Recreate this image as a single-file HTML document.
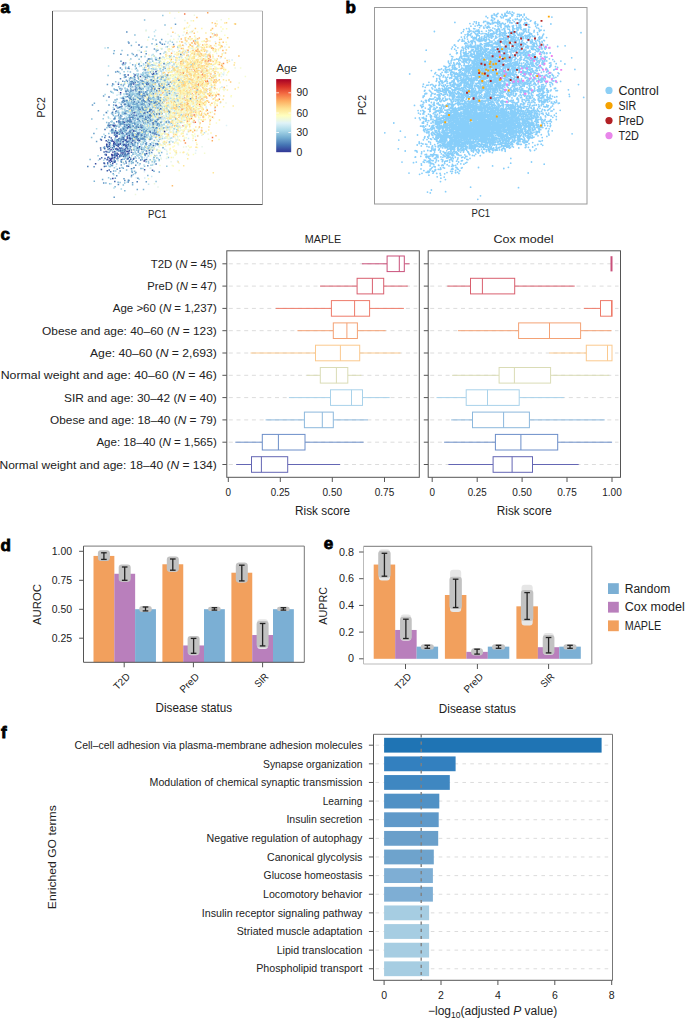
<!DOCTYPE html><html><head><meta charset="utf-8"><style>html,body{margin:0;padding:0;background:#fff;}svg{display:block;}</style></head><body><svg width="685" height="1020" viewBox="0 0 685 1020" font-family='"Liberation Sans", sans-serif' fill="#222"><rect width="685" height="1020" fill="#fff"/><text x="0.6" y="12.6" font-size="17" font-weight="bold" fill="#000" stroke="#000" stroke-width="0.8">a</text>
<text x="345.4" y="12.8" font-size="17" font-weight="bold" fill="#000" stroke="#000" stroke-width="0.8">b</text>
<text x="0.6" y="240.4" font-size="17" font-weight="bold" fill="#000" stroke="#000" stroke-width="0.8">c</text>
<text x="0.6" y="550.8" font-size="17" font-weight="bold" fill="#000" stroke="#000" stroke-width="0.8">d</text>
<text x="323.8" y="549.3" font-size="17" font-weight="bold" fill="#000" stroke="#000" stroke-width="0.8">e</text>
<text x="1.0" y="737.8" font-size="17" font-weight="bold" fill="#000" stroke="#000" stroke-width="0.8">f</text>
<path stroke="#fca45c" stroke-width="1.5" stroke-linecap="square" d="M180.3 72.4h0M213.4 69.1h0M176.3 57.7h0M200.9 85.7h0M197.5 49.7h0M208.8 73.2h0M197.7 135.8h0M207.7 12.7h0M215.4 80.9h0M208.5 81.7h0M195.1 74.3h0M184.2 76.9h0M182.4 63.7h0M191.0 75.1h0M185.4 99.9h0M212.3 95.6h0M188.6 83.5h0M196.3 98.2h0M186.9 32.9h0M188.7 105.7h0M188.3 105.4h0M175.0 113.8h0M171.1 101.3h0M189.0 79.0h0M180.8 65.6h0M188.5 69.0h0M221.5 65.6h0M166.7 100.8h0M202.0 55.0h0M183.5 84.4h0M174.8 68.2h0M187.8 96.1h0M198.2 62.0h0M203.2 117.1h0M187.2 102.8h0M195.7 71.4h0M192.1 93.4h0M189.8 87.7h0M183.6 108.6h0M194.7 94.8h0M186.1 78.8h0M178.8 84.4h0M183.6 130.7h0M217.0 35.1h0M195.6 43.8h0M199.3 80.6h0M189.2 107.5h0M190.4 110.8h0M187.6 99.4h0M197.9 73.2h0M219.6 62.5h0M193.5 103.7h0M174.1 46.5h0M212.6 117.2h0M183.0 52.8h0M194.1 94.8h0M179.8 88.2h0M210.3 120.0h0M199.3 64.9h0M210.7 46.0h0M207.4 80.4h0M196.3 60.5h0M155.3 94.1h0M188.1 77.7h0M207.5 40.7h0M208.2 58.8h0M190.8 110.8h0M183.0 52.1h0M164.3 112.1h0M190.3 45.0h0M194.5 92.0h0M161.9 74.4h0M187.6 81.8h0M208.1 55.0h0"/>
<path stroke="#eb5b3b" stroke-width="1.5" stroke-linecap="square" d="M191.6 101.9h0M184.9 51.6h0M212.1 48.2h0M176.2 111.6h0M204.4 90.8h0M184.2 97.7h0M194.1 69.1h0M193.0 63.9h0M180.3 75.3h0M183.2 125.7h0"/>
<path stroke="#f7864f" stroke-width="1.5" stroke-linecap="square" d="M194.7 70.0h0M176.9 81.1h0M189.7 69.5h0M196.9 102.0h0M215.1 110.5h0M189.4 79.9h0M204.7 92.5h0M207.5 71.1h0M210.2 60.8h0M198.9 67.2h0M202.2 77.4h0M192.6 88.8h0M214.4 76.6h0M205.9 76.7h0M215.0 34.9h0M177.9 93.4h0M223.5 63.5h0M187.4 92.3h0M169.4 55.7h0M216.0 95.8h0M191.6 109.9h0M200.1 56.3h0M218.7 94.4h0M196.5 89.2h0M219.3 99.3h0M202.5 84.1h0M193.6 41.1h0"/>
<path stroke="#de3f2e" stroke-width="1.5" stroke-linecap="square" d="M209.8 55.4h0M201.3 98.7h0M208.1 60.8h0"/>
<path stroke="#d83128" stroke-width="1.5" stroke-linecap="square" d="M182.3 92.1h0M174.4 94.8h0M197.2 91.9h0"/>
<path stroke="#dff2f8" stroke-width="1.5" stroke-linecap="square" d="M155.3 82.8h0M140.1 134.4h0M145.5 101.2h0M155.8 100.1h0M229.1 59.8h0M195.9 86.3h0M168.7 79.5h0M169.6 44.5h0M197.9 115.2h0M149.0 110.2h0M129.8 114.0h0M174.0 84.3h0M199.3 96.7h0M159.5 78.1h0M190.6 112.3h0M166.0 123.3h0M161.3 130.0h0M169.8 86.4h0M194.4 115.1h0M168.4 86.4h0M171.8 127.7h0M141.1 137.4h0M174.7 105.4h0M170.2 144.2h0M169.1 115.4h0M151.8 96.3h0M189.6 113.0h0M199.7 81.2h0M146.8 133.1h0M189.2 76.1h0M150.3 131.8h0M157.5 93.1h0M138.5 150.6h0M226.5 125.6h0M155.9 142.2h0M190.7 81.8h0M173.0 96.5h0M170.2 92.0h0M175.8 121.0h0M156.5 75.6h0M165.0 90.3h0M155.2 122.6h0M158.2 110.7h0M183.9 97.9h0M195.0 109.5h0M183.6 45.7h0M167.8 96.5h0M206.2 107.4h0M145.1 100.7h0M167.0 96.1h0M157.2 90.3h0M223.9 73.0h0M145.7 151.3h0M200.9 63.2h0M205.3 44.8h0M177.9 92.8h0M143.5 64.9h0M147.1 117.7h0M158.4 97.0h0M133.6 145.4h0M161.8 74.6h0M178.8 70.4h0M175.1 104.3h0M141.6 113.1h0M171.7 83.0h0M183.6 52.4h0M196.8 106.4h0M157.8 108.5h0M135.8 101.1h0M163.9 116.3h0M167.3 69.8h0M159.4 88.3h0M149.3 60.8h0M170.5 89.9h0M195.9 150.5h0M214.4 59.1h0M146.6 119.8h0M145.4 114.0h0M186.7 154.2h0M162.4 74.0h0M203.6 69.7h0M155.8 113.5h0M135.6 104.0h0M188.1 65.4h0M155.1 57.6h0M158.8 93.6h0M136.2 74.4h0M172.4 109.8h0M134.3 85.6h0M146.4 108.1h0M179.5 74.5h0M146.0 136.8h0M166.5 150.2h0M169.8 131.5h0M173.5 93.0h0M153.1 104.7h0M154.2 135.6h0M150.5 132.8h0M154.4 122.5h0M167.3 137.8h0M145.8 47.0h0M158.8 116.7h0M132.1 108.5h0M131.5 85.3h0M176.9 108.6h0M151.1 127.3h0M182.8 87.8h0M181.6 120.5h0M191.5 113.7h0M152.8 93.2h0M166.2 125.9h0M106.9 127.3h0M152.9 89.8h0M153.9 100.5h0M191.6 58.3h0M134.6 119.0h0M169.2 66.8h0M174.4 75.0h0M121.2 87.1h0M142.5 106.4h0M129.6 115.9h0M157.2 105.0h0M179.2 47.7h0M201.9 47.7h0M203.7 99.9h0M137.3 142.8h0M167.3 96.8h0M155.8 82.8h0M208.8 81.6h0M147.8 151.7h0M178.0 69.5h0M161.9 114.8h0M192.8 87.8h0M161.5 94.5h0M194.1 53.9h0M165.2 111.0h0M166.9 95.9h0M184.4 62.7h0M144.4 171.7h0M196.7 130.8h0M148.3 115.4h0M195.3 136.5h0M175.5 127.7h0M140.0 92.3h0M149.0 77.9h0M124.8 130.2h0M128.9 127.0h0M127.8 137.8h0M147.6 100.9h0M153.9 157.1h0M177.0 88.4h0M128.4 138.0h0M150.2 109.4h0M212.4 68.9h0M159.8 135.7h0M182.5 87.1h0M194.0 122.7h0M166.4 109.4h0M171.8 105.4h0M183.1 35.3h0M118.3 94.4h0M206.7 109.0h0M145.2 110.9h0M150.4 148.3h0M166.5 158.4h0M166.1 76.6h0M140.7 88.6h0M164.2 89.1h0M145.9 137.8h0M183.4 85.8h0M212.7 69.6h0M138.5 154.9h0M209.2 63.2h0M142.8 91.4h0M172.7 86.2h0M152.9 113.8h0M138.1 138.9h0M188.2 85.1h0M170.1 108.5h0M172.6 51.0h0M158.1 134.3h0M156.5 66.1h0M167.8 80.2h0M166.5 104.4h0M136.4 92.8h0M152.3 90.4h0M166.0 81.8h0M157.6 111.3h0M215.3 41.8h0M169.9 100.8h0M143.1 78.2h0M160.2 110.9h0M170.8 92.8h0M180.1 118.8h0M181.2 78.6h0M173.2 124.7h0M197.7 83.7h0M171.6 126.4h0M162.4 90.6h0M177.8 75.1h0M204.3 86.7h0M172.9 97.7h0M183.8 90.7h0M176.2 110.8h0M148.9 111.7h0M185.5 94.3h0M136.2 177.7h0M176.7 95.4h0M151.3 79.7h0M168.9 90.7h0M185.9 104.4h0M145.5 150.0h0M143.9 148.0h0M174.7 18.2h0M167.4 98.5h0M170.3 101.0h0M196.3 60.4h0M177.8 127.6h0M150.9 85.6h0M137.2 81.3h0M201.3 57.9h0M176.2 114.8h0M118.7 102.8h0M175.0 129.3h0M150.3 117.9h0M180.9 98.4h0M160.4 113.5h0M169.6 93.4h0M188.4 104.8h0M144.5 87.3h0M129.4 160.7h0M143.5 95.2h0M153.1 131.9h0M126.8 142.1h0M161.7 138.8h0M178.4 144.7h0M128.8 85.9h0M143.9 75.7h0M202.1 79.1h0M157.1 70.9h0M158.4 80.3h0M171.4 59.2h0M164.5 68.4h0M169.5 118.8h0M156.7 142.4h0M184.8 71.4h0M151.2 132.8h0M158.9 122.8h0M180.7 77.7h0M210.6 92.4h0M177.9 97.8h0M155.4 112.5h0M163.7 98.0h0M159.2 67.8h0M197.0 64.4h0M151.7 58.6h0M134.5 119.2h0M133.1 150.1h0M185.2 75.0h0M131.9 103.0h0M153.0 101.0h0M197.5 66.8h0M156.5 103.4h0M169.8 97.2h0M164.6 92.3h0M145.8 127.2h0M178.7 104.4h0M168.9 102.6h0M124.5 94.7h0M183.9 95.3h0M211.6 97.0h0M166.0 142.9h0M169.7 98.6h0M174.4 81.5h0M166.5 122.6h0M201.5 60.0h0M186.6 77.1h0M148.9 141.6h0M159.8 82.7h0M175.0 118.3h0"/>
<path stroke="#4676b5" stroke-width="1.5" stroke-linecap="square" d="M133.7 110.5h0M128.9 43.1h0M147.9 97.1h0M130.8 97.8h0M147.9 84.8h0M156.7 98.0h0M150.6 84.7h0M135.4 107.8h0M137.2 148.3h0M151.1 82.1h0M124.9 154.5h0M152.6 150.1h0M107.7 162.7h0M140.7 159.9h0M114.7 156.2h0M144.6 129.2h0M139.4 92.5h0M107.1 151.9h0M128.2 182.1h0M117.8 145.4h0M141.6 116.6h0M135.1 146.1h0M157.0 125.6h0M130.9 114.1h0M112.6 147.8h0M151.2 94.1h0M133.0 116.9h0M119.0 144.9h0M114.6 162.2h0M148.2 101.1h0M136.0 134.1h0M154.2 126.1h0M124.9 110.1h0M167.6 127.6h0M127.5 90.6h0M120.9 156.1h0M128.3 158.7h0M120.5 154.7h0M151.7 152.5h0M129.9 106.1h0M109.0 146.3h0M143.6 81.6h0M137.2 181.8h0M128.5 166.3h0M132.0 96.3h0M154.3 127.1h0M146.0 83.3h0M114.2 160.1h0M120.6 150.3h0M119.7 137.9h0M135.4 82.8h0M115.8 111.8h0M145.1 82.3h0M156.1 164.0h0M133.5 137.1h0M125.9 91.2h0M131.7 102.1h0M116.6 148.4h0M140.3 95.7h0M126.9 166.1h0M141.2 134.9h0M107.7 147.5h0M129.6 100.4h0M151.3 120.8h0M105.9 166.2h0M133.1 135.6h0M123.0 119.4h0M148.2 131.5h0M139.5 98.8h0M121.2 161.3h0M145.0 160.0h0M136.3 118.4h0M105.0 129.5h0M123.4 133.2h0M159.0 123.3h0M124.8 77.3h0M104.8 137.6h0M145.6 91.9h0M136.9 139.7h0M154.3 130.4h0M121.8 149.3h0M146.5 159.4h0M117.2 136.6h0M127.3 96.6h0M174.3 102.0h0M132.6 129.4h0M115.3 161.1h0M138.4 100.9h0M140.8 81.8h0M144.0 93.6h0M107.7 163.7h0M112.7 84.0h0M131.9 83.2h0M131.6 121.5h0M110.3 162.4h0M110.5 150.7h0M129.2 161.4h0M126.2 162.9h0M110.7 171.7h0M117.1 158.7h0M165.1 99.4h0M160.1 122.4h0M146.3 144.2h0M144.6 107.9h0M108.0 141.8h0M150.3 119.7h0M133.4 159.2h0M144.3 96.1h0M152.9 120.2h0M136.3 126.4h0M135.1 118.3h0M137.7 139.4h0M131.2 123.1h0M125.3 148.4h0M116.7 121.7h0M174.0 100.8h0M153.6 86.5h0M176.4 106.0h0M161.4 77.7h0"/>
<path stroke="#cd2627" stroke-width="1.5" stroke-linecap="square" d="M198.3 77.1h0"/>
<path stroke="#669cc8" stroke-width="1.5" stroke-linecap="square" d="M129.3 109.5h0M154.8 156.0h0M143.8 116.4h0M112.6 114.1h0M133.2 152.7h0M132.9 118.1h0M137.4 122.2h0M133.5 131.0h0M150.4 121.1h0M140.3 98.5h0M131.9 126.1h0M148.5 112.1h0M130.5 117.4h0M120.4 118.6h0M133.9 130.0h0M144.2 104.8h0M112.0 133.1h0M140.4 135.7h0M146.5 103.6h0M141.3 52.2h0M154.9 111.1h0M124.3 98.9h0M116.7 140.0h0M151.9 109.1h0M145.3 155.4h0M136.9 104.9h0M134.0 103.2h0M135.6 123.9h0M136.8 150.0h0M143.3 129.7h0M181.1 103.7h0M158.2 88.3h0M137.8 110.5h0M161.3 105.7h0M145.8 75.8h0M122.5 64.2h0M166.1 95.0h0M151.3 134.4h0M132.2 116.0h0M150.1 131.7h0M152.9 120.2h0M175.1 94.5h0M142.8 121.0h0M150.0 120.4h0M103.6 96.0h0M148.5 129.7h0M142.6 89.6h0M144.3 85.2h0M127.0 118.6h0M133.6 98.8h0M123.3 119.1h0M137.9 156.2h0M151.4 120.4h0M141.5 149.3h0M115.7 72.1h0M136.1 109.5h0M122.9 137.4h0M121.2 104.3h0M129.7 78.4h0M159.4 58.7h0M117.2 169.3h0M121.7 156.2h0M154.0 106.5h0M146.5 142.7h0M126.9 89.0h0M129.4 134.7h0M152.5 92.4h0M121.9 89.1h0M133.4 119.3h0M147.8 94.8h0M151.9 108.8h0M127.0 106.3h0M153.6 125.4h0M156.2 96.8h0M124.0 178.8h0M146.5 109.1h0M139.2 88.9h0M135.1 124.8h0M122.3 128.8h0M133.5 127.4h0M153.4 106.1h0M157.8 97.1h0M139.3 147.8h0M118.3 111.9h0M153.8 124.8h0M138.3 105.1h0M145.3 147.2h0M156.9 113.8h0M148.1 103.0h0M120.3 132.7h0M114.7 161.0h0M92.5 104.9h0M129.4 137.9h0M130.5 119.9h0M119.9 138.7h0M139.3 83.8h0M143.0 103.0h0M135.1 102.0h0M132.6 182.8h0M173.6 44.5h0M134.0 108.9h0M144.9 94.0h0M125.3 153.1h0M137.6 107.2h0M135.5 140.6h0M125.8 96.9h0M128.5 86.5h0M120.5 117.3h0M139.2 141.4h0M116.7 132.3h0M133.1 126.2h0M123.4 139.5h0M115.9 105.4h0M110.3 143.2h0M123.4 85.2h0M142.0 131.4h0M121.9 151.7h0M133.6 123.2h0M114.2 197.3h0M132.2 172.2h0M134.8 77.4h0M130.1 108.8h0M158.5 141.3h0M137.9 125.0h0M135.9 172.6h0M152.5 110.3h0M157.8 50.2h0M130.0 92.3h0M119.4 124.1h0M144.5 86.8h0M149.0 103.3h0M148.0 64.0h0M152.8 147.3h0M121.3 165.0h0M115.3 178.2h0M122.8 81.3h0M154.4 49.0h0M145.8 72.6h0M131.9 106.8h0M131.4 90.9h0M146.3 181.7h0M147.4 123.7h0M125.1 88.2h0M146.4 126.0h0M141.3 117.4h0M163.1 69.8h0M154.6 125.7h0M136.3 68.2h0M125.7 156.8h0M131.0 128.4h0M129.8 117.0h0M140.0 133.1h0M125.8 161.3h0M149.9 102.9h0M105.4 135.8h0M129.9 92.8h0M118.8 122.5h0M162.5 87.3h0M141.1 112.2h0M137.7 126.5h0M134.7 145.4h0M131.7 138.5h0M100.6 139.2h0M119.0 126.9h0M122.9 145.6h0M117.1 125.8h0M159.2 106.3h0M138.6 126.8h0M151.6 87.2h0M118.3 115.8h0M144.5 97.0h0M121.5 148.6h0M145.2 111.0h0M154.8 126.4h0M175.5 24.3h0M131.6 81.6h0M174.7 79.8h0M134.9 139.0h0M128.0 145.2h0M130.4 129.6h0M147.2 124.3h0M96.6 141.5h0M140.6 111.6h0M130.9 143.8h0M116.1 141.3h0M154.3 74.4h0M161.9 103.8h0M98.4 110.7h0M156.0 120.5h0M130.7 88.0h0M141.8 126.0h0M160.1 122.5h0M152.4 147.6h0M151.5 113.8h0M141.4 138.8h0M150.3 95.7h0M156.6 44.2h0M145.0 130.9h0M157.3 73.8h0M123.2 141.3h0M128.6 138.6h0M165.1 68.2h0M142.3 107.7h0M160.7 87.6h0M111.7 165.4h0M147.3 60.9h0M143.7 126.4h0M113.7 104.9h0M132.6 87.1h0M112.2 132.5h0M149.3 93.8h0M145.8 101.0h0M120.9 106.7h0M149.4 152.7h0M130.4 92.5h0M115.7 134.3h0M153.1 133.6h0M143.1 128.1h0M130.8 89.2h0M137.8 156.0h0M153.4 123.8h0M164.8 128.0h0M121.0 61.2h0M93.9 133.6h0M132.7 126.9h0M145.0 108.2h0M114.9 89.7h0M127.3 148.1h0M143.1 113.3h0M109.0 104.9h0M114.6 153.2h0M121.4 162.2h0M140.0 153.6h0M136.5 92.0h0M155.7 137.4h0M152.0 65.0h0M150.7 145.3h0M156.1 122.4h0M142.3 97.9h0M132.4 78.4h0M149.8 118.8h0M107.4 84.6h0M152.7 119.9h0M159.6 96.9h0M140.2 120.1h0M129.1 138.7h0M133.2 115.7h0M134.8 122.7h0M127.0 118.4h0M135.0 141.1h0M147.5 107.8h0"/>
<path stroke="#96c8e0" stroke-width="1.5" stroke-linecap="square" d="M139.8 108.5h0M148.7 68.5h0M140.9 98.6h0M151.9 136.5h0M150.2 109.5h0M136.8 122.7h0M133.6 108.0h0M117.9 132.2h0M103.2 118.7h0M126.9 134.3h0M187.9 95.4h0M126.8 121.2h0M159.2 62.5h0M136.8 114.9h0M154.9 102.9h0M138.5 127.3h0M150.0 77.0h0M145.3 94.4h0M157.4 93.9h0M124.1 128.5h0M145.2 73.4h0M136.8 132.2h0M132.8 99.0h0M154.1 111.6h0M103.8 114.9h0M136.2 126.8h0M118.6 82.4h0M151.4 68.8h0M132.6 92.0h0M143.4 82.6h0M135.5 65.1h0M152.5 105.0h0M114.4 167.8h0M139.4 116.6h0M137.8 122.2h0M129.4 108.2h0M149.6 62.8h0M133.6 91.0h0M176.5 131.9h0M142.6 112.6h0M154.4 75.9h0M125.1 132.2h0M179.1 107.9h0M146.5 93.7h0M158.7 103.9h0M172.4 42.2h0M141.6 106.9h0M162.8 15.5h0M145.9 114.3h0M145.9 144.5h0M159.5 119.0h0M145.3 143.6h0M169.8 122.8h0M121.3 139.4h0M115.7 81.8h0M175.7 78.0h0M152.6 89.9h0M117.1 132.6h0M138.1 107.2h0M128.2 104.0h0M154.4 162.2h0M137.4 119.6h0M151.8 119.1h0M157.4 70.7h0M142.8 144.2h0M133.3 145.6h0M141.6 109.6h0M133.8 123.0h0M127.9 114.7h0M145.0 85.0h0M130.4 91.1h0M170.4 88.3h0M147.7 131.2h0M176.4 81.8h0M120.3 73.4h0M131.7 155.7h0M137.7 70.9h0M156.0 92.5h0M170.9 75.3h0M148.8 98.3h0M122.0 50.4h0M117.7 141.8h0M139.6 93.1h0M127.8 154.3h0M122.4 155.9h0M123.0 150.2h0M143.6 120.6h0M139.3 102.5h0M147.8 115.6h0M144.1 128.5h0M147.4 120.5h0M135.6 118.4h0M137.7 115.2h0M124.3 163.9h0M154.1 102.6h0M153.7 120.7h0M134.7 141.7h0M141.3 106.5h0M138.4 124.3h0M171.9 90.3h0M117.1 112.5h0M160.9 112.3h0M148.9 107.0h0M139.3 126.1h0M169.5 92.2h0M155.0 64.9h0M130.7 91.5h0M148.8 83.7h0M121.3 121.8h0M158.9 110.5h0M108.6 177.8h0M135.6 75.6h0M153.1 97.2h0M115.1 138.3h0M151.0 165.2h0M141.1 122.5h0M148.3 87.3h0M135.0 111.4h0M142.7 93.0h0M122.9 143.6h0M152.8 61.2h0M117.4 154.7h0M141.0 144.3h0M149.3 99.5h0M147.5 83.3h0M141.7 104.0h0M117.0 131.7h0M159.3 87.8h0M156.5 69.0h0M116.6 164.0h0M156.7 82.6h0M132.1 94.5h0M152.2 59.6h0M144.6 67.4h0M164.6 111.6h0M143.5 83.7h0M138.0 88.8h0M161.7 121.8h0M150.0 111.5h0M115.7 171.1h0M139.2 148.5h0M144.7 146.2h0M145.1 72.4h0M126.8 127.1h0M141.4 100.4h0M148.4 161.4h0M144.5 113.1h0M139.0 155.0h0M122.9 135.8h0M121.9 118.9h0M135.5 152.5h0M159.3 104.6h0M131.1 137.1h0M141.3 112.0h0M155.3 83.5h0M144.3 116.3h0M128.0 132.6h0M139.1 96.6h0M144.9 93.2h0M144.1 69.3h0M135.3 66.4h0M123.4 112.2h0M126.5 125.2h0M166.8 166.3h0M129.7 121.5h0M137.2 89.3h0M151.9 134.3h0M141.1 104.8h0M122.7 134.1h0M152.6 87.7h0M148.3 148.7h0M133.8 81.1h0M140.5 155.3h0M154.1 95.5h0M131.4 176.8h0M151.9 113.7h0M149.0 138.9h0M161.2 109.7h0M130.4 93.2h0M139.1 88.5h0M127.9 137.8h0M146.5 116.0h0M167.1 106.1h0M168.6 68.4h0M125.3 132.3h0M151.4 102.2h0M145.8 128.5h0M132.7 137.1h0M133.7 73.8h0M137.8 121.4h0M143.3 69.4h0M158.1 60.2h0M120.1 182.4h0M141.2 114.1h0M123.6 127.6h0M153.9 96.7h0M169.1 93.3h0M114.8 131.4h0M148.0 59.3h0M142.9 99.4h0M147.0 146.7h0M132.3 126.9h0M179.1 85.1h0M141.6 135.9h0M144.6 120.4h0M138.5 101.2h0M161.0 80.1h0M116.8 150.8h0M144.4 135.2h0M174.1 98.4h0M124.9 122.4h0M124.9 140.7h0M156.4 107.1h0M142.8 114.5h0M154.0 102.2h0M127.8 133.6h0M175.5 82.2h0M146.4 75.9h0M137.3 118.7h0M156.8 106.9h0M119.1 112.9h0M136.6 130.0h0M177.4 97.5h0M121.3 118.7h0M144.7 127.4h0M141.7 106.8h0M98.1 155.8h0M128.1 138.3h0M171.6 101.7h0M161.5 91.3h0M140.1 117.4h0M156.5 51.6h0M138.3 74.2h0M167.0 117.5h0M165.0 94.1h0M155.5 100.6h0M136.7 94.3h0M144.9 136.4h0M133.6 99.4h0M124.1 108.7h0M156.2 122.6h0M168.4 157.5h0M138.3 74.1h0M123.1 128.8h0M147.5 89.1h0M141.1 156.2h0M144.4 102.0h0M106.9 127.7h0M134.0 110.8h0M116.4 133.9h0M161.1 71.3h0M125.7 129.0h0M147.1 137.6h0M149.7 112.8h0M148.3 120.7h0M147.7 82.2h0M119.7 134.3h0M158.1 66.2h0M128.8 66.7h0M136.7 112.9h0M147.1 114.2h0M136.5 115.2h0M138.1 82.4h0M145.2 111.4h0M162.2 106.4h0M172.5 125.2h0M168.8 70.2h0M125.6 67.3h0M154.3 128.0h0M159.9 90.6h0M149.6 119.9h0M134.8 147.0h0M139.3 121.6h0M177.7 123.0h0M165.1 106.8h0M130.1 123.5h0M127.5 144.7h0M151.5 119.8h0M142.3 110.3h0M120.1 123.6h0M140.3 127.0h0M156.8 82.1h0M141.8 111.2h0M149.9 89.9h0M131.6 103.0h0M139.3 63.5h0M150.5 122.8h0M139.1 112.0h0M130.0 90.6h0M127.7 108.1h0M136.9 155.6h0M124.1 71.7h0M124.2 131.4h0M162.1 108.3h0M136.4 128.6h0M161.0 107.1h0M165.4 88.3h0M133.1 94.2h0M137.6 119.2h0M129.1 135.3h0M145.8 103.0h0"/>
<path stroke="#f57748" stroke-width="1.5" stroke-linecap="square" d="M188.4 87.6h0M197.2 79.0h0M189.3 91.2h0M193.1 122.1h0M179.3 102.7h0M211.9 77.7h0M201.6 130.6h0M199.0 94.5h0M192.4 46.4h0M197.2 92.6h0M195.2 43.6h0M154.6 108.2h0M212.5 137.6h0M184.7 13.9h0M209.9 93.3h0M191.5 118.5h0M207.5 81.7h0M194.3 88.3h0M202.3 66.2h0M180.1 79.6h0M183.6 114.2h0"/>
<path stroke="#fec87a" stroke-width="1.5" stroke-linecap="square" d="M194.3 81.2h0M198.2 60.7h0M221.0 68.5h0M174.8 89.2h0M157.4 103.0h0M211.9 103.2h0M188.8 103.6h0M192.0 58.4h0M186.5 65.2h0M173.6 76.1h0M193.0 61.1h0M187.3 119.3h0M169.8 129.5h0M215.1 107.4h0M182.4 65.6h0M192.0 102.2h0M175.1 115.7h0M193.6 111.5h0M222.2 67.9h0M195.4 91.5h0M216.0 135.7h0M169.6 68.4h0M193.4 88.0h0M206.8 44.6h0M204.6 85.8h0M227.1 60.5h0M173.2 107.2h0M200.1 123.0h0M183.2 136.2h0M198.0 74.0h0M194.9 91.9h0M172.4 99.9h0M168.5 103.0h0M178.2 89.6h0M169.9 102.7h0M203.4 116.2h0M205.8 101.8h0M215.6 51.3h0M211.5 47.8h0M219.3 79.8h0M206.8 62.1h0M168.4 72.7h0M178.6 62.7h0M192.1 31.6h0M187.8 110.7h0M201.3 50.3h0M182.5 77.3h0M183.7 96.2h0M207.9 93.7h0M223.2 42.2h0M203.3 92.5h0M185.4 39.9h0M204.5 51.3h0M201.4 81.1h0M191.8 81.7h0M199.9 84.0h0M195.2 88.0h0M192.1 67.0h0M175.5 125.1h0M199.0 70.8h0M198.0 68.3h0M238.9 56.0h0M184.6 81.9h0M173.3 81.7h0M197.5 82.4h0M203.2 78.7h0M206.1 75.7h0M199.2 76.9h0M204.9 62.7h0M193.9 112.4h0M188.8 101.0h0M209.4 72.4h0M175.0 95.0h0M211.5 87.4h0M215.2 23.4h0M205.8 76.7h0M192.7 64.6h0M182.7 96.9h0M206.1 41.8h0M205.3 104.5h0M217.0 81.0h0M218.6 56.1h0M189.8 63.8h0M183.8 82.9h0M164.2 130.9h0M214.5 87.5h0M187.5 62.5h0M195.7 69.2h0M197.8 42.0h0M198.5 93.2h0M173.7 134.3h0M204.4 67.7h0M190.3 108.0h0M205.4 78.2h0M160.8 126.3h0M230.6 82.0h0M194.6 77.3h0M197.1 103.3h0M215.8 43.4h0M200.1 102.8h0M200.0 96.0h0M181.2 94.9h0M199.3 38.1h0M195.2 91.2h0M195.8 99.0h0M200.1 71.4h0M186.7 67.6h0M196.8 84.3h0M182.8 114.7h0M166.8 75.4h0M225.5 53.1h0M184.0 112.4h0M173.5 112.8h0M191.6 61.9h0M194.3 33.2h0M209.3 78.4h0M163.9 66.8h0M193.0 62.7h0M173.4 106.1h0M191.5 115.5h0M192.9 84.4h0M185.5 75.3h0M191.7 83.6h0M172.9 32.3h0M216.0 100.3h0"/>
<path stroke="#7db4d5" stroke-width="1.5" stroke-linecap="square" d="M121.1 90.3h0M149.4 107.0h0M141.8 98.9h0M147.8 128.7h0M133.4 106.0h0M134.9 81.2h0M137.7 144.9h0M126.4 110.9h0M142.9 97.0h0M177.9 47.1h0M138.6 148.1h0M143.3 106.0h0M161.4 134.9h0M152.3 92.7h0M145.3 115.6h0M166.3 137.5h0M168.1 119.9h0M120.9 124.6h0M136.6 80.7h0M157.5 107.9h0M150.6 130.4h0M147.6 84.6h0M147.6 75.2h0M137.5 118.6h0M114.3 50.8h0M150.5 145.2h0M147.2 118.2h0M121.5 139.5h0M161.9 125.5h0M131.9 132.5h0M134.2 121.1h0M121.3 123.8h0M131.4 124.5h0M157.1 105.0h0M139.4 82.8h0M176.7 104.5h0M149.7 92.1h0M124.8 190.7h0M103.6 147.7h0M115.0 151.9h0M110.6 164.8h0M114.1 89.1h0M140.5 102.2h0M128.8 155.2h0M129.4 114.7h0M145.0 108.3h0M128.8 97.2h0M163.5 67.1h0M129.9 106.2h0M144.2 140.0h0M134.0 107.7h0M162.7 99.3h0M141.7 77.7h0M104.5 148.1h0M146.0 93.5h0M155.7 106.0h0M131.2 126.1h0M127.2 117.7h0M145.2 114.8h0M117.4 139.7h0M136.9 128.8h0M156.4 99.7h0M152.8 99.7h0M142.4 111.5h0M136.9 97.3h0M114.7 118.9h0M152.7 107.9h0M152.7 132.6h0M128.6 143.6h0M147.3 124.8h0M121.3 155.4h0M129.9 121.3h0M143.7 104.0h0M129.5 115.7h0M159.9 139.3h0M114.4 157.5h0M138.9 79.3h0M137.0 90.0h0M148.8 98.1h0M123.6 98.6h0M150.9 79.5h0M151.6 99.0h0M143.2 142.8h0M130.4 148.8h0M153.8 103.2h0M158.8 126.4h0M128.7 111.8h0M149.0 145.8h0M151.9 147.2h0M140.1 163.7h0M123.8 100.7h0M156.8 114.2h0M143.1 83.7h0M136.3 108.2h0M142.5 99.2h0M160.4 107.2h0M122.0 136.3h0M121.0 150.0h0M160.9 99.8h0M145.4 141.3h0M148.4 84.3h0M136.4 117.1h0M140.3 121.9h0M138.6 82.0h0M146.2 146.2h0M156.9 149.8h0M121.9 98.2h0M159.3 126.2h0M138.0 102.0h0M148.3 96.5h0M115.2 116.8h0M141.2 116.2h0M113.4 131.1h0M124.2 126.6h0M147.3 87.9h0M166.7 108.7h0M161.7 152.4h0M152.7 112.8h0M151.3 102.7h0M148.4 156.0h0M112.2 157.6h0M134.4 139.6h0M142.0 157.8h0M149.4 76.5h0M167.1 82.0h0M152.9 88.5h0M142.3 116.6h0M131.7 89.7h0M150.9 146.1h0M165.4 76.0h0M124.8 81.7h0M156.3 49.9h0M143.4 140.9h0M128.1 133.5h0M150.1 121.6h0M105.9 183.0h0M147.1 106.4h0M141.6 111.5h0M118.1 182.2h0M134.9 103.5h0M133.7 133.9h0M183.7 71.9h0M125.7 68.5h0M146.7 132.8h0M129.6 136.4h0M114.3 123.2h0M134.3 111.3h0M131.6 84.6h0M138.9 113.7h0M142.2 128.0h0M136.7 117.7h0M148.1 113.2h0M167.7 78.4h0M167.3 46.7h0M151.1 135.0h0M141.1 98.5h0M141.9 108.1h0M143.2 110.4h0M153.2 95.5h0M148.6 113.0h0M130.4 103.4h0M139.1 157.9h0M156.6 107.0h0M153.6 80.2h0M129.3 84.2h0M147.8 175.6h0M167.7 75.7h0M120.0 119.1h0M122.7 113.8h0M147.9 127.9h0M132.6 184.7h0M152.1 84.8h0M156.1 110.5h0M141.6 156.9h0M141.5 135.7h0M140.6 120.8h0M141.2 99.6h0M121.3 151.4h0M156.0 120.8h0M142.7 113.9h0M128.2 153.6h0M136.4 104.3h0M159.7 84.1h0M136.0 96.6h0M120.5 94.6h0M151.7 95.5h0M146.0 86.7h0M152.4 117.5h0M148.0 88.9h0M153.2 71.6h0M136.3 127.9h0M125.2 100.6h0M136.9 126.4h0M135.8 106.6h0M137.3 133.9h0M130.9 126.8h0M163.6 142.2h0M124.6 152.8h0M142.5 152.9h0M144.8 155.1h0M124.2 123.4h0M94.3 181.3h0M146.8 130.9h0M90.1 159.6h0M131.6 95.8h0M140.2 137.5h0M156.3 96.6h0M143.5 189.5h0M148.7 81.7h0M146.1 94.0h0M132.4 95.2h0M132.3 140.0h0M126.2 104.0h0M157.3 78.5h0M119.2 143.0h0M135.8 91.5h0M149.5 97.5h0M120.5 142.5h0M142.4 75.4h0M143.5 91.5h0M174.4 70.0h0M150.8 95.2h0M125.3 74.7h0M143.3 104.2h0M130.5 103.1h0M147.1 103.8h0M148.3 133.8h0M131.1 95.7h0M169.5 62.7h0M142.3 159.6h0M153.5 122.9h0M120.1 125.7h0M140.0 127.0h0M139.3 116.4h0M124.5 84.1h0M152.4 103.3h0M152.6 113.4h0M141.2 125.1h0M138.3 135.2h0M138.5 140.8h0M135.7 102.2h0M135.7 118.6h0M114.9 126.5h0M114.4 145.6h0M132.6 144.7h0M108.3 124.6h0M143.1 115.8h0M108.4 124.8h0M141.8 125.0h0M154.0 56.1h0M125.5 146.7h0M135.9 102.9h0M128.8 122.2h0M150.7 112.8h0M144.0 141.4h0M124.9 130.6h0M136.9 125.2h0M111.9 130.3h0M133.1 97.4h0M144.9 123.4h0M125.6 143.9h0M151.6 97.8h0M141.8 147.6h0M147.7 114.5h0M133.2 117.5h0M153.7 112.9h0M117.0 141.7h0M134.0 115.0h0M156.9 158.0h0M122.3 130.6h0M119.2 118.1h0M169.8 113.6h0M154.9 87.6h0M169.4 141.9h0M124.5 140.1h0M146.9 74.3h0M115.8 115.9h0M131.9 110.7h0M136.3 137.5h0M123.3 162.5h0M127.0 120.4h0M154.5 98.0h0M133.9 127.8h0M138.9 112.1h0M160.0 81.7h0M137.9 109.2h0M124.4 152.7h0M145.7 69.8h0M130.3 115.9h0M143.0 72.8h0M129.4 80.1h0M117.6 141.0h0M131.4 45.5h0M154.1 129.1h0M115.1 186.8h0M134.8 106.8h0M166.9 85.2h0M135.9 101.9h0M102.2 136.8h0M163.4 102.0h0M135.4 56.3h0M130.1 102.6h0M138.3 119.5h0M118.9 131.5h0M144.1 126.3h0M126.8 122.8h0M113.4 115.5h0M141.4 65.7h0M114.9 140.0h0M120.7 115.4h0"/>
<path stroke="#fffbba" stroke-width="1.5" stroke-linecap="square" d="M156.8 102.4h0M170.2 108.9h0M186.3 74.9h0M191.2 147.0h0M231.3 95.8h0M198.0 106.2h0M222.9 28.9h0M198.7 87.1h0M200.0 57.0h0M170.6 114.9h0M196.8 47.4h0M198.0 67.5h0M165.5 87.1h0M178.3 69.9h0M164.1 89.5h0M191.1 93.0h0M183.8 104.2h0M161.4 129.0h0M145.5 77.1h0M207.8 73.6h0M198.2 85.1h0M171.7 120.6h0M194.5 129.4h0M151.2 148.9h0M157.0 115.2h0M141.9 88.4h0M181.8 85.4h0M189.3 87.3h0M205.0 88.7h0M167.4 105.9h0M188.6 27.1h0M138.3 133.6h0M157.8 140.1h0M191.4 130.6h0M183.3 119.0h0M175.2 116.6h0M186.4 88.4h0M179.0 87.2h0M187.8 99.2h0M192.9 135.7h0M197.0 112.6h0M208.6 117.7h0M187.2 93.9h0M165.0 105.8h0M141.6 141.8h0M169.8 93.2h0M160.9 61.6h0M167.6 77.5h0M190.1 82.8h0M203.8 80.4h0M216.7 68.1h0M181.3 103.4h0M159.9 67.7h0M179.6 121.4h0M174.2 69.5h0M191.9 53.6h0M188.8 68.9h0M188.4 88.8h0M209.5 94.1h0M152.7 107.5h0M177.4 105.3h0M166.4 113.7h0M156.0 127.7h0M198.3 88.1h0M164.8 131.7h0M175.7 114.2h0M189.9 147.4h0M200.4 97.1h0M147.5 81.4h0M178.6 98.2h0M173.5 115.4h0M187.3 82.8h0M163.3 120.5h0M220.0 64.0h0M169.9 66.3h0M199.8 50.7h0M178.8 67.3h0M204.7 44.3h0M132.2 134.3h0M156.7 63.3h0M203.1 86.1h0M178.1 110.8h0M178.0 115.6h0M174.9 90.4h0M189.6 106.0h0M168.0 110.1h0M188.5 100.3h0M191.1 82.4h0M193.1 57.5h0M196.8 62.2h0M180.0 102.9h0M200.8 98.2h0M178.9 116.0h0M178.2 99.0h0M178.5 107.6h0M163.3 105.3h0M174.8 95.1h0M193.7 49.1h0M158.4 151.8h0M173.3 94.4h0M154.9 80.6h0M203.9 67.3h0M157.9 150.0h0M196.5 61.1h0M158.9 67.0h0M176.2 93.5h0M143.3 104.0h0M180.9 65.4h0M196.4 53.5h0M188.2 80.2h0M149.4 112.7h0M175.2 88.2h0M198.4 62.9h0M167.7 117.8h0M193.6 101.8h0M154.6 156.8h0M135.8 129.5h0M174.2 89.9h0M194.5 58.6h0M185.4 74.0h0M206.3 85.4h0M150.7 100.1h0M188.7 130.0h0M195.7 55.0h0M180.6 100.9h0M184.6 93.2h0M165.0 75.0h0M202.3 51.5h0M142.1 130.7h0M218.9 62.0h0M211.0 83.6h0M172.7 89.3h0M180.5 84.6h0M216.6 92.3h0M174.5 84.4h0M185.0 117.2h0M171.3 97.8h0M214.5 105.0h0M168.0 58.6h0M162.9 73.8h0M188.2 113.6h0M193.4 87.1h0M168.8 69.2h0M142.4 113.9h0M197.9 62.2h0M160.5 132.7h0M156.5 139.0h0M186.4 69.6h0M202.5 105.1h0M197.3 91.3h0M197.5 81.0h0M171.3 97.1h0M168.1 48.9h0M163.8 133.3h0M173.9 128.9h0M226.2 42.2h0M192.1 79.7h0M139.8 79.9h0M193.5 135.9h0M178.8 90.4h0M158.8 77.9h0M160.5 83.5h0M190.4 93.8h0M194.5 55.8h0M227.6 72.7h0M220.0 48.6h0M144.8 103.1h0M199.5 75.4h0M161.1 115.7h0M203.3 79.1h0M199.8 55.2h0M181.5 110.1h0M195.2 75.4h0M185.0 61.4h0M207.8 66.7h0M171.3 116.4h0M169.8 13.0h0M187.2 30.7h0M196.5 68.2h0M197.7 59.2h0M176.5 86.0h0M174.5 109.5h0M189.6 127.6h0M182.3 107.6h0M158.3 89.2h0M193.9 109.0h0M178.8 76.0h0M169.6 118.9h0M197.0 88.9h0M180.9 114.7h0M181.5 85.5h0M190.8 57.9h0M189.4 74.1h0M202.0 51.4h0M171.7 74.9h0M193.2 103.7h0M198.2 57.5h0M148.5 178.8h0M167.9 71.0h0M187.8 122.7h0M173.3 166.0h0M219.0 139.4h0M183.7 78.9h0M201.2 57.9h0M213.6 75.5h0M218.5 50.5h0M217.8 72.3h0M204.3 103.7h0M219.5 37.6h0M166.9 74.7h0M204.2 97.2h0M175.7 103.4h0M173.0 146.9h0M220.2 82.7h0M185.4 103.9h0M193.9 62.8h0M212.7 49.0h0M175.2 62.7h0M187.8 87.7h0M185.1 102.3h0M161.3 100.1h0M154.6 120.0h0M206.7 100.7h0M161.1 87.1h0M182.6 65.1h0M174.9 92.2h0M176.8 113.8h0M168.0 97.5h0M176.6 74.6h0M167.7 119.1h0M199.3 90.7h0M176.6 108.6h0M165.6 107.7h0M144.9 116.7h0M167.2 109.8h0M175.0 81.2h0M182.9 65.8h0M164.1 109.0h0M173.9 64.6h0M190.7 123.7h0M181.3 99.1h0M197.3 77.8h0M169.5 79.2h0M147.6 62.7h0M196.6 110.7h0M186.2 41.8h0M202.9 102.5h0M210.3 82.5h0M192.2 45.8h0M162.7 111.8h0M170.0 91.4h0M188.4 91.2h0M205.1 85.4h0M173.4 97.5h0M142.1 149.4h0M195.1 78.1h0M138.5 127.9h0M211.5 71.4h0M183.2 80.2h0M182.5 101.2h0M186.2 37.5h0M188.3 59.2h0M171.6 101.9h0M184.0 122.6h0M188.8 83.7h0M217.2 100.9h0M189.4 125.0h0M200.7 60.9h0M180.7 91.5h0M217.2 88.9h0M135.6 111.5h0M144.5 95.6h0M161.1 117.8h0M187.1 120.0h0M188.5 124.5h0M170.1 153.2h0M184.0 72.2h0M204.1 46.3h0M193.5 67.8h0M191.1 76.6h0M159.8 136.6h0M169.2 75.6h0M203.0 99.8h0M188.3 47.3h0M213.7 83.1h0M152.2 107.5h0M163.4 57.6h0M178.2 143.2h0M197.4 147.4h0M174.7 151.5h0M183.4 48.4h0M146.5 122.3h0M181.5 117.1h0M185.9 79.0h0M156.1 79.2h0M165.5 123.0h0M186.0 71.1h0M169.9 72.1h0M181.3 89.5h0M173.5 104.6h0M210.9 66.7h0M166.8 123.2h0M183.3 96.0h0M226.6 28.8h0M131.6 132.9h0M211.4 91.0h0M181.1 80.6h0M183.6 104.1h0M153.4 89.9h0M165.1 59.7h0M178.1 90.2h0M215.5 48.9h0M214.2 102.2h0M207.2 59.7h0M222.2 55.6h0M180.7 84.4h0M165.9 114.0h0M158.5 96.9h0M177.4 58.0h0M191.9 98.4h0M221.0 27.1h0M195.8 96.0h0M208.3 67.0h0M177.8 73.0h0M180.8 65.8h0M217.5 99.7h0M144.6 51.5h0M174.7 74.7h0M201.4 79.5h0M207.5 73.4h0M171.9 57.6h0M170.6 100.1h0M194.4 39.4h0M188.7 47.8h0M186.8 64.4h0M223.3 89.2h0M211.4 29.6h0M168.5 55.8h0M187.6 90.2h0M206.2 77.5h0M164.5 117.2h0M181.1 106.7h0M171.8 97.9h0M152.2 115.3h0M179.2 87.7h0M170.4 72.3h0M219.1 90.8h0M184.0 60.1h0M205.2 72.5h0M150.1 103.9h0M182.2 98.8h0M146.8 148.6h0M182.8 114.9h0M173.0 86.0h0M200.5 90.1h0M158.0 89.2h0M161.5 102.5h0M174.9 94.1h0M211.4 71.8h0M177.8 88.5h0M197.3 74.6h0M184.3 86.3h0M178.9 107.6h0M184.2 81.5h0M178.4 64.3h0M170.7 131.4h0M177.2 143.0h0M173.1 80.6h0M170.7 89.1h0M186.0 129.0h0M164.9 104.4h0M187.0 97.0h0M217.0 104.0h0M190.9 98.4h0M138.3 86.3h0M163.8 141.6h0M192.7 118.4h0M140.7 133.9h0M155.9 63.3h0M166.0 110.5h0M183.7 50.0h0M163.2 83.9h0M174.4 146.0h0M152.0 70.3h0M193.7 54.9h0M164.4 75.9h0M207.6 84.4h0M203.3 109.7h0M174.6 110.0h0M179.0 69.7h0M180.0 103.4h0M219.1 68.6h0M196.4 75.8h0M223.7 106.7h0M131.2 129.4h0M191.7 62.0h0M200.1 88.8h0M175.4 68.2h0M170.9 107.4h0M174.8 110.2h0M163.9 116.6h0M191.2 91.9h0M186.2 108.4h0M207.0 84.0h0M141.9 106.3h0M196.3 79.3h0M200.1 81.8h0M160.6 119.0h0M154.1 108.4h0M170.8 129.0h0M178.4 45.4h0M198.9 82.4h0M183.5 100.0h0M194.4 62.7h0M154.8 122.0h0M160.2 94.2h0M191.7 75.0h0M180.6 72.0h0M204.5 117.0h0M215.3 80.4h0M195.5 47.9h0"/>
<path stroke="#89beda" stroke-width="1.5" stroke-linecap="square" d="M164.8 96.6h0M138.0 104.7h0M130.1 124.8h0M160.0 78.9h0M172.1 87.9h0M119.8 133.8h0M147.7 100.5h0M139.0 109.6h0M154.6 161.3h0M132.4 104.8h0M130.7 158.0h0M112.2 85.8h0M112.0 121.4h0M133.1 132.7h0M91.6 137.5h0M156.4 101.9h0M144.6 19.9h0M124.0 114.2h0M122.0 167.6h0M162.5 79.4h0M160.3 76.2h0M160.3 155.5h0M152.1 96.8h0M139.9 93.5h0M132.9 119.2h0M149.5 110.4h0M141.6 107.3h0M132.4 160.6h0M106.7 122.4h0M122.6 159.2h0M152.1 114.6h0M151.0 111.1h0M158.4 86.6h0M134.5 171.2h0M126.3 142.7h0M134.9 120.9h0M122.4 121.8h0M149.2 112.1h0M138.7 97.6h0M136.3 105.8h0M157.6 94.8h0M125.4 122.4h0M108.1 75.5h0M164.9 82.0h0M151.4 132.9h0M170.5 103.8h0M150.3 120.6h0M153.1 118.1h0M143.4 149.8h0M153.9 69.4h0M133.4 78.6h0M110.8 91.5h0M123.2 137.3h0M122.3 109.1h0M109.5 166.5h0M143.0 107.6h0M130.8 98.5h0M143.2 112.7h0M136.4 138.0h0M160.8 110.1h0M135.9 118.1h0M108.8 133.6h0M140.8 119.5h0M109.7 183.8h0M134.3 143.0h0M118.9 107.8h0M141.1 107.8h0M140.3 108.9h0M159.3 90.4h0M159.7 64.6h0M153.4 106.6h0M181.5 57.6h0M147.3 126.3h0M133.3 174.5h0M134.7 171.2h0M142.3 154.2h0M141.0 127.3h0M128.2 103.6h0M139.6 114.6h0M152.5 82.4h0M146.5 89.0h0M124.7 183.0h0M134.6 86.4h0M141.1 148.4h0M158.8 104.5h0M148.0 88.3h0M179.6 84.7h0M130.0 104.7h0M122.1 150.7h0M178.6 109.7h0M142.8 116.2h0M140.6 139.3h0M136.0 109.8h0M159.8 126.3h0M146.8 47.0h0M160.9 93.3h0M131.3 95.1h0M147.6 134.2h0M146.4 116.7h0M150.7 93.6h0M110.7 179.0h0M155.9 85.7h0M130.5 123.2h0M127.3 111.8h0M139.5 110.8h0M130.8 59.1h0M122.3 136.6h0M146.5 82.6h0M154.1 77.7h0M148.0 98.6h0M149.5 153.8h0M142.4 126.9h0M147.4 72.3h0M162.7 129.9h0M132.0 93.6h0M111.9 92.3h0M140.4 90.9h0M134.9 35.1h0M120.2 123.0h0M151.5 122.2h0M150.1 124.3h0M111.9 124.8h0M155.6 126.0h0M125.8 119.3h0M114.2 132.3h0M159.1 153.0h0M135.2 97.0h0M156.4 132.2h0M162.2 88.1h0M143.1 151.8h0M118.9 86.8h0M164.8 118.0h0M144.6 166.3h0M125.3 127.5h0M143.1 99.3h0M140.8 136.8h0M148.7 88.2h0M126.6 169.9h0M128.9 143.8h0M160.4 102.9h0M174.2 95.5h0M144.8 128.0h0M147.8 104.5h0M140.9 143.8h0M127.6 157.1h0M139.1 59.3h0M141.5 74.6h0M131.5 163.5h0M149.6 125.4h0M135.2 173.4h0M152.5 124.7h0M149.9 99.6h0M130.5 131.2h0M149.4 123.4h0M147.7 115.1h0M155.9 103.7h0M138.0 94.4h0M161.1 110.0h0M130.4 72.0h0M154.9 83.2h0M113.0 129.0h0M148.6 162.9h0M154.4 90.3h0M151.1 91.3h0M159.8 128.8h0M156.1 181.4h0M138.8 149.7h0M155.4 145.6h0M115.5 102.4h0M119.2 130.2h0M153.8 135.2h0M122.6 112.8h0M139.7 120.4h0M146.4 81.6h0M121.9 116.2h0M155.3 86.8h0M165.9 127.5h0M132.2 104.0h0M142.9 112.5h0M136.9 146.6h0M149.6 138.4h0M126.5 155.1h0M151.8 101.2h0M143.9 102.7h0M130.7 134.6h0M124.3 101.8h0M150.8 114.2h0M143.7 107.6h0M153.7 84.5h0M154.8 91.5h0M133.6 107.1h0M114.8 117.7h0M141.3 127.2h0M132.1 119.7h0M146.4 86.9h0M125.2 157.9h0M122.3 132.2h0M167.4 84.2h0M132.7 139.7h0M122.0 69.5h0M135.2 120.2h0M152.0 102.4h0M161.8 102.0h0M160.6 43.2h0M135.5 137.6h0M156.2 113.0h0M133.5 100.5h0M115.5 113.3h0M124.3 77.5h0M130.6 127.0h0M121.6 108.0h0M133.2 104.8h0M124.4 132.1h0M130.3 115.0h0M161.7 109.3h0M152.0 43.8h0M159.7 70.5h0M150.6 121.9h0M152.2 161.7h0M137.4 70.3h0M123.3 185.1h0M156.0 40.1h0M135.7 131.3h0M146.4 135.0h0M144.7 150.1h0M153.7 132.7h0M142.7 134.4h0M123.7 138.3h0M169.4 127.0h0M150.7 98.0h0M156.9 113.0h0M139.9 84.8h0M156.6 131.7h0M122.2 121.4h0M133.2 119.5h0M153.3 73.9h0M129.4 97.7h0M132.1 53.6h0M137.4 84.7h0M146.6 112.6h0M136.0 105.1h0M141.7 118.6h0M134.9 154.0h0M113.5 122.9h0M146.6 109.6h0M135.7 93.4h0M144.7 136.9h0M149.3 114.3h0M121.4 121.8h0M113.6 84.4h0M125.0 64.4h0M135.0 145.1h0M150.2 159.7h0M165.0 25.1h0M122.8 127.5h0M148.0 148.4h0M147.6 96.4h0M122.6 97.7h0M167.3 105.5h0M128.2 137.6h0M124.3 159.2h0M144.1 118.7h0M147.4 128.8h0M152.8 117.3h0M164.2 97.5h0M130.7 144.8h0M91.8 118.9h0M110.3 166.6h0M156.4 114.8h0M173.8 88.0h0M155.6 123.2h0M148.2 136.1h0M118.8 71.9h0M146.3 120.0h0M141.8 129.7h0M124.8 139.8h0M122.5 111.9h0M149.0 147.8h0M127.0 126.9h0M143.5 112.1h0M138.9 91.5h0M151.8 136.5h0M151.5 87.6h0M143.6 137.4h0M144.6 109.9h0M171.2 123.3h0M125.4 130.0h0M154.8 79.4h0M130.8 85.7h0M133.6 92.9h0M108.0 47.7h0M148.9 64.9h0"/>
<path stroke="#c7e7f1" stroke-width="1.5" stroke-linecap="square" d="M191.0 115.3h0M147.8 135.7h0M114.4 148.1h0M140.1 91.8h0M188.4 114.2h0M158.0 73.9h0M169.2 144.3h0M145.7 140.5h0M147.2 154.0h0M148.3 83.4h0M125.9 139.7h0M150.8 62.2h0M130.3 130.8h0M136.9 127.0h0M170.8 90.1h0M172.3 108.1h0M163.1 108.5h0M160.3 144.2h0M151.8 59.2h0M152.2 89.5h0M130.2 63.1h0M144.3 75.6h0M144.5 107.1h0M151.6 110.1h0M206.6 52.2h0M146.4 111.1h0M173.0 78.8h0M129.0 123.3h0M145.1 56.5h0M151.7 176.5h0M136.2 92.5h0M166.7 98.5h0M162.9 117.1h0M220.4 102.7h0M150.0 89.7h0M152.8 89.5h0M134.8 141.4h0M137.9 127.9h0M146.6 124.0h0M183.8 69.0h0M150.3 92.6h0M153.9 105.4h0M154.3 136.9h0M125.4 113.2h0M156.5 62.9h0M155.1 73.0h0M133.6 153.3h0M133.4 111.6h0M162.0 70.5h0M137.3 56.4h0M157.6 110.8h0M161.0 82.4h0M176.4 124.5h0M152.5 148.7h0M183.3 76.7h0M164.7 149.3h0M130.8 125.8h0M142.9 108.1h0M148.8 130.8h0M159.8 82.4h0M155.7 121.0h0M147.4 110.0h0M140.0 101.9h0M161.5 85.0h0M164.5 121.9h0M150.5 151.9h0M134.5 98.6h0M145.3 103.8h0M146.9 114.7h0M148.1 101.1h0M141.4 86.0h0M126.2 103.4h0M154.5 119.8h0M151.8 118.7h0M138.3 103.0h0M153.8 120.7h0M140.5 106.6h0M151.8 55.2h0M146.4 84.6h0M161.7 92.9h0M173.5 136.8h0M125.1 87.9h0M160.4 126.4h0M138.4 116.1h0M139.8 110.0h0M161.9 89.8h0M117.3 125.0h0M157.3 92.3h0M167.1 121.2h0M150.4 114.2h0M168.3 41.9h0M154.7 114.5h0M136.5 97.7h0M155.7 128.8h0M157.1 139.9h0M119.8 89.3h0M154.3 109.2h0M162.8 83.3h0M134.7 114.2h0M170.9 102.9h0M180.2 107.1h0M158.9 105.1h0M156.9 58.6h0M134.1 129.9h0M127.5 114.3h0M153.5 76.6h0M171.8 100.9h0M134.8 103.0h0M160.7 127.0h0M152.4 78.5h0M137.4 113.4h0M125.1 83.1h0M169.2 78.1h0M183.9 117.7h0M171.5 95.1h0M161.0 87.8h0M160.2 68.9h0M164.1 123.7h0M161.5 81.1h0M132.8 136.0h0M154.1 99.9h0M152.0 81.6h0M150.1 125.0h0M169.8 97.8h0M158.8 110.0h0M179.7 126.1h0M165.1 108.2h0M146.9 103.6h0M139.0 133.6h0M147.2 86.8h0M153.9 68.2h0M154.2 129.1h0M161.3 90.3h0M180.1 96.5h0M165.9 122.8h0M164.4 109.6h0M184.1 102.3h0M165.0 75.8h0M148.1 101.8h0M124.1 108.6h0M156.0 72.2h0M160.6 129.5h0M159.4 117.5h0M161.8 128.1h0M131.3 128.7h0M163.0 71.0h0M152.9 124.4h0M154.4 64.3h0M145.3 87.4h0M162.6 73.6h0M130.8 140.0h0M165.2 121.5h0M158.0 124.7h0M141.2 125.9h0M182.1 108.5h0M187.2 70.8h0M146.2 129.0h0M149.8 112.9h0M132.9 88.5h0M167.4 93.9h0M168.4 83.8h0M154.4 31.7h0M146.1 30.2h0M155.0 88.8h0M150.6 82.0h0M163.1 110.0h0M148.9 71.5h0M151.2 113.3h0M122.9 100.2h0M127.7 107.0h0M139.1 84.5h0M147.6 106.1h0M165.7 90.1h0M134.1 132.0h0M151.0 97.7h0M123.8 132.5h0M222.0 87.1h0M190.2 92.8h0M169.5 93.1h0M146.7 120.7h0M135.6 94.3h0M162.0 109.0h0M159.2 132.7h0M156.3 113.0h0M184.6 53.1h0M158.0 115.0h0M151.8 118.9h0M148.3 112.8h0M126.9 130.0h0M161.7 72.8h0M156.8 89.8h0M157.4 100.7h0M162.7 127.9h0M150.7 124.3h0M157.0 74.5h0M150.3 168.3h0M147.0 157.6h0M184.2 83.3h0M159.0 146.8h0M147.5 70.0h0M152.9 113.2h0M152.8 79.6h0M157.5 97.5h0M166.1 112.9h0M107.0 112.9h0M155.6 30.3h0M139.4 50.5h0M149.8 62.0h0M178.4 128.1h0M136.5 85.5h0M162.1 106.0h0M164.0 79.3h0M126.1 105.5h0M182.9 92.4h0M148.0 134.2h0M168.0 123.6h0M137.5 118.5h0M159.1 78.0h0M161.3 120.1h0M142.6 111.0h0M137.9 109.1h0M166.3 114.1h0M149.4 80.0h0M147.2 108.0h0M165.7 67.1h0M122.5 143.0h0M117.0 95.2h0M144.3 84.0h0M173.3 132.7h0M147.4 123.3h0M167.9 43.3h0M149.5 100.4h0M169.7 113.0h0M181.9 80.8h0M136.8 87.4h0M160.4 97.1h0M141.5 77.6h0M156.8 149.4h0M144.5 123.6h0M167.1 108.2h0M121.4 112.5h0M167.1 104.0h0M174.5 86.9h0M138.3 130.5h0M179.7 113.9h0M139.7 101.3h0M182.3 55.5h0M173.4 131.1h0M143.6 141.1h0M190.2 102.3h0M130.9 138.6h0M173.0 106.6h0M214.2 75.1h0"/>
<path stroke="#f4fbd2" stroke-width="1.5" stroke-linecap="square" d="M245.4 76.4h0M137.4 126.5h0M166.0 87.1h0M201.4 85.5h0M183.4 58.9h0M191.1 98.2h0M193.4 87.3h0M177.8 132.5h0M190.7 79.3h0M197.8 90.7h0M179.7 136.0h0M197.7 91.5h0M161.5 114.6h0M204.6 153.3h0M181.5 81.5h0M176.1 67.1h0M173.4 114.5h0M185.4 127.5h0M205.0 72.1h0M201.8 57.8h0M167.6 55.6h0M213.6 117.9h0M158.8 132.0h0M188.5 42.7h0M181.7 66.4h0M153.5 104.5h0M187.3 90.7h0M215.2 102.0h0M195.4 67.5h0M171.1 81.1h0M204.2 65.5h0M191.9 74.8h0M178.8 84.3h0M199.3 97.3h0M168.2 95.2h0M178.6 81.2h0M185.5 125.7h0M162.3 136.9h0M160.7 124.0h0M178.1 83.3h0M150.6 117.0h0M190.3 103.0h0M203.4 81.6h0M162.0 133.4h0M189.0 80.1h0M207.3 58.0h0M189.5 65.1h0M170.0 139.7h0M174.2 86.5h0M212.3 111.9h0M129.6 60.0h0M183.2 130.1h0M202.7 78.6h0M154.3 154.5h0M121.5 83.5h0M192.5 104.2h0M140.5 104.3h0M183.1 132.6h0M178.1 74.4h0M194.3 68.2h0M164.8 131.9h0M195.9 70.7h0M205.3 82.6h0M216.8 33.5h0M180.5 46.7h0M175.6 141.7h0M205.5 50.5h0M182.9 76.5h0M182.8 90.9h0M183.6 118.4h0M179.3 109.4h0M183.3 88.2h0M182.7 87.8h0M187.6 115.1h0M194.9 102.9h0M169.3 136.8h0M165.6 137.1h0M183.5 90.1h0M177.7 76.4h0M164.7 120.4h0M185.5 88.8h0M165.9 80.6h0M196.4 80.0h0M164.3 88.6h0M182.8 42.2h0M169.9 106.4h0M151.9 109.3h0M140.9 99.7h0M144.3 107.2h0M143.8 77.3h0M152.0 160.6h0M179.1 115.6h0M187.1 100.3h0M164.6 85.9h0M184.1 29.2h0M172.1 88.1h0M192.7 71.8h0M153.0 113.3h0M198.1 110.9h0M146.8 132.7h0M190.2 115.4h0M197.3 130.1h0M170.8 57.1h0M171.5 84.3h0M187.4 79.5h0M168.2 105.0h0M163.1 79.0h0M172.4 132.5h0M181.7 60.2h0M161.6 115.2h0M208.6 139.3h0M186.2 125.6h0M191.4 83.4h0M180.9 89.9h0M178.5 90.8h0M194.6 96.5h0M170.0 92.4h0M205.4 84.5h0M182.7 71.4h0M155.2 100.0h0M190.1 48.5h0M184.1 32.0h0M199.2 51.5h0M212.1 60.5h0M213.6 50.8h0M178.4 102.1h0M188.1 69.5h0M169.9 117.1h0M194.9 74.7h0M189.3 99.7h0M185.9 112.4h0M160.2 150.9h0M201.3 102.6h0M184.9 129.2h0M226.6 44.5h0M240.6 68.1h0M148.9 55.0h0M137.3 125.4h0M239.2 83.1h0M165.8 145.9h0M163.1 90.5h0M166.6 62.8h0M178.4 95.7h0M149.3 101.5h0M198.0 108.8h0M184.6 110.8h0M216.8 63.3h0M216.9 21.1h0M194.0 60.6h0M153.7 107.0h0M185.5 120.2h0M180.7 141.1h0M160.0 144.9h0M154.6 126.7h0M181.9 54.4h0M161.8 134.4h0M166.3 98.7h0M194.3 73.3h0M164.4 100.1h0M216.3 51.7h0M151.1 127.1h0M186.4 94.5h0M169.2 119.6h0M169.6 115.5h0M168.0 50.0h0M171.7 49.3h0M177.0 94.0h0M196.8 68.9h0M154.4 95.4h0M197.1 89.4h0M171.7 84.2h0M178.9 47.1h0M163.2 131.4h0M177.6 112.6h0M180.2 152.4h0M193.2 135.6h0M166.7 78.2h0M160.0 165.6h0M170.8 78.2h0M166.9 107.2h0M235.8 24.0h0M191.0 68.7h0M186.5 53.4h0M191.4 65.7h0M166.7 58.6h0M219.8 43.2h0M198.6 128.2h0M152.9 72.9h0M179.6 82.0h0M190.9 93.1h0M185.8 105.5h0M203.8 84.1h0M177.9 84.5h0M177.9 110.9h0M178.0 144.0h0M192.6 109.5h0M186.4 49.8h0M210.8 93.0h0M181.4 91.2h0M180.7 77.0h0M134.3 131.8h0M169.2 104.2h0M199.0 98.3h0M161.8 136.4h0M177.7 108.1h0M142.5 113.3h0M171.6 112.1h0M187.2 56.6h0M186.3 70.5h0M164.3 87.7h0M184.4 62.1h0M141.3 56.4h0M160.1 132.9h0M162.6 79.8h0M200.1 93.2h0M177.5 77.2h0M179.8 100.1h0M167.1 78.3h0M159.7 90.8h0M211.3 81.9h0M182.1 59.8h0M176.0 91.0h0M159.3 83.5h0M202.0 84.7h0M208.6 66.4h0M163.4 119.8h0M167.3 157.0h0M205.6 83.8h0M174.7 110.0h0M167.4 138.0h0M177.2 126.2h0M158.5 111.6h0M172.3 165.5h0M160.8 48.5h0M196.7 68.8h0M183.3 86.1h0M163.1 62.7h0M171.0 101.1h0M190.4 101.4h0M149.9 130.3h0M167.6 110.6h0M184.3 139.0h0M159.3 146.2h0M183.8 75.5h0M207.2 40.0h0M193.3 30.6h0M185.0 104.7h0M177.3 87.9h0M178.3 131.2h0M204.2 95.5h0M137.1 93.2h0M203.5 86.6h0M158.0 100.4h0M214.7 66.8h0M193.5 129.0h0M175.0 96.1h0M179.1 104.8h0M152.7 73.5h0M188.2 93.3h0M200.3 71.9h0M168.6 62.6h0M188.2 83.0h0M187.4 94.4h0M182.3 97.9h0M125.7 150.5h0M185.7 62.4h0M186.1 92.9h0M192.7 82.5h0M138.6 136.7h0M188.4 81.2h0M152.5 128.1h0M195.5 78.8h0M181.6 121.8h0M162.1 104.3h0M183.7 107.5h0M151.7 134.5h0M136.6 111.2h0M176.0 101.5h0M180.1 127.3h0M153.0 123.4h0M198.0 101.1h0M162.0 48.5h0M162.0 113.8h0M174.2 99.6h0M190.4 64.2h0M185.3 77.4h0M186.6 76.9h0M201.3 76.7h0M156.3 128.5h0M209.1 45.5h0M180.0 83.3h0M190.4 111.9h0M161.1 118.4h0M231.1 96.8h0M180.4 100.7h0M197.9 81.2h0M166.2 113.8h0M214.1 85.5h0M142.5 86.5h0M209.9 85.6h0M179.1 78.6h0M204.0 90.5h0M151.8 96.9h0M176.2 102.6h0M196.5 106.7h0M132.3 100.1h0M176.0 124.6h0M136.7 63.3h0M169.8 129.3h0M173.4 92.4h0M160.8 133.2h0M209.6 74.8h0M198.0 60.2h0M184.1 104.4h0M179.0 96.3h0M168.0 144.7h0M190.7 60.1h0M177.6 100.0h0M150.7 104.6h0M194.1 74.1h0M168.7 110.9h0M173.5 125.2h0M154.3 113.6h0M199.2 87.7h0M150.5 104.1h0M159.5 100.7h0M157.3 98.1h0M154.7 107.4h0M176.1 88.5h0M159.0 87.5h0M184.4 124.8h0M172.6 102.0h0M185.3 88.4h0M187.6 83.7h0M188.4 130.1h0M212.1 92.3h0M184.7 51.3h0M159.8 123.0h0M200.1 47.0h0M178.0 101.9h0M167.1 116.9h0M143.2 120.3h0M182.1 120.3h0M140.8 104.6h0M183.6 115.8h0M146.5 116.8h0M183.4 97.4h0M183.5 103.9h0M191.4 76.5h0M189.6 25.4h0M190.4 99.7h0M169.3 80.2h0M204.7 58.7h0M165.6 113.5h0M147.7 40.1h0M160.1 112.7h0M205.1 56.1h0M181.5 95.9h0M165.9 91.5h0M224.0 90.5h0M204.0 62.4h0M209.7 88.8h0M202.7 109.4h0M174.5 67.5h0M127.0 111.9h0M212.7 85.8h0M226.6 74.9h0M173.8 39.2h0M186.0 99.2h0M192.9 121.7h0M128.5 100.8h0M185.0 111.3h0M165.7 80.3h0M183.5 76.0h0M151.3 106.7h0M188.4 108.3h0M177.0 53.0h0M193.0 74.9h0M191.6 32.5h0M158.5 59.6h0M161.4 110.2h0M170.4 127.9h0M209.9 53.7h0M177.3 99.2h0M192.2 134.7h0M179.6 131.4h0M157.7 87.2h0M157.5 123.1h0M203.0 41.6h0M146.7 130.5h0M209.1 72.8h0M197.1 93.7h0M154.3 118.6h0M179.7 122.3h0M197.8 98.9h0M131.0 76.5h0M180.5 111.5h0M158.4 120.0h0"/>
<path stroke="#3c5aa7" stroke-width="1.5" stroke-linecap="square" d="M115.1 144.9h0M132.9 112.8h0M114.5 156.0h0M152.5 170.2h0M143.5 122.5h0M140.9 134.4h0M152.8 74.5h0M118.0 149.9h0M160.2 111.1h0M106.1 154.6h0M141.9 125.4h0M124.6 135.4h0M168.9 84.2h0M112.9 158.1h0M112.0 155.2h0M137.1 138.1h0M99.9 159.0h0M124.8 149.7h0M115.6 130.5h0M109.4 148.8h0M152.1 104.5h0M134.7 112.7h0M150.4 131.9h0M128.2 74.9h0M116.3 145.2h0M133.2 140.2h0M132.0 133.6h0M121.9 131.4h0M133.7 134.8h0M152.2 122.9h0M109.2 146.5h0M107.3 170.8h0M119.6 148.1h0M128.0 145.2h0M122.6 152.4h0M113.4 149.3h0M153.4 113.2h0M117.9 107.7h0M128.6 144.0h0M133.8 158.5h0M126.5 133.0h0M118.7 121.0h0M130.6 139.4h0M120.2 143.7h0M145.9 107.3h0M122.5 150.1h0M130.7 159.2h0M143.9 97.9h0M117.6 157.1h0M145.0 134.0h0M109.2 125.6h0M118.3 146.4h0M124.8 151.4h0M114.7 151.4h0M144.6 169.7h0M129.9 146.8h0M151.5 103.9h0M127.3 138.4h0M149.7 104.8h0M133.0 90.0h0M126.8 122.0h0M128.9 153.5h0M134.6 104.2h0M106.7 145.9h0M128.3 68.3h0M120.0 142.4h0M127.2 111.3h0M131.6 114.0h0M107.9 157.5h0M125.4 140.5h0M118.9 140.8h0M122.3 137.0h0M118.4 84.3h0M128.0 142.3h0M114.5 154.6h0M101.4 169.5h0M116.6 133.3h0M126.5 147.1h0M112.2 156.1h0M106.8 144.8h0M121.1 148.7h0M100.6 148.1h0"/>
<path stroke="#fdb164" stroke-width="1.5" stroke-linecap="square" d="M198.4 84.6h0M195.9 92.0h0M174.6 126.1h0M210.2 46.4h0M196.1 114.6h0M198.0 59.7h0M219.1 64.5h0M183.1 73.1h0M199.5 52.1h0M198.0 51.8h0M197.4 62.8h0M171.3 102.7h0M190.9 62.5h0M203.6 75.4h0M175.3 80.8h0M172.6 66.9h0M196.3 96.5h0M169.2 106.7h0M171.6 53.3h0M197.2 100.6h0M215.3 107.3h0M204.8 79.8h0M202.2 60.6h0M181.8 61.4h0M212.3 140.7h0M180.1 90.5h0M180.4 107.4h0M202.3 84.7h0M194.7 130.4h0M168.4 102.9h0M195.8 140.3h0M193.3 72.3h0M192.1 85.6h0M196.7 68.4h0M235.3 23.9h0M188.1 55.2h0M181.6 61.5h0M200.7 104.0h0M199.3 53.7h0M195.8 107.2h0M201.5 54.0h0M167.0 96.3h0M167.3 93.5h0M197.2 89.4h0M199.5 103.7h0M201.5 67.5h0M186.3 98.0h0M194.9 80.8h0M202.7 87.5h0M198.0 48.9h0M200.2 53.6h0M222.9 50.5h0M197.9 77.5h0M203.7 59.0h0M186.9 55.4h0M207.2 51.0h0M188.4 93.1h0M179.4 88.7h0M221.1 56.7h0M185.0 66.9h0M207.3 100.8h0M205.3 96.8h0M193.6 87.7h0M173.1 80.9h0M199.5 62.6h0M199.6 77.8h0M178.7 88.3h0M202.8 99.6h0M202.7 73.7h0M213.3 48.5h0M213.5 81.9h0M197.2 102.4h0M181.9 41.9h0M188.9 96.1h0M203.8 70.4h0M177.6 67.0h0M222.1 46.4h0M166.8 75.0h0M171.3 59.5h0M206.9 88.7h0M196.8 83.2h0M207.5 62.2h0M184.0 73.0h0M197.7 38.9h0M198.3 54.6h0M200.1 111.2h0"/>
<path stroke="#f26941" stroke-width="1.5" stroke-linecap="square" d="M187.5 121.2h0M204.1 75.9h0M199.6 104.3h0M195.3 122.3h0M175.3 117.0h0M188.3 94.5h0M194.2 115.1h0M205.3 92.2h0M202.0 74.8h0"/>
<path stroke="#e6f5ec" stroke-width="1.5" stroke-linecap="square" d="M150.7 111.2h0M148.0 97.1h0M171.5 141.2h0M127.1 94.4h0M197.4 108.2h0M148.9 107.2h0M163.9 111.9h0M196.3 59.8h0M183.3 49.9h0M224.8 47.1h0M181.7 68.6h0M173.0 130.4h0M131.5 98.0h0M132.8 89.0h0M158.1 119.1h0M198.2 69.2h0M203.6 59.8h0M207.8 50.9h0M184.8 83.0h0M159.1 94.6h0M155.2 125.5h0M184.9 20.6h0M148.4 135.7h0M149.8 101.8h0M179.1 125.1h0M150.8 91.9h0M156.3 120.0h0M166.2 101.2h0M209.4 83.2h0M174.3 71.8h0M201.1 132.7h0M195.5 153.3h0M205.4 91.6h0M143.8 111.7h0M182.7 77.3h0M132.7 105.8h0M161.7 88.3h0M188.2 129.7h0M164.7 101.2h0M193.7 82.5h0M153.7 62.5h0M151.4 106.4h0M154.9 95.6h0M132.3 88.5h0M157.2 80.8h0M172.7 108.6h0M151.6 57.3h0M174.4 120.4h0M181.0 71.3h0M156.8 109.9h0M196.3 109.5h0M160.7 57.9h0M155.6 102.0h0M192.2 122.1h0M182.7 114.8h0M155.2 115.2h0M180.3 130.3h0M150.3 108.1h0M164.2 138.4h0M202.5 69.6h0M175.0 96.5h0M186.4 91.7h0M188.5 38.9h0M177.7 99.9h0M161.2 159.1h0M134.6 103.0h0M150.4 106.3h0M192.5 88.5h0M175.7 90.8h0M176.3 140.3h0M146.2 98.5h0M187.0 134.6h0M168.7 114.9h0M164.0 101.0h0M212.1 76.5h0M212.0 68.7h0M158.9 104.1h0M165.9 110.5h0M194.3 94.3h0M187.9 56.8h0M138.8 96.6h0M165.3 128.0h0M161.6 98.7h0M155.2 45.3h0M152.2 148.4h0M179.6 111.8h0M163.7 94.5h0M157.0 98.7h0M159.0 106.4h0M178.3 39.0h0M168.3 88.8h0M180.8 76.8h0M161.0 158.1h0M201.8 70.4h0M187.1 124.8h0M182.8 71.9h0M170.6 96.5h0M131.9 69.2h0M187.4 100.0h0M157.9 102.6h0M175.4 114.8h0M171.1 161.8h0M170.8 100.1h0M150.9 168.1h0M159.2 72.4h0M200.4 54.3h0M191.8 70.4h0M157.5 121.7h0M153.7 129.9h0M151.8 71.1h0M172.3 116.0h0M155.4 111.2h0M160.3 99.3h0M158.6 72.2h0M183.0 120.2h0M141.6 128.5h0M188.7 89.9h0M204.0 113.8h0M179.9 109.8h0M154.1 117.6h0M198.4 119.9h0M171.0 122.2h0M168.9 70.9h0M202.1 146.8h0M129.1 104.1h0M170.1 105.0h0M194.3 90.4h0M159.9 78.9h0M150.1 64.5h0M141.5 112.6h0M186.8 75.6h0M196.7 94.3h0M202.7 96.1h0M199.0 78.5h0M222.2 73.9h0M160.0 132.8h0M180.5 76.2h0M170.5 131.5h0M158.0 186.9h0M129.3 143.1h0M186.0 108.2h0M166.3 71.2h0M190.9 32.1h0M194.7 49.4h0M158.1 133.5h0M195.6 54.0h0M153.3 142.3h0M140.6 120.1h0M144.2 98.1h0M186.8 99.4h0M180.8 112.2h0M132.6 80.2h0M175.3 33.2h0M158.3 123.0h0M171.7 87.9h0M155.1 118.0h0M179.6 108.7h0M158.0 98.8h0M206.8 78.0h0M149.9 84.0h0M154.6 92.8h0M145.2 97.0h0M185.4 110.4h0M139.2 118.6h0M183.1 115.9h0M197.7 97.5h0M183.1 94.0h0M191.4 87.0h0M157.1 125.0h0M185.8 80.4h0M201.9 135.2h0M173.1 120.5h0M152.1 164.2h0M150.7 95.9h0M170.2 56.1h0M212.7 37.3h0M223.9 53.0h0M165.2 128.5h0M207.1 71.7h0M221.5 76.6h0M197.7 73.5h0M176.4 154.0h0M170.5 92.4h0M166.6 97.4h0M136.0 128.5h0M205.9 73.3h0M196.3 59.4h0M151.8 113.3h0M141.8 78.1h0M175.9 67.6h0M164.7 89.2h0M159.8 104.2h0M174.2 128.7h0M164.4 84.7h0M170.3 116.8h0M193.7 90.7h0M206.7 54.4h0M183.0 76.2h0M170.1 102.4h0M169.6 94.5h0M191.3 102.9h0M210.5 68.8h0M173.7 119.8h0M176.4 60.9h0M209.2 67.0h0M141.4 90.4h0M206.2 106.6h0M157.9 128.0h0M154.8 123.6h0M118.4 92.0h0M162.4 131.0h0M151.4 114.4h0M176.2 140.9h0M200.9 64.4h0M180.8 105.7h0M142.4 103.7h0M205.8 93.6h0M176.8 95.7h0M156.9 69.4h0M164.1 128.7h0M184.0 54.7h0M157.9 104.2h0M165.0 93.8h0M187.1 126.2h0M186.2 146.8h0M170.1 125.4h0M154.0 89.6h0M143.2 82.8h0M198.4 54.1h0M168.1 116.8h0M172.3 72.5h0M161.8 110.7h0M168.3 139.0h0M152.0 117.6h0M192.3 74.1h0M215.2 76.9h0M181.7 97.0h0M154.1 108.5h0M154.7 129.8h0M175.7 152.5h0M197.0 101.7h0M149.0 80.0h0M165.4 74.2h0M140.9 129.6h0M180.2 92.2h0M166.8 52.9h0M168.9 82.5h0M198.1 64.1h0M132.2 96.6h0M181.3 97.8h0M156.2 68.1h0M191.5 109.1h0M163.4 98.8h0M199.3 76.2h0M193.5 45.3h0M123.5 130.7h0M158.8 119.6h0M162.1 98.9h0M163.3 104.1h0M163.2 144.4h0M148.3 130.5h0M157.0 85.2h0M157.4 145.2h0M178.0 130.8h0M146.3 108.7h0M186.2 112.8h0M137.8 50.4h0M175.7 80.5h0M148.6 95.6h0M185.8 85.7h0M182.4 76.0h0M155.3 102.9h0M169.4 96.9h0M186.0 58.7h0M110.5 118.8h0M169.6 77.2h0M152.0 106.7h0M158.3 73.5h0M155.8 107.3h0M174.8 78.2h0M141.1 139.7h0M148.3 138.3h0M200.6 106.4h0M141.0 109.6h0M175.0 108.8h0M186.7 77.1h0M194.6 72.1h0M187.6 98.3h0M174.4 105.1h0M184.6 68.5h0M154.8 81.5h0M122.2 110.4h0M177.9 84.0h0M199.9 86.4h0M199.8 119.3h0M220.5 87.7h0M187.6 81.9h0M170.7 103.4h0M163.3 102.9h0M140.7 61.3h0M200.0 81.9h0M155.2 64.2h0M156.4 136.4h0M151.9 105.4h0M136.5 140.9h0M179.0 163.2h0M216.7 53.5h0M139.3 119.9h0M144.3 77.2h0M148.6 93.8h0M135.0 95.9h0M178.9 94.4h0M155.2 123.4h0"/>
<path stroke="#fee69a" stroke-width="1.5" stroke-linecap="square" d="M197.6 46.3h0M194.8 85.8h0M223.7 96.0h0M184.0 71.3h0M182.4 64.3h0M186.6 81.7h0M215.6 82.8h0M214.5 76.4h0M205.6 74.9h0M201.8 111.9h0M176.4 152.8h0M180.2 65.2h0M195.7 93.7h0M169.6 85.2h0M159.8 103.1h0M205.1 84.6h0M180.2 94.0h0M219.1 75.6h0M187.6 62.0h0M206.3 115.0h0M200.5 115.2h0M183.6 87.6h0M163.2 109.2h0M204.0 94.3h0M200.0 93.8h0M181.9 99.1h0M154.3 77.6h0M175.4 73.8h0M165.4 90.9h0M173.0 75.1h0M202.7 80.8h0M216.0 49.7h0M199.1 108.4h0M180.2 70.6h0M192.0 101.2h0M193.1 78.4h0M174.3 67.8h0M222.2 54.0h0M179.4 59.3h0M172.2 113.4h0M203.8 75.0h0M164.7 141.5h0M185.4 89.8h0M173.5 103.7h0M179.6 97.7h0M196.1 102.4h0M196.4 114.4h0M171.3 27.9h0M205.7 80.8h0M197.8 43.0h0M200.2 92.6h0M170.0 110.9h0M146.7 105.9h0M192.6 95.4h0M235.2 89.1h0M176.0 95.2h0M223.8 69.3h0M186.0 127.4h0M193.9 83.8h0M191.9 71.1h0M182.3 87.1h0M183.2 152.6h0M186.0 88.2h0M197.5 79.5h0M208.9 126.9h0M182.8 109.9h0M187.2 52.4h0M157.0 96.0h0M176.6 57.6h0M206.0 76.2h0M201.1 101.9h0M175.0 78.2h0M175.5 82.8h0M183.2 98.9h0M188.8 72.5h0M207.6 93.9h0M179.6 85.3h0M206.8 86.2h0M150.6 82.9h0M191.8 45.7h0M210.2 96.1h0M200.3 91.9h0M208.7 64.4h0M194.6 105.6h0M190.6 54.9h0M183.4 109.0h0M178.6 51.5h0M167.1 89.8h0M190.3 76.5h0M201.2 75.0h0M148.3 125.7h0M199.7 70.6h0M198.7 86.3h0M180.8 56.3h0M195.7 41.6h0M195.8 69.6h0M215.4 94.9h0M197.1 71.9h0M183.3 90.0h0M170.0 100.0h0M210.3 104.5h0M191.5 94.2h0M189.5 73.8h0M182.4 91.5h0M187.5 22.9h0M181.3 67.6h0M169.4 48.9h0M198.3 101.4h0M161.1 117.6h0M176.9 86.5h0M184.5 76.7h0M213.0 50.1h0M198.8 45.8h0M219.4 45.1h0M206.5 57.1h0M206.8 91.5h0M207.9 71.3h0M161.6 98.5h0M209.3 47.0h0M165.1 91.5h0M189.5 107.8h0M196.3 86.4h0M195.2 66.3h0M163.3 75.8h0M172.7 75.9h0M203.6 119.6h0M173.5 116.6h0M201.8 102.3h0M182.2 92.1h0M187.4 93.7h0M184.4 104.9h0M167.9 124.8h0M186.4 61.3h0M203.0 69.1h0M204.3 40.9h0M189.3 121.1h0M191.8 111.7h0M168.8 100.0h0M176.3 107.6h0M180.0 85.2h0M204.3 72.5h0M190.2 90.9h0M187.4 111.0h0M201.2 83.9h0M196.3 101.0h0M187.3 71.1h0M182.3 74.8h0M197.7 92.0h0M189.8 126.2h0M202.2 61.4h0M172.5 76.5h0M183.7 165.7h0M194.1 69.1h0M183.0 88.9h0M234.6 23.8h0M123.2 138.0h0M190.3 60.7h0M190.8 108.8h0M201.8 55.8h0M192.9 81.4h0M185.8 90.4h0M166.6 79.8h0M183.4 107.3h0M203.1 71.7h0M191.6 42.7h0M175.9 74.4h0M229.1 47.2h0M216.6 36.0h0M196.8 47.3h0M178.6 103.9h0M213.0 56.5h0M177.4 129.6h0M176.4 99.7h0M191.2 77.2h0M165.8 127.6h0M213.3 172.7h0M175.2 108.7h0M178.4 126.4h0M193.0 87.1h0M170.2 115.7h0M180.0 81.2h0M156.9 113.9h0M198.6 77.8h0M145.9 67.5h0M164.8 144.2h0M207.0 109.8h0M203.0 68.7h0M198.4 73.9h0M193.2 110.4h0M200.4 79.5h0M184.4 93.1h0M219.6 74.3h0M197.6 88.5h0M203.2 97.1h0M223.5 79.7h0"/>
<path stroke="#fbfec5" stroke-width="1.5" stroke-linecap="square" d="M182.1 83.0h0M168.5 89.5h0M175.6 78.5h0M168.5 80.1h0M186.4 119.9h0M190.7 56.6h0M220.3 44.9h0M199.9 78.1h0M173.0 123.1h0M181.8 127.3h0M177.9 102.7h0M182.4 104.1h0M190.1 118.2h0M183.6 74.6h0M177.9 88.2h0M177.1 115.4h0M192.5 119.7h0M187.9 79.8h0M167.7 68.3h0M164.3 106.5h0M145.7 100.8h0M167.1 96.8h0M195.6 116.3h0M181.9 99.5h0M148.1 121.2h0M214.2 92.7h0M147.5 110.2h0M216.4 123.1h0M192.3 102.7h0M151.0 155.8h0M181.8 133.1h0M186.8 58.3h0M166.1 78.3h0M159.8 88.1h0M170.9 76.7h0M183.5 130.6h0M167.0 112.5h0M196.3 84.7h0M158.4 123.0h0M189.9 70.9h0M197.8 41.7h0M167.7 129.4h0M209.6 45.3h0M190.1 96.6h0M163.2 108.8h0M182.1 63.3h0M193.4 76.4h0M185.2 71.0h0M162.9 146.1h0M197.5 31.9h0M198.8 62.9h0M202.6 54.1h0M125.7 82.8h0M191.3 53.4h0M150.1 79.4h0M179.1 95.2h0M188.9 96.2h0M175.2 75.2h0M206.2 70.4h0M198.9 55.5h0M175.1 69.1h0M139.1 90.0h0M157.8 128.2h0M186.8 97.4h0M153.0 79.8h0M224.8 35.3h0M163.1 127.8h0M151.2 71.2h0M207.9 71.3h0M128.5 105.7h0M179.4 121.7h0M217.5 64.5h0M176.3 73.6h0M221.5 46.9h0M155.8 129.8h0M179.9 59.2h0M164.0 61.4h0M216.7 62.5h0M175.2 154.9h0M161.2 67.1h0M181.5 63.6h0M185.5 124.7h0M177.1 81.7h0M190.1 103.3h0M196.1 43.6h0M166.8 65.6h0M183.3 81.8h0M191.0 130.3h0M199.8 124.8h0M169.9 92.6h0M186.2 137.8h0M173.4 77.0h0M189.0 93.0h0M157.3 104.9h0M179.2 170.6h0M177.2 64.1h0M186.6 86.4h0M190.1 100.3h0M199.1 65.2h0M192.8 107.5h0M160.4 96.6h0M189.2 46.4h0M182.5 90.7h0M199.0 101.1h0M188.2 67.6h0M163.7 89.4h0M215.9 67.2h0M189.7 106.1h0M187.4 109.8h0M181.5 75.3h0M211.4 94.0h0M194.6 80.9h0M175.2 132.4h0M166.9 103.3h0M189.0 65.5h0M177.7 81.9h0M159.8 150.5h0M192.1 53.6h0M194.8 134.0h0M161.6 124.6h0M177.4 128.5h0M200.0 54.5h0M155.9 98.9h0M210.5 87.8h0M169.9 149.7h0M164.3 59.3h0M181.6 70.6h0M165.9 112.7h0M151.2 93.1h0M190.2 123.2h0M172.5 89.1h0M174.7 107.0h0M212.4 78.2h0M166.9 95.4h0M200.8 82.5h0M192.5 85.9h0M199.6 115.0h0M185.5 81.7h0M173.5 116.5h0M188.5 146.1h0M178.7 12.3h0M190.4 102.0h0M176.9 133.4h0M189.9 97.8h0M202.7 96.6h0M183.7 50.5h0M191.6 81.0h0M189.8 110.4h0M176.4 101.1h0M209.6 95.9h0M172.2 70.4h0M187.3 56.3h0M192.6 107.4h0M215.0 59.4h0M206.7 76.3h0M200.9 103.2h0M153.8 56.1h0M195.1 107.0h0M162.8 130.0h0M150.7 96.3h0M200.0 44.3h0M192.1 73.0h0M177.7 80.4h0M177.8 111.0h0M185.9 74.8h0M228.8 18.7h0M201.6 41.5h0M160.0 122.7h0M195.9 88.7h0M190.7 51.8h0M205.7 90.0h0M199.0 66.1h0M185.3 91.0h0M175.5 100.6h0M183.9 112.6h0M189.8 106.1h0M178.9 84.4h0M181.9 121.7h0M176.4 101.6h0M163.7 143.4h0M157.0 46.3h0M185.4 69.6h0M145.7 77.4h0M164.9 107.3h0M178.9 108.2h0M174.9 102.4h0M163.9 90.4h0M177.9 138.0h0M190.3 56.6h0M153.9 62.9h0M182.7 116.0h0M171.6 106.2h0M195.7 108.4h0M183.1 98.0h0M190.8 48.0h0M171.9 46.6h0M150.4 126.9h0M166.2 115.5h0M190.5 106.8h0M194.9 109.2h0M172.6 95.2h0M161.3 90.5h0M161.9 136.9h0M169.7 58.4h0M173.2 87.5h0M193.0 72.8h0M184.6 128.4h0M186.0 107.0h0M185.4 66.0h0M188.6 70.0h0M199.8 95.3h0M200.4 100.1h0M209.4 95.0h0M175.0 78.9h0M138.2 76.4h0M202.2 110.2h0M219.6 88.9h0M147.1 97.3h0M204.0 88.9h0M178.8 116.4h0M172.5 75.8h0M195.1 65.9h0M168.5 97.2h0M146.8 92.9h0M175.5 83.0h0M196.4 142.7h0M201.1 96.4h0M207.0 62.8h0M206.2 103.4h0M183.1 88.9h0M188.2 64.0h0M186.8 80.1h0M205.4 87.5h0M193.9 82.0h0M192.1 79.0h0M203.5 85.4h0M166.3 81.6h0M219.0 75.8h0M167.6 74.6h0M209.5 63.7h0M169.6 104.7h0M196.7 106.3h0M164.1 83.9h0M171.3 88.3h0M199.4 84.5h0M187.5 101.2h0M176.2 112.0h0M184.2 28.9h0M200.1 78.7h0M144.5 112.4h0M143.7 90.2h0M170.7 89.7h0M185.3 73.5h0M202.2 92.6h0M185.3 61.1h0M193.0 75.3h0M162.6 86.3h0M210.6 118.9h0M144.6 113.6h0M184.9 89.4h0M200.3 75.8h0M203.3 79.7h0M179.0 81.1h0M198.5 106.3h0M187.8 82.9h0M161.8 66.3h0M178.4 46.0h0M167.3 114.7h0M182.9 106.4h0M174.5 77.0h0M160.4 111.1h0M181.7 130.1h0M194.8 90.8h0M167.5 108.0h0M178.2 35.1h0M177.4 84.2h0M155.8 64.0h0M187.6 153.3h0M156.5 116.8h0M189.3 85.2h0M178.6 64.5h0M204.4 79.3h0M213.5 70.3h0M214.4 51.9h0M169.0 107.0h0M165.3 91.4h0M150.9 146.8h0M175.3 103.9h0M191.4 50.7h0M176.5 58.7h0M177.6 90.6h0M150.1 64.2h0M158.4 102.4h0M186.1 105.9h0M194.0 60.4h0M154.8 83.8h0M190.0 48.8h0M190.0 124.3h0M184.5 88.5h0M159.0 109.1h0M175.3 104.8h0M145.8 120.8h0M195.9 117.1h0M194.8 81.3h0M173.9 76.8h0M164.4 93.3h0M184.2 103.3h0M178.9 117.6h0M190.2 56.6h0M176.1 110.0h0M202.4 61.9h0M196.6 103.3h0M166.7 91.1h0M186.2 92.9h0M179.6 53.5h0M178.1 99.3h0M193.9 81.4h0M199.5 103.0h0M185.1 125.7h0M176.9 87.4h0M162.3 59.4h0M207.2 82.8h0M149.9 94.8h0M175.1 107.1h0M204.4 94.9h0M171.1 87.9h0M173.1 120.7h0M153.4 147.7h0M174.7 127.7h0M177.8 109.4h0M162.5 95.4h0M187.3 108.0h0M149.9 84.9h0M157.6 131.2h0M142.8 154.3h0M192.7 86.1h0M167.7 87.3h0M196.3 70.6h0M160.0 60.8h0M190.6 40.2h0M199.3 71.8h0M177.6 73.8h0M193.4 154.6h0M174.7 84.6h0M155.9 121.6h0M152.0 103.8h0M160.9 134.8h0M175.0 75.9h0M216.3 77.3h0M175.6 116.6h0M170.3 39.9h0M145.0 84.7h0M179.8 93.2h0M200.8 80.9h0M213.7 94.4h0M175.2 124.0h0M200.7 79.8h0M156.3 67.1h0M169.5 71.4h0M179.8 60.0h0M188.4 95.2h0M173.3 129.3h0M181.1 86.6h0M225.6 70.0h0M165.0 100.3h0M188.6 116.9h0M191.5 61.7h0M202.5 41.5h0M196.8 62.9h0M224.0 71.1h0M195.5 108.9h0M167.5 138.5h0M173.3 59.2h0M179.9 101.2h0M182.2 91.9h0M162.9 126.9h0M150.0 92.4h0M152.3 83.1h0M160.0 118.0h0M146.5 113.1h0M155.3 123.4h0M189.4 101.5h0M171.2 75.0h0M203.4 72.2h0M193.9 104.8h0M154.9 80.1h0M221.2 72.7h0M168.6 96.9h0M130.3 127.8h0M161.3 109.1h0M160.2 57.2h0M192.6 96.2h0M136.4 133.9h0M150.8 65.6h0M216.2 60.5h0M176.1 126.4h0M212.9 64.7h0M184.8 115.5h0M156.4 112.5h0M187.3 107.5h0M212.4 80.4h0M176.6 70.8h0M194.7 95.5h0M159.6 75.0h0M216.4 75.3h0M179.9 106.8h0M189.4 102.9h0M176.6 133.9h0M140.4 116.4h0"/>
<path stroke="#e54d34" stroke-width="1.5" stroke-linecap="square" d="M183.6 72.9h0M192.6 80.5h0"/>
<path stroke="#bbe1ed" stroke-width="1.5" stroke-linecap="square" d="M147.8 84.0h0M140.6 135.0h0M139.2 126.2h0M147.1 78.1h0M159.1 99.6h0M120.2 109.0h0M137.3 94.5h0M174.3 100.2h0M167.3 91.4h0M117.3 134.5h0M148.5 129.7h0M164.3 62.9h0M139.5 66.6h0M141.1 122.4h0M158.2 132.8h0M154.4 100.8h0M145.4 130.2h0M140.6 123.0h0M181.5 112.8h0M141.9 132.7h0M190.7 94.0h0M139.5 131.2h0M154.1 107.2h0M152.0 94.1h0M162.6 110.3h0M119.7 140.7h0M185.5 68.7h0M151.9 121.9h0M139.7 118.6h0M123.4 124.0h0M170.3 138.3h0M154.4 135.5h0M108.5 143.9h0M130.3 79.0h0M143.8 93.3h0M130.2 100.4h0M144.5 82.0h0M152.6 89.1h0M163.8 68.7h0M153.9 92.6h0M142.4 114.9h0M145.3 93.9h0M144.4 92.5h0M152.0 138.7h0M172.3 65.4h0M163.8 82.4h0M141.8 133.7h0M182.8 98.4h0M115.6 115.7h0M144.8 114.3h0M154.2 115.1h0M127.8 82.9h0M180.5 122.5h0M158.3 71.2h0M147.1 105.9h0M120.7 128.7h0M167.1 154.0h0M167.5 97.4h0M161.5 118.8h0M156.2 117.6h0M135.4 105.3h0M164.3 85.1h0M141.7 87.7h0M149.2 86.2h0M136.4 74.3h0M163.8 53.2h0M167.1 127.9h0M148.4 106.9h0M175.5 81.4h0M170.2 41.3h0M187.0 59.2h0M157.2 93.9h0M140.8 123.9h0M168.0 109.8h0M148.0 100.5h0M175.5 77.3h0M171.8 62.2h0M127.5 111.3h0M137.4 117.8h0M153.5 159.1h0M147.4 90.0h0M176.5 88.1h0M165.7 41.5h0M165.2 74.3h0M129.9 114.6h0M152.3 89.2h0M124.2 96.6h0M138.9 134.9h0M105.4 165.6h0M177.6 84.8h0M166.1 137.2h0M124.7 122.2h0M124.0 99.1h0M153.5 75.8h0M169.4 100.4h0M150.5 128.2h0M120.5 98.1h0M156.1 130.2h0M163.0 57.1h0M141.8 143.6h0M197.6 93.9h0M127.5 102.2h0M140.9 135.6h0M179.3 36.6h0M161.5 113.2h0M140.6 146.3h0M154.3 125.3h0M137.8 134.4h0M199.1 54.7h0M139.5 114.7h0M137.3 109.2h0M124.5 110.6h0M158.6 140.6h0M118.1 125.5h0M147.9 95.7h0M154.6 92.0h0M174.6 95.2h0M165.7 98.7h0M161.7 86.9h0M160.0 78.9h0M174.4 110.9h0M149.2 66.9h0M158.8 94.8h0M98.5 160.2h0M135.1 145.4h0M183.3 98.5h0M124.5 136.7h0M139.6 65.6h0M185.1 108.4h0M178.6 109.1h0M156.7 110.8h0M154.0 73.6h0M160.7 109.9h0M153.7 98.2h0M144.1 126.6h0M137.1 71.1h0M165.7 78.9h0M126.5 146.0h0M143.7 72.1h0M139.3 165.0h0M171.9 107.5h0M145.2 138.0h0M146.1 131.4h0M163.6 102.8h0M156.8 155.5h0M140.2 141.6h0M162.4 125.7h0M204.5 132.8h0M143.1 89.5h0M180.4 84.4h0M120.7 136.9h0M158.3 124.0h0M147.2 86.3h0M131.0 113.6h0M177.9 126.5h0M156.2 120.8h0M144.0 165.1h0M144.8 113.5h0M128.0 119.5h0M171.3 94.6h0M157.1 74.9h0M145.3 93.7h0M168.6 101.4h0M157.9 131.5h0M152.0 111.1h0M141.6 151.7h0M188.6 56.1h0M137.8 76.1h0M165.9 93.1h0M150.7 114.7h0M175.6 59.9h0M169.7 111.6h0M175.4 102.2h0M158.3 158.5h0M134.4 134.5h0M169.1 122.1h0M168.4 105.1h0M141.3 118.7h0M193.2 106.6h0M132.1 124.4h0M154.8 160.0h0M162.4 119.0h0M139.4 129.7h0M119.7 102.7h0M161.5 113.9h0M133.6 93.2h0M139.6 85.8h0M148.4 155.9h0M135.8 149.1h0M105.1 48.1h0M154.6 122.0h0M126.3 116.4h0M159.0 71.2h0M149.5 139.2h0M161.8 49.1h0M142.2 141.8h0M166.9 126.2h0M133.1 168.4h0M148.6 184.2h0M146.7 87.7h0M171.3 117.1h0M142.3 46.5h0M155.1 145.8h0M122.5 152.6h0M211.7 86.8h0M134.8 148.6h0M145.6 106.6h0M149.9 137.8h0M146.3 148.1h0M140.5 74.3h0M147.6 83.4h0M158.5 89.2h0M142.1 99.3h0M148.1 135.4h0M155.5 92.9h0M158.5 92.9h0M158.3 108.9h0M162.9 111.2h0M116.4 112.3h0M138.6 112.3h0M162.3 90.1h0M179.6 51.0h0M186.0 114.0h0M111.0 183.7h0M179.7 96.9h0M163.6 143.0h0M164.8 134.0h0M152.7 102.0h0M169.7 63.8h0M128.8 128.0h0M163.3 118.7h0M144.6 127.4h0M163.4 108.7h0"/>
<path stroke="#fa9555" stroke-width="1.5" stroke-linecap="square" d="M194.7 110.6h0M198.2 61.3h0M191.0 66.3h0M196.5 50.9h0M209.9 64.3h0M202.9 121.2h0M186.1 87.3h0M163.0 93.0h0M210.3 57.1h0M187.2 104.8h0M205.8 81.4h0M198.4 65.5h0M198.1 84.1h0M197.7 90.0h0M194.9 83.3h0M196.6 88.0h0M201.1 72.0h0M202.5 98.9h0M162.0 117.3h0M193.2 82.0h0M183.0 115.9h0M183.1 62.7h0M188.0 50.3h0M180.2 103.7h0M207.7 113.6h0M207.5 89.1h0M194.0 63.4h0M181.7 93.3h0M207.3 110.3h0M198.4 85.0h0M209.4 95.5h0M206.6 70.7h0M185.4 143.1h0M174.4 102.2h0M177.9 72.2h0M184.2 140.6h0M192.4 87.5h0M205.2 61.1h0M179.8 72.1h0M166.6 103.2h0M146.5 80.3h0M182.0 109.3h0M185.5 86.4h0M210.6 37.0h0"/>
<path stroke="#d3ecf4" stroke-width="1.5" stroke-linecap="square" d="M180.0 90.5h0M160.5 93.6h0M200.5 98.7h0M151.5 98.1h0M144.7 124.8h0M160.9 85.7h0M136.6 98.4h0M152.0 131.3h0M172.1 106.4h0M173.9 65.6h0M157.8 122.7h0M168.6 129.0h0M166.2 114.5h0M131.9 123.4h0M177.1 139.8h0M157.2 106.9h0M151.1 83.2h0M151.7 88.0h0M152.0 138.9h0M143.1 102.6h0M179.2 60.3h0M193.0 100.7h0M157.8 118.4h0M137.0 101.2h0M161.9 81.0h0M192.1 48.5h0M165.7 95.0h0M144.3 157.8h0M184.3 106.1h0M170.4 91.5h0M149.1 100.1h0M158.5 66.0h0M148.2 84.1h0M119.7 136.9h0M144.2 92.4h0M146.3 116.6h0M137.8 131.4h0M144.7 177.9h0M166.4 120.9h0M185.2 43.2h0M125.7 108.8h0M163.9 101.0h0M141.3 117.0h0M134.3 154.1h0M174.1 128.5h0M196.8 99.6h0M134.5 91.8h0M148.3 72.4h0M155.3 113.6h0M151.7 104.8h0M185.5 93.7h0M152.1 134.5h0M147.8 144.2h0M154.9 125.5h0M146.1 138.7h0M168.3 65.8h0M174.6 86.8h0M140.8 102.3h0M145.2 130.6h0M171.2 119.3h0M179.8 103.1h0M152.3 121.4h0M124.8 123.6h0M152.0 59.1h0M152.9 105.6h0M177.6 160.9h0M147.9 85.8h0M156.2 128.9h0M148.4 138.6h0M165.7 47.0h0M195.9 102.5h0M162.1 118.7h0M165.9 113.5h0M163.3 85.3h0M140.6 81.1h0M205.6 71.0h0M136.6 117.8h0M180.3 127.9h0M177.6 136.6h0M207.2 91.6h0M194.6 99.5h0M166.7 130.6h0M153.0 143.6h0M160.8 118.5h0M197.2 70.7h0M170.4 119.1h0M175.4 87.1h0M135.1 110.6h0M154.6 141.1h0M161.0 128.7h0M153.8 137.0h0M159.9 96.4h0M150.0 125.4h0M126.3 88.9h0M162.8 119.7h0M167.3 86.9h0M146.6 134.8h0M191.3 97.7h0M141.2 143.4h0M186.0 51.1h0M168.8 132.7h0M152.5 114.0h0M165.2 64.4h0M160.9 125.3h0M136.0 161.8h0M160.0 106.2h0M170.4 124.3h0M183.9 126.1h0M189.0 81.2h0M169.2 130.1h0M151.9 153.8h0M187.5 74.4h0M181.8 74.0h0M169.6 106.4h0M135.0 86.8h0M175.7 113.8h0M176.8 65.6h0M162.3 76.3h0M178.0 86.3h0M156.3 98.6h0M223.5 74.7h0M146.2 80.4h0M149.9 147.0h0M147.7 102.7h0M139.0 123.0h0M164.4 57.8h0M158.7 81.4h0M158.5 110.6h0M170.9 141.1h0M203.5 73.1h0M117.9 110.7h0M169.4 98.9h0M168.4 98.4h0M136.4 108.7h0M123.4 75.0h0M188.2 131.8h0M162.1 117.5h0M152.3 129.7h0M175.7 121.9h0M156.1 85.4h0M143.5 99.3h0M157.9 105.5h0M156.1 79.5h0M178.1 80.4h0M136.4 112.2h0M191.0 110.3h0M171.2 36.2h0M151.9 124.7h0M151.9 131.4h0M158.5 94.6h0M184.9 102.4h0M232.1 59.9h0M174.4 95.0h0M159.9 101.8h0M186.3 44.6h0M160.6 64.7h0M145.8 135.5h0M165.9 70.3h0M172.7 82.1h0M161.9 75.0h0M155.3 122.6h0M160.7 97.6h0M153.4 81.1h0M162.8 57.3h0M124.9 115.4h0M110.2 140.5h0M149.5 150.8h0M145.3 116.3h0M158.5 136.7h0M129.1 146.7h0M158.1 100.0h0M164.8 133.3h0M171.1 112.3h0M149.7 119.9h0M163.6 124.8h0M157.0 108.5h0M163.9 118.3h0M167.3 81.0h0M130.2 90.5h0M120.0 142.4h0M176.7 86.5h0M168.1 133.7h0M147.3 89.3h0M146.9 102.9h0M129.9 119.2h0M152.2 146.1h0M163.6 115.7h0M172.8 109.1h0M165.3 119.1h0M140.7 124.4h0M162.5 136.5h0M137.5 128.2h0M128.6 77.4h0M173.4 94.9h0M140.6 88.1h0M165.7 94.7h0M162.6 102.5h0M155.2 116.8h0M152.5 82.4h0M216.3 69.0h0M212.5 65.5h0M147.3 130.4h0M160.1 116.8h0M121.3 126.4h0M146.5 97.6h0M157.5 91.7h0M168.8 114.1h0M123.4 108.6h0M146.8 105.1h0M176.9 42.1h0M155.8 121.5h0M169.3 101.3h0M154.2 164.0h0M114.4 134.1h0M116.1 166.5h0M155.2 84.5h0M154.5 100.1h0M161.4 65.6h0M125.5 107.3h0M159.7 104.3h0M160.4 77.3h0M135.9 101.0h0M162.0 83.4h0M184.3 75.5h0M159.4 88.3h0M177.2 70.3h0M163.1 79.5h0M138.0 156.2h0M126.6 132.1h0M147.0 125.8h0M161.7 73.0h0M175.6 92.9h0M159.1 101.6h0M150.5 122.7h0M127.1 146.2h0M157.4 130.9h0M161.2 92.4h0M188.5 138.5h0M142.9 96.4h0M151.7 65.9h0M209.3 69.7h0M159.2 102.1h0M133.2 128.4h0M130.1 87.4h0M186.8 86.9h0M139.5 102.1h0M140.4 113.1h0M159.1 138.3h0M152.1 107.6h0M130.6 99.0h0M153.9 100.3h0M214.6 108.6h0M182.6 122.6h0M190.2 71.7h0M145.8 88.0h0M178.0 74.2h0M139.7 81.7h0M220.5 57.7h0M159.1 109.3h0M141.1 155.2h0M156.5 117.0h0M158.3 72.6h0M191.7 86.3h0M151.4 144.9h0M176.8 100.6h0M165.9 94.3h0M168.9 135.0h0M138.3 83.5h0M213.4 77.1h0M156.5 83.3h0M110.4 142.5h0M186.9 134.2h0M214.2 33.6h0M145.8 81.8h0M152.3 89.5h0"/>
<path stroke="#afdbea" stroke-width="1.5" stroke-linecap="square" d="M123.2 96.8h0M168.7 113.5h0M149.7 129.0h0M141.8 113.6h0M108.6 66.1h0M129.0 132.9h0M148.5 119.4h0M159.9 90.6h0M146.1 110.8h0M143.3 104.0h0M173.1 99.9h0M146.4 80.9h0M104.0 134.2h0M151.4 84.3h0M140.1 66.0h0M149.5 111.0h0M161.0 109.6h0M145.6 82.0h0M136.1 99.2h0M159.7 136.7h0M132.5 77.9h0M125.5 97.6h0M118.9 117.3h0M165.1 137.9h0M155.7 72.3h0M132.7 116.9h0M103.7 160.2h0M146.1 51.2h0M143.2 122.7h0M140.0 89.4h0M123.1 142.5h0M150.0 136.6h0M136.8 127.8h0M171.7 83.5h0M137.5 127.2h0M148.0 124.6h0M157.9 134.8h0M107.8 111.0h0M171.6 70.9h0M135.0 150.6h0M150.7 149.3h0M160.7 104.4h0M145.8 108.2h0M172.8 117.0h0M171.6 109.1h0M131.1 133.4h0M166.3 116.2h0M96.6 128.7h0M177.4 66.9h0M181.0 79.1h0M118.0 160.7h0M155.6 128.0h0M191.2 116.5h0M155.2 124.0h0M152.4 70.2h0M155.4 59.0h0M127.3 114.6h0M171.6 91.5h0M180.8 87.4h0M165.8 87.9h0M113.2 109.7h0M150.0 128.4h0M161.8 98.9h0M147.3 126.0h0M164.6 80.8h0M159.4 126.3h0M158.5 124.5h0M137.5 139.2h0M138.0 92.2h0M146.3 129.2h0M130.2 102.4h0M163.8 80.6h0M121.4 137.1h0M152.8 101.7h0M176.0 93.4h0M145.0 56.5h0M132.2 108.5h0M141.9 137.7h0M113.2 93.1h0M143.5 63.8h0M128.1 117.7h0M167.5 111.5h0M133.7 105.6h0M183.2 83.3h0M169.3 86.5h0M154.8 104.2h0M156.2 137.3h0M160.4 107.4h0M140.6 102.3h0M154.7 36.0h0M149.1 109.2h0M158.5 108.4h0M159.3 126.4h0M166.8 129.9h0M152.4 125.6h0M133.8 80.3h0M145.8 65.6h0M166.8 109.7h0M140.9 109.6h0M154.8 89.8h0M132.9 162.3h0M130.1 107.3h0M130.8 99.7h0M123.8 94.1h0M129.9 130.2h0M130.1 112.1h0M159.2 160.7h0M154.7 96.2h0M143.3 89.8h0M152.4 127.1h0M139.3 129.7h0M158.4 117.4h0M197.7 46.0h0M158.9 98.9h0M146.9 124.0h0M148.3 114.5h0M132.6 101.4h0M144.0 107.5h0M129.0 163.9h0M136.0 135.0h0M144.3 124.2h0M139.6 81.1h0M171.7 138.0h0M130.5 136.3h0M121.8 102.8h0M116.5 101.0h0M141.6 145.9h0M131.3 125.7h0M132.7 125.7h0M142.7 73.4h0M132.3 125.0h0M160.0 130.9h0M118.9 173.1h0M145.9 75.3h0M152.4 131.9h0M162.2 113.5h0M133.6 148.1h0M140.1 88.4h0M126.1 122.4h0M206.3 56.4h0M141.4 102.7h0M155.1 110.5h0M137.7 143.0h0M143.4 148.1h0M133.7 137.8h0M167.5 81.7h0M170.8 98.5h0M135.0 131.1h0M169.0 117.5h0M138.7 138.0h0M137.2 112.7h0M179.2 57.3h0M176.0 89.7h0M177.4 95.8h0M128.7 134.6h0M142.3 96.5h0M137.4 74.8h0M129.6 145.1h0M121.1 135.2h0M134.4 139.4h0M132.0 111.6h0M160.8 108.9h0M137.1 132.2h0M131.4 134.6h0M132.2 123.5h0M108.6 117.9h0M174.6 82.4h0M140.7 89.3h0M143.2 117.6h0M160.9 112.6h0M147.3 128.2h0M145.6 104.3h0M123.3 86.5h0M154.7 86.9h0M108.5 165.7h0M106.6 100.6h0M143.7 64.7h0M164.8 100.8h0M188.5 51.9h0M153.0 91.8h0M138.0 106.8h0M164.0 94.8h0M137.1 93.7h0M126.5 100.9h0M156.0 99.0h0M131.3 93.3h0M122.5 121.8h0M181.1 102.9h0M141.5 82.2h0M155.8 57.4h0M161.4 112.4h0M155.8 120.4h0M114.0 187.9h0M177.6 107.2h0M148.2 118.1h0M154.2 148.0h0M118.7 118.5h0M153.1 54.6h0M130.1 123.1h0M158.0 110.4h0M113.3 107.4h0M184.5 120.2h0M129.3 105.8h0M150.3 65.4h0M146.1 82.9h0M137.0 74.0h0M127.8 126.1h0M157.2 107.9h0M139.1 179.2h0M154.0 100.4h0M155.6 87.1h0M146.6 91.8h0M176.4 113.2h0M118.6 111.0h0M133.8 78.5h0M150.8 76.5h0M154.5 103.1h0M166.2 64.8h0M157.0 132.9h0M140.9 83.6h0M129.6 141.1h0M131.1 111.5h0M108.3 117.0h0M120.7 129.0h0M145.8 145.9h0M136.7 108.1h0M142.9 138.3h0M128.9 105.1h0M120.9 155.4h0M168.8 78.8h0M146.5 112.4h0M154.3 115.5h0M157.0 97.4h0M127.7 71.5h0M193.7 111.5h0M108.8 141.6h0M129.1 103.4h0M150.5 91.4h0M149.6 124.5h0M152.2 138.6h0M164.5 94.5h0M183.2 62.1h0M111.2 127.4h0"/>
<path stroke="#fdbd6f" stroke-width="1.5" stroke-linecap="square" d="M172.8 89.2h0M210.7 59.5h0M187.1 104.5h0M174.3 108.3h0M182.8 45.3h0M173.1 47.2h0M177.9 78.4h0M187.8 103.5h0M209.2 59.0h0M206.4 38.7h0M190.5 109.4h0M180.3 91.2h0M206.7 98.0h0M176.8 107.2h0M208.8 102.3h0M192.1 42.9h0M179.1 117.3h0M190.8 79.3h0M198.3 77.6h0M185.2 83.5h0M194.6 83.8h0M188.6 81.9h0M193.0 102.8h0M188.7 106.4h0M176.5 72.3h0M185.5 61.6h0M199.4 127.1h0M168.1 134.8h0M195.9 93.1h0M195.8 112.3h0M191.8 69.1h0M205.9 60.2h0M213.0 61.6h0M183.1 85.5h0M206.6 47.0h0M172.3 88.3h0M214.3 80.1h0M172.4 185.7h0M193.3 64.0h0M181.7 84.6h0M194.1 120.4h0M210.8 60.5h0M204.4 54.6h0M214.8 88.6h0M224.2 87.5h0M175.9 134.6h0M188.3 114.4h0M185.6 87.7h0M166.8 117.9h0M200.6 90.8h0M221.4 46.1h0M191.2 75.1h0M210.9 73.9h0M206.7 63.9h0M194.4 53.9h0M159.3 64.5h0M190.0 36.8h0M222.5 66.3h0M185.2 115.8h0M184.8 94.8h0M213.5 99.0h0M200.9 76.6h0M188.5 108.8h0M182.2 106.7h0M163.9 110.2h0M181.4 48.5h0M195.1 116.6h0M190.4 130.5h0M199.2 67.2h0M200.1 105.9h0M180.9 63.5h0M186.8 107.6h0M196.9 17.4h0M184.2 93.4h0M195.9 50.6h0M193.0 50.5h0M202.7 45.1h0M195.1 71.6h0M196.3 83.3h0M215.1 73.6h0M181.3 39.1h0M185.5 91.1h0M216.2 79.5h0M210.3 93.9h0M186.5 67.3h0M212.5 28.6h0M203.1 103.6h0M188.1 83.5h0M177.8 67.9h0M188.3 114.9h0M180.7 61.8h0M188.7 59.6h0M186.7 91.1h0M182.1 105.1h0"/>
<path stroke="#feeda4" stroke-width="1.5" stroke-linecap="square" d="M184.6 105.2h0M200.2 76.5h0M215.3 63.7h0M187.6 79.4h0M182.9 71.2h0M176.8 60.6h0M183.8 152.2h0M192.5 57.2h0M189.1 94.2h0M182.8 51.4h0M171.4 118.2h0M195.5 100.0h0M165.6 99.4h0M179.4 121.1h0M199.0 61.5h0M192.7 53.2h0M178.4 130.2h0M200.7 61.7h0M203.1 81.5h0M178.0 120.1h0M207.1 78.1h0M181.4 110.7h0M180.6 121.2h0M205.8 50.3h0M178.2 86.1h0M188.5 154.9h0M171.6 115.9h0M174.6 90.6h0M186.5 80.9h0M203.9 60.3h0M189.2 101.2h0M200.6 66.0h0M148.4 69.3h0M184.3 72.7h0M187.8 77.4h0M179.2 139.9h0M186.3 87.9h0M195.9 76.0h0M170.0 118.1h0M198.5 74.6h0M185.3 70.3h0M176.7 108.2h0M186.3 70.5h0M187.6 82.1h0M178.6 69.6h0M183.3 116.4h0M166.5 108.9h0M186.5 119.0h0M175.8 118.1h0M180.0 122.1h0M164.6 83.4h0M180.9 106.5h0M196.0 39.2h0M169.7 72.2h0M186.2 85.7h0M169.3 117.8h0M189.5 57.0h0M193.0 86.1h0M194.5 67.5h0M161.8 90.9h0M133.0 149.5h0M185.5 104.5h0M189.0 118.5h0M198.4 61.3h0M176.1 151.1h0M169.6 92.1h0M177.7 122.3h0M202.0 99.3h0M198.8 101.7h0M170.2 127.1h0M185.9 61.7h0M180.9 97.9h0M193.3 98.6h0M189.8 91.8h0M202.1 92.6h0M191.1 80.2h0M153.8 121.0h0M198.6 66.1h0M178.5 74.4h0M193.4 20.8h0M184.4 99.7h0M194.2 56.8h0M215.1 68.6h0M178.7 87.5h0M211.2 69.1h0M175.2 104.8h0M189.1 58.7h0M179.4 45.8h0M161.8 83.3h0M143.1 138.3h0M153.7 126.3h0M187.5 106.9h0M189.3 67.7h0M192.4 95.9h0M183.6 89.4h0M207.3 66.3h0M194.4 57.5h0M151.6 114.0h0M213.1 75.8h0M234.6 62.8h0M204.8 54.7h0M191.1 39.1h0M205.1 59.0h0M145.1 96.4h0M163.9 82.6h0M206.6 62.3h0M233.2 106.1h0M156.0 100.8h0M161.3 76.4h0M210.9 89.4h0M219.5 75.8h0M183.3 115.5h0M130.0 110.7h0M218.3 80.4h0M200.1 58.9h0M191.3 71.6h0M182.0 117.4h0M208.7 130.1h0M180.8 45.8h0M148.5 70.3h0M187.1 63.7h0M204.1 77.6h0M156.0 103.4h0M201.1 63.2h0M159.6 101.6h0M202.5 93.6h0M185.0 84.1h0M202.5 108.1h0M192.2 38.7h0M194.0 109.1h0M199.2 81.7h0M179.7 98.2h0M189.0 109.4h0M169.6 111.2h0M182.3 90.7h0M190.0 113.6h0M201.1 82.2h0M180.4 81.4h0M204.3 94.2h0M164.3 121.1h0M178.1 105.3h0M178.6 54.8h0M178.5 120.3h0M166.1 133.9h0M186.4 60.1h0M192.5 102.2h0M186.3 66.0h0M179.5 121.0h0M177.0 67.9h0M209.0 93.8h0M226.3 80.4h0M196.5 74.7h0M181.7 117.4h0M200.3 102.6h0M192.6 87.7h0M174.6 80.5h0M195.8 127.0h0M163.4 82.2h0M146.7 99.1h0M191.3 93.5h0M184.1 65.6h0M178.4 89.7h0M189.9 63.3h0M203.1 92.5h0M216.1 62.3h0M149.0 73.3h0M175.7 70.2h0M188.3 80.9h0M189.3 100.3h0M172.9 117.0h0M180.0 96.2h0M174.3 102.4h0M196.9 144.5h0M187.1 91.4h0M200.0 93.1h0M200.7 76.3h0M143.2 82.7h0M174.4 134.8h0M181.2 78.4h0M224.8 22.9h0M189.8 72.0h0M196.6 85.9h0M199.2 53.5h0M203.3 77.7h0M147.4 94.7h0M181.7 65.0h0M199.4 114.8h0M203.2 134.3h0M165.3 111.5h0M198.3 92.1h0M203.6 70.8h0M199.7 91.3h0M160.4 83.8h0M219.4 120.1h0M213.8 64.4h0M178.4 53.8h0M185.0 78.9h0M173.2 62.3h0M158.0 128.9h0M190.6 76.2h0M186.1 126.4h0M177.0 55.1h0M197.6 102.0h0M205.7 71.8h0M179.5 126.8h0M172.8 99.3h0M204.5 113.3h0M186.0 81.9h0M179.7 41.6h0M184.0 76.1h0M217.0 24.1h0M210.6 78.7h0M200.4 67.4h0M211.0 78.6h0M205.4 71.7h0M161.2 111.2h0M158.0 117.8h0M209.0 115.8h0M167.7 98.1h0M187.2 66.0h0M181.6 118.9h0M186.9 113.7h0M184.4 89.5h0M182.3 74.8h0M159.1 70.8h0M209.7 116.2h0M201.1 132.7h0M205.0 88.9h0M187.4 69.9h0M229.4 61.3h0M185.8 87.6h0M177.6 124.9h0M210.0 55.1h0M194.0 110.3h0M180.0 69.8h0M161.1 107.7h0M215.1 48.9h0M171.4 90.1h0M197.6 87.3h0M161.5 100.2h0M186.6 100.4h0M192.0 91.1h0M213.1 99.2h0M166.6 136.5h0M193.4 58.7h0M200.8 104.9h0M182.7 88.7h0M187.7 105.9h0M176.5 86.2h0M138.9 95.5h0M193.7 72.3h0M183.0 133.5h0M201.7 107.1h0M167.4 63.4h0M193.5 102.3h0M186.8 121.9h0M209.9 68.8h0M196.7 94.8h0M165.9 52.0h0M198.4 108.9h0M181.9 74.0h0M225.5 69.4h0M160.4 85.5h0M199.2 80.9h0M167.7 136.0h0M187.3 52.3h0M209.9 124.3h0M165.1 84.6h0M170.8 60.9h0M187.7 158.8h0M195.8 79.6h0M201.5 67.6h0M178.8 102.5h0M205.9 32.9h0M159.8 64.7h0M198.6 98.4h0M225.2 58.2h0M182.0 86.6h0M191.7 58.7h0M166.0 56.4h0M176.6 122.1h0M185.4 57.6h0M161.0 128.4h0M167.5 95.8h0M190.7 67.8h0"/>
<path stroke="#71a9cf" stroke-width="1.5" stroke-linecap="square" d="M145.4 154.3h0M148.8 81.4h0M138.1 100.4h0M149.8 103.4h0M136.0 84.9h0M139.6 140.0h0M144.1 109.4h0M133.4 114.6h0M136.8 125.1h0M158.4 98.5h0M124.6 113.6h0M122.2 133.7h0M134.8 127.8h0M142.4 132.9h0M150.9 113.1h0M122.9 64.8h0M138.8 93.8h0M158.8 123.6h0M169.2 91.1h0M125.6 90.9h0M141.5 115.9h0M133.9 149.7h0M154.3 104.6h0M117.0 99.2h0M159.2 159.8h0M144.1 76.6h0M127.7 127.5h0M138.3 110.0h0M141.9 102.0h0M136.1 128.8h0M157.7 98.7h0M111.9 131.7h0M142.1 103.1h0M121.6 106.5h0M125.4 111.8h0M112.5 165.4h0M126.0 121.1h0M113.7 53.6h0M151.2 89.5h0M152.9 106.9h0M146.7 134.9h0M133.6 104.1h0M146.4 137.2h0M138.3 152.2h0M145.5 122.3h0M137.7 76.0h0M151.6 73.8h0M151.0 138.1h0M137.5 115.1h0M158.0 101.7h0M155.1 104.5h0M115.0 156.5h0M150.1 116.9h0M128.1 94.1h0M139.0 99.6h0M142.7 120.4h0M122.0 131.0h0M128.4 42.0h0M116.5 154.9h0M145.0 123.5h0M127.8 105.4h0M157.7 80.7h0M124.5 130.9h0M150.1 117.2h0M143.1 130.4h0M118.7 114.2h0M152.2 85.4h0M126.4 80.3h0M132.3 123.3h0M116.6 149.4h0M140.0 129.2h0M142.9 118.4h0M128.8 85.3h0M133.2 106.7h0M142.7 81.6h0M137.6 106.6h0M155.9 128.3h0M151.4 116.0h0M131.7 109.6h0M120.5 141.7h0M127.7 54.9h0M143.4 83.9h0M137.9 105.8h0M137.9 136.0h0M110.1 142.9h0M135.7 84.7h0M137.6 162.7h0M132.0 137.3h0M102.6 179.4h0M131.0 96.7h0M157.7 81.8h0M124.5 136.2h0M157.9 107.9h0M144.1 104.0h0M159.3 109.7h0M124.7 118.2h0M151.6 87.3h0M152.4 81.8h0M154.0 157.6h0M155.0 105.1h0M125.7 63.1h0M167.1 95.3h0M128.9 148.7h0M136.9 126.7h0M155.5 107.6h0M116.1 89.7h0M141.3 56.8h0M146.9 93.2h0M156.9 81.1h0M160.6 97.8h0M170.7 55.7h0M143.0 88.4h0M122.7 151.9h0M137.8 143.2h0M137.1 97.1h0M116.9 142.0h0M131.4 161.7h0M115.1 99.9h0M150.8 144.3h0M140.2 113.5h0M149.7 115.2h0M136.3 107.2h0M145.1 139.5h0M141.0 168.6h0M131.9 129.6h0M137.1 93.8h0M150.1 92.1h0M132.8 109.0h0M153.7 76.8h0M129.1 180.4h0M137.8 97.8h0M168.5 111.1h0M137.3 189.5h0M129.3 68.6h0M144.5 110.5h0M140.5 115.2h0M143.3 74.4h0M137.5 84.7h0M137.5 107.0h0M133.3 54.4h0M129.6 98.6h0M134.3 145.1h0M129.8 94.3h0M131.3 99.8h0M152.2 76.8h0M136.0 108.2h0M112.9 130.1h0M161.2 79.1h0M129.4 140.9h0M158.2 144.6h0M163.3 77.8h0M164.5 44.3h0M158.4 119.3h0M117.3 107.6h0M127.1 100.4h0M128.9 146.1h0M145.1 132.6h0M147.8 116.5h0M135.3 156.9h0M132.2 138.6h0M139.0 86.0h0M154.0 171.3h0M165.3 90.4h0M179.3 107.0h0M176.9 96.1h0M122.6 147.4h0M149.5 95.2h0M142.9 103.8h0M138.4 99.2h0M123.6 131.1h0M135.3 99.4h0M138.3 94.8h0M122.0 137.4h0M136.7 134.8h0M150.5 71.9h0M147.3 129.1h0M145.3 106.0h0M123.1 144.8h0M134.9 104.2h0M150.9 138.9h0M134.4 130.9h0M146.1 161.7h0M121.9 122.5h0M130.6 141.4h0M145.1 79.4h0M142.7 133.2h0M116.4 126.3h0M163.0 147.8h0M113.2 173.7h0M145.8 110.0h0M150.6 80.0h0M175.9 118.9h0M152.9 123.4h0M141.1 115.2h0M135.6 86.6h0M135.7 131.3h0M115.9 128.2h0M153.2 101.2h0M167.3 92.7h0M159.3 172.0h0M123.3 168.2h0M139.0 84.5h0M125.1 124.8h0M162.0 113.4h0M113.7 170.9h0M113.3 125.2h0M140.7 80.2h0M147.5 108.4h0M132.7 64.8h0M144.7 106.9h0M128.8 95.9h0M122.1 145.3h0M119.5 120.6h0M131.8 106.5h0M152.9 99.6h0M159.6 100.2h0M133.1 162.7h0M133.0 154.3h0M161.8 84.1h0M130.4 97.4h0M127.7 89.9h0M161.7 39.5h0M140.4 112.2h0M135.9 97.7h0M130.7 86.6h0M126.7 120.0h0M111.1 121.8h0M156.2 132.6h0M127.2 102.3h0M154.4 112.5h0M127.4 135.4h0M128.2 91.4h0M155.2 82.8h0M146.7 102.6h0M110.8 147.2h0M147.6 97.4h0M94.4 103.2h0M137.9 125.6h0M138.7 108.3h0M141.8 100.7h0M127.4 149.8h0M154.0 111.8h0M153.1 97.3h0M157.6 120.0h0M143.1 127.0h0M160.1 95.1h0M142.9 138.9h0M145.5 131.6h0M150.9 99.0h0M132.9 140.6h0M139.8 93.9h0M133.2 102.7h0M136.7 138.2h0M113.8 102.3h0M121.1 84.8h0M150.6 120.8h0M147.9 90.5h0M154.3 140.5h0M143.6 132.1h0M157.8 77.2h0M113.7 118.9h0M124.3 104.4h0M122.7 124.1h0M159.4 125.0h0M163.5 128.1h0M131.7 171.2h0M111.6 113.5h0M145.5 77.7h0M164.9 80.3h0M134.0 102.9h0M144.2 107.3h0"/>
<path stroke="#384ba0" stroke-width="1.5" stroke-linecap="square" d="M127.3 147.9h0M146.6 153.4h0M110.2 160.4h0M113.7 141.4h0M111.6 158.7h0M112.7 163.5h0M137.9 139.9h0M121.1 152.9h0M130.0 132.5h0M135.0 75.0h0M122.8 149.1h0M114.9 125.2h0M121.5 159.8h0M116.1 105.6h0M106.0 151.5h0M123.7 156.6h0M117.0 155.2h0M160.5 105.0h0M120.3 144.1h0M112.2 140.0h0M109.6 127.1h0M140.4 76.5h0M148.9 97.5h0M109.9 158.4h0M129.2 135.6h0M136.2 115.5h0M159.2 88.4h0M114.8 162.0h0M120.4 117.0h0M109.3 142.8h0M114.5 142.5h0M95.6 163.7h0M122.1 139.1h0M159.5 117.8h0M120.4 143.3h0M122.1 133.1h0M156.0 71.5h0M121.9 138.9h0M123.1 141.7h0M117.2 133.3h0M137.7 113.9h0M101.4 140.0h0M118.4 154.3h0M114.3 132.9h0M113.7 144.0h0M112.0 141.2h0M116.9 135.5h0M106.2 140.8h0M124.2 144.5h0M144.8 113.1h0"/>
<path stroke="#edf8df" stroke-width="1.5" stroke-linecap="square" d="M145.7 103.4h0M226.8 85.7h0M166.9 111.1h0M198.9 110.4h0M170.4 99.7h0M163.1 111.3h0M188.3 93.9h0M175.6 121.2h0M218.1 74.1h0M208.0 133.9h0M167.2 105.7h0M195.8 84.3h0M181.0 51.7h0M170.6 117.1h0M161.6 58.2h0M162.7 105.4h0M235.1 68.1h0M189.4 98.6h0M196.7 81.5h0M148.1 132.4h0M152.0 123.3h0M145.7 80.7h0M204.1 71.4h0M167.0 140.7h0M142.7 67.5h0M162.2 101.8h0M149.0 124.8h0M177.4 96.9h0M162.3 78.1h0M144.6 84.8h0M194.4 83.0h0M183.4 99.7h0M190.1 98.8h0M221.3 19.8h0M147.3 96.5h0M184.8 88.4h0M183.5 113.0h0M188.8 82.5h0M128.6 123.2h0M156.9 66.2h0M166.0 137.2h0M181.4 100.9h0M139.5 86.5h0M167.5 93.5h0M177.8 112.9h0M203.1 70.4h0M191.6 68.2h0M172.7 94.1h0M169.6 103.5h0M183.7 87.4h0M184.2 115.8h0M182.3 69.9h0M187.5 99.8h0M174.8 63.1h0M185.4 94.6h0M180.0 71.4h0M193.5 97.0h0M183.6 146.9h0M180.3 101.0h0M164.9 131.0h0M201.1 68.6h0M149.3 81.5h0M185.4 90.5h0M162.3 98.6h0M179.4 84.1h0M167.0 151.8h0M176.9 41.9h0M198.3 99.1h0M189.2 81.3h0M147.6 77.5h0M208.9 72.6h0M136.5 83.6h0M161.5 68.6h0M152.6 96.1h0M149.4 100.2h0M138.2 99.8h0M182.1 122.0h0M200.0 98.5h0M187.0 80.4h0M198.5 116.4h0M181.7 58.0h0M158.9 111.9h0M160.9 108.0h0M166.7 117.7h0M179.8 109.8h0M149.0 99.9h0M210.3 52.3h0M154.5 183.8h0M183.3 106.9h0M188.3 87.6h0M192.7 140.4h0M200.1 80.5h0M207.2 88.5h0M178.9 94.4h0M141.3 89.8h0M162.7 65.9h0M171.7 112.8h0M179.1 102.8h0M178.7 62.6h0M190.6 71.1h0M155.9 86.4h0M152.6 100.6h0M180.5 92.5h0M163.9 82.4h0M216.0 46.2h0M156.1 126.5h0M162.8 72.4h0M224.4 53.1h0M146.5 138.3h0M174.1 76.5h0M159.6 122.3h0M181.9 69.1h0M190.3 67.9h0M199.9 71.9h0M175.0 136.9h0M170.6 49.4h0M195.6 113.7h0M146.8 133.6h0M160.5 86.7h0M199.0 53.1h0M160.2 64.6h0M190.2 65.3h0M177.9 108.3h0M143.7 106.8h0M194.9 100.0h0M219.9 95.7h0M180.2 117.7h0M146.0 31.0h0M188.8 66.8h0M178.8 73.3h0M154.3 141.6h0M159.5 71.1h0M210.9 91.2h0M169.1 96.3h0M204.9 100.1h0M225.0 89.3h0M175.6 99.4h0M163.7 121.0h0M162.0 82.4h0M198.3 82.0h0M146.2 125.7h0M206.5 57.2h0M178.1 72.5h0M200.4 117.3h0M213.9 88.8h0M182.7 132.2h0M165.1 125.8h0M187.6 100.1h0M201.6 120.3h0M173.3 90.9h0M186.6 89.2h0M167.9 34.2h0M135.5 194.6h0M141.7 84.2h0M182.4 99.1h0M139.1 78.1h0M153.4 105.1h0M195.8 38.0h0M173.3 157.4h0M177.4 98.6h0M169.5 95.1h0M153.0 70.6h0M171.9 89.2h0M160.2 96.1h0M144.5 122.2h0M180.0 79.6h0M205.3 57.9h0M161.5 139.7h0M191.5 85.4h0M172.2 110.4h0M155.4 97.2h0M156.2 111.8h0M158.0 71.7h0M216.1 60.4h0M209.7 81.5h0M157.6 98.4h0M159.5 58.4h0M184.7 73.8h0M177.2 75.0h0M186.0 79.6h0M174.2 127.5h0M131.0 147.2h0M195.5 91.1h0M189.3 111.2h0M143.4 124.1h0M155.5 68.3h0M158.7 137.2h0M211.1 32.8h0M169.2 92.4h0M180.1 90.1h0M188.1 34.0h0M189.9 32.4h0M189.8 81.2h0M147.4 128.1h0M185.7 110.8h0M197.5 93.7h0M154.0 93.9h0M163.9 93.7h0M165.7 63.7h0M162.0 102.4h0M165.5 117.0h0M206.6 67.9h0M182.4 88.7h0M189.7 92.2h0M184.5 137.9h0M198.9 121.7h0M191.1 104.5h0M204.7 78.9h0M135.9 140.3h0M192.7 90.6h0M192.4 62.3h0M173.8 96.6h0M185.5 70.0h0M160.6 110.5h0M179.4 107.9h0M174.0 119.1h0M157.1 49.1h0M198.0 82.1h0M171.4 80.9h0M186.2 86.9h0M175.0 91.9h0M141.4 62.5h0M184.8 76.2h0M175.3 87.6h0M198.2 98.2h0M191.2 20.8h0M207.6 88.7h0M130.7 100.5h0M162.4 95.3h0M163.5 105.3h0M184.5 62.7h0M210.1 79.9h0M175.6 133.3h0M168.1 99.7h0M183.4 66.7h0M138.9 95.0h0M166.9 103.9h0M141.2 126.3h0M150.4 90.8h0M181.1 95.1h0M188.1 85.3h0M189.5 39.2h0M133.3 127.3h0M184.3 119.6h0M163.9 116.5h0M216.5 78.5h0M176.4 88.8h0M182.4 95.9h0M164.8 96.5h0M156.0 90.7h0M191.5 66.6h0M123.0 161.8h0M172.7 86.0h0M173.1 100.9h0M175.6 138.9h0M203.4 99.0h0M159.3 87.0h0M198.1 135.5h0M221.5 31.3h0M168.5 46.3h0M137.1 99.1h0M198.7 47.8h0M204.4 92.0h0M178.1 121.5h0M180.5 84.5h0M208.6 112.3h0M195.2 105.0h0M179.2 67.1h0M201.6 114.8h0M201.7 115.1h0M156.4 110.5h0M151.0 109.1h0M194.7 80.4h0M174.4 51.8h0M195.2 56.0h0M165.4 99.2h0M118.7 132.1h0M179.9 66.3h0M186.7 86.9h0M201.7 95.3h0M187.5 98.4h0M197.6 40.3h0M202.2 104.6h0M188.7 108.2h0M181.6 97.8h0M154.7 103.7h0M157.2 75.6h0M159.4 101.1h0M175.7 111.7h0M156.5 75.7h0M175.0 73.3h0M191.8 103.2h0M148.7 109.4h0M193.5 83.8h0M153.1 93.2h0M180.5 101.8h0M169.5 101.4h0M171.6 113.3h0M185.7 34.5h0M161.2 104.8h0M197.5 95.6h0M176.1 121.5h0M174.1 120.0h0M214.3 72.3h0M154.0 94.6h0M142.0 131.1h0M189.4 81.8h0M181.9 93.5h0M173.2 115.0h0M160.8 122.3h0M180.9 75.6h0M205.3 55.4h0M155.5 95.3h0M135.9 97.7h0M155.5 110.2h0M202.5 96.9h0M195.5 80.3h0M197.4 83.4h0M160.2 84.4h0M186.7 27.5h0M184.8 92.6h0M194.8 76.5h0M159.5 144.0h0M178.7 85.7h0M140.8 89.4h0M178.3 116.0h0M166.2 137.9h0M177.0 66.1h0M226.0 103.1h0M192.4 74.2h0M188.7 78.2h0M169.9 99.9h0M169.9 102.1h0M196.0 56.3h0M190.8 97.6h0M162.6 112.1h0M180.8 91.6h0M193.9 110.0h0M204.0 71.5h0M160.7 117.4h0M188.6 149.9h0M152.2 72.9h0M194.4 15.3h0M161.4 81.0h0M160.1 117.9h0"/>
<path stroke="#333d99" stroke-width="1.5" stroke-linecap="square" d="M129.3 157.3h0M111.1 149.5h0M133.7 84.1h0M112.8 155.3h0M127.2 147.3h0M120.3 150.8h0M113.9 143.8h0M117.2 145.6h0M125.9 145.8h0M126.1 140.1h0M130.5 139.6h0M126.1 145.6h0M115.9 136.8h0M115.3 144.0h0M112.8 178.5h0M112.9 152.1h0M114.0 146.1h0M138.0 133.3h0M111.8 154.4h0M109.1 160.9h0M129.9 138.1h0M131.5 142.6h0M141.0 127.1h0M153.5 73.5h0M117.9 149.2h0M114.7 157.7h0M139.5 140.8h0M141.4 105.1h0M128.6 126.8h0M106.7 144.3h0M104.5 163.4h0M111.6 158.6h0M153.3 111.5h0M113.3 125.5h0M114.2 146.3h0M164.6 131.6h0M134.4 140.5h0M120.6 92.7h0M118.3 144.2h0M124.4 122.4h0M107.6 159.2h0M111.7 161.2h0M131.0 139.1h0M117.1 153.2h0M123.0 153.1h0M123.5 63.0h0M115.8 149.0h0M123.8 144.9h0M110.7 159.7h0M126.9 151.6h0M116.5 155.8h0M127.3 137.1h0M139.5 146.8h0M122.5 139.3h0M133.6 130.9h0M114.1 143.1h0M128.4 151.7h0M106.3 155.1h0M144.2 161.0h0M129.3 150.6h0"/>
<path stroke="#5b90c2" stroke-width="1.5" stroke-linecap="square" d="M139.2 120.5h0M140.4 104.1h0M154.3 114.8h0M123.7 129.4h0M135.7 112.3h0M128.4 121.2h0M130.5 84.0h0M94.1 166.7h0M142.3 139.0h0M130.7 91.1h0M119.7 168.3h0M133.7 94.2h0M126.8 31.9h0M141.0 103.1h0M145.0 70.1h0M126.8 125.3h0M126.9 125.3h0M132.5 134.7h0M132.9 125.9h0M142.4 83.7h0M128.4 180.2h0M148.3 100.0h0M160.6 117.7h0M122.2 101.7h0M134.9 79.5h0M139.7 116.8h0M149.9 59.1h0M153.3 84.2h0M150.5 119.7h0M140.7 88.8h0M170.4 82.3h0M104.5 147.1h0M168.9 122.0h0M135.8 136.4h0M135.2 89.3h0M127.4 81.3h0M142.2 96.8h0M148.1 76.3h0M138.2 78.1h0M137.9 178.2h0M137.4 147.8h0M178.9 80.2h0M131.0 121.3h0M151.2 91.0h0M150.1 114.5h0M142.1 106.7h0M154.8 103.6h0M133.4 117.0h0M120.9 54.2h0M138.4 151.1h0M134.4 137.6h0M146.2 130.7h0M138.8 102.2h0M127.4 147.2h0M157.4 123.6h0M124.3 124.8h0M151.6 80.0h0M142.5 108.2h0M154.5 130.9h0M127.2 141.9h0M130.0 121.5h0M158.1 99.1h0M138.0 124.2h0M137.4 125.4h0M150.3 143.7h0M120.0 88.6h0M137.1 103.6h0M115.8 131.9h0M117.0 143.3h0M124.8 180.5h0M116.7 175.8h0M118.8 150.0h0M141.5 92.1h0M141.2 89.4h0M154.6 130.1h0M160.9 122.6h0M118.6 151.1h0M159.1 90.6h0M139.5 95.4h0M137.6 125.4h0M129.5 142.2h0M123.5 122.0h0M159.4 114.4h0M146.8 83.7h0M154.9 132.9h0M141.9 95.1h0M145.8 62.8h0M167.6 75.0h0M118.0 158.5h0M134.8 123.4h0M129.6 132.1h0M160.4 53.7h0M155.9 143.8h0M135.7 165.3h0M110.3 125.1h0M124.2 155.7h0M147.8 165.7h0M121.2 155.3h0M123.1 102.6h0M162.1 77.1h0M120.6 115.6h0M137.2 136.4h0M137.2 134.6h0M133.4 108.3h0M146.9 91.3h0M129.2 151.4h0M129.8 125.3h0M159.2 103.2h0M139.2 92.2h0M123.1 133.9h0M119.2 134.2h0M114.5 134.9h0M132.2 135.3h0M148.5 105.7h0M129.4 95.3h0M142.5 138.2h0M143.4 95.4h0M129.7 160.5h0M146.1 92.0h0M157.5 144.4h0M120.2 141.2h0M141.4 47.3h0M160.0 42.3h0M143.3 99.4h0M132.3 81.7h0M129.6 115.5h0M142.0 80.8h0M144.3 100.8h0M147.7 120.7h0M123.9 150.9h0M129.5 120.7h0M142.0 104.4h0M149.4 131.6h0M153.5 123.4h0M129.3 142.6h0M127.1 111.1h0M139.0 106.4h0M157.3 125.0h0M130.2 119.9h0M138.8 64.3h0M157.3 119.4h0M169.5 93.5h0M145.7 117.1h0M127.4 155.0h0M144.8 154.0h0M117.5 71.4h0M156.6 73.7h0M140.0 88.6h0M109.0 123.1h0M137.9 118.2h0M135.0 95.7h0M134.0 115.3h0M148.7 105.8h0M103.7 182.9h0M140.8 127.0h0M130.2 82.5h0M140.9 139.1h0M136.4 127.0h0M143.8 113.5h0M130.4 81.8h0M128.3 103.1h0M170.0 86.6h0M120.2 171.1h0M133.5 126.6h0M132.3 133.2h0M144.3 95.2h0M143.9 123.1h0M129.2 117.6h0M135.2 124.3h0M166.4 99.2h0M132.1 110.9h0M142.1 80.6h0M149.8 131.3h0M140.7 116.8h0M146.2 53.7h0M121.9 106.3h0M138.1 81.8h0M117.3 144.7h0M143.9 138.8h0M140.4 116.3h0M158.8 103.2h0"/>
<path stroke="#4168ae" stroke-width="1.5" stroke-linecap="square" d="M119.9 121.9h0M114.3 109.2h0M127.4 127.9h0M136.4 136.5h0M122.8 154.4h0M131.3 107.5h0M142.3 116.3h0M120.2 148.5h0M125.2 154.0h0M148.6 84.0h0M134.0 116.1h0M129.2 133.3h0M123.3 137.2h0M111.7 130.0h0M128.1 141.3h0M156.9 114.0h0M126.8 141.6h0M119.7 107.3h0M139.0 45.0h0M117.0 133.1h0M130.8 143.3h0M114.1 126.4h0M153.0 123.1h0M109.6 144.7h0M131.7 138.9h0M123.3 98.2h0M149.7 111.3h0M127.8 120.5h0M160.7 108.7h0M154.7 89.0h0M114.0 147.3h0M129.9 127.1h0M149.3 100.9h0M150.2 86.1h0M147.0 77.2h0M124.8 104.4h0M139.7 91.9h0M104.1 152.1h0M105.0 158.5h0M118.7 139.1h0M131.4 152.3h0M108.6 157.2h0M104.4 166.5h0M137.8 119.2h0M158.9 84.2h0M111.3 138.0h0M153.5 80.8h0M153.4 145.4h0M100.8 150.0h0M139.8 89.3h0M119.8 155.8h0M159.7 58.1h0M142.0 128.0h0M163.1 102.4h0M120.8 129.9h0M132.7 141.0h0M107.1 146.6h0M107.1 159.8h0M129.9 118.9h0M146.8 84.4h0M125.6 146.1h0M115.0 143.7h0M123.7 139.2h0M109.2 169.9h0M156.9 104.4h0M147.5 112.2h0M104.7 148.7h0M114.8 181.6h0M127.4 154.0h0M140.0 109.5h0M119.6 156.7h0M131.4 116.9h0M123.5 144.6h0M134.1 135.8h0M123.7 137.9h0M128.6 132.9h0M133.1 108.2h0M155.0 134.0h0M109.0 97.1h0M117.8 132.8h0M146.0 77.2h0M138.5 127.3h0M130.7 146.7h0M129.1 106.3h0M150.0 115.6h0M121.8 142.4h0M141.6 130.8h0M121.6 148.1h0M141.3 134.9h0M101.7 157.7h0M125.9 144.1h0M104.0 163.1h0M127.3 159.0h0M109.4 137.1h0M152.2 89.1h0M131.0 131.1h0"/>
<path stroke="#fed484" stroke-width="1.5" stroke-linecap="square" d="M214.6 82.4h0M175.7 62.5h0M217.6 94.3h0M187.3 76.3h0M191.5 79.8h0M199.8 91.7h0M191.3 65.8h0M220.6 102.1h0M189.5 108.0h0M214.6 85.0h0M163.3 72.9h0M187.6 68.4h0M227.4 62.4h0M189.9 44.4h0M182.8 98.8h0M222.0 64.0h0M170.9 122.3h0M186.9 41.0h0M183.0 48.5h0M219.6 39.4h0M197.1 42.2h0M177.8 71.3h0M185.1 75.8h0M194.3 63.9h0M194.6 42.3h0M187.2 71.4h0M189.1 87.5h0M206.7 84.4h0M174.9 107.7h0M177.3 79.2h0M206.1 97.0h0M189.2 74.6h0M159.7 137.4h0M193.2 86.5h0M219.4 42.4h0M164.2 101.4h0M214.4 71.9h0M199.1 113.1h0M196.9 71.5h0M186.5 117.5h0M181.2 110.5h0M201.6 113.7h0M213.2 77.8h0M200.8 53.8h0M179.3 87.0h0M155.2 83.9h0M195.4 28.4h0M197.7 70.5h0M201.3 115.2h0M199.3 56.0h0M207.3 70.8h0M194.9 61.7h0M217.2 105.4h0M187.0 75.8h0M203.3 109.2h0M205.5 68.4h0M206.4 90.7h0M204.9 74.7h0M184.7 84.8h0M229.0 80.0h0M196.6 104.4h0M212.5 33.8h0M190.9 111.6h0M195.9 84.5h0M206.8 66.6h0M159.8 86.2h0M180.1 90.7h0M215.9 25.9h0M182.2 72.7h0M211.4 80.0h0M207.2 73.8h0M198.4 51.5h0M210.5 76.3h0M182.8 80.9h0M202.9 59.2h0M189.5 119.0h0M164.5 72.4h0M189.8 106.0h0M159.1 91.4h0M184.7 86.0h0M214.6 114.1h0M187.3 96.8h0M201.8 84.4h0M159.2 65.4h0M221.3 39.3h0M193.6 108.9h0M209.3 63.8h0M149.8 149.9h0M195.0 64.8h0M174.8 70.1h0M206.4 96.8h0M195.6 85.5h0M173.5 136.5h0M197.0 90.7h0M187.0 72.4h0M158.2 109.6h0M186.4 110.5h0M209.8 90.4h0M202.6 70.9h0M180.8 93.6h0M204.0 75.8h0M206.8 83.1h0M212.3 22.8h0M209.2 54.5h0M192.9 80.5h0M208.3 83.8h0M185.2 38.1h0M175.9 109.6h0M200.5 68.3h0M192.8 132.1h0M193.6 80.6h0M187.3 99.9h0M166.6 106.6h0M202.0 70.0h0M190.9 115.5h0M186.9 70.0h0M188.8 64.0h0M193.0 67.3h0M190.7 73.8h0M208.1 64.5h0M204.4 47.7h0M193.8 75.8h0M206.9 69.5h0M189.5 78.8h0M210.9 30.2h0M227.7 37.7h0M161.1 95.2h0M192.3 97.5h0M205.4 114.4h0M204.8 65.8h0M174.2 68.7h0M192.8 65.8h0M187.0 109.1h0M207.6 100.7h0M216.5 60.8h0M187.8 100.9h0M195.4 63.2h0M226.5 22.7h0M162.2 85.5h0M190.0 67.2h0M167.4 111.5h0M200.5 100.1h0"/>
<path stroke="#a2d2e5" stroke-width="1.5" stroke-linecap="square" d="M155.2 116.4h0M165.0 52.1h0M139.3 108.1h0M110.4 131.1h0M155.3 122.0h0M113.8 148.0h0M128.1 157.0h0M152.4 90.1h0M178.1 100.9h0M153.7 143.2h0M136.1 112.0h0M149.3 97.1h0M138.2 122.4h0M135.9 84.9h0M134.8 107.4h0M140.7 103.1h0M136.3 122.2h0M122.3 138.7h0M131.2 93.7h0M167.4 98.3h0M153.0 68.7h0M131.8 112.2h0M167.6 105.6h0M134.0 116.5h0M150.9 85.8h0M151.5 127.8h0M144.5 133.6h0M142.9 135.2h0M125.3 89.1h0M136.3 124.5h0M137.1 101.5h0M135.5 133.8h0M132.7 107.1h0M142.4 128.9h0M122.5 147.6h0M149.8 124.5h0M152.1 129.9h0M164.8 90.2h0M139.8 123.1h0M195.4 40.7h0M128.5 116.2h0M131.8 137.2h0M135.5 69.1h0M144.1 148.6h0M109.9 150.9h0M124.9 120.1h0M173.1 69.0h0M127.5 101.9h0M135.1 151.9h0M113.7 174.7h0M174.6 92.7h0M140.6 133.7h0M141.6 131.4h0M161.9 124.7h0M137.8 113.2h0M173.9 85.2h0M174.0 64.1h0M144.2 108.2h0M138.8 104.6h0M120.4 140.0h0M164.4 106.6h0M152.6 98.4h0M136.4 123.7h0M130.7 141.3h0M148.6 74.9h0M164.0 100.7h0M125.4 106.5h0M129.1 142.5h0M141.9 105.7h0M153.1 65.3h0M150.3 97.5h0M152.7 100.6h0M110.7 145.3h0M117.3 106.4h0M120.8 132.0h0M168.1 63.8h0M152.4 106.2h0M119.3 130.7h0M182.8 81.8h0M148.3 72.8h0M111.8 120.9h0M153.7 127.2h0M153.8 112.6h0M153.7 83.5h0M174.0 56.4h0M141.6 117.5h0M105.1 94.5h0M181.0 122.5h0M172.9 142.1h0M143.2 73.9h0M172.8 120.5h0M161.0 87.3h0M130.1 82.5h0M114.2 148.5h0M134.8 103.3h0M167.9 82.7h0M146.5 76.7h0M147.7 131.4h0M136.9 116.4h0M140.4 105.2h0M139.2 142.0h0M134.7 95.1h0M136.3 153.8h0M187.6 116.4h0M131.7 170.7h0M123.1 130.8h0M127.0 104.3h0M137.5 114.7h0M149.0 93.8h0M131.3 131.5h0M176.7 126.1h0M143.5 100.7h0M177.8 99.8h0M132.4 109.0h0M159.9 61.2h0M151.4 58.9h0M137.7 112.0h0M128.3 155.4h0M197.1 90.6h0M157.1 128.2h0M136.4 108.4h0M152.8 82.2h0M125.6 114.0h0M148.3 128.5h0M145.5 101.8h0M125.3 94.1h0M139.3 106.2h0M129.8 103.4h0M164.1 87.3h0M121.9 149.6h0M181.4 114.7h0M148.7 37.3h0M117.7 106.8h0M125.3 135.3h0M127.0 111.3h0M131.4 139.5h0M155.7 122.7h0M180.4 115.5h0M159.2 104.5h0M189.4 82.0h0M152.5 165.0h0M112.7 150.8h0M119.7 142.4h0M125.4 143.3h0M120.9 160.6h0M155.8 69.2h0M128.6 111.0h0M191.2 64.5h0M115.1 145.4h0M128.4 104.4h0M153.6 114.6h0M153.9 159.7h0M134.8 108.1h0M136.8 95.8h0M143.8 128.0h0M139.1 82.1h0M137.6 111.1h0M194.3 63.6h0M166.4 77.6h0M166.6 89.4h0M143.2 126.1h0M163.0 87.7h0M138.1 154.5h0M152.3 101.4h0M128.0 124.0h0M158.9 106.6h0M140.6 114.5h0M155.4 102.4h0M166.8 108.1h0M131.0 116.3h0M163.7 99.4h0M136.1 158.2h0M197.2 87.0h0M129.1 132.9h0M137.9 117.1h0M141.1 137.0h0M132.7 100.4h0M124.8 110.8h0M108.9 126.7h0M147.3 77.9h0M134.4 139.9h0M127.3 182.2h0M164.6 83.9h0M144.6 119.8h0M142.4 132.7h0M163.4 76.6h0M132.8 108.7h0M166.8 94.0h0M159.0 85.1h0M148.0 134.8h0M150.4 108.0h0M110.3 140.7h0M120.1 117.0h0M147.4 85.7h0M164.1 124.5h0M122.2 145.5h0M176.8 129.8h0M150.6 108.9h0M130.6 129.2h0M156.5 130.1h0M142.9 168.4h0M159.2 85.6h0M150.5 94.8h0M121.7 142.6h0M138.3 125.4h0M149.8 83.2h0M139.6 126.5h0M131.5 126.7h0M139.0 96.0h0M141.1 102.8h0M148.5 105.4h0M160.6 99.7h0M132.7 114.4h0M149.8 90.9h0M155.0 74.7h0M155.7 101.0h0M140.0 95.8h0M121.7 122.0h0M142.5 129.3h0M187.4 93.4h0M169.7 57.1h0M131.1 112.5h0M151.0 104.6h0M162.5 138.6h0M174.2 128.8h0M122.2 113.9h0M176.5 66.8h0M136.1 42.2h0M123.1 135.9h0M128.6 101.9h0M156.0 104.8h0M122.9 135.0h0M128.4 123.8h0M149.4 127.0h0M144.8 123.5h0M126.5 120.1h0M151.9 142.5h0M115.5 138.9h0M147.3 91.7h0M155.7 160.9h0M136.1 96.3h0M125.3 101.6h0M154.7 99.4h0M111.8 113.0h0M149.4 86.9h0M121.3 188.9h0M139.9 89.4h0M152.9 39.1h0M137.2 86.9h0M178.9 86.3h0M141.7 157.0h0M149.4 146.9h0M136.6 118.8h0M160.2 68.8h0M130.8 143.3h0M133.8 94.0h0"/>
<path stroke="#fff4af" stroke-width="1.5" stroke-linecap="square" d="M213.0 57.9h0M170.8 55.3h0M155.2 106.8h0M174.0 84.3h0M202.9 66.5h0M194.6 86.7h0M195.1 99.3h0M141.3 94.2h0M203.6 120.1h0M158.8 101.4h0M185.7 86.7h0M176.1 81.4h0M153.4 124.5h0M188.0 96.9h0M214.9 103.5h0M148.3 70.2h0M202.0 131.5h0M203.3 82.6h0M174.5 143.1h0M173.0 92.4h0M205.7 45.1h0M188.7 96.9h0M188.3 118.9h0M182.2 68.9h0M153.4 116.0h0M130.0 110.4h0M173.9 150.1h0M209.1 69.9h0M208.2 73.1h0M185.8 65.5h0M148.1 108.5h0M160.7 88.7h0M206.1 102.1h0M171.8 95.0h0M177.8 127.7h0M184.5 91.9h0M163.3 91.3h0M157.0 116.5h0M144.7 108.9h0M192.7 104.5h0M194.3 112.3h0M190.5 51.7h0M176.9 52.4h0M173.1 81.1h0M175.1 54.3h0M134.7 135.0h0M165.6 106.3h0M218.6 44.7h0M197.5 80.9h0M196.5 88.0h0M177.4 91.0h0M181.4 92.2h0M185.5 93.7h0M198.6 112.1h0M201.4 104.0h0M166.7 99.1h0M180.1 95.8h0M171.3 103.3h0M171.4 157.6h0M190.8 72.0h0M217.8 68.8h0M190.7 112.0h0M194.8 92.4h0M162.5 133.9h0M183.5 136.2h0M158.1 114.1h0M193.5 87.9h0M183.0 94.2h0M201.3 76.6h0M209.9 41.1h0M211.0 132.9h0M157.9 109.7h0M185.4 108.0h0M170.2 148.4h0M148.9 139.3h0M188.7 98.9h0M184.7 94.2h0M218.0 62.0h0M203.5 93.8h0M191.4 90.0h0M201.0 83.2h0M167.8 62.0h0M161.6 99.0h0M181.2 112.8h0M187.6 80.6h0M171.7 67.5h0M187.4 112.6h0M202.2 86.8h0M195.5 65.0h0M207.7 60.1h0M166.1 55.7h0M204.7 70.8h0M200.1 66.8h0M205.3 104.4h0M178.0 49.1h0M167.2 104.1h0M189.7 109.9h0M220.0 81.9h0M196.6 78.1h0M218.4 49.2h0M187.7 89.5h0M167.4 103.3h0M197.1 64.4h0M213.7 36.1h0M173.2 62.0h0M215.5 85.4h0M197.1 82.2h0M193.8 99.8h0M195.9 59.8h0M202.5 50.0h0M179.5 114.7h0M198.6 113.8h0M191.2 63.3h0M171.4 72.3h0M193.1 138.2h0M204.9 54.8h0M187.3 123.3h0M155.0 96.2h0M209.5 64.8h0M201.8 28.5h0M217.4 100.7h0M170.8 116.4h0M201.4 47.1h0M184.9 106.2h0M206.2 85.2h0M207.2 46.4h0M183.1 91.3h0M153.6 111.9h0M167.4 98.3h0M205.4 119.4h0M161.5 100.0h0M202.0 109.3h0M182.4 84.7h0M179.2 89.6h0M182.8 70.4h0M163.5 102.5h0M170.2 59.4h0M206.0 131.5h0M181.1 52.7h0M190.4 88.8h0M207.1 114.2h0M154.6 148.9h0M184.5 68.0h0M159.6 78.2h0M146.7 65.4h0M185.4 88.4h0M172.0 104.0h0M190.1 105.3h0M186.5 120.3h0M140.8 112.0h0M196.5 54.9h0M183.3 91.9h0M201.3 119.7h0M196.5 67.1h0M207.5 76.6h0M153.1 117.3h0M149.1 60.2h0M238.3 87.6h0M170.4 117.0h0M199.3 86.8h0M196.9 75.4h0M198.9 91.6h0M181.3 93.4h0M181.9 117.5h0M167.3 129.8h0M205.5 95.7h0M211.2 79.1h0M146.3 146.8h0M204.1 90.8h0M188.8 116.7h0M215.0 69.6h0M181.9 90.7h0M209.9 64.7h0M196.7 109.5h0M187.4 83.1h0M169.0 51.2h0M191.6 85.2h0M170.3 78.4h0M200.8 107.9h0M189.0 86.1h0M172.0 71.6h0M180.9 102.4h0M150.1 95.0h0M163.5 78.4h0M196.5 112.9h0M215.4 62.5h0M196.6 63.2h0M227.4 90.0h0M177.3 119.4h0M196.4 81.3h0M167.6 103.3h0M158.4 90.1h0M181.3 133.9h0M194.4 52.6h0M161.4 95.3h0M179.2 76.9h0M206.2 92.2h0M188.0 107.3h0M181.9 78.2h0M215.3 75.9h0M177.0 58.8h0M161.0 63.2h0M194.6 60.7h0M170.6 112.0h0M159.1 143.2h0M184.5 105.6h0M201.9 104.5h0M193.0 81.6h0M214.5 45.5h0M201.3 90.0h0M152.7 67.3h0M209.4 72.8h0M198.3 92.0h0M205.9 83.7h0M175.4 98.9h0M178.9 72.0h0M179.6 112.9h0M159.6 130.4h0M174.2 134.6h0M192.0 99.5h0M187.3 84.5h0M183.9 88.8h0M218.1 72.5h0M194.5 82.2h0M212.8 54.9h0M223.6 67.7h0M167.2 133.7h0M180.4 88.1h0M197.9 105.2h0M200.0 74.2h0M172.0 87.1h0M194.7 36.6h0M228.6 71.5h0M207.2 47.1h0M133.9 138.8h0M209.8 121.7h0M165.6 83.8h0M151.3 95.4h0M163.4 142.4h0M183.1 112.1h0M196.1 63.5h0M210.7 105.6h0M211.9 61.3h0M181.7 93.1h0M183.4 70.1h0M167.2 68.9h0M194.0 91.5h0M215.0 60.4h0M172.9 102.3h0M182.8 90.2h0M153.3 84.4h0M177.3 58.1h0M203.8 77.7h0M193.0 52.1h0M168.7 103.3h0M174.3 105.5h0M193.0 47.6h0M193.0 57.0h0M198.8 117.7h0M179.0 91.4h0M170.7 114.9h0M178.1 77.1h0M176.5 72.3h0M173.7 120.9h0M184.4 105.3h0M153.4 136.2h0M188.8 62.7h0M163.4 109.0h0M200.8 64.9h0M158.4 93.5h0M154.8 104.1h0M203.8 48.0h0M206.0 64.5h0M149.9 113.1h0M193.4 84.6h0M176.7 135.2h0M171.9 106.3h0M210.5 47.0h0M142.1 132.2h0M199.1 93.6h0M170.3 87.4h0M179.0 72.9h0M147.4 97.4h0M198.1 59.9h0M198.0 87.5h0M152.2 100.3h0M170.1 113.3h0M198.5 103.0h0M176.9 68.3h0M209.8 68.6h0M190.4 61.3h0M194.8 36.1h0M187.0 115.6h0M193.3 80.9h0M174.6 79.8h0M175.6 81.2h0M188.4 77.4h0M178.7 83.6h0M199.0 74.9h0M180.4 100.3h0M179.5 94.8h0M195.1 68.8h0M182.2 62.7h0M213.4 95.6h0M210.8 116.5h0M154.8 75.8h0M211.3 63.8h0M170.8 132.3h0M180.2 44.4h0M161.2 145.0h0M172.8 112.7h0M176.4 64.7h0M175.1 123.2h0M196.9 76.6h0M185.5 94.0h0M182.1 107.3h0"/>
<path stroke="#fedf8f" stroke-width="1.5" stroke-linecap="square" d="M191.1 83.8h0M191.6 107.8h0M181.5 121.8h0M217.3 58.9h0M211.4 85.1h0M188.6 79.0h0M203.6 56.1h0M211.4 64.2h0M204.2 97.6h0M174.8 113.1h0M188.2 67.5h0M167.4 89.3h0M220.5 47.4h0M203.4 88.7h0M168.5 98.6h0M177.0 118.4h0M204.6 105.0h0M165.9 54.4h0M155.8 93.4h0M185.7 114.3h0M207.8 75.9h0M186.9 99.8h0M187.1 95.5h0M181.2 105.4h0M166.4 142.5h0M187.1 81.5h0M169.7 144.6h0M190.9 100.2h0M216.2 82.4h0M192.1 114.9h0M187.4 93.1h0M209.7 88.4h0M176.8 98.5h0M179.5 82.2h0M184.0 90.3h0M165.8 89.0h0M157.6 132.0h0M196.9 81.7h0M198.4 45.0h0M201.6 91.7h0M187.9 106.0h0M203.3 82.4h0M179.7 115.5h0M187.7 64.9h0M202.6 66.8h0M218.0 100.6h0M203.3 72.9h0M196.8 70.2h0M195.5 116.5h0M234.2 65.0h0M161.4 113.3h0M190.2 118.9h0M191.0 115.3h0M194.1 56.5h0M204.6 102.3h0M203.8 75.9h0M206.2 111.0h0M215.2 76.1h0M206.1 64.0h0M184.7 103.4h0M196.1 147.3h0M215.0 97.7h0M171.0 101.2h0M184.6 28.2h0M196.7 60.6h0M201.2 79.1h0M203.9 65.6h0M191.1 62.0h0M178.2 161.9h0M200.0 81.8h0M169.8 118.5h0M204.8 50.0h0M215.9 94.5h0M201.5 130.9h0M205.7 53.9h0M192.0 53.5h0M188.8 131.6h0M200.2 101.4h0M189.5 92.3h0M205.2 89.5h0M181.3 82.7h0M175.8 105.4h0M184.6 79.5h0M183.9 115.9h0M198.7 98.1h0M210.4 112.5h0M182.5 86.3h0M202.2 47.8h0M178.3 85.1h0M154.0 106.3h0M195.0 51.7h0M194.6 76.1h0M174.6 83.5h0M203.6 49.4h0M166.2 105.9h0M189.4 124.6h0M198.1 50.2h0M200.6 91.1h0M194.2 74.6h0M190.6 89.6h0M198.4 54.2h0M184.6 81.7h0M167.6 91.9h0M190.5 82.9h0M211.3 93.6h0M188.7 92.8h0M200.5 96.9h0M196.3 88.3h0M194.7 74.0h0M161.2 94.8h0M182.0 102.5h0M174.1 70.8h0M198.1 54.5h0M183.0 61.2h0M188.4 38.5h0M186.5 114.7h0M190.2 74.0h0M178.9 109.6h0M195.6 72.5h0M187.2 102.0h0M207.1 39.2h0M178.9 115.2h0M188.7 72.3h0M226.4 50.1h0M171.4 108.2h0M180.5 74.6h0M182.6 82.5h0M173.7 69.4h0M196.7 59.7h0M172.1 127.0h0M196.6 72.1h0M194.2 58.2h0M192.1 97.7h0M173.3 108.4h0M156.5 136.2h0M164.8 97.1h0M186.5 74.6h0M208.3 94.1h0M153.5 88.5h0M180.4 92.0h0M177.8 113.2h0M173.8 104.9h0M197.9 43.5h0M177.0 108.0h0M207.8 56.8h0M191.8 112.8h0M184.6 82.8h0M195.4 91.4h0M198.4 74.0h0M185.5 83.6h0M148.7 63.7h0M168.2 79.2h0M171.4 82.2h0M177.8 130.4h0M172.0 121.2h0M193.1 64.9h0M192.4 116.5h0M213.0 70.6h0M172.8 123.0h0M201.6 66.4h0M186.7 96.5h0M202.5 84.5h0M223.1 99.5h0M182.8 59.8h0M209.0 54.4h0M200.1 102.0h0M201.6 63.0h0M197.6 54.0h0M201.7 127.8h0M215.8 71.4h0M201.5 65.7h0M182.8 84.8h0M188.7 46.7h0M196.0 84.8h0M184.4 105.5h0M190.1 113.1h0M193.5 63.6h0M184.0 54.5h0"/>
<path stroke="#5183bb" stroke-width="1.5" stroke-linecap="square" d="M115.3 143.6h0M145.0 101.7h0M159.2 113.6h0M125.9 155.4h0M162.3 44.3h0M130.0 121.9h0M124.8 113.2h0M146.5 151.0h0M131.5 168.7h0M134.3 101.7h0M160.3 100.7h0M125.5 150.2h0M157.5 143.7h0M130.2 98.4h0M148.7 59.0h0M115.2 154.9h0M126.7 100.4h0M152.9 133.1h0M146.1 119.5h0M136.2 161.0h0M112.1 129.5h0M128.7 105.1h0M143.9 93.3h0M105.1 154.5h0M155.2 121.2h0M131.2 84.4h0M124.5 101.3h0M151.0 101.7h0M139.5 87.2h0M124.6 75.1h0M114.8 118.6h0M106.3 112.6h0M145.9 143.8h0M123.1 121.5h0M131.4 99.6h0M163.8 87.0h0M136.8 55.0h0M125.9 113.6h0M117.6 139.7h0M145.6 117.4h0M117.3 90.3h0M164.0 63.7h0M129.0 124.4h0M87.8 166.6h0M123.1 138.7h0M147.9 65.9h0M136.1 88.1h0M150.2 110.2h0M115.0 135.2h0M135.6 142.4h0M120.4 67.9h0M158.1 97.0h0M122.3 150.6h0M111.1 140.6h0M116.4 110.9h0M112.6 112.3h0M180.8 54.5h0M147.2 82.6h0M139.0 132.9h0M153.2 124.4h0M129.5 131.3h0M140.7 125.1h0M121.0 140.1h0M123.3 100.3h0M149.9 109.4h0M131.4 150.0h0M144.8 136.6h0M149.3 150.6h0M138.6 134.5h0M113.3 145.4h0M134.0 167.7h0M124.8 126.4h0M138.5 138.8h0M125.9 76.8h0M109.0 152.3h0M123.3 122.7h0M154.5 103.1h0M140.3 99.1h0M108.1 125.8h0M153.4 93.7h0M156.1 59.8h0M148.4 99.3h0M126.2 130.5h0M147.2 94.7h0M156.7 127.8h0M118.4 184.5h0M133.7 99.6h0M156.6 134.5h0M132.7 135.4h0M166.4 121.9h0M156.5 121.7h0M132.0 81.4h0M127.4 128.4h0M133.7 82.7h0M144.3 136.7h0M148.0 122.6h0M159.0 135.3h0M129.9 131.5h0M150.0 139.4h0M120.5 78.7h0M126.8 94.0h0M127.0 124.9h0M148.4 117.4h0M132.5 143.8h0M130.1 127.4h0M120.6 123.9h0M145.1 95.9h0M190.5 98.8h0M126.1 91.8h0M138.9 107.9h0M145.3 119.3h0M151.3 109.8h0M143.0 109.5h0M120.4 151.3h0M163.2 87.9h0M139.3 94.5h0M125.0 104.2h0M153.1 127.5h0M133.0 145.6h0M154.7 102.4h0M126.5 134.3h0M135.3 142.7h0M135.5 89.9h0M169.5 112.1h0M120.1 131.7h0M156.7 90.7h0M108.5 140.1h0M130.8 77.8h0M123.7 128.5h0M113.1 162.1h0M115.8 153.5h0M132.7 117.4h0M141.8 149.6h0M141.8 135.4h0M134.2 76.6h0M143.2 100.7h0M155.8 102.0h0M131.6 175.5h0M159.7 86.1h0M108.1 149.4h0"/>
<line x1="52.50" y1="11.00" x2="262.50" y2="11.00" stroke="#c8c8c8" stroke-width="1"/>
<line x1="262.50" y1="11.00" x2="262.50" y2="204.50" stroke="#aaa" stroke-width="1"/>
<line x1="52.50" y1="11.00" x2="52.50" y2="204.50" stroke="#555" stroke-width="1"/>
<line x1="52.50" y1="204.50" x2="262.50" y2="204.50" stroke="#555" stroke-width="1"/>
<text x="44.60" y="107.30" font-size="11.5" text-anchor="middle" textLength="20.6" lengthAdjust="spacingAndGlyphs" transform="rotate(-90 44.60 107.30)">PC2</text>
<text x="157.30" y="217.80" font-size="11.5" text-anchor="middle" textLength="18.6" lengthAdjust="spacingAndGlyphs">PC1</text>
<text x="286.60" y="72.30" font-size="11.5" text-anchor="middle" textLength="20.8" lengthAdjust="spacingAndGlyphs">Age</text>
<defs><linearGradient id="rdylbu" x1="0" y1="1" x2="0" y2="0"><stop offset="0.00" stop-color="#313695"/><stop offset="0.10" stop-color="#4575b4"/><stop offset="0.20" stop-color="#74add1"/><stop offset="0.30" stop-color="#abd9e9"/><stop offset="0.40" stop-color="#e0f3f8"/><stop offset="0.50" stop-color="#ffffbf"/><stop offset="0.60" stop-color="#fee090"/><stop offset="0.70" stop-color="#fdae61"/><stop offset="0.80" stop-color="#f46d43"/><stop offset="0.90" stop-color="#d73027"/><stop offset="1.00" stop-color="#a50026"/></linearGradient></defs>
<rect x="276.20" y="79.10" width="15.00" height="73.10" fill="url(#rdylbu)"/>
<line x1="276.20" y1="92.80" x2="279.00" y2="92.80" stroke="#fff" stroke-width="0.8"/>
<line x1="288.40" y1="92.80" x2="291.20" y2="92.80" stroke="#fff" stroke-width="0.8"/>
<line x1="276.20" y1="113.00" x2="279.00" y2="113.00" stroke="#fff" stroke-width="0.8"/>
<line x1="288.40" y1="113.00" x2="291.20" y2="113.00" stroke="#fff" stroke-width="0.8"/>
<line x1="276.20" y1="132.50" x2="279.00" y2="132.50" stroke="#fff" stroke-width="0.8"/>
<line x1="288.40" y1="132.50" x2="291.20" y2="132.50" stroke="#fff" stroke-width="0.8"/>
<text x="296.50" y="96.40" font-size="10" textLength="11.5" lengthAdjust="spacingAndGlyphs">90</text>
<text x="296.50" y="116.60" font-size="10" textLength="11.5" lengthAdjust="spacingAndGlyphs">60</text>
<text x="296.50" y="136.10" font-size="10" textLength="11.5" lengthAdjust="spacingAndGlyphs">30</text>
<text x="296.50" y="156.20" font-size="10" textLength="5.8" lengthAdjust="spacingAndGlyphs">0</text>
<path stroke="#87cefa" stroke-width="1.8" stroke-linecap="round" d="M467.6 56.3h0M549.3 97.6h0M546.1 113.1h0M451.8 124.9h0M491.7 136.9h0M535.8 78.5h0M493.2 116.6h0M491.9 135.3h0M454.6 140.4h0M424.1 151.1h0M527.0 117.1h0M455.9 141.0h0M494.9 132.7h0M474.9 144.4h0M475.9 117.3h0M500.4 112.7h0M443.6 132.4h0M492.9 126.2h0M472.8 93.4h0M447.2 127.9h0M503.9 128.2h0M542.2 137.6h0M546.2 83.5h0M439.2 126.9h0M486.5 104.1h0M583.7 97.4h0M466.2 143.3h0M524.2 90.6h0M492.0 131.3h0M491.7 130.1h0M431.0 151.2h0M443.5 116.6h0M490.5 59.8h0M549.8 98.4h0M498.8 118.0h0M519.4 62.5h0M472.4 130.9h0M462.1 125.5h0M429.4 158.5h0M448.6 106.8h0M512.7 69.1h0M466.4 140.3h0M492.3 63.9h0M455.3 146.5h0M456.9 68.7h0M443.5 133.8h0M439.2 132.3h0M449.8 78.4h0M466.6 125.6h0M423.4 121.6h0M477.1 74.9h0M466.3 54.4h0M519.6 120.5h0M521.9 86.3h0M515.3 105.3h0M468.0 84.0h0M436.4 90.5h0M467.2 34.3h0M468.9 92.8h0M449.2 136.4h0M471.5 111.4h0M467.3 130.0h0M503.3 134.2h0M489.6 130.1h0M472.9 79.7h0M523.5 50.6h0M475.3 131.2h0M465.1 104.0h0M497.0 107.0h0M499.2 114.0h0M454.4 84.7h0M457.3 119.7h0M552.4 83.6h0M488.0 126.6h0M451.6 122.3h0M465.8 138.1h0M519.3 115.8h0M519.6 122.9h0M477.5 59.5h0M523.1 71.4h0M486.3 93.3h0M502.0 91.2h0M531.9 115.0h0M485.2 134.5h0M440.5 167.8h0M477.1 35.5h0M502.4 115.9h0M462.2 126.3h0M456.3 126.5h0M485.8 109.9h0M486.5 141.2h0M547.4 69.7h0M492.2 113.3h0M488.8 27.2h0M519.0 40.1h0M507.9 41.8h0M492.0 122.5h0M460.6 76.8h0M506.9 137.1h0M475.6 59.2h0M443.1 118.0h0M493.5 150.1h0M466.9 94.2h0M467.5 91.5h0M477.2 129.6h0M533.4 80.8h0M500.9 122.4h0M456.8 109.1h0M482.0 97.6h0M505.7 56.9h0M515.7 69.0h0M460.8 120.0h0M531.9 102.4h0M491.4 119.2h0M524.9 35.6h0M467.3 128.9h0M487.1 111.5h0M489.6 139.1h0M487.7 126.9h0M503.2 106.5h0M513.6 137.3h0M509.9 115.1h0M489.0 123.9h0M484.0 98.5h0M531.1 77.9h0M527.8 120.9h0M493.2 117.0h0M489.4 138.4h0M455.1 121.5h0M506.7 109.4h0M423.6 130.3h0M470.7 44.3h0M460.7 107.3h0M489.3 130.3h0M513.2 105.3h0M465.3 119.2h0M509.7 60.3h0M467.5 137.3h0M503.6 124.5h0M499.2 135.1h0M479.9 127.9h0M527.6 58.0h0M509.8 49.3h0M460.1 135.4h0M479.0 109.1h0M488.4 132.1h0M521.5 47.5h0M464.6 130.7h0M466.9 84.9h0M468.9 117.4h0M451.3 148.8h0M463.3 103.8h0M528.2 48.0h0M495.9 129.1h0M544.2 99.9h0M479.1 130.3h0M467.0 134.4h0M501.3 139.8h0M487.7 55.0h0M514.2 135.2h0M514.1 67.7h0M521.7 126.3h0M476.1 49.8h0M459.9 125.3h0M472.1 109.1h0M528.1 135.7h0M464.7 111.1h0M487.4 132.4h0M481.4 50.4h0M484.3 123.3h0M480.9 139.5h0M465.7 133.8h0M445.1 72.0h0M454.9 76.7h0M510.3 75.6h0M464.7 142.9h0M504.3 59.7h0M483.7 146.5h0M530.8 132.4h0M505.9 54.8h0M452.4 149.3h0M527.8 83.5h0M483.5 72.2h0M441.8 118.0h0M496.4 106.9h0M479.3 114.0h0M536.8 81.2h0M513.8 117.9h0M458.2 75.3h0M530.0 88.7h0M462.5 103.9h0M465.3 148.3h0M516.4 37.2h0M483.8 135.7h0M472.0 87.7h0M474.4 135.7h0M461.7 125.5h0M458.3 109.1h0M462.8 100.5h0M523.2 136.4h0M542.3 140.7h0M464.1 105.2h0M477.9 73.7h0M449.9 128.3h0M468.2 135.5h0M476.5 139.4h0M490.7 35.5h0M438.1 134.8h0M505.1 34.2h0M485.0 33.6h0M497.6 128.8h0M445.6 119.4h0M463.6 137.2h0M487.9 107.8h0M550.8 66.0h0M467.4 66.0h0M460.1 125.4h0M473.5 133.1h0M450.6 88.2h0M473.7 112.8h0M475.2 116.3h0M506.7 141.4h0M471.5 106.0h0M494.4 33.5h0M491.4 72.7h0M486.4 90.1h0M513.9 136.1h0M476.8 110.2h0M474.8 32.8h0M497.7 100.3h0M491.9 86.1h0M426.2 50.2h0M469.4 105.0h0M511.2 61.0h0M500.4 130.1h0M504.6 112.6h0M489.0 53.2h0M479.7 101.9h0M494.3 138.5h0M480.6 25.9h0M458.2 138.2h0M522.9 70.2h0M486.2 34.0h0M451.5 147.0h0M466.1 79.5h0M461.0 130.4h0M492.2 80.1h0M443.7 130.2h0M450.6 94.4h0M506.6 112.9h0M468.9 132.8h0M488.5 101.1h0M460.3 125.6h0M545.2 107.0h0M514.3 86.5h0M508.2 126.5h0M475.7 76.4h0M457.4 134.2h0M474.2 113.8h0M449.0 143.6h0M476.2 34.6h0M534.4 127.0h0M530.9 20.6h0M548.5 131.0h0M503.4 76.1h0M464.4 130.6h0M481.3 104.9h0M519.9 60.6h0M541.5 81.4h0M474.7 123.8h0M504.6 127.4h0M493.6 91.7h0M489.5 119.5h0M536.4 43.0h0M517.8 136.7h0M478.7 76.4h0M516.1 48.4h0M495.4 82.4h0M489.9 112.6h0M514.6 87.2h0M463.7 60.3h0M498.8 99.4h0M467.6 136.2h0M478.0 141.1h0M492.3 81.1h0M493.2 68.2h0M547.5 106.5h0M444.6 101.1h0M530.0 129.7h0M485.6 110.4h0M482.4 51.8h0M508.0 56.6h0M485.1 137.4h0M468.9 79.8h0M451.8 86.4h0M470.5 116.5h0M402.0 162.1h0M492.9 129.8h0M466.6 97.7h0M501.7 112.6h0M539.3 101.9h0M480.1 110.1h0M477.2 101.5h0M478.1 100.6h0M496.3 47.3h0M477.3 85.8h0M468.8 118.4h0M488.7 111.4h0M527.6 100.1h0M490.3 132.1h0M512.9 131.6h0M460.6 88.7h0M444.4 131.1h0M510.1 66.3h0M463.4 50.3h0M508.2 13.2h0M503.9 132.1h0M503.9 119.4h0M503.2 115.8h0M518.6 135.8h0M462.8 96.3h0M430.1 165.9h0M468.2 122.9h0M495.4 129.1h0M490.3 99.9h0M533.4 115.9h0M528.9 95.8h0M498.9 59.8h0M495.0 65.5h0M486.6 59.1h0M494.2 110.6h0M521.9 123.3h0M493.6 82.8h0M436.8 156.1h0M519.4 40.9h0M490.1 81.8h0M456.0 99.7h0M516.1 119.6h0M526.4 36.1h0M489.2 91.3h0M440.6 134.2h0M481.6 106.6h0M468.4 87.5h0M452.1 154.0h0M450.3 135.5h0M518.8 147.9h0M468.3 123.6h0M529.3 130.7h0M489.3 115.2h0M479.4 39.1h0M514.9 80.2h0M497.7 121.5h0M523.3 73.2h0M469.8 97.0h0M525.3 147.5h0M426.4 132.3h0M447.4 137.2h0M489.7 27.6h0M486.4 116.7h0M499.2 104.8h0M501.0 97.0h0M510.3 62.7h0M452.7 141.0h0M455.1 83.2h0M472.7 116.1h0M466.5 114.3h0M442.2 105.4h0M484.5 114.8h0M499.3 31.4h0M488.7 99.6h0M475.3 103.0h0M488.3 120.8h0M456.3 77.0h0M492.4 55.3h0M474.0 63.7h0M438.9 82.1h0M478.7 101.4h0M513.1 94.8h0M480.1 132.5h0M503.7 130.7h0M465.7 133.2h0M458.0 110.7h0M550.7 65.4h0M461.9 136.8h0M525.2 54.1h0M452.1 58.8h0M510.0 65.4h0M478.3 31.8h0M474.7 65.9h0M477.1 136.3h0M472.1 81.9h0M510.8 35.4h0M466.1 120.9h0M486.2 128.5h0M475.2 130.6h0M499.5 116.3h0M541.5 101.2h0M522.5 130.8h0M423.6 117.4h0M527.8 35.3h0M510.6 72.7h0M506.0 39.6h0M491.4 122.2h0M505.0 85.1h0M531.6 68.6h0M476.8 97.1h0M455.7 135.5h0M475.5 127.2h0M501.9 71.7h0M455.6 128.0h0M509.7 67.1h0M531.8 63.0h0M483.9 132.6h0M508.1 121.1h0M508.8 131.7h0M474.1 114.9h0M503.2 117.1h0M487.5 99.1h0M482.3 151.1h0M481.0 79.0h0M444.2 94.4h0M450.1 87.6h0M516.2 68.9h0M471.2 145.0h0M456.4 94.0h0M497.3 48.9h0M497.5 128.4h0M461.8 134.4h0M471.0 130.2h0M475.4 113.4h0M516.8 48.8h0M483.0 118.5h0M477.4 123.3h0M434.5 171.1h0M547.0 82.2h0M507.2 97.9h0M465.9 73.1h0M500.4 137.8h0M526.9 109.1h0M436.9 120.2h0M496.5 60.9h0M459.5 86.0h0M472.2 47.1h0M537.0 71.1h0M474.3 122.9h0M549.7 101.1h0M478.6 126.9h0M536.2 122.0h0M480.1 128.4h0M479.0 136.5h0M512.1 106.0h0M497.8 135.2h0M507.2 143.9h0M519.3 52.5h0M494.9 59.7h0M498.2 73.8h0M479.7 50.4h0M485.1 141.3h0M505.5 130.4h0M518.2 120.9h0M468.8 66.4h0M467.9 135.3h0M498.2 56.6h0M489.2 128.2h0M498.4 57.2h0M489.6 135.5h0M451.8 93.5h0M495.5 112.3h0M466.7 71.6h0M440.7 73.8h0M499.1 139.4h0M532.0 69.0h0M453.4 131.8h0M459.3 130.0h0M457.4 84.5h0M449.7 132.8h0M488.9 111.9h0M501.9 63.7h0M550.1 96.0h0M508.8 127.5h0M509.9 131.1h0M466.2 95.6h0M466.8 131.9h0M483.8 58.6h0M464.6 72.8h0M492.3 51.8h0M486.3 40.6h0M445.7 129.4h0M459.3 64.9h0M474.4 129.4h0M510.4 101.3h0M452.9 130.1h0M472.8 70.5h0M519.3 111.0h0M435.4 170.3h0M554.4 115.2h0M425.5 100.4h0M514.3 133.0h0M485.9 51.1h0M531.4 116.7h0M491.3 111.0h0M439.7 107.9h0M462.4 97.3h0M438.6 165.2h0M483.0 137.9h0M472.1 132.7h0M520.6 36.2h0M485.5 139.3h0M498.6 131.2h0M474.1 135.6h0M465.0 117.9h0M465.1 127.0h0M489.9 120.9h0M501.1 27.6h0M510.3 117.1h0M477.4 107.1h0M492.2 92.4h0M477.9 52.4h0M456.6 136.0h0M476.8 61.6h0M471.0 122.7h0M462.3 117.9h0M455.2 76.7h0M491.1 129.2h0M483.7 128.3h0M460.1 115.7h0M467.8 128.7h0M469.3 111.3h0M515.4 114.3h0M485.0 123.3h0M552.7 75.2h0M439.4 141.3h0M502.7 69.4h0M469.5 127.1h0M454.3 64.6h0M485.4 122.1h0M483.7 123.9h0M477.3 134.2h0M460.1 127.6h0M448.6 117.4h0M542.1 103.8h0M470.7 64.9h0M493.4 33.4h0M489.6 133.0h0M470.2 139.0h0M493.4 111.9h0M516.7 129.0h0M470.1 118.9h0M474.6 144.5h0M460.3 64.1h0M523.4 42.9h0M502.9 74.5h0M507.7 20.3h0M472.8 131.7h0M477.4 117.1h0M492.9 127.0h0M452.6 122.9h0M503.8 67.9h0M504.8 125.2h0M485.3 43.3h0M519.2 70.5h0M498.4 117.0h0M468.1 77.6h0M469.7 116.1h0M487.1 43.0h0M515.6 135.8h0M532.5 44.8h0M534.0 86.4h0M474.3 62.9h0M458.2 95.9h0M513.7 91.9h0M470.2 45.0h0M517.9 140.1h0M522.5 141.6h0M472.2 73.8h0M488.2 118.0h0M463.1 82.0h0M445.3 117.7h0M515.9 50.3h0M438.5 119.5h0M491.3 142.8h0M499.8 71.9h0M477.5 34.0h0M494.1 88.2h0M512.8 55.4h0M471.1 110.8h0M507.0 35.9h0M487.3 107.6h0M502.4 51.0h0M513.9 88.8h0M518.5 43.8h0M456.3 122.0h0M482.7 122.8h0M480.3 107.4h0M513.2 100.2h0M488.3 139.2h0M457.6 172.1h0M471.0 80.6h0M498.8 71.7h0M473.6 124.0h0M481.0 124.5h0M471.8 135.1h0M526.7 62.2h0M456.0 130.8h0M506.0 26.2h0M425.5 93.5h0M488.8 125.5h0M515.2 64.6h0M460.9 108.9h0M462.7 74.1h0M468.3 130.3h0M455.3 146.5h0M483.5 114.6h0M489.9 40.7h0M503.0 68.7h0M496.3 75.0h0M452.5 148.0h0M442.8 143.4h0M507.4 67.5h0M508.3 142.3h0M493.1 71.8h0M509.7 134.5h0M465.7 127.1h0M464.6 146.3h0M543.4 84.6h0M519.2 106.2h0M488.3 114.6h0M473.3 67.6h0M483.6 140.5h0M484.5 126.5h0M483.7 27.1h0M515.9 84.6h0M466.0 51.3h0M470.4 115.4h0M538.7 91.7h0M459.1 149.3h0M497.5 65.0h0M497.9 131.4h0M475.5 109.9h0M503.6 121.3h0M500.1 62.7h0M467.0 123.7h0M456.8 77.4h0M485.5 101.7h0M502.5 39.0h0M464.8 138.5h0M528.5 36.2h0M468.4 141.0h0M479.0 130.5h0M449.0 90.6h0M483.4 53.0h0M481.4 58.2h0M516.4 25.3h0M489.8 144.9h0M489.6 79.7h0M476.3 78.0h0M488.7 42.7h0M500.9 122.7h0M468.1 126.2h0M499.1 68.2h0M542.0 97.2h0M458.2 112.8h0M487.6 91.0h0M462.8 89.2h0M494.0 43.8h0M481.1 123.6h0M515.3 82.0h0M435.8 120.3h0M529.9 96.1h0M529.1 118.1h0M538.7 104.7h0M443.9 117.1h0M491.1 104.4h0M442.7 117.7h0M476.3 62.9h0M541.7 38.2h0M462.2 107.8h0M522.4 132.3h0M467.2 66.1h0M425.1 61.5h0M495.1 114.2h0M499.0 110.2h0M512.5 115.9h0M493.0 89.4h0M478.4 53.4h0M535.8 41.3h0M471.3 111.9h0M474.1 116.9h0M433.1 137.5h0M498.8 136.3h0M469.1 133.0h0M503.7 75.3h0M472.1 128.1h0M475.7 131.7h0M468.3 121.7h0M553.8 81.0h0M488.6 115.2h0M427.8 150.5h0M457.2 63.6h0M502.5 136.0h0M457.9 149.2h0M493.2 131.9h0M462.9 146.2h0M479.8 37.7h0M480.2 129.5h0M534.4 82.6h0M493.9 111.6h0M470.2 84.6h0M474.3 109.2h0M478.8 76.9h0M495.9 37.5h0M511.2 52.1h0M535.3 113.5h0M454.7 44.8h0M510.6 63.7h0M422.9 86.5h0M448.8 132.4h0M452.1 99.8h0M517.5 117.7h0M464.1 117.9h0M474.5 37.3h0M506.1 19.6h0M479.8 121.4h0M493.2 150.0h0M465.2 102.4h0M460.1 112.9h0M473.5 123.5h0M479.0 54.6h0M496.6 54.6h0M478.0 130.4h0M528.0 119.0h0M480.5 41.0h0M524.7 82.8h0M447.8 135.0h0M486.0 110.6h0M538.7 37.9h0M484.6 120.9h0M482.1 77.9h0M514.0 131.0h0M498.4 136.5h0M474.6 131.0h0M489.5 56.2h0M519.0 52.1h0M479.1 83.0h0M518.6 45.3h0M463.8 144.4h0M528.8 83.6h0M485.0 79.2h0M509.3 81.2h0M509.1 29.3h0M476.3 118.8h0M462.3 138.2h0M460.2 128.1h0M488.6 32.5h0M480.4 49.7h0M433.9 125.6h0M475.1 121.3h0M493.6 56.0h0M440.8 135.6h0M496.2 54.5h0M448.9 155.9h0M491.8 118.6h0M492.2 135.8h0M496.0 49.6h0M466.8 55.4h0M511.7 14.3h0M479.0 117.0h0M533.1 53.9h0M497.0 14.4h0M461.9 80.2h0M458.3 88.5h0M434.1 128.7h0M502.5 113.2h0M487.2 68.9h0M480.1 61.8h0M476.1 93.2h0M475.8 128.8h0M487.9 70.2h0M478.7 117.4h0M473.9 71.9h0M459.7 139.9h0M429.1 134.9h0M442.2 118.3h0M465.6 75.5h0M484.3 116.6h0M486.8 146.6h0M502.0 76.5h0M508.2 45.4h0M520.4 49.5h0M492.0 128.6h0M428.9 133.0h0M492.0 95.0h0M486.4 130.1h0M470.6 140.1h0M509.9 51.9h0M505.9 119.6h0M527.8 38.5h0M456.8 143.6h0M493.2 77.1h0M444.1 143.6h0M483.2 60.4h0M447.8 116.1h0M467.0 108.0h0M469.4 90.3h0M512.2 115.2h0M512.1 65.5h0M529.7 33.3h0M441.3 153.8h0M480.6 130.7h0M494.8 130.4h0M452.4 157.5h0M488.8 130.0h0M499.5 46.6h0M527.7 77.8h0M546.3 68.2h0M484.8 122.4h0M460.7 138.9h0M500.0 79.7h0M515.5 74.4h0M491.0 37.6h0M480.1 122.6h0M491.1 118.6h0M508.4 130.1h0M499.7 65.5h0M531.6 113.8h0M520.5 21.0h0M523.7 90.3h0M533.3 60.5h0M512.2 63.1h0M477.2 77.3h0M482.5 56.7h0M438.5 146.1h0M444.5 81.6h0M471.4 138.7h0M509.2 85.0h0M502.0 64.9h0M502.8 102.0h0M505.1 35.4h0M504.8 120.1h0M462.2 97.0h0M478.8 22.7h0M458.2 41.0h0M506.0 145.3h0M492.4 152.7h0M480.0 96.6h0M492.3 113.6h0M502.4 124.2h0M512.6 127.4h0M485.8 147.4h0M490.3 126.9h0M516.6 120.8h0M525.4 129.7h0M499.7 138.6h0M451.8 128.9h0M479.3 126.2h0M550.3 75.8h0M464.8 82.4h0M491.2 33.6h0M495.3 42.0h0M488.1 135.6h0M458.9 173.4h0M515.0 118.4h0M497.8 110.1h0M467.2 109.0h0M503.1 17.8h0M484.1 132.5h0M504.4 59.8h0M470.3 52.5h0M495.2 111.3h0M508.0 29.1h0M545.9 69.2h0M475.5 123.3h0M457.0 122.8h0M459.4 120.9h0M500.6 84.9h0M480.4 76.6h0M474.9 94.8h0M512.2 113.3h0M505.3 31.2h0M459.2 146.5h0M466.1 99.2h0M456.7 152.0h0M506.7 73.5h0M497.2 23.1h0M505.0 27.1h0M495.7 92.7h0M519.6 134.9h0M499.9 120.1h0M496.2 80.0h0M480.7 123.1h0M452.2 155.4h0M490.4 128.0h0M450.1 148.1h0M454.4 94.8h0M529.7 129.8h0M463.9 83.1h0M471.1 120.2h0M469.6 92.0h0M496.2 87.3h0M500.0 64.4h0M467.5 70.0h0M518.2 117.9h0M497.9 49.0h0M540.1 75.4h0M541.0 56.7h0M416.3 162.1h0M495.8 78.7h0M526.1 65.0h0M481.1 114.5h0M515.3 125.8h0M490.3 23.6h0M541.9 78.0h0M453.9 63.3h0M467.9 143.7h0M512.0 118.5h0M443.3 143.6h0M450.6 151.8h0M476.5 95.7h0M454.2 79.7h0M454.1 128.6h0M524.2 112.0h0M459.7 116.9h0M547.8 102.0h0M487.1 121.7h0M442.2 83.3h0M549.4 58.8h0M439.9 98.3h0M501.2 144.5h0M451.9 75.7h0M491.8 17.5h0M473.4 129.5h0M488.9 51.8h0M488.4 149.4h0M443.7 127.4h0M478.8 54.4h0M497.2 130.8h0M428.7 141.8h0M499.4 128.4h0M507.9 130.5h0M508.7 26.3h0M451.5 159.8h0M465.5 42.7h0M533.2 71.1h0M512.9 104.5h0M471.3 111.7h0M505.3 131.0h0M423.4 102.2h0M469.7 120.7h0M492.2 132.4h0M457.0 145.8h0M479.0 57.2h0M539.8 39.3h0M527.6 122.6h0M473.2 49.7h0M545.1 119.4h0M470.2 85.9h0M509.5 125.3h0M448.9 92.4h0M492.9 128.7h0M510.2 62.9h0M499.4 132.6h0M516.1 122.9h0M499.5 61.3h0M456.6 161.2h0M506.7 121.0h0M447.2 161.0h0M453.7 95.5h0M500.6 119.9h0M513.0 31.1h0M468.2 41.2h0M492.2 35.6h0M457.7 146.1h0M423.6 118.2h0M535.1 58.8h0M500.3 58.1h0M508.8 117.3h0M468.0 75.6h0M455.7 99.1h0M453.1 165.9h0M520.0 141.7h0M550.1 65.6h0M452.6 133.1h0M473.2 142.3h0M477.0 69.7h0M471.1 118.6h0M458.8 143.1h0M458.9 107.2h0M445.8 88.9h0M433.8 164.4h0M499.3 132.4h0M493.1 132.1h0M522.1 80.9h0M495.7 32.8h0M494.5 126.5h0M497.9 95.0h0M483.6 70.7h0M555.9 77.3h0M535.1 38.5h0M497.0 131.9h0M457.5 140.3h0M509.1 131.2h0M506.5 38.4h0M463.4 131.0h0M501.3 81.2h0M492.9 117.6h0M471.3 100.5h0M524.1 29.7h0M461.9 128.3h0M466.3 113.1h0M453.9 149.6h0M469.4 142.4h0M524.4 83.9h0M476.5 109.4h0M447.3 128.5h0M494.0 75.5h0M507.6 143.8h0M455.4 114.8h0M499.5 133.7h0M524.4 19.2h0M529.1 51.5h0M480.4 140.0h0M478.4 92.1h0M491.2 46.7h0M474.3 138.0h0M507.6 80.3h0M471.8 68.6h0M526.3 69.0h0M435.9 112.6h0M520.7 68.6h0M480.3 62.3h0M540.0 90.2h0M461.4 168.1h0M474.6 75.1h0M493.4 132.4h0M512.1 146.1h0M483.5 62.5h0M546.8 114.3h0M484.6 107.1h0M469.5 67.8h0M502.2 124.2h0M463.9 87.4h0M535.3 57.3h0M468.9 124.8h0M464.1 77.1h0M458.8 115.0h0M501.6 101.5h0M465.8 95.2h0M456.2 111.5h0M510.2 82.9h0M515.8 47.7h0M481.9 129.3h0M482.2 54.8h0M430.4 116.5h0M481.9 60.1h0M449.9 121.0h0M463.5 139.9h0M507.0 130.8h0M527.8 47.0h0M510.8 93.1h0M449.8 130.8h0M514.4 119.9h0M522.7 44.2h0M489.1 89.3h0M472.8 93.5h0M503.4 53.1h0M460.8 109.0h0M505.9 123.6h0M506.0 45.9h0M455.8 118.3h0M512.2 106.6h0M465.3 52.5h0M524.6 106.5h0M453.8 147.7h0M487.0 76.9h0M536.8 132.3h0M512.8 105.6h0M466.8 159.3h0M528.5 140.1h0M457.8 130.5h0M529.9 67.9h0M523.6 111.0h0M478.9 118.1h0M503.7 61.5h0M489.3 23.4h0M544.2 52.6h0M494.1 105.8h0M514.6 120.7h0M507.0 57.2h0M461.8 90.3h0M529.3 134.2h0M536.2 131.5h0M504.6 140.3h0M456.4 126.9h0M494.9 80.8h0M538.3 122.4h0M476.2 64.9h0M483.5 88.6h0M499.0 54.7h0M449.2 124.9h0M469.6 106.9h0M498.6 87.7h0M515.5 95.6h0M474.0 62.5h0M465.3 81.7h0M446.7 86.5h0M459.2 115.8h0M537.9 119.8h0M487.0 57.1h0M488.6 119.9h0M505.7 59.1h0M430.3 159.2h0M504.9 138.9h0M547.1 81.7h0M506.6 93.7h0M480.7 135.3h0M488.9 73.6h0M498.1 123.3h0M483.4 77.5h0M479.5 123.7h0M484.7 87.2h0M478.7 118.2h0M495.4 42.6h0M477.5 108.5h0M547.7 97.3h0M511.6 115.2h0M503.3 137.6h0M526.1 126.7h0M523.2 114.5h0M480.0 115.8h0M502.7 104.5h0M480.6 109.0h0M435.2 166.9h0M497.5 53.0h0M503.7 68.4h0M480.3 119.2h0M480.6 64.5h0M454.4 64.3h0M533.7 84.0h0M497.2 123.3h0M480.4 84.8h0M533.1 76.4h0M470.3 111.9h0M511.3 37.7h0M564.9 64.0h0M498.9 80.2h0M492.7 47.9h0M499.0 129.7h0M439.1 124.5h0M520.3 34.6h0M529.2 117.5h0M496.4 109.7h0M512.9 100.8h0M496.9 124.2h0M497.7 125.9h0M539.7 93.6h0M461.2 77.8h0M476.3 120.4h0M468.7 103.9h0M501.6 79.8h0M469.0 132.0h0M451.7 116.0h0M479.5 66.1h0M468.9 80.7h0M480.6 117.7h0M459.2 97.6h0M535.3 113.6h0M517.8 79.1h0M436.6 135.4h0M485.2 121.7h0M534.3 72.7h0M448.1 90.2h0M476.8 62.7h0M468.7 113.8h0M484.9 134.3h0M530.4 73.0h0M523.3 76.0h0M511.4 94.0h0M465.1 34.8h0M483.8 107.3h0M451.9 108.5h0M516.3 79.3h0M436.8 78.7h0M447.7 115.5h0M479.6 112.7h0M470.7 146.2h0M486.6 61.6h0M492.5 125.0h0M463.5 121.1h0M466.9 142.8h0M472.2 134.9h0M523.4 31.9h0M471.7 93.9h0M500.7 112.5h0M510.5 40.3h0M510.0 20.7h0M483.3 152.8h0M464.9 132.0h0M534.6 49.3h0M488.1 73.5h0M496.1 60.0h0M493.9 121.5h0M515.6 82.3h0M511.7 92.2h0M518.9 125.4h0M550.6 90.8h0M457.6 132.0h0M451.0 120.5h0M494.3 73.1h0M526.4 57.1h0M468.1 119.0h0M527.2 96.0h0M444.4 124.6h0M444.1 122.5h0M483.1 131.9h0M480.9 59.7h0M503.3 117.6h0M443.8 135.9h0M471.2 105.1h0M479.4 136.7h0M454.7 149.6h0M463.5 88.2h0M495.6 124.0h0M446.5 112.5h0M480.0 114.9h0M495.7 127.2h0M492.9 28.1h0M469.9 126.5h0M459.7 58.5h0M485.0 120.4h0M469.1 60.9h0M481.0 46.5h0M533.7 123.3h0M510.1 105.5h0M483.1 135.6h0M525.9 121.0h0M463.9 150.4h0M445.7 152.7h0M556.3 116.6h0M512.5 38.5h0M469.9 119.5h0M493.9 131.2h0M471.9 87.1h0M496.3 117.7h0M515.7 88.6h0M517.3 61.9h0M471.1 110.3h0M506.6 54.5h0M471.2 150.6h0M518.1 126.6h0M488.2 90.0h0M504.3 64.2h0M511.1 106.3h0M507.9 55.5h0M451.3 123.8h0M501.6 114.6h0M468.2 123.1h0M499.0 148.1h0M488.3 133.9h0M457.9 78.9h0M479.1 124.8h0M478.8 81.5h0M541.9 119.7h0M525.8 44.4h0M466.3 79.9h0M476.2 63.5h0M501.8 122.6h0M432.4 171.2h0M472.1 63.5h0M465.8 127.2h0M527.8 79.9h0M438.0 90.3h0M467.7 82.1h0M481.6 38.5h0M465.2 119.3h0M550.0 84.7h0M478.7 143.2h0M468.1 142.5h0M536.9 115.4h0M470.1 101.7h0M504.1 101.6h0M470.5 132.4h0M547.8 76.5h0M470.2 102.7h0M446.7 117.0h0M501.9 134.3h0M459.3 146.1h0M485.5 108.4h0M523.6 122.5h0M494.3 138.0h0M523.0 68.2h0M470.0 142.8h0M536.1 46.8h0M458.2 123.3h0M456.9 167.7h0M480.7 129.7h0M477.8 136.8h0M486.0 107.5h0M465.5 54.8h0M483.8 149.2h0M449.1 153.8h0M527.6 91.7h0M419.2 142.0h0M540.0 126.7h0M531.6 72.3h0M503.0 145.7h0M434.5 105.4h0M496.6 75.3h0M474.6 138.6h0M529.6 84.2h0M461.2 121.4h0M522.7 53.2h0M498.6 87.5h0M470.6 129.9h0M442.8 89.4h0M484.7 138.4h0M483.2 64.9h0M513.3 124.5h0M504.8 84.4h0M487.3 127.9h0M454.4 116.1h0M447.4 126.7h0M452.5 66.3h0M517.8 139.9h0M487.5 23.3h0M463.6 75.5h0M527.8 68.5h0M456.8 120.1h0M514.1 50.4h0M519.4 136.0h0M474.7 61.9h0M472.6 124.4h0M516.0 72.4h0M479.5 68.2h0M473.0 126.2h0M435.5 162.4h0M424.7 111.8h0M536.5 127.4h0M463.7 69.2h0M483.0 136.8h0M489.7 73.2h0M526.7 80.3h0M461.7 115.7h0M530.7 57.5h0M434.6 94.1h0M471.2 134.9h0M468.8 68.6h0M529.3 56.2h0M448.4 119.2h0M517.6 123.9h0M522.1 100.0h0M471.7 100.5h0M468.6 104.1h0M490.3 108.5h0M500.8 71.6h0M485.4 89.0h0M473.2 121.8h0M486.6 111.5h0M479.7 130.3h0M448.7 117.5h0M531.2 34.2h0M482.9 75.3h0M448.7 106.3h0M467.8 91.4h0M476.5 94.4h0M523.8 116.5h0M464.0 116.2h0M466.9 103.5h0M523.3 111.7h0M449.2 128.6h0M460.0 109.9h0M498.4 87.3h0M482.8 82.9h0M465.0 134.4h0M493.6 132.2h0M481.3 114.8h0M515.2 107.4h0M449.4 104.4h0M527.7 72.1h0M494.7 115.6h0M485.7 145.8h0M510.4 41.8h0M470.1 135.7h0M456.4 122.6h0M503.6 104.4h0M475.2 71.4h0M517.7 139.7h0M487.1 135.6h0M458.7 70.3h0M460.0 133.7h0M486.0 114.0h0M450.7 104.3h0M521.3 107.4h0M517.8 136.5h0M504.9 127.9h0M464.9 82.9h0M458.3 144.1h0M437.3 141.5h0M518.1 78.0h0M540.9 98.2h0M481.4 115.4h0M471.1 68.9h0M528.4 114.5h0M476.0 132.2h0M460.8 125.9h0M487.2 35.8h0M442.2 88.4h0M502.9 70.8h0M481.4 90.5h0M501.5 119.8h0M512.2 104.8h0M511.6 121.1h0M479.4 132.8h0M488.7 130.1h0M519.1 19.9h0M517.9 68.0h0M498.7 141.1h0M489.1 59.5h0M542.1 81.4h0M405.2 151.0h0M481.7 130.3h0M460.6 149.9h0M444.8 156.6h0M518.6 123.5h0M474.8 142.2h0M426.2 102.0h0M518.5 23.8h0M488.5 104.8h0M474.4 109.3h0M498.2 126.8h0M526.7 67.1h0M508.0 147.0h0M440.4 110.3h0M449.7 116.9h0M545.1 47.2h0M497.6 123.6h0M444.6 124.3h0M439.1 81.9h0M517.7 56.3h0M492.9 34.4h0M518.8 27.5h0M488.4 62.4h0M527.4 45.7h0M488.2 43.7h0M499.1 81.1h0M510.2 18.0h0M523.1 123.5h0M500.4 57.9h0M470.1 121.5h0M472.5 129.1h0M442.2 130.3h0M477.6 117.2h0M498.3 108.4h0M468.9 69.8h0M507.6 138.5h0M511.1 94.9h0M513.3 102.6h0M441.6 125.7h0M493.4 79.8h0M539.3 114.2h0M474.7 144.8h0M510.8 60.1h0M472.8 70.0h0M496.0 130.1h0M499.3 116.8h0M437.7 110.6h0M523.4 140.5h0M480.1 80.2h0M486.2 115.4h0M486.2 130.9h0M446.7 67.4h0M514.4 35.3h0M506.4 36.6h0M492.9 61.7h0M460.9 128.3h0M499.2 122.4h0M533.4 99.1h0M517.9 91.1h0M491.0 123.3h0M472.2 111.8h0M493.6 113.0h0M515.9 23.4h0M482.6 68.4h0M461.4 37.1h0M479.0 151.6h0M523.5 140.2h0M449.0 151.8h0M465.4 46.9h0M457.9 102.5h0M446.5 130.3h0M441.6 81.9h0M490.1 135.3h0M505.3 57.9h0M477.7 98.7h0M461.4 138.3h0M496.5 78.9h0M510.5 78.2h0M489.4 127.0h0M478.0 122.7h0M449.6 162.2h0M459.5 39.7h0M456.2 114.1h0M457.6 133.2h0M484.4 120.7h0M548.9 115.2h0M480.2 48.6h0M487.8 128.1h0M425.9 156.9h0M499.1 133.8h0M446.5 137.6h0M470.6 46.3h0M543.9 40.3h0M450.9 123.8h0M502.7 137.2h0M514.3 28.8h0M491.1 57.7h0M492.0 108.3h0M515.1 107.8h0M484.8 139.5h0M513.5 56.9h0M475.5 89.0h0M489.6 150.8h0M488.8 85.2h0M439.0 92.2h0M434.7 97.6h0M466.1 49.4h0M513.9 121.0h0M445.6 118.3h0M457.9 47.8h0M463.4 109.5h0M498.2 51.0h0M464.3 63.3h0M447.5 127.7h0M482.1 90.9h0M482.9 124.0h0M531.6 58.5h0M481.4 103.0h0M475.1 141.7h0M495.6 59.4h0M498.2 119.6h0M527.9 104.2h0M514.6 59.6h0M491.0 62.8h0M475.5 109.9h0M494.1 117.9h0M468.3 53.7h0M537.5 61.9h0M507.2 106.3h0M510.2 71.6h0M464.9 52.9h0M477.5 123.7h0M511.6 117.3h0M479.5 108.1h0M502.0 56.3h0M498.5 108.4h0M442.6 104.7h0M436.8 139.7h0M502.7 57.3h0M525.3 57.7h0M454.4 135.5h0M499.8 63.0h0M482.9 33.5h0M501.1 130.7h0M443.1 154.9h0M487.5 131.7h0M444.6 163.5h0M485.1 128.0h0M480.3 45.6h0M474.2 115.5h0M552.6 84.7h0M469.4 88.7h0M503.5 16.6h0M496.4 16.4h0M478.5 88.4h0M516.2 133.2h0M462.7 133.1h0M493.2 65.5h0M509.4 118.1h0M478.9 99.4h0M521.9 47.2h0M529.6 66.3h0M487.3 64.5h0M505.8 136.2h0M492.4 96.6h0M409.7 74.0h0M466.2 127.9h0M506.2 80.8h0M535.7 75.9h0M452.2 71.8h0M550.2 126.5h0M540.4 89.7h0M477.2 65.2h0M432.2 126.3h0M504.1 91.6h0M526.9 109.6h0M497.4 60.3h0M519.1 83.7h0M487.1 56.6h0M493.1 133.7h0M470.6 142.4h0M472.3 72.3h0M452.5 139.6h0M477.2 137.7h0M525.4 131.5h0M536.9 57.3h0M452.6 84.9h0M507.6 128.4h0M451.4 142.5h0M511.6 100.5h0M509.7 146.6h0M475.2 64.1h0M511.7 66.0h0M473.1 97.1h0M456.6 58.9h0M453.8 133.8h0M476.4 70.0h0M458.2 169.3h0M483.7 64.9h0M466.9 62.7h0M477.3 93.2h0M488.3 139.2h0M504.9 126.6h0M464.5 125.3h0M510.7 88.1h0M492.5 117.8h0M537.4 109.7h0M525.8 53.6h0M517.3 16.4h0M549.0 135.0h0M475.3 119.1h0M496.3 66.3h0M514.5 37.7h0M494.7 117.1h0M528.4 130.2h0M438.6 136.9h0M460.2 90.5h0M440.1 140.1h0M545.2 75.5h0M487.7 26.6h0M507.7 114.9h0M481.4 124.1h0M497.8 44.0h0M486.9 43.9h0M536.6 59.2h0M495.5 62.3h0M452.3 67.4h0M444.6 142.8h0M467.9 110.2h0M485.0 71.9h0M521.4 127.1h0M493.0 104.9h0M464.9 65.7h0M491.9 41.6h0M435.7 111.5h0M510.7 89.6h0M486.3 44.9h0M475.8 69.9h0M530.4 124.7h0M476.6 136.2h0M509.3 68.0h0M456.4 132.5h0M451.4 82.4h0M461.8 58.3h0M537.6 121.5h0M481.4 107.8h0M489.3 73.3h0M468.2 97.3h0M458.5 140.4h0M480.6 127.9h0M430.7 138.9h0M502.6 141.0h0M508.7 92.0h0M454.3 127.1h0M432.8 132.2h0M511.8 121.5h0M478.2 117.0h0M470.3 109.2h0M452.9 147.0h0M504.8 80.5h0M442.5 128.5h0M442.9 157.3h0M466.8 86.7h0M524.0 43.9h0M476.3 78.3h0M514.2 120.4h0M487.5 52.3h0M518.1 22.7h0M451.5 130.4h0M486.1 37.2h0M480.7 84.2h0M482.5 114.0h0M480.4 140.8h0M496.3 30.2h0M500.9 48.0h0M460.9 144.8h0M531.4 81.7h0M558.9 73.7h0M490.1 120.4h0M491.1 30.1h0M450.9 123.2h0M494.1 69.3h0M541.4 88.0h0M437.7 122.9h0M520.7 49.5h0M518.6 84.0h0M499.3 136.2h0M483.6 133.6h0M545.1 78.4h0M436.7 80.3h0M495.9 118.2h0M492.2 122.0h0M435.0 130.3h0M474.6 132.6h0M462.2 119.7h0M486.9 134.7h0M499.5 149.9h0M525.7 36.5h0M462.8 47.2h0M484.8 145.5h0M442.3 105.2h0M477.9 104.6h0M475.4 75.7h0M442.8 159.9h0M464.2 97.3h0M506.8 133.3h0M487.6 108.6h0M496.7 67.7h0M524.5 103.8h0M478.6 55.6h0M521.0 107.2h0M429.7 111.5h0M437.9 128.8h0M478.0 71.4h0M517.8 118.1h0M538.2 111.4h0M486.7 43.2h0M506.7 111.5h0M502.3 23.1h0M529.1 106.1h0M474.2 118.2h0M449.6 126.2h0M531.9 120.6h0M531.7 81.6h0M514.1 83.1h0M462.3 101.5h0M498.4 80.8h0M449.7 113.0h0M470.1 103.8h0M511.3 132.0h0M440.3 105.1h0M440.2 139.6h0M492.0 128.9h0M525.9 121.0h0M499.3 75.6h0M440.0 134.8h0M466.8 77.1h0M497.0 107.6h0M476.4 109.4h0M440.0 129.0h0M512.4 134.3h0M478.0 56.7h0M493.3 126.7h0M488.0 139.9h0M504.9 54.4h0M466.1 122.3h0M459.8 145.7h0M490.5 122.0h0M452.9 169.2h0M471.3 135.1h0M491.5 108.9h0M478.1 70.2h0M463.8 94.0h0M528.7 29.4h0M491.7 105.5h0M509.6 138.5h0M541.3 126.1h0M544.5 87.9h0M468.8 153.5h0M483.7 115.3h0M443.3 122.1h0M495.9 126.1h0M487.9 146.8h0M486.5 106.4h0M513.7 45.4h0M478.4 134.4h0M537.7 91.3h0M462.0 109.6h0M469.1 101.8h0M493.0 119.4h0M421.3 145.9h0M472.4 61.3h0M494.9 122.6h0M531.1 115.7h0M527.5 120.7h0M463.4 125.2h0M548.7 109.6h0M476.2 122.3h0M503.3 110.9h0M507.0 55.9h0M454.7 147.9h0M518.3 126.7h0M476.0 67.3h0M465.0 109.7h0M510.4 142.5h0M512.5 44.5h0M495.2 140.0h0M460.4 136.3h0M475.5 50.8h0M508.1 121.4h0M485.6 138.0h0M493.9 68.4h0M450.9 153.7h0M537.1 90.2h0M511.1 61.0h0M498.4 122.1h0M442.2 143.8h0M500.5 52.3h0M538.6 107.0h0M509.2 83.2h0M489.1 87.5h0M534.6 43.2h0M508.1 115.3h0M452.9 137.6h0M458.3 134.2h0M506.2 139.6h0M500.5 119.3h0M473.6 125.6h0M497.5 142.3h0M433.2 98.9h0M531.7 111.3h0M496.9 126.3h0M507.2 114.3h0M498.0 66.6h0M494.3 62.5h0M493.5 94.3h0M548.4 73.7h0M506.2 42.4h0M447.0 131.8h0M469.0 67.8h0M507.5 115.1h0M539.8 42.1h0M501.0 61.2h0M458.7 116.1h0M555.5 66.6h0M467.7 125.7h0M425.7 128.8h0M479.3 80.5h0M484.9 97.0h0M497.8 138.1h0M467.4 139.0h0M455.7 137.6h0M459.1 104.0h0M495.0 114.8h0M541.1 30.1h0M468.2 57.3h0M496.9 97.9h0M461.3 145.1h0M498.6 56.0h0M498.4 117.8h0M450.8 146.1h0M511.4 133.4h0M527.5 119.4h0M452.8 86.1h0M500.1 58.8h0M439.0 94.2h0M500.6 16.6h0M471.4 55.3h0M495.5 74.5h0M490.1 114.2h0M463.7 139.1h0M498.1 85.2h0M473.3 128.7h0M511.3 90.8h0M519.0 127.8h0M530.2 98.1h0M525.3 64.8h0M435.7 139.4h0M452.3 85.4h0M444.1 86.7h0M523.6 92.5h0M479.9 129.3h0M537.8 40.1h0M481.9 86.7h0M507.4 137.4h0M487.7 69.6h0M535.0 102.8h0M492.8 143.0h0M542.9 61.0h0M451.3 117.9h0M487.6 96.7h0M534.0 31.9h0M496.2 31.3h0M460.0 117.5h0M505.5 135.9h0M471.6 90.2h0M503.0 134.6h0M492.8 69.8h0M453.2 85.4h0M473.5 57.4h0M466.7 104.0h0M537.7 127.5h0M451.9 89.3h0M481.0 49.3h0M511.2 132.6h0M458.6 93.2h0M525.6 63.6h0M428.3 161.1h0M495.5 79.1h0M499.2 78.1h0M447.2 134.5h0M512.9 90.7h0M544.8 57.0h0M529.9 102.3h0M507.8 125.1h0M499.5 132.4h0M456.8 122.1h0M487.5 75.7h0M457.9 137.5h0M525.7 35.5h0M514.2 114.0h0M507.5 72.4h0M525.2 20.1h0M502.4 133.9h0M483.8 152.8h0M498.4 121.2h0M488.9 132.8h0M509.1 117.9h0M469.2 71.2h0M506.3 71.9h0M452.7 168.5h0M512.8 120.8h0M512.5 75.0h0M474.5 111.4h0M474.8 124.2h0M491.6 123.0h0M499.4 58.0h0M474.9 107.0h0M461.6 147.9h0M452.9 120.0h0M483.1 70.6h0M526.3 77.5h0M519.8 124.4h0M482.2 62.5h0M506.2 129.7h0M442.3 128.0h0M489.8 115.4h0M432.1 155.9h0M495.4 116.4h0M535.6 50.0h0M488.2 127.6h0M478.5 115.7h0M528.6 123.2h0M464.5 85.5h0M544.6 56.9h0M490.6 34.2h0M474.7 105.6h0M513.6 71.1h0M496.0 70.8h0M462.0 41.2h0M507.0 55.8h0M476.9 110.8h0M545.6 85.9h0M445.5 66.7h0M420.6 105.5h0M544.2 164.2h0M472.3 98.8h0M490.9 114.0h0M467.2 147.8h0M468.4 48.5h0M482.3 134.9h0M485.3 56.1h0M531.0 88.3h0M519.4 136.0h0M478.1 68.4h0M495.2 121.8h0M520.4 129.8h0M453.4 65.3h0M530.3 36.6h0M484.9 120.3h0M501.9 59.5h0M482.8 78.0h0M470.4 111.5h0M493.6 51.2h0M519.4 45.2h0M536.2 111.3h0M437.0 132.5h0M482.5 63.5h0M541.3 75.8h0M511.5 126.5h0M466.5 126.2h0M514.3 60.0h0M501.3 109.4h0M526.1 100.3h0M529.2 117.5h0M506.9 15.8h0M494.0 130.4h0M525.0 75.2h0M499.4 21.8h0M512.5 117.2h0M477.4 131.1h0M486.4 124.5h0M546.7 72.0h0M459.0 75.5h0M515.6 109.1h0M532.5 122.2h0M483.2 115.7h0M465.7 133.2h0M502.9 64.6h0M482.0 112.2h0M471.9 133.9h0M486.2 115.0h0M431.4 102.5h0M453.7 165.6h0M512.0 92.0h0M465.3 48.3h0M498.0 97.6h0M524.6 76.4h0M494.0 63.0h0M504.2 125.6h0M472.2 128.4h0M511.2 106.4h0M476.8 36.1h0M498.9 119.0h0M514.8 80.8h0M484.9 113.2h0M461.2 95.8h0M460.7 104.7h0M449.9 140.5h0M537.5 68.5h0M506.7 49.4h0M474.8 146.4h0M512.3 12.1h0M507.1 26.7h0M502.9 33.1h0M478.9 80.8h0M465.0 95.1h0M452.2 126.5h0M495.3 129.6h0M491.3 146.6h0M487.2 106.3h0M481.8 40.1h0M498.1 127.0h0M491.1 58.1h0M500.2 42.9h0M502.8 100.3h0M465.9 80.3h0M440.1 90.5h0M490.1 127.7h0M494.2 69.3h0M499.0 128.8h0M530.5 33.7h0M500.7 94.2h0M449.2 146.5h0M486.1 135.2h0M488.1 133.4h0M487.5 143.4h0M483.3 130.6h0M456.7 112.4h0M486.8 67.8h0M440.0 145.9h0M504.2 139.9h0M506.4 141.8h0M461.2 115.6h0M489.4 60.6h0M542.2 97.6h0M526.3 38.6h0M504.6 130.6h0M468.4 107.2h0M501.0 91.5h0M467.9 115.6h0M450.9 123.4h0M498.4 112.0h0M525.3 53.4h0M499.0 118.2h0M490.6 111.6h0M552.2 74.5h0M449.8 127.2h0M462.5 124.1h0M491.3 116.1h0M546.6 52.9h0M496.3 125.4h0M473.4 138.7h0M541.5 89.1h0M498.2 84.0h0M482.4 142.1h0M505.0 79.2h0M474.8 121.2h0M499.6 67.1h0M456.9 119.9h0M474.8 28.8h0M455.3 111.8h0M493.5 119.9h0M482.6 144.1h0M435.0 134.5h0M482.5 123.5h0M504.0 120.2h0M506.2 80.7h0M511.8 80.2h0M465.9 52.2h0M478.2 107.8h0M490.7 104.5h0M538.2 50.2h0M513.3 36.4h0M514.4 137.0h0M500.1 124.4h0M485.3 124.6h0M435.7 120.9h0M444.0 138.8h0M508.7 43.6h0M531.2 43.0h0M503.8 71.9h0M457.9 137.5h0M524.7 126.2h0M488.7 62.6h0M497.3 129.9h0M520.6 130.1h0M519.0 14.4h0M440.2 137.5h0M492.7 54.2h0M476.1 134.0h0M498.4 82.9h0M510.8 113.8h0M432.1 135.1h0M493.8 64.0h0M444.0 130.9h0M503.1 125.7h0M459.0 145.7h0M457.5 153.8h0M486.3 31.1h0M467.9 120.3h0M505.0 79.3h0M481.0 68.7h0M431.2 95.0h0M439.5 133.9h0M501.0 79.0h0M488.8 46.0h0M490.0 151.8h0M478.4 118.8h0M521.5 130.9h0M499.6 56.8h0M473.6 51.8h0M514.6 62.1h0M450.3 93.5h0M475.2 97.6h0M523.0 125.0h0M446.0 146.1h0M517.3 19.0h0M483.9 123.9h0M532.9 75.2h0M458.5 130.4h0M513.3 133.8h0M504.9 124.2h0M453.3 127.2h0M533.3 71.6h0M478.0 69.7h0M480.7 136.4h0M467.4 137.5h0M435.3 122.7h0M445.0 88.0h0M460.2 71.8h0M508.2 68.2h0M515.8 109.6h0M506.3 52.1h0M470.7 96.6h0M525.9 129.6h0M496.2 107.3h0M510.0 73.1h0M447.2 155.3h0M452.3 130.0h0M479.1 108.1h0M505.2 49.4h0M503.4 75.3h0M447.1 112.1h0M498.5 108.3h0M466.3 109.7h0M513.4 147.1h0M503.9 146.6h0M455.5 126.2h0M531.5 115.0h0M463.8 133.5h0M515.7 19.5h0M432.0 132.7h0M509.2 80.8h0M506.1 74.8h0M451.3 125.1h0M492.4 122.0h0M495.7 85.4h0M511.8 137.3h0M529.4 64.6h0M461.3 73.9h0M458.0 127.5h0M506.1 56.1h0M466.1 56.6h0M487.4 131.3h0M467.6 116.4h0M490.4 110.9h0M538.1 87.0h0M480.5 145.3h0M414.5 105.4h0M502.2 140.0h0M452.5 98.9h0M452.7 133.1h0M465.2 68.6h0M461.0 112.6h0M520.6 128.5h0M520.7 132.1h0M539.4 96.2h0M432.2 167.4h0M469.7 104.8h0M501.5 121.2h0M516.1 117.0h0M466.2 113.2h0M504.4 40.8h0M464.0 55.4h0M484.3 119.2h0M481.5 74.5h0M445.5 133.0h0M439.5 78.2h0M496.1 56.0h0M437.7 123.6h0M519.3 85.4h0M496.2 116.0h0M459.8 108.6h0M498.3 56.5h0M477.9 49.6h0M525.7 112.1h0M500.8 119.0h0M499.3 48.4h0M523.9 71.7h0M501.5 80.6h0M502.9 139.7h0M480.7 103.0h0M515.3 77.1h0M528.8 136.8h0M534.1 113.0h0M517.8 44.3h0M450.3 117.1h0M505.9 42.5h0M502.0 66.8h0M428.1 85.1h0M503.2 116.9h0M443.6 70.2h0M524.6 96.2h0M452.8 110.7h0M465.7 145.6h0M530.3 60.6h0M484.4 124.8h0M482.0 53.1h0M516.8 27.1h0M544.6 92.3h0M472.2 116.8h0M453.5 125.1h0M547.1 53.1h0M499.6 147.5h0M458.4 123.3h0M482.1 117.4h0M487.1 85.0h0M515.6 77.3h0M473.9 105.4h0M544.7 59.9h0M451.9 110.9h0M539.2 41.4h0M514.0 70.1h0M501.2 128.0h0M466.0 108.3h0M463.0 135.7h0M454.9 22.4h0M529.4 38.3h0M476.8 111.4h0M488.9 68.1h0M479.0 40.4h0M542.3 127.1h0M551.5 98.8h0M449.2 63.6h0M488.5 82.8h0M539.2 114.9h0M503.2 130.8h0M475.3 119.8h0M475.9 112.0h0M485.2 109.2h0M503.8 148.2h0M479.4 98.1h0M516.1 45.6h0M446.3 123.8h0M489.0 80.8h0M456.4 143.9h0M512.2 121.0h0M529.3 98.2h0M453.2 81.7h0M456.1 133.5h0M471.8 147.7h0M483.7 127.7h0M498.4 109.7h0M467.0 129.8h0M544.9 99.3h0M525.1 115.9h0M480.3 87.7h0M528.3 73.9h0M519.1 25.7h0M533.7 79.3h0M491.5 136.3h0M468.9 42.5h0M469.1 105.7h0M500.1 85.8h0M489.6 123.3h0M452.4 65.4h0M483.2 80.0h0M481.1 88.1h0M533.3 124.5h0M450.8 122.1h0M482.6 139.4h0M464.4 79.4h0M498.1 43.7h0M505.1 47.2h0M509.5 26.9h0M458.8 101.5h0M543.4 44.5h0M419.2 143.5h0M441.0 169.1h0M446.7 140.6h0M500.1 73.4h0M457.3 73.7h0M486.3 67.0h0M489.8 131.4h0M476.2 132.8h0M484.2 72.9h0M461.9 83.3h0M464.8 43.7h0M500.3 135.9h0M502.8 121.1h0M507.4 27.4h0M480.2 126.8h0M430.9 119.7h0M522.5 99.4h0M508.5 105.0h0M538.1 73.3h0M439.1 135.9h0M497.6 40.9h0M471.9 89.1h0M498.5 120.4h0M513.1 51.1h0M462.3 136.7h0M445.7 80.4h0M514.6 70.5h0M433.5 105.5h0M516.6 103.2h0M501.1 126.6h0M511.0 118.9h0M535.6 70.5h0M536.6 62.9h0M472.5 130.2h0M433.6 127.5h0M482.9 120.4h0M476.6 73.0h0M495.0 120.2h0M543.8 88.9h0M494.3 114.4h0M498.8 123.2h0M468.1 105.6h0M508.5 104.8h0M475.1 129.4h0M465.8 130.7h0M491.8 111.2h0M454.9 127.9h0M474.9 110.4h0M449.9 127.6h0M463.9 87.3h0M468.3 100.9h0M506.3 131.1h0M471.5 76.8h0M515.4 54.3h0M460.3 118.5h0M496.8 60.2h0M496.3 92.7h0M503.9 65.1h0M464.8 133.7h0M448.8 104.8h0M478.7 141.2h0M497.7 91.3h0M533.3 105.3h0M474.2 67.7h0M509.5 32.6h0M447.3 143.3h0M485.2 134.2h0M479.7 133.8h0M523.4 103.7h0M520.9 50.7h0M500.8 39.7h0M497.6 121.9h0M449.0 109.1h0M464.0 143.9h0M519.9 138.0h0M480.1 125.4h0M497.7 89.1h0M473.7 150.7h0M482.4 67.7h0M513.5 66.3h0M492.4 108.2h0M496.4 146.8h0M458.4 146.8h0M480.7 125.5h0M526.9 119.9h0M532.1 92.1h0M489.1 139.5h0M526.7 132.8h0M433.3 113.6h0M438.8 134.7h0M490.4 87.7h0M445.3 122.0h0M492.4 116.6h0M494.2 139.5h0M459.2 110.2h0M510.7 78.0h0M447.4 146.9h0M458.0 121.3h0M513.4 136.7h0M524.6 84.4h0M497.5 132.2h0M497.9 52.4h0M488.6 136.6h0M463.2 149.3h0M479.7 139.0h0M536.7 118.1h0M489.9 127.1h0M534.6 105.2h0M492.5 54.5h0M496.1 127.7h0M462.2 80.4h0M447.7 157.9h0M496.3 97.9h0M477.3 75.4h0M490.4 65.5h0M550.0 72.9h0M511.7 135.8h0M475.8 129.9h0M416.7 150.9h0M504.8 120.1h0M450.7 84.5h0M504.2 81.9h0M489.2 131.2h0M496.7 89.5h0M487.3 89.3h0M445.1 156.5h0M481.4 130.5h0M473.7 88.7h0M548.2 71.0h0M477.5 136.5h0M499.8 31.0h0M496.6 149.6h0M469.1 65.4h0M523.5 36.8h0M484.1 136.8h0M486.6 43.7h0M471.3 95.9h0M502.0 46.8h0M510.0 20.9h0M472.8 84.0h0M494.0 76.0h0M493.3 111.5h0M482.4 125.0h0M463.6 93.3h0M525.1 116.7h0M523.9 108.2h0M535.7 121.1h0M463.7 135.2h0M515.8 115.3h0M535.3 21.8h0M535.0 145.4h0M521.7 41.3h0M463.3 126.4h0M491.8 131.6h0M443.0 115.8h0M449.6 138.3h0M471.1 105.3h0M456.0 125.8h0M492.7 59.1h0M467.0 70.2h0M472.4 74.8h0M480.7 110.3h0M482.4 126.6h0M513.6 132.8h0M521.2 59.4h0M493.5 51.2h0M482.9 88.6h0M461.0 145.8h0M457.6 120.6h0M452.5 92.3h0M542.6 75.7h0M500.3 33.9h0M529.4 80.0h0M516.3 43.7h0M474.3 139.0h0M465.4 108.4h0M485.2 82.3h0M499.2 116.2h0M473.2 108.6h0M493.6 116.8h0M507.6 54.6h0M461.7 123.5h0M497.0 138.9h0M474.6 121.9h0M474.5 133.9h0M483.3 121.4h0M473.7 101.3h0M483.7 39.8h0M540.9 125.9h0M505.1 134.9h0M503.4 146.5h0M518.1 131.6h0M514.5 139.2h0M520.4 124.5h0M463.5 145.0h0M461.4 146.3h0M440.3 145.8h0M489.5 132.6h0M494.3 68.0h0M504.9 112.3h0M443.0 128.9h0M487.8 123.5h0M506.7 79.6h0M510.9 62.9h0M485.7 53.6h0M458.6 135.8h0M527.0 96.3h0M521.6 43.1h0M504.6 73.0h0M479.7 86.1h0M481.0 129.1h0M532.7 125.7h0M496.6 87.7h0M475.3 101.6h0M489.1 104.5h0M460.4 134.9h0M443.2 141.4h0M509.1 138.2h0M518.2 113.0h0M468.4 72.1h0M514.9 63.0h0M518.1 123.0h0M517.4 97.7h0M483.8 122.4h0M509.1 121.7h0M510.7 37.5h0M462.4 91.6h0M457.2 113.3h0M481.7 47.1h0M464.6 120.1h0M525.3 120.2h0M474.4 46.5h0M458.4 104.9h0M456.0 167.4h0M492.7 131.3h0M461.3 123.4h0M463.6 124.1h0M481.3 116.2h0M443.6 115.7h0M509.6 121.8h0M499.8 113.1h0M473.4 136.7h0M526.2 38.7h0M540.5 141.3h0M469.3 97.7h0M553.7 103.8h0M502.0 126.1h0M504.1 137.8h0M473.9 133.6h0M446.9 112.2h0M455.4 117.6h0M521.0 27.2h0M459.3 108.6h0M514.4 41.1h0M442.6 132.9h0M492.7 129.9h0M461.0 124.2h0M470.9 95.1h0M457.9 88.4h0M489.7 102.9h0M527.2 67.3h0M482.4 121.1h0M490.7 108.3h0M441.5 138.8h0M467.1 146.6h0M481.1 144.3h0M534.4 125.1h0M486.4 151.4h0M523.4 117.7h0M504.6 42.5h0M512.0 111.4h0M463.3 113.2h0M479.9 53.9h0M505.7 116.5h0M454.7 66.6h0M505.7 89.6h0M490.7 116.1h0M458.1 75.2h0M471.6 77.4h0M546.7 114.3h0M542.7 145.3h0M511.7 92.0h0M482.7 62.2h0M496.7 123.4h0M545.8 75.4h0M471.7 134.1h0M449.9 128.1h0M440.9 93.8h0M427.0 132.9h0M440.2 145.0h0M486.5 74.6h0M475.4 121.7h0M452.9 90.8h0M465.7 116.7h0M469.4 84.8h0M531.9 41.3h0M462.4 39.4h0M476.1 71.1h0M476.1 38.6h0M496.5 116.7h0M475.6 118.4h0M476.1 144.2h0M483.7 108.1h0M505.2 139.4h0M478.3 125.8h0M478.1 131.8h0M437.1 133.6h0M521.7 114.0h0M491.8 138.4h0M484.1 126.0h0M458.6 86.1h0M450.1 83.9h0M462.7 107.7h0M463.1 125.7h0M491.6 146.8h0M490.5 112.0h0M501.3 85.6h0M481.1 61.9h0M521.9 33.9h0M500.0 133.1h0M490.1 52.9h0M453.5 130.5h0M510.7 144.6h0M475.0 106.9h0M473.0 80.1h0M517.1 52.9h0M516.3 28.7h0M473.6 137.9h0M467.1 93.0h0M459.4 125.2h0M489.2 88.8h0M491.9 99.2h0M444.4 89.7h0M443.1 76.9h0M481.4 69.1h0M510.7 76.9h0M487.7 17.8h0M446.7 90.9h0M512.2 143.7h0M475.9 104.7h0M437.3 117.8h0M508.2 38.3h0M501.8 75.3h0M504.8 96.6h0M497.0 32.1h0M461.0 121.7h0M508.5 118.9h0M478.0 115.2h0M482.4 121.0h0M486.9 120.0h0M503.3 116.8h0M517.0 90.2h0M447.1 130.6h0M517.3 132.0h0M474.2 67.9h0M450.6 171.3h0M465.3 123.5h0M452.5 128.6h0M484.0 84.6h0M464.3 110.1h0M477.2 152.1h0M515.7 70.6h0M444.9 146.0h0M543.4 92.4h0M518.0 28.8h0M501.0 62.2h0M490.0 139.1h0M464.9 59.9h0M456.7 117.1h0M476.7 111.8h0M552.3 80.8h0M441.0 122.1h0M471.9 142.3h0M490.4 125.4h0M468.8 115.6h0M518.6 53.0h0M439.9 128.0h0M476.6 121.6h0M482.9 123.5h0M474.5 52.1h0M500.0 34.5h0M512.7 66.1h0M505.2 117.9h0M504.9 116.8h0M477.2 78.1h0M467.7 129.3h0M463.5 107.4h0M445.3 77.1h0M505.4 72.7h0M442.5 132.2h0M485.6 95.5h0M487.2 129.6h0M454.6 141.7h0M467.8 127.7h0M492.1 23.8h0M497.9 123.6h0M496.2 127.5h0M484.9 77.5h0M437.9 157.5h0M475.5 67.9h0M493.2 48.6h0M449.8 130.3h0M503.8 52.8h0M497.9 121.5h0M517.0 47.6h0M474.1 96.5h0M450.0 141.2h0M512.3 26.1h0M460.9 107.0h0M550.1 120.5h0M477.4 63.7h0M505.4 47.6h0M534.6 36.2h0M453.3 158.7h0M510.6 118.8h0M542.2 79.7h0M439.0 124.6h0M534.9 114.2h0M512.1 81.5h0M487.0 94.0h0M474.3 94.5h0M531.0 42.0h0M441.6 100.5h0M517.1 88.9h0M467.3 141.9h0M476.0 145.6h0M466.0 62.0h0M517.4 30.3h0M464.1 121.9h0M525.9 50.0h0M514.2 76.0h0M489.4 95.4h0M512.8 30.0h0M485.9 68.6h0M528.4 108.5h0M491.2 111.5h0M437.1 123.0h0M493.7 114.7h0M438.7 124.0h0M481.8 141.3h0M497.3 51.7h0M515.0 124.2h0M442.5 118.0h0M507.4 135.9h0M446.7 126.0h0M468.7 131.3h0M511.7 44.4h0M439.0 110.4h0M490.8 148.1h0M446.7 144.2h0M508.2 81.6h0M489.7 78.8h0M523.2 52.8h0M535.6 112.9h0M462.0 87.6h0M531.5 118.6h0M467.1 107.8h0M514.5 116.8h0M467.0 96.2h0M480.6 108.0h0M461.7 131.8h0M518.3 27.7h0M429.9 110.0h0M547.7 106.9h0M466.7 69.1h0M476.6 102.9h0M485.4 65.6h0M472.5 146.3h0M536.4 43.7h0M437.1 138.5h0M461.8 100.7h0M531.6 112.5h0M494.2 120.9h0M514.6 141.4h0M460.6 128.6h0M519.5 63.3h0M432.4 127.4h0M440.0 76.6h0M519.1 136.6h0M469.7 84.3h0M493.9 49.0h0M483.1 108.3h0M521.8 65.3h0M447.5 113.8h0M508.2 122.0h0M472.3 136.7h0M452.4 171.4h0M457.9 138.2h0M527.6 112.3h0M493.0 120.5h0M451.1 118.1h0M505.9 104.6h0M477.9 122.5h0M462.5 129.8h0M510.1 119.9h0M472.3 49.3h0M529.2 124.1h0M490.1 56.2h0M483.5 54.0h0M497.2 60.0h0M521.5 63.5h0M498.2 22.7h0M513.7 119.8h0M549.7 121.3h0M443.2 126.6h0M480.9 136.2h0M483.1 124.9h0M484.3 47.0h0M521.1 116.5h0M533.4 110.4h0M472.0 137.0h0M548.1 77.1h0M454.1 134.5h0M488.8 94.1h0M523.9 142.7h0M511.2 105.3h0M489.4 74.9h0M499.8 23.8h0M500.9 108.9h0M469.9 137.3h0M438.0 136.8h0M446.2 72.6h0M458.5 126.5h0M499.8 36.3h0M489.9 141.6h0M499.5 141.2h0M461.3 124.9h0M489.7 72.4h0M476.2 125.0h0M489.9 44.4h0M499.7 120.0h0M527.9 125.6h0M509.9 72.2h0M476.6 93.8h0M439.5 122.5h0M499.2 119.8h0M476.6 138.8h0M492.1 15.4h0M431.4 190.0h0M495.9 71.4h0M495.6 120.8h0M449.1 122.5h0M532.2 70.0h0M475.5 113.6h0M500.7 38.3h0M550.9 24.0h0M469.0 135.3h0M537.4 122.5h0M511.8 63.5h0M505.6 59.6h0M480.8 126.2h0M442.6 99.3h0M523.7 134.7h0M479.6 139.2h0M448.1 69.7h0M437.3 94.9h0M456.0 116.6h0M478.9 65.5h0M495.2 122.7h0M477.0 31.4h0M464.4 124.3h0M494.5 46.9h0M480.0 84.3h0M462.1 128.7h0M517.6 81.3h0M504.6 121.9h0M508.0 102.2h0M469.5 115.1h0M485.9 39.6h0M487.8 70.2h0M537.5 40.4h0M497.0 103.6h0M483.5 145.9h0M471.8 125.5h0M498.4 113.7h0M484.8 67.4h0M490.0 139.3h0M437.0 139.0h0M500.5 139.8h0M490.0 119.7h0M505.4 129.8h0M512.8 27.3h0M501.4 135.0h0M478.9 68.4h0M489.3 76.5h0M444.7 163.5h0M498.2 129.7h0M458.2 143.7h0M468.3 83.1h0M487.0 89.5h0M460.2 82.8h0M504.0 52.8h0M494.1 13.9h0M445.8 115.7h0M532.4 69.0h0M440.4 126.9h0M463.2 135.9h0M471.7 117.7h0M513.7 47.2h0M465.7 156.4h0M507.7 91.8h0M467.3 128.5h0M518.2 108.4h0M449.2 122.1h0M435.0 97.2h0M470.3 106.8h0M486.0 137.0h0M496.5 127.2h0M459.2 67.0h0M455.5 172.4h0M454.3 137.1h0M498.8 116.3h0M500.4 48.5h0M466.1 124.7h0M518.8 111.3h0M507.4 86.7h0M464.6 84.3h0M505.2 127.9h0M451.2 70.6h0M506.8 137.2h0M454.5 111.4h0M500.7 110.1h0M489.3 138.0h0M484.5 129.8h0M511.4 116.3h0M439.9 126.9h0M465.8 67.1h0M500.6 121.6h0M511.3 49.7h0M462.9 122.3h0M471.1 122.5h0M437.4 114.5h0M494.6 111.2h0M481.2 131.3h0M450.3 65.1h0M525.8 116.9h0M431.8 99.2h0M482.4 71.8h0M449.0 122.0h0M507.4 58.3h0M483.8 114.1h0M400.4 131.2h0M534.2 46.2h0M546.7 60.9h0M451.3 144.2h0M505.3 58.2h0M459.0 80.6h0M464.1 107.6h0M509.0 68.5h0M521.6 97.5h0M446.9 86.8h0M469.1 98.3h0M465.2 142.1h0M493.4 132.8h0M449.8 69.6h0M445.6 141.5h0M505.6 38.5h0M527.9 63.0h0M479.5 132.6h0M492.3 136.9h0M456.0 126.2h0M486.1 64.5h0M506.8 113.2h0M459.6 170.9h0M451.7 72.0h0M426.7 85.3h0M494.9 142.4h0M516.9 109.2h0M469.7 132.8h0M456.3 79.0h0M466.0 111.0h0M475.5 48.4h0M497.7 73.1h0M483.9 38.1h0M438.4 160.8h0M540.4 117.2h0M497.8 42.6h0M462.5 130.6h0M509.6 49.3h0M476.4 39.7h0M500.6 127.6h0M500.3 121.4h0M439.3 131.3h0M544.9 81.3h0M466.4 112.5h0M493.9 90.2h0M487.6 100.3h0M538.4 110.8h0M490.8 129.9h0M516.6 113.6h0M505.3 23.6h0M484.9 136.2h0M481.5 149.1h0M502.2 139.6h0M531.0 125.4h0M471.3 129.6h0M475.8 79.5h0M519.2 80.3h0M475.8 55.5h0M484.1 62.9h0M484.0 28.2h0M551.1 116.0h0M469.1 146.1h0M484.8 63.9h0M525.2 82.7h0M434.2 134.1h0M468.4 84.7h0M532.8 95.5h0M426.6 157.6h0M534.2 30.4h0M434.9 109.7h0M497.2 117.9h0M478.7 75.0h0M510.8 111.9h0M503.6 92.4h0M494.0 120.1h0M498.0 108.8h0M456.7 138.2h0M468.5 140.0h0M454.1 59.9h0M478.7 132.8h0M457.1 85.3h0M465.2 93.8h0M516.9 112.3h0M502.0 87.7h0M507.8 128.2h0M482.3 123.3h0M467.1 113.2h0M493.5 43.5h0M489.1 86.7h0M495.6 36.2h0M446.9 118.1h0M463.9 146.6h0M457.4 88.0h0M523.0 104.4h0M477.4 73.0h0M489.7 123.3h0M494.1 103.2h0M534.0 132.2h0M453.1 154.3h0M516.9 83.4h0M440.6 111.3h0M510.5 113.0h0M457.4 91.8h0M503.1 75.5h0M491.2 88.7h0M500.8 131.9h0M467.8 101.5h0M498.0 144.1h0M484.3 144.6h0M446.3 78.2h0M518.7 118.3h0M516.7 45.8h0M478.7 109.3h0M471.2 141.3h0M525.0 142.2h0M523.5 124.3h0M456.5 131.7h0M515.2 35.3h0M516.5 120.3h0M457.7 116.3h0M483.2 58.4h0M477.5 57.2h0M519.2 123.4h0M499.5 33.7h0M503.5 123.7h0M511.9 108.2h0M484.5 115.4h0M490.3 69.5h0M475.1 127.3h0M532.3 35.7h0M492.4 45.4h0M436.7 89.4h0M547.4 44.9h0M471.6 37.2h0M454.1 145.7h0M468.1 70.4h0M504.4 61.3h0M491.2 134.9h0M536.9 81.0h0M492.6 80.5h0M488.3 88.8h0M502.1 69.7h0M490.4 33.9h0M454.7 49.2h0M522.7 111.2h0M477.8 108.3h0M459.6 140.9h0M506.4 104.6h0M456.0 135.8h0M439.3 128.0h0M545.6 116.9h0M495.4 115.8h0M548.2 91.7h0M452.5 148.0h0M473.6 129.8h0M487.2 64.4h0M525.6 67.8h0M459.5 143.3h0M553.8 109.4h0M497.4 108.7h0M470.8 141.4h0M491.8 19.8h0M549.8 75.9h0M484.3 46.7h0M453.5 123.0h0M492.6 125.5h0M473.4 70.7h0M493.3 140.4h0M457.4 141.6h0M532.5 79.3h0M533.4 43.6h0M474.7 73.3h0M542.2 52.7h0M459.8 116.9h0M457.0 103.2h0M456.6 140.1h0M464.2 120.3h0M486.4 82.9h0M481.8 116.8h0M498.1 117.0h0M529.7 130.5h0M453.4 108.6h0M479.4 67.1h0M422.9 144.0h0M481.9 123.2h0M541.8 88.9h0M433.2 104.3h0M514.4 36.5h0M452.6 123.4h0M522.4 40.9h0M484.2 137.3h0M436.0 157.3h0M531.8 49.2h0M479.3 109.1h0M473.5 97.7h0M518.3 100.2h0M455.5 124.8h0M528.7 88.8h0M463.4 120.9h0M485.6 41.2h0M472.0 150.5h0M494.4 118.7h0M481.3 119.5h0M544.2 63.7h0M521.2 65.9h0M472.8 138.5h0M520.8 107.1h0M527.5 77.6h0M477.1 46.1h0M508.2 57.9h0M516.7 75.0h0M451.3 111.5h0M430.3 91.3h0M509.4 132.3h0M502.6 41.9h0M475.6 128.2h0M477.7 67.3h0M478.0 146.5h0M486.9 53.7h0M467.8 116.3h0M445.5 146.5h0M490.9 79.9h0M447.9 85.6h0M499.1 28.9h0M525.1 122.7h0M527.6 116.7h0M482.1 124.1h0M444.3 134.4h0M542.5 60.7h0M500.2 45.1h0M495.4 144.5h0M479.3 62.6h0M463.3 118.2h0M468.5 63.8h0M445.8 130.0h0M531.2 133.6h0M432.6 121.7h0M532.5 130.6h0M537.2 126.1h0M492.7 145.1h0M504.5 24.7h0M497.5 129.5h0M446.4 140.6h0M450.9 129.9h0M474.2 78.0h0M460.8 122.3h0M445.1 136.9h0M495.4 80.7h0M507.4 115.9h0M502.6 124.0h0M488.5 122.3h0M482.7 73.2h0M454.2 83.6h0M452.7 129.1h0M527.6 118.6h0M480.3 86.7h0M498.6 105.6h0M499.6 138.9h0M476.9 117.9h0M441.1 81.0h0M500.5 125.2h0M527.4 142.0h0M504.7 58.9h0M508.5 32.9h0M443.1 98.2h0M438.4 141.8h0M434.7 144.6h0M495.3 128.5h0M540.9 82.3h0M465.1 83.1h0M507.7 45.2h0M462.9 120.3h0M457.2 128.6h0M465.2 79.4h0M493.9 117.5h0M505.4 51.9h0M480.6 102.5h0M507.7 85.1h0M442.6 147.9h0M475.9 131.9h0M497.6 49.6h0M518.5 101.9h0M504.2 47.9h0M509.4 129.9h0M465.3 145.3h0M488.7 23.5h0M500.8 102.5h0M468.0 111.0h0M543.1 122.9h0M496.7 65.3h0M457.9 149.5h0M519.2 51.3h0M530.4 52.2h0M484.5 125.3h0M508.0 122.4h0M443.3 106.6h0M443.4 139.7h0M496.9 130.2h0M457.0 78.4h0M524.1 128.5h0M462.0 128.5h0M461.9 127.7h0M507.2 80.7h0M503.0 75.5h0M501.3 91.6h0M491.5 57.0h0M409.0 173.1h0M485.9 107.1h0M489.8 128.2h0M471.8 124.7h0M538.6 100.6h0M508.7 145.3h0M488.6 150.4h0M472.6 101.8h0M454.3 68.8h0M499.9 65.2h0M518.2 122.9h0M543.9 64.9h0M524.9 31.5h0M463.8 95.6h0M481.3 115.9h0M463.4 48.8h0M459.4 140.8h0M482.5 131.7h0M449.7 103.8h0M462.1 143.7h0M487.5 85.8h0M525.0 73.3h0M492.6 85.9h0M479.0 109.6h0M491.1 96.6h0M498.4 54.4h0M504.3 122.3h0M479.0 87.0h0M480.7 121.9h0M480.5 43.7h0M510.2 71.3h0M504.1 89.6h0M529.1 85.7h0M538.4 60.8h0M514.3 80.0h0M544.4 40.7h0M435.5 146.5h0M429.3 160.9h0M507.5 61.5h0M505.0 111.5h0M474.1 121.7h0M479.2 115.1h0M512.0 57.7h0M460.4 127.1h0M560.6 81.4h0M460.8 94.3h0M483.6 82.1h0M508.0 124.9h0M457.9 81.5h0M530.2 75.8h0M461.2 116.3h0M472.9 116.1h0M470.8 144.9h0M537.5 89.8h0M486.8 136.9h0M483.9 140.2h0M497.0 37.3h0M422.9 113.9h0M456.7 118.0h0M463.2 136.0h0M470.7 116.9h0M501.2 95.9h0M471.1 116.5h0M469.4 31.4h0M448.6 121.0h0M491.8 140.6h0M525.6 90.8h0M475.4 96.1h0M494.3 65.7h0M498.2 127.5h0M516.6 121.9h0M476.3 103.0h0M501.6 111.8h0M445.1 153.9h0M447.7 147.4h0M515.6 107.0h0M515.1 95.9h0M475.2 127.2h0M476.5 150.0h0M490.5 142.0h0M533.2 124.1h0M499.1 107.7h0M425.8 120.9h0M417.5 135.0h0M442.4 90.4h0M535.1 129.5h0M449.9 124.9h0M502.1 110.5h0M500.2 128.8h0M467.2 125.5h0M445.7 161.2h0M472.9 75.0h0M506.3 59.0h0M513.3 129.2h0M501.7 50.0h0M492.4 88.6h0M532.7 117.9h0M428.3 109.1h0M479.4 89.4h0M496.1 87.2h0M464.5 107.0h0M522.4 112.1h0M445.0 127.7h0M456.6 53.6h0M451.1 101.1h0M543.6 34.1h0M508.8 42.0h0M453.8 84.4h0M468.7 47.5h0M487.1 92.7h0M461.9 140.2h0M494.6 121.9h0M524.4 74.0h0M484.5 97.8h0M511.6 131.3h0M506.1 49.6h0M517.5 136.9h0M478.4 153.0h0M476.2 109.0h0M440.1 95.8h0M470.7 133.0h0M480.3 44.7h0M538.1 83.8h0M493.4 105.1h0M440.4 139.4h0M463.8 131.9h0M551.0 64.9h0M484.2 129.5h0M505.7 56.9h0M540.4 52.1h0M460.3 103.2h0M429.0 162.7h0M510.4 123.0h0M475.4 74.0h0M466.6 127.4h0M429.5 126.0h0M524.6 127.9h0M537.7 132.0h0M510.1 71.7h0M487.2 105.0h0M533.2 92.6h0M523.5 120.5h0M569.2 94.3h0M498.7 85.9h0M472.5 107.3h0M498.5 131.2h0M495.5 46.8h0M455.4 118.6h0M424.9 90.5h0M452.0 125.5h0M546.1 82.3h0M450.7 142.3h0M552.8 117.3h0M471.3 134.8h0M422.2 117.8h0M510.9 108.0h0M486.5 95.0h0M539.5 75.9h0M476.7 86.4h0M514.2 69.1h0M430.7 154.6h0M491.3 61.9h0M446.7 113.7h0M504.5 43.2h0M444.7 173.8h0M489.3 106.4h0M504.8 74.7h0M490.1 69.7h0M484.6 126.5h0M464.0 93.5h0M538.5 76.9h0M466.6 84.2h0M421.3 163.8h0M448.9 113.6h0M552.3 78.3h0M451.1 92.7h0M460.7 97.5h0M453.5 129.9h0M439.0 85.5h0M486.7 95.0h0M440.1 169.4h0M458.8 119.6h0M500.9 131.0h0M447.5 124.0h0M477.2 64.1h0M517.4 99.2h0M439.1 145.4h0M496.2 124.2h0M484.4 45.9h0M531.0 54.9h0M491.7 133.7h0M475.4 128.2h0M500.7 126.5h0M495.5 126.7h0M530.7 83.2h0M498.6 53.1h0M445.6 91.7h0M506.3 116.0h0M491.5 115.4h0M431.1 129.9h0M494.1 105.3h0M511.2 90.0h0M508.5 117.7h0M467.4 105.2h0M480.0 133.0h0M492.5 135.8h0M477.4 146.2h0M492.8 59.8h0M516.4 131.9h0M479.8 50.9h0M496.2 69.7h0M465.3 115.1h0M542.0 64.1h0M482.4 125.0h0M476.5 137.7h0M469.2 147.5h0M445.2 131.8h0M519.8 34.6h0M479.1 133.5h0M470.6 130.0h0M456.6 115.5h0M478.5 143.9h0M490.8 82.9h0M469.4 71.6h0M471.4 50.3h0M431.4 133.7h0M492.2 56.5h0M491.0 136.8h0M493.1 96.4h0M480.4 146.8h0M530.9 98.4h0M529.7 122.2h0M547.4 89.8h0M478.9 131.2h0M529.0 110.4h0M503.7 49.9h0M453.4 147.1h0M467.7 117.2h0M464.6 122.2h0M548.2 131.9h0M460.7 139.5h0M483.5 129.3h0M519.0 120.5h0M502.8 137.2h0M460.8 148.3h0M478.3 134.2h0M447.6 149.2h0M546.5 74.8h0M513.5 30.6h0M460.5 60.4h0M464.2 95.3h0M447.1 132.3h0M500.5 54.3h0M506.8 12.7h0M531.6 65.7h0M464.1 141.4h0M494.3 115.0h0M469.5 129.3h0M484.5 52.2h0M484.0 63.7h0M527.9 126.7h0M486.2 141.5h0M497.5 78.2h0M488.2 48.6h0M464.9 55.5h0M454.8 65.3h0M541.0 54.4h0M529.9 105.2h0M474.8 111.2h0M488.5 44.8h0M494.9 66.7h0M515.7 132.0h0M451.6 56.4h0M446.9 90.2h0M448.3 125.4h0M485.8 141.7h0M485.1 95.5h0M484.9 93.8h0M475.5 77.8h0M509.8 51.6h0M522.8 16.9h0M491.8 38.1h0M517.5 144.4h0M547.4 76.3h0M447.9 156.0h0M485.5 67.4h0M493.2 132.3h0M517.7 68.9h0M498.0 53.7h0M471.8 136.4h0M521.4 29.4h0M490.8 134.1h0M458.1 119.7h0M493.2 93.9h0M466.5 113.9h0M456.7 142.1h0M490.1 67.2h0M488.8 36.4h0M485.9 112.3h0M498.3 130.7h0M514.0 125.8h0M455.2 78.3h0M466.9 133.1h0M464.5 95.1h0M479.1 58.1h0M478.5 30.6h0M463.3 115.6h0M468.5 129.0h0M463.7 133.9h0M496.0 75.3h0M452.3 142.7h0M484.1 68.1h0M491.9 98.2h0M435.3 134.7h0M466.9 69.0h0M476.3 72.4h0M464.1 142.4h0M463.1 131.8h0M461.1 83.2h0M492.5 150.3h0M502.1 85.5h0M543.1 101.8h0M477.8 102.0h0M420.3 114.1h0M440.6 175.2h0M460.5 122.0h0M493.9 64.7h0M444.1 136.5h0M499.6 121.5h0M470.2 139.4h0M528.4 113.9h0M427.0 139.6h0M489.0 98.4h0M454.9 136.3h0M465.5 133.5h0M496.3 132.8h0M456.6 130.2h0M459.2 69.9h0M489.7 109.3h0M491.6 132.8h0M474.2 75.4h0M450.8 130.9h0M464.6 103.6h0M464.0 134.4h0M502.9 73.0h0M511.0 100.4h0M447.5 94.4h0M475.8 64.3h0M510.4 121.2h0M472.7 138.1h0M438.1 146.9h0M522.3 118.4h0M454.3 76.1h0M495.9 99.7h0M508.4 121.0h0M523.4 140.5h0M505.6 145.0h0M477.6 83.2h0M452.8 56.8h0M487.6 69.8h0M497.0 148.3h0M478.8 150.7h0M471.9 79.1h0M521.0 116.6h0M482.5 109.0h0M514.4 114.3h0M484.7 120.0h0M507.5 126.7h0M443.5 118.3h0M494.2 122.6h0M440.9 128.0h0M492.1 46.1h0M514.5 82.3h0M506.2 123.0h0M486.5 84.2h0M469.0 103.1h0M479.3 35.9h0M478.4 119.9h0M508.5 95.9h0M473.6 132.9h0M493.5 116.9h0M504.4 111.3h0M468.3 84.4h0M459.8 130.7h0M440.5 93.6h0M503.7 123.3h0M477.0 74.8h0M500.1 60.4h0M444.7 161.6h0M459.1 73.7h0M479.3 146.8h0M481.0 60.6h0M499.3 113.3h0M499.1 65.4h0M515.2 77.3h0M507.0 47.0h0M480.1 114.0h0M510.6 59.0h0M480.3 95.7h0M442.1 110.0h0M431.7 127.2h0M528.6 91.7h0M546.3 47.8h0M447.8 144.2h0M480.4 52.5h0M499.4 140.4h0M475.5 111.6h0M482.6 141.8h0M436.8 119.0h0M485.8 132.0h0M489.3 72.3h0M469.4 92.3h0M525.4 73.2h0M453.2 116.3h0M510.5 135.7h0M530.6 115.4h0M487.4 109.8h0M450.8 150.3h0M465.0 112.2h0M534.9 115.6h0M483.9 129.7h0M513.0 131.2h0M472.7 62.8h0M490.3 135.7h0M475.0 127.5h0M476.2 126.6h0M513.1 114.6h0M463.6 138.8h0M490.5 116.1h0M527.4 118.5h0M509.4 138.1h0M446.8 150.8h0M534.8 78.4h0M533.6 56.9h0M503.6 128.0h0M513.1 137.0h0M450.8 139.0h0M486.9 90.2h0M505.3 91.7h0M441.6 118.6h0M494.3 125.7h0M523.1 94.7h0M469.7 154.7h0M485.1 144.5h0M511.5 63.2h0M505.1 37.8h0M459.9 135.0h0M496.9 61.3h0M451.9 149.2h0M510.8 125.7h0M523.5 83.7h0M486.9 128.3h0M434.1 112.6h0M480.6 136.7h0M478.6 124.4h0M433.0 148.1h0M503.8 104.6h0M436.4 155.0h0M532.0 85.1h0M497.7 46.6h0M473.0 99.7h0M477.8 118.1h0M454.7 91.9h0M534.6 87.1h0M482.6 86.0h0M504.6 15.8h0M486.8 34.6h0M451.7 133.3h0M461.9 79.7h0M506.1 112.5h0M500.6 75.1h0M506.2 33.4h0M545.3 59.2h0M465.1 109.7h0M497.4 31.0h0M534.6 150.3h0M460.9 54.7h0M454.0 141.1h0M447.7 123.4h0M503.7 65.5h0M516.0 116.2h0M530.4 33.6h0M494.2 95.7h0M518.7 79.6h0M465.5 105.9h0M473.8 141.6h0M464.0 124.1h0M445.3 94.3h0M465.9 137.8h0M492.0 97.8h0M536.6 134.3h0M468.7 46.7h0M498.9 61.9h0M474.5 116.5h0M500.1 31.2h0M447.0 154.3h0M541.8 102.4h0M434.9 90.2h0M497.3 67.9h0M470.4 131.0h0M536.3 51.1h0M498.6 128.1h0M490.1 71.7h0M464.2 58.3h0M479.7 63.7h0M517.4 142.1h0M528.0 72.5h0M443.0 140.1h0M475.1 26.1h0M511.6 128.4h0M481.1 76.9h0M487.0 70.5h0M495.1 149.7h0M506.2 120.4h0M451.3 151.0h0M449.7 121.5h0M458.7 75.2h0M492.8 150.1h0M475.6 141.6h0M501.4 131.8h0M510.9 54.9h0M527.0 135.8h0M517.9 69.7h0M501.9 120.0h0M479.0 106.2h0M496.4 106.3h0M443.2 167.6h0M506.4 146.0h0M494.6 123.3h0M492.7 90.4h0M464.7 94.3h0M468.7 128.1h0M491.8 128.5h0M532.5 137.5h0M478.9 126.7h0M503.4 136.1h0M533.2 59.5h0M462.3 129.4h0M534.6 127.3h0M536.7 131.6h0M457.8 122.7h0M439.6 142.4h0M515.8 82.8h0M489.2 37.4h0M491.7 109.7h0M468.7 119.1h0M461.0 80.1h0M463.1 94.9h0M492.7 119.3h0M507.6 45.2h0M527.1 18.8h0M500.2 135.6h0M510.9 126.1h0M514.7 138.0h0M512.3 123.9h0M530.2 119.7h0M495.3 105.3h0M466.0 88.6h0M527.9 91.1h0M515.0 110.4h0M480.2 125.3h0M500.3 87.4h0M532.5 97.3h0M497.9 124.4h0M490.6 79.8h0M539.6 101.9h0M458.8 151.0h0M491.3 126.8h0M444.3 152.4h0M445.1 106.0h0M452.2 165.9h0M497.3 127.7h0M533.8 123.5h0M517.7 56.2h0M505.2 58.6h0M469.7 134.8h0M526.6 60.6h0M502.7 137.0h0M438.4 131.2h0M491.6 64.7h0M440.6 135.1h0M473.3 148.1h0M481.0 108.1h0M479.4 147.1h0M451.7 78.0h0M495.1 114.1h0M550.6 125.5h0M469.9 126.5h0M512.0 58.3h0M463.5 148.7h0M497.6 118.9h0M451.4 119.0h0M444.8 132.0h0M423.4 84.2h0M444.5 156.2h0M514.4 123.6h0M526.6 66.3h0M489.8 149.1h0M480.6 124.2h0M536.1 118.1h0M437.1 99.5h0M507.5 122.3h0M483.4 57.8h0M500.9 41.3h0M451.1 154.5h0M474.8 101.2h0M524.2 90.8h0M480.1 125.1h0M482.5 83.3h0M447.8 145.2h0M495.1 112.7h0M445.3 122.7h0M488.4 120.6h0M483.9 142.2h0M452.5 97.1h0M529.4 92.9h0M507.1 66.0h0M529.1 112.0h0M470.5 54.6h0M539.0 67.9h0M478.1 87.8h0M526.9 42.5h0M524.6 93.2h0M471.4 68.5h0M438.1 157.0h0M487.1 124.1h0M436.8 116.9h0M514.0 131.3h0M446.1 128.0h0M491.3 38.0h0M473.7 134.6h0M477.8 70.2h0M451.4 135.4h0M519.5 70.9h0M502.8 129.7h0M460.2 127.0h0M445.6 191.7h0M449.8 125.9h0M509.3 41.9h0M463.6 137.5h0M441.4 159.4h0M494.3 119.7h0M510.7 105.0h0M485.7 48.9h0M539.7 89.0h0M449.8 70.7h0M448.8 113.2h0M506.9 60.3h0M489.1 74.8h0M512.5 134.9h0M458.5 129.4h0M486.3 55.2h0M464.6 116.6h0M491.2 133.1h0M476.1 83.6h0M471.5 90.8h0M513.5 113.9h0M492.1 122.3h0M492.1 122.0h0M453.5 151.5h0M525.3 68.1h0M506.0 119.6h0M452.9 143.8h0M458.6 136.4h0M495.5 25.9h0M467.9 136.2h0M464.1 105.3h0M469.7 136.9h0M504.9 53.4h0M458.4 123.7h0M455.7 46.3h0M468.6 115.3h0M465.9 70.1h0M469.8 87.8h0M484.9 59.7h0M507.3 11.3h0M497.9 111.6h0M523.3 45.8h0M520.3 112.9h0M509.0 129.1h0M520.5 126.1h0M461.6 80.8h0M489.7 54.5h0M520.6 136.0h0M550.6 86.4h0M493.1 57.5h0M447.5 135.1h0M471.0 31.0h0M499.2 62.3h0M489.5 129.8h0M453.5 146.8h0M499.7 49.9h0M482.3 117.3h0M541.6 86.7h0M489.2 107.7h0M513.2 128.0h0M494.0 126.3h0M461.9 136.5h0M471.0 119.8h0M483.8 112.1h0M502.0 88.0h0M465.0 117.8h0M460.7 80.6h0M523.2 104.9h0M499.4 140.9h0M480.4 72.9h0M496.0 133.1h0M513.5 112.7h0M446.4 139.0h0M547.1 92.7h0M481.6 146.3h0M512.5 125.4h0M488.4 74.1h0M501.3 122.9h0M432.5 128.7h0M491.4 71.1h0M502.9 43.3h0M468.3 127.7h0M469.9 97.0h0M516.7 109.3h0M544.3 76.8h0M436.9 137.5h0M494.3 137.5h0M477.0 73.6h0M526.4 119.2h0M448.0 106.1h0M434.5 139.0h0M464.8 123.3h0M472.5 131.9h0M451.2 118.4h0M463.1 123.8h0M475.6 33.7h0M508.1 84.7h0M435.0 154.6h0M482.3 58.4h0M487.2 130.5h0M556.7 101.9h0M450.9 130.0h0M506.5 124.6h0M490.9 124.0h0M480.3 155.7h0M462.3 149.4h0M471.9 68.7h0M510.3 32.3h0M449.8 93.5h0M533.0 47.5h0M482.3 53.9h0M464.3 119.8h0M522.8 128.9h0M523.1 141.4h0M495.4 61.9h0M462.8 89.6h0M473.0 104.2h0M514.0 102.3h0M530.4 62.4h0M481.3 135.7h0M517.9 127.6h0M474.3 91.9h0M430.4 84.9h0M466.0 119.0h0M453.7 121.9h0M491.4 124.1h0M524.6 99.8h0M457.5 148.5h0M532.5 133.4h0M456.1 125.7h0M469.5 118.1h0M509.6 37.2h0M445.7 145.2h0M455.7 172.8h0M521.0 132.7h0M469.1 128.3h0M481.5 75.5h0M445.3 138.6h0M451.8 101.9h0M447.0 156.8h0M477.2 35.3h0M430.2 150.8h0M455.3 93.1h0M476.3 70.5h0M529.9 89.6h0M471.2 136.4h0M452.5 115.0h0M463.0 116.5h0M488.5 69.6h0M446.4 70.9h0M526.8 51.8h0M498.5 28.5h0M479.3 140.1h0M483.4 144.7h0M512.7 144.5h0M464.8 75.3h0M479.2 150.3h0M492.0 36.6h0M472.6 71.7h0M496.9 81.9h0M493.3 123.1h0M527.3 62.8h0M432.0 84.3h0M493.6 125.7h0M523.7 107.3h0M472.8 108.7h0M489.4 80.6h0M528.5 51.4h0M464.6 92.9h0M450.3 95.3h0M538.6 96.6h0M464.4 36.8h0M508.7 111.6h0M441.4 106.9h0M466.2 66.4h0M480.2 113.4h0M466.2 140.0h0M455.4 84.7h0M456.9 154.5h0M504.8 122.0h0M527.4 24.5h0M484.4 118.7h0M517.8 46.2h0M496.1 44.6h0M518.9 35.4h0M458.8 133.6h0M464.5 122.6h0M508.0 67.0h0M487.1 124.5h0M492.3 109.0h0M471.7 104.3h0M488.5 99.2h0M519.9 130.9h0M444.4 89.2h0M509.7 83.3h0M448.5 119.1h0M518.8 82.6h0M488.3 132.8h0M477.0 133.4h0M480.4 125.6h0M472.5 123.0h0M428.9 131.7h0M495.8 124.5h0M499.6 75.9h0M478.0 117.1h0M513.8 39.5h0M448.3 144.4h0M515.2 69.1h0M492.4 135.8h0M419.4 118.0h0M473.2 110.3h0M475.7 125.0h0M482.3 109.9h0M510.7 163.2h0M496.5 74.0h0M496.6 145.1h0M484.4 50.7h0M437.1 155.9h0M465.3 142.8h0M486.3 122.5h0M486.1 49.0h0M458.9 131.6h0M540.2 119.1h0M483.0 68.9h0M485.7 21.3h0M502.2 15.1h0M457.9 127.4h0M458.8 59.2h0M457.5 128.2h0M492.1 126.8h0M501.5 119.3h0M548.9 99.0h0M474.8 67.6h0M518.2 65.8h0M431.9 149.6h0M485.0 41.0h0M497.3 124.6h0M517.2 113.9h0M453.5 126.8h0M472.0 89.5h0M486.6 46.4h0M535.2 83.5h0M477.2 104.5h0M481.8 77.5h0M530.5 131.4h0M493.5 68.4h0M500.6 51.7h0M480.6 66.5h0M478.4 106.7h0M475.4 149.8h0M499.5 29.4h0M492.3 22.1h0M494.2 95.5h0M519.8 43.0h0M518.7 132.8h0M505.2 134.9h0M461.3 106.4h0M526.5 91.1h0M449.0 120.3h0M480.5 145.1h0M490.2 126.9h0M517.8 30.0h0M491.2 86.9h0M534.0 65.6h0M528.3 135.8h0M529.2 59.4h0M503.5 38.4h0M464.9 138.9h0M508.1 119.1h0M466.0 58.8h0M502.9 112.5h0M529.6 87.9h0M496.4 43.7h0M384.8 132.8h0M452.0 125.8h0M486.8 115.7h0M488.1 49.4h0M457.8 142.6h0M470.3 51.8h0M474.7 125.3h0M511.7 143.6h0M513.9 124.7h0M492.6 121.5h0M462.4 95.0h0M525.6 145.0h0M451.8 139.5h0M472.0 54.3h0M499.6 112.8h0M459.7 113.8h0M545.3 116.0h0M478.6 38.9h0M465.1 130.6h0M439.0 123.0h0M453.1 136.0h0M476.2 127.4h0M509.7 122.8h0M511.1 53.3h0M450.3 139.2h0M521.7 134.8h0M484.5 126.5h0M508.4 68.2h0M460.5 134.7h0M456.2 131.9h0M529.2 114.0h0M471.4 56.3h0M504.9 148.9h0M463.0 129.3h0M450.3 141.8h0M528.9 138.0h0M473.2 98.6h0M445.1 147.9h0M444.4 130.7h0M475.7 132.0h0M482.2 109.5h0M424.5 131.6h0M491.3 128.1h0M496.5 55.4h0M434.4 158.4h0M512.5 114.5h0M435.9 137.5h0M522.7 133.0h0M480.0 121.1h0M465.6 149.1h0M485.0 131.1h0M523.7 62.8h0M490.3 56.4h0M423.8 129.2h0M450.9 145.6h0M429.3 109.3h0M458.0 136.6h0M435.9 85.3h0M421.3 143.3h0M502.9 120.7h0M439.5 133.1h0M505.5 122.7h0M500.4 136.8h0M461.6 127.0h0M468.0 45.2h0M440.8 135.7h0M469.3 59.6h0M560.2 110.3h0M462.5 126.0h0M510.8 111.0h0M438.7 98.6h0M486.1 62.9h0M496.0 126.3h0M477.7 74.9h0M478.9 89.0h0M476.2 124.0h0M488.8 44.4h0M514.3 117.5h0M435.7 122.0h0M511.8 32.5h0M508.7 73.0h0M462.0 98.4h0M498.4 124.3h0M512.8 112.6h0M483.7 138.0h0M526.4 82.1h0M537.5 113.3h0M484.7 118.8h0M440.6 142.5h0M499.3 140.9h0M487.3 76.5h0M498.3 95.2h0M515.9 116.7h0M490.9 56.2h0M454.3 138.5h0M494.4 63.9h0M458.6 92.7h0M477.9 57.8h0M473.8 149.6h0M497.4 63.0h0M462.7 122.5h0M501.4 143.7h0M445.5 90.2h0M512.2 129.1h0M533.7 101.2h0M478.6 47.0h0M487.6 65.4h0M531.4 116.9h0M507.1 50.7h0M517.4 102.7h0M493.9 56.5h0M442.1 72.3h0M516.7 133.8h0M534.0 137.1h0M448.5 145.7h0M538.2 80.4h0M480.3 125.7h0M482.4 136.9h0M490.9 115.7h0M426.2 100.3h0M473.5 37.9h0M496.2 128.8h0M498.0 122.8h0M486.9 139.0h0M485.6 63.3h0M467.9 159.7h0M495.0 98.6h0M480.7 139.0h0M479.9 75.4h0M502.3 124.1h0M468.9 119.9h0M512.2 75.0h0M506.2 16.2h0M501.1 120.9h0M507.7 66.1h0M450.5 146.8h0M445.0 145.6h0M554.3 102.0h0M489.4 123.8h0M445.0 115.8h0M433.4 85.4h0M446.8 136.4h0M477.5 25.6h0M482.5 115.0h0M519.3 72.1h0M503.0 85.8h0M464.2 92.0h0M559.3 103.1h0M455.3 108.9h0M480.7 116.6h0M481.6 133.0h0M473.2 88.3h0M466.7 72.1h0M490.0 134.8h0M474.8 135.0h0M500.1 140.8h0M464.5 56.0h0M442.3 161.6h0M465.9 102.7h0M443.0 127.3h0M439.3 116.1h0M510.2 137.6h0M467.2 135.1h0M556.0 90.7h0M499.8 134.4h0M453.7 126.0h0M455.9 88.5h0M445.3 91.1h0M481.1 92.8h0M475.8 112.8h0M483.8 71.5h0M486.3 75.8h0M460.7 75.4h0M458.9 64.5h0M495.5 125.4h0M444.3 121.9h0M472.3 54.1h0M437.7 134.0h0M505.1 150.0h0M471.1 79.5h0M530.3 81.7h0M467.7 83.4h0M471.4 128.7h0M472.0 137.4h0M497.6 64.3h0M497.3 124.8h0M503.5 38.4h0M499.9 119.4h0M461.8 124.9h0M446.6 104.8h0M475.9 123.4h0M468.3 140.1h0M476.1 121.1h0M499.7 96.6h0M507.4 121.2h0M472.7 95.6h0M506.6 90.0h0M477.7 121.2h0M523.0 67.5h0M487.4 89.5h0M477.7 138.9h0M499.0 132.7h0M493.0 141.9h0M466.6 146.5h0M480.6 118.5h0M469.2 72.7h0M463.9 65.6h0M463.1 126.4h0M531.7 132.5h0M469.6 137.0h0M492.2 101.0h0M461.4 115.9h0M457.9 126.7h0M520.7 127.6h0M458.7 148.9h0M526.3 141.1h0M529.0 143.7h0M513.8 121.6h0M458.2 121.2h0M501.1 108.2h0M441.4 138.2h0M473.0 146.7h0M512.1 36.7h0M487.4 28.0h0M470.8 107.4h0M494.5 97.7h0M459.3 128.2h0M494.4 120.8h0M470.3 73.5h0M441.0 136.9h0M478.5 60.2h0M462.2 118.2h0M482.6 123.8h0M455.0 74.5h0M519.3 42.5h0M488.6 64.3h0M479.4 89.8h0M452.9 118.7h0M514.8 74.1h0M543.2 114.4h0M472.5 155.4h0M496.6 116.5h0M478.0 69.9h0M468.5 94.7h0M489.6 116.6h0M479.0 124.7h0M533.6 125.4h0M502.5 126.3h0M479.7 119.2h0M499.0 113.1h0M430.8 117.6h0M436.7 100.7h0M457.8 99.2h0M547.5 100.2h0M466.9 117.9h0M490.3 86.1h0M508.3 141.7h0M504.9 126.0h0M536.8 133.5h0M529.4 124.6h0M500.8 79.2h0M497.6 130.7h0M465.2 85.6h0M555.6 102.7h0M447.2 110.0h0M483.8 60.4h0M452.7 118.8h0M476.2 84.1h0M531.6 33.8h0M474.8 125.7h0M519.5 55.1h0M494.5 62.6h0M459.4 122.8h0M480.8 115.9h0M507.0 114.3h0M498.8 72.7h0M556.8 96.7h0M470.1 69.5h0M451.1 133.1h0M495.8 94.9h0M497.2 59.0h0M464.3 100.7h0M517.8 55.1h0M515.8 65.1h0M510.4 107.9h0M503.8 141.0h0M491.1 127.2h0M486.6 39.8h0M528.2 121.7h0M459.1 142.0h0M467.4 133.1h0M462.2 81.6h0M417.1 152.0h0M527.1 65.1h0M491.2 138.6h0M488.7 59.9h0M483.2 103.3h0M513.1 122.2h0M444.7 144.9h0M481.7 91.9h0M510.0 138.1h0M544.1 99.8h0M492.9 108.7h0M508.3 45.6h0M522.4 72.9h0M461.4 120.4h0M528.0 46.6h0M494.1 40.0h0M462.0 138.5h0M524.7 74.6h0M511.0 43.7h0M464.2 131.0h0M487.4 92.6h0M434.1 103.8h0M520.1 115.0h0M462.6 125.5h0M519.9 58.3h0M476.6 97.2h0M468.0 101.1h0M510.9 69.7h0M500.9 51.1h0M556.3 119.5h0M464.1 124.8h0M496.4 81.7h0M511.9 141.5h0M495.7 89.8h0M503.9 78.6h0M524.2 43.3h0M522.5 37.9h0M471.0 148.9h0M522.8 34.1h0M511.6 50.4h0M507.0 137.6h0M480.0 81.5h0M536.8 95.2h0M436.0 137.4h0M530.2 133.6h0M525.8 67.3h0M495.8 100.2h0M481.4 134.9h0M475.6 33.7h0M505.8 66.3h0M509.2 94.9h0M520.3 81.8h0M484.6 109.5h0M481.1 80.7h0M494.0 125.7h0M434.9 150.2h0M459.8 86.4h0M472.0 124.8h0M494.1 120.9h0M528.1 40.6h0M447.4 95.0h0M531.4 110.7h0M457.6 104.1h0M529.9 37.4h0M464.0 131.6h0M508.2 87.7h0M459.4 83.6h0M498.1 142.5h0M500.4 63.2h0M542.1 86.4h0M458.0 124.6h0M431.5 139.3h0M448.8 90.9h0M509.0 100.8h0M464.9 86.7h0M542.6 96.4h0M523.1 30.3h0M449.7 148.5h0M469.7 129.9h0M512.1 41.1h0M473.3 110.5h0M500.3 125.0h0M500.9 26.2h0M547.6 110.4h0M512.0 32.7h0M522.4 75.8h0M495.8 135.4h0M509.0 128.9h0M499.9 67.6h0M477.2 136.6h0M516.9 44.0h0M544.8 125.5h0M487.2 143.5h0M497.9 101.9h0M485.5 143.1h0M542.2 62.7h0M497.0 61.2h0M474.8 69.8h0M500.7 115.8h0M521.3 117.9h0M484.0 113.9h0M510.4 133.9h0M519.7 119.1h0M454.7 110.8h0M517.0 109.9h0M458.5 128.6h0M435.1 131.8h0M452.7 117.5h0M506.5 120.2h0M525.0 82.9h0M539.7 97.9h0M510.5 112.7h0M508.0 115.8h0M442.8 144.7h0M453.7 73.3h0M483.7 106.6h0M451.9 129.3h0M480.9 76.4h0M452.6 160.6h0M519.9 125.6h0M462.2 140.5h0M526.8 127.0h0M499.5 130.4h0M485.7 129.2h0M488.2 125.3h0M451.1 61.0h0M477.8 129.3h0M499.0 135.7h0M454.9 127.2h0M465.5 129.7h0M435.0 86.4h0M498.0 26.5h0M460.1 134.1h0M497.4 116.8h0M481.8 141.3h0M475.9 146.7h0M478.4 57.9h0M532.2 112.4h0M469.2 86.4h0M536.8 68.6h0M500.1 82.7h0M507.9 130.5h0M448.2 74.8h0M472.7 111.0h0M431.6 163.5h0M524.7 54.2h0M482.1 123.1h0M440.8 120.1h0M451.9 116.4h0M498.6 22.7h0M479.2 122.5h0M488.6 81.0h0M520.9 109.0h0M504.5 126.1h0M452.1 137.3h0M484.5 120.0h0M506.4 112.4h0M454.0 117.1h0M474.6 133.5h0M545.0 101.1h0M480.2 113.5h0M476.2 106.1h0M467.5 39.1h0M431.8 106.6h0M487.1 104.5h0M482.4 115.4h0M539.9 80.4h0M466.9 162.3h0M472.4 50.7h0M468.6 89.8h0M463.5 152.0h0M511.0 90.5h0M463.9 80.7h0M455.5 144.9h0M531.8 132.7h0M452.1 153.1h0M466.0 146.9h0M518.1 64.3h0M499.3 60.4h0M484.4 119.8h0M478.7 139.0h0M531.5 162.0h0M488.7 22.6h0M472.1 62.7h0M478.2 101.7h0M468.4 152.2h0M520.8 86.2h0M478.0 65.2h0M474.8 68.6h0M512.9 121.0h0M471.1 60.4h0M501.7 108.6h0M535.0 128.7h0M529.9 114.0h0M466.3 67.1h0M481.7 82.4h0M473.4 40.8h0M473.1 124.7h0M514.7 114.5h0M478.2 85.4h0M496.4 130.5h0M502.9 119.3h0M522.9 120.8h0M496.4 71.6h0M492.2 116.4h0M489.8 94.1h0M473.3 74.4h0M484.9 116.2h0M439.2 84.9h0M481.9 124.8h0M530.4 58.6h0M474.7 55.0h0M507.2 75.3h0M428.9 82.3h0M447.3 104.8h0M448.7 87.9h0M525.0 134.8h0M495.9 87.7h0M499.1 81.1h0M493.1 132.3h0M487.7 129.4h0M470.6 123.0h0M478.0 86.5h0M492.0 117.6h0M452.8 152.5h0M484.6 135.6h0M458.1 118.0h0M506.0 71.6h0M481.0 130.3h0M494.1 22.3h0M472.4 86.6h0M453.9 121.3h0M509.9 63.3h0M510.1 109.7h0M472.2 93.0h0M515.1 132.8h0M496.1 139.4h0M523.8 24.4h0M529.4 74.8h0M488.9 119.2h0M485.2 78.2h0M440.5 181.6h0M496.2 126.5h0M539.1 141.1h0M546.9 89.0h0M508.5 140.6h0M435.2 149.4h0M449.8 114.9h0M473.9 126.0h0M502.1 86.1h0M499.1 92.8h0M463.3 114.8h0M465.4 114.0h0M510.5 56.0h0M489.1 119.1h0M506.9 42.1h0M451.1 107.1h0M465.3 135.0h0M499.2 117.8h0M464.1 113.4h0M458.6 63.6h0M458.4 92.4h0M504.8 76.4h0M494.7 79.9h0M492.3 81.5h0M512.4 85.8h0M517.5 108.7h0M429.4 90.3h0M418.1 110.6h0M489.4 151.8h0M540.0 30.3h0M471.0 125.1h0M488.0 127.7h0M480.2 44.3h0M476.3 100.4h0M472.6 102.6h0M428.8 141.6h0M530.7 123.5h0M513.5 129.0h0M525.8 125.2h0M510.8 57.4h0M441.1 134.8h0M498.6 111.4h0M491.9 62.2h0M516.8 135.2h0M483.4 38.9h0M446.5 130.3h0M451.9 76.2h0M495.0 92.4h0M479.3 87.4h0M487.5 126.3h0M471.3 142.5h0M536.1 84.9h0M468.8 125.7h0M508.1 64.8h0M533.0 110.1h0M541.3 46.1h0M495.6 113.9h0M482.5 107.1h0M494.3 129.1h0M471.3 78.7h0M494.8 43.2h0M521.1 53.8h0M488.1 55.9h0M477.8 65.4h0M530.3 112.8h0M475.2 141.6h0M447.2 69.8h0M498.6 121.5h0M483.5 83.2h0M482.3 139.1h0M455.3 89.3h0M481.1 33.8h0M471.4 33.4h0M427.0 146.4h0M450.8 114.3h0M475.3 45.8h0M486.6 107.5h0M458.5 74.8h0M447.6 113.0h0M430.5 106.5h0M471.9 104.8h0M464.1 79.1h0M539.1 86.5h0M530.5 42.9h0M531.6 119.7h0M521.6 35.0h0M510.5 124.2h0M473.8 54.2h0M440.7 91.3h0M530.0 70.0h0M457.3 145.7h0M471.4 126.4h0M497.7 74.6h0M482.6 123.6h0M491.6 16.0h0M525.8 114.9h0M497.0 89.9h0M516.4 42.7h0M466.5 134.8h0M516.3 58.3h0M463.6 88.7h0M511.4 22.8h0M467.1 111.1h0M488.8 149.0h0M489.4 84.9h0M437.9 110.8h0M480.9 46.8h0M508.6 80.3h0M470.4 83.0h0M494.8 76.8h0M503.4 86.6h0M496.1 54.0h0M499.2 79.4h0M471.4 143.0h0M530.4 21.2h0M494.6 82.5h0M503.6 91.8h0M495.6 119.2h0M515.6 131.2h0M451.4 122.9h0M439.8 142.3h0M481.7 94.8h0M474.1 119.6h0M458.4 134.4h0M474.6 91.1h0M481.3 77.8h0M491.7 59.0h0M499.9 68.9h0M494.2 93.2h0M495.4 123.2h0M508.1 63.5h0M472.9 83.2h0M480.9 106.6h0M521.6 39.3h0M489.4 125.2h0M521.6 116.2h0M497.9 126.3h0M478.6 96.7h0M467.7 111.8h0M483.2 118.2h0M475.2 47.2h0M486.6 78.7h0M453.2 114.9h0M513.2 93.6h0M520.5 46.1h0M450.9 112.0h0M462.4 160.6h0M494.3 128.8h0M515.6 58.7h0M462.9 150.0h0M475.1 127.2h0M444.7 140.1h0M471.9 72.1h0M484.6 87.4h0M488.2 43.1h0M520.4 45.6h0M501.9 69.8h0M521.3 14.9h0M478.1 128.2h0M529.2 69.7h0M499.3 113.9h0M523.4 111.5h0M541.3 48.8h0M451.3 134.6h0M525.8 133.4h0M448.4 61.1h0M495.3 59.3h0M430.0 169.5h0M474.9 38.3h0M496.1 113.2h0M472.5 90.1h0M514.3 76.4h0M474.0 108.0h0M511.7 113.5h0M487.3 86.5h0M467.7 130.8h0M517.6 127.0h0M484.9 133.0h0M465.9 101.3h0M494.5 145.1h0M513.7 74.1h0M457.5 79.3h0M485.6 126.1h0M508.7 81.7h0M482.1 110.0h0M547.8 115.0h0M501.9 103.3h0M464.0 56.1h0M443.6 95.2h0M499.5 67.1h0M495.7 142.1h0M458.0 157.9h0M478.9 110.3h0M501.9 150.4h0M490.4 148.7h0M512.3 83.3h0M507.8 85.2h0M505.4 146.0h0M467.1 36.9h0M488.1 112.4h0M478.7 29.8h0M479.3 87.2h0M490.9 142.6h0M468.5 132.8h0M473.1 138.4h0M488.6 93.7h0M486.1 43.5h0M445.8 124.9h0M537.6 51.7h0M534.6 91.1h0M479.5 141.0h0M477.0 129.7h0M503.9 137.2h0M470.3 111.9h0M467.4 116.6h0M508.2 92.8h0M464.8 81.0h0M496.3 133.8h0M449.9 135.7h0M511.9 106.7h0M526.2 127.0h0M508.9 131.9h0M513.4 112.8h0M492.0 41.1h0M521.8 110.4h0M492.0 78.1h0M491.1 101.3h0M517.0 78.0h0M518.4 109.3h0M459.1 130.8h0M507.9 122.1h0M457.7 110.7h0M493.9 127.8h0M472.3 62.5h0M473.3 119.2h0M461.9 143.3h0M506.3 84.6h0M522.4 52.6h0M468.9 85.2h0M444.5 168.1h0M494.2 67.8h0M493.1 139.2h0M476.3 131.5h0M481.3 53.1h0M456.1 130.2h0M439.8 101.1h0M468.1 93.6h0M480.4 131.5h0M456.9 142.8h0M465.3 61.5h0M495.2 81.8h0M446.6 114.8h0M477.6 66.3h0M465.2 106.5h0M447.4 153.1h0M471.1 79.6h0M489.6 128.0h0M481.4 75.5h0M515.9 61.7h0M424.2 127.1h0M477.5 114.4h0M423.4 110.7h0M506.9 118.1h0M514.9 63.1h0M477.3 66.3h0M478.3 48.4h0M451.4 104.9h0M519.3 40.1h0M484.6 87.6h0M484.8 35.7h0M488.9 103.0h0M527.8 130.6h0M544.4 80.8h0M541.2 58.9h0M477.7 116.8h0M444.7 140.9h0M476.9 55.0h0M529.3 34.7h0M422.1 107.3h0M478.2 135.6h0M452.0 86.2h0M526.3 83.9h0M479.1 62.4h0M529.0 54.1h0M491.0 67.4h0M507.3 104.9h0M486.0 141.5h0M512.9 121.5h0M475.6 130.6h0M503.2 107.8h0M525.3 78.0h0M456.9 129.6h0M543.4 79.7h0M531.1 137.9h0M488.9 95.6h0M451.4 143.7h0M463.3 60.3h0M492.3 126.8h0M527.1 123.7h0M517.0 80.9h0M511.5 48.3h0M532.5 79.9h0M502.4 123.4h0M452.0 126.9h0M542.5 68.8h0M475.7 135.5h0M502.4 64.2h0M538.1 48.5h0M532.8 53.9h0M467.0 70.2h0M503.0 92.7h0M505.4 38.6h0M456.8 111.8h0M493.0 114.2h0M441.0 74.1h0M500.2 69.7h0M458.0 121.4h0M542.5 119.7h0M462.0 99.5h0M480.5 65.4h0M444.2 177.1h0M447.4 124.5h0M501.0 137.5h0M510.1 75.0h0M471.4 56.0h0M450.5 107.4h0M500.8 118.9h0M486.8 49.2h0M489.7 136.6h0M501.6 121.5h0M513.1 42.1h0M547.1 71.4h0M445.6 69.7h0M480.6 39.9h0M489.3 118.4h0M431.9 149.9h0M470.6 119.5h0M454.8 83.6h0M466.7 55.0h0M472.2 90.6h0M499.6 85.8h0M481.6 104.7h0M488.1 86.5h0M516.1 51.6h0M542.3 122.2h0M512.1 141.9h0M501.4 17.8h0M440.3 126.1h0M513.4 34.2h0M485.1 137.5h0M488.4 34.2h0M515.6 137.5h0M450.3 127.0h0M504.6 143.4h0M484.6 113.3h0M464.8 113.7h0M455.8 132.7h0M503.2 95.1h0M520.2 82.4h0M506.0 26.0h0M501.9 78.0h0M466.2 119.6h0M481.5 63.5h0M485.6 122.9h0M471.4 125.0h0M480.4 93.2h0M463.3 127.7h0M452.9 134.1h0M542.3 125.1h0M514.6 109.6h0M495.4 137.4h0M506.6 133.6h0M503.5 120.0h0M474.8 87.1h0M531.3 93.2h0M451.0 131.4h0M549.8 77.6h0M527.4 120.4h0M510.5 32.2h0M463.1 128.9h0M455.4 122.1h0M431.2 168.7h0M456.0 124.5h0M456.4 117.6h0M520.3 122.8h0M436.1 126.3h0M480.5 54.4h0M507.7 48.6h0M489.1 139.1h0M525.6 92.2h0M446.8 128.7h0M455.6 127.9h0M492.1 128.2h0M432.1 154.7h0M482.8 113.6h0M490.5 68.9h0M463.2 104.7h0M512.3 73.1h0M478.6 149.9h0M521.1 80.5h0M511.0 122.4h0M458.7 99.8h0M531.1 46.4h0M479.4 108.9h0M481.6 49.4h0M473.3 140.5h0M454.6 151.4h0M442.9 90.6h0M531.7 122.2h0M485.2 110.3h0M471.1 65.2h0M432.1 146.3h0M486.7 69.5h0M553.9 70.0h0M479.9 70.9h0M447.6 155.4h0M441.5 68.9h0M456.4 97.3h0M489.8 93.2h0M500.2 86.0h0M541.4 105.6h0M485.8 137.7h0M490.3 62.7h0M493.0 126.7h0M467.8 126.6h0M532.4 137.9h0M430.2 159.4h0M467.8 113.6h0M440.9 156.9h0M463.3 99.0h0M484.7 37.7h0M436.6 124.1h0M508.6 64.4h0M501.8 100.9h0M452.5 138.0h0M499.7 133.7h0M441.9 126.4h0M481.2 65.6h0M471.6 132.6h0M498.5 97.6h0M511.1 114.4h0M503.0 101.8h0M459.4 99.7h0M447.0 129.1h0M462.1 144.7h0M499.7 87.5h0M454.1 140.3h0M505.3 70.5h0M489.7 135.9h0M505.2 77.9h0M484.1 135.3h0M472.5 42.3h0M551.8 102.1h0M540.6 125.9h0M511.5 109.2h0M502.0 112.4h0M439.0 133.5h0M456.4 69.3h0M490.0 63.9h0M484.8 55.6h0M484.2 110.8h0M469.2 78.8h0M477.9 65.7h0M482.9 66.4h0M501.5 70.6h0M463.3 60.2h0M479.8 118.2h0M486.8 132.9h0M477.8 130.3h0M483.0 107.0h0M484.2 117.6h0M444.1 143.6h0M491.5 57.4h0M473.8 103.4h0M441.2 132.1h0M535.5 117.5h0M464.5 106.6h0M526.0 114.4h0M475.5 132.6h0M464.8 154.8h0M483.0 108.6h0M449.2 98.8h0M481.5 47.2h0M506.9 73.8h0M468.5 132.9h0M501.5 105.3h0M420.8 110.8h0M451.8 144.9h0M432.8 163.7h0M502.4 102.8h0M511.6 143.4h0M533.0 62.9h0M540.6 79.1h0M543.1 91.6h0M473.3 132.7h0M479.2 112.9h0M500.9 124.9h0M460.7 53.3h0M452.9 130.3h0M533.3 122.9h0M538.2 117.0h0M494.3 55.0h0M492.5 96.3h0M444.2 125.1h0M495.2 149.5h0M504.9 118.5h0M494.8 84.8h0M465.7 88.6h0M472.3 36.5h0M528.8 132.7h0M471.6 85.7h0M535.4 59.3h0M513.1 62.3h0M521.7 44.7h0M549.8 67.2h0M493.6 65.9h0M484.3 43.8h0M430.3 192.9h0M461.6 142.7h0M533.3 91.1h0M458.8 146.1h0M423.3 106.3h0M458.2 140.1h0M532.4 42.0h0M473.5 95.3h0M482.9 122.4h0M525.8 30.5h0M526.2 112.9h0M488.7 36.0h0M518.3 37.7h0M502.6 64.2h0M492.5 98.7h0M451.2 120.5h0M465.4 68.0h0M467.4 119.1h0M521.0 74.2h0M488.6 125.3h0M458.9 135.2h0M445.4 85.0h0M466.1 122.8h0M483.1 134.9h0M443.2 151.7h0M494.2 56.7h0M452.0 74.4h0M480.6 71.6h0M479.9 125.6h0M478.2 123.8h0M468.6 123.9h0M504.0 35.0h0M511.9 77.8h0M500.3 132.7h0M496.6 61.1h0M434.0 104.4h0M506.5 126.6h0M433.0 125.5h0M442.7 160.7h0M454.4 129.3h0M493.7 132.0h0M468.8 140.5h0M501.2 92.6h0M439.4 88.5h0M531.2 133.1h0M458.1 93.9h0M459.2 121.1h0M545.2 95.3h0M465.9 147.3h0M527.1 137.2h0M470.0 107.7h0M489.9 63.0h0M536.8 27.8h0M447.7 103.3h0M491.4 50.4h0M514.4 130.3h0M462.3 100.4h0M494.5 69.1h0M444.5 139.0h0M433.6 133.3h0M457.6 96.5h0M530.7 134.9h0M495.6 79.9h0M471.8 67.2h0M454.9 136.4h0M525.6 130.4h0M463.3 122.7h0M488.6 26.4h0M470.6 141.8h0M429.2 101.0h0M418.5 113.1h0M466.1 59.9h0M571.7 57.8h0M478.0 64.3h0M476.0 140.6h0M490.9 76.1h0M478.2 60.7h0M447.3 130.0h0M516.3 46.8h0M457.1 134.2h0M529.9 83.4h0M467.1 60.4h0M458.2 108.2h0M478.1 83.0h0M479.3 135.1h0M487.3 55.3h0M479.0 109.2h0M479.5 108.0h0M476.7 126.4h0M544.0 86.4h0M436.9 98.1h0M485.2 119.9h0M502.8 117.8h0M459.9 170.6h0M510.1 13.4h0M487.0 124.5h0M497.3 114.2h0M440.8 146.9h0M472.1 57.1h0M516.3 31.9h0M459.8 72.4h0M473.7 112.6h0M497.9 95.2h0M465.1 111.1h0M500.5 42.2h0M465.7 143.4h0M520.5 104.2h0M477.4 126.6h0M484.2 130.9h0M478.5 167.5h0M516.4 123.2h0M437.7 143.6h0M499.1 131.6h0M494.4 120.7h0M508.3 48.2h0M470.6 138.2h0M529.9 149.8h0M491.1 98.5h0M481.4 49.6h0M470.2 121.2h0M499.4 52.3h0M479.9 127.1h0M506.1 46.0h0M512.7 117.6h0M521.4 131.8h0M483.1 128.0h0M448.6 157.7h0M490.8 30.0h0M484.3 104.7h0M482.0 118.3h0M476.3 67.8h0M464.2 41.1h0M511.2 117.7h0M484.1 83.8h0M485.7 117.4h0M457.3 168.9h0M488.4 104.2h0M475.2 124.7h0M423.2 96.1h0M483.5 114.8h0M524.4 113.6h0M442.8 165.0h0M502.2 65.1h0M488.2 55.0h0M491.8 131.9h0M527.4 111.2h0M481.6 69.7h0M526.3 56.1h0M506.5 98.6h0M530.9 114.9h0M506.5 134.6h0M478.9 114.0h0M528.5 93.0h0M526.0 53.9h0M505.7 51.8h0M502.9 84.9h0M514.8 113.1h0M476.9 134.1h0M468.6 131.8h0M477.1 126.2h0M502.9 49.2h0M478.8 78.0h0M507.4 116.4h0M501.8 145.2h0M488.9 117.9h0M464.0 123.6h0M446.5 133.1h0M462.0 101.0h0M518.6 144.2h0M508.8 125.4h0M513.4 125.7h0M495.1 43.0h0M481.0 82.5h0M472.6 129.2h0M521.6 66.3h0M443.9 144.8h0M493.1 125.1h0M530.6 78.4h0M476.1 78.4h0M523.7 125.6h0M490.4 125.6h0M509.1 35.8h0M455.9 146.2h0M473.5 92.0h0M513.6 120.9h0M475.1 98.0h0M462.1 87.9h0M503.1 54.9h0M513.1 114.1h0M520.0 59.7h0M492.2 130.6h0M509.3 41.6h0M501.8 114.4h0M466.6 66.0h0M473.7 127.2h0M484.1 70.9h0M465.7 96.3h0M459.2 97.5h0M497.2 81.4h0M471.5 111.8h0M535.3 37.6h0M477.2 141.9h0M531.8 58.6h0M535.7 26.2h0M447.3 81.6h0M552.5 105.9h0M479.3 57.9h0M469.5 97.8h0M486.6 73.2h0M500.9 23.9h0M515.5 128.2h0M542.8 62.7h0M455.4 84.4h0M445.5 141.9h0M537.3 116.2h0M528.1 135.7h0M474.3 21.8h0M509.4 148.1h0M437.9 121.6h0M488.8 59.9h0M460.9 124.4h0M479.7 126.3h0M470.5 143.6h0M490.6 91.5h0M523.1 115.5h0M509.6 108.2h0M441.3 134.9h0M455.4 107.6h0M468.1 95.7h0M458.5 76.4h0M466.8 135.9h0M488.6 84.0h0M477.4 116.1h0M535.7 119.4h0M478.8 54.6h0M461.1 69.3h0M487.5 123.4h0M460.2 78.5h0M484.1 127.5h0M460.8 147.9h0M461.0 55.9h0M428.6 138.2h0M486.6 88.4h0M454.8 128.6h0M493.5 143.3h0M496.3 69.0h0M493.5 137.4h0M491.1 89.2h0M495.9 65.6h0M500.0 140.0h0M463.8 104.6h0M501.6 138.3h0M443.1 86.2h0M526.0 46.8h0M510.3 119.5h0M520.1 92.0h0M499.1 84.9h0M503.2 39.5h0M446.1 129.9h0M487.3 76.1h0M499.3 118.5h0M469.2 62.4h0M450.6 159.7h0M453.7 112.5h0M442.3 141.1h0M507.9 140.5h0M429.0 131.7h0M426.2 119.5h0M465.7 125.6h0M478.6 121.2h0M486.4 145.4h0M470.6 46.1h0M460.2 112.6h0M507.6 21.8h0M503.5 65.5h0M531.5 69.4h0M520.0 113.7h0M515.2 131.3h0M466.9 43.5h0M473.5 136.5h0M504.6 131.3h0M478.9 81.1h0M461.4 160.9h0M449.8 95.8h0M503.5 58.1h0M458.3 105.1h0M464.2 131.4h0M495.7 67.0h0M504.5 30.9h0M457.8 104.5h0M514.5 132.6h0M463.8 133.1h0M427.0 161.9h0M520.2 115.7h0M450.7 119.9h0M547.6 99.7h0M487.8 85.5h0M464.6 92.1h0M457.0 123.2h0M466.7 93.8h0M492.9 120.2h0M517.2 49.4h0M494.8 118.9h0M511.1 126.4h0M446.6 147.5h0M534.9 40.1h0M464.4 117.8h0M504.4 125.4h0M478.2 139.8h0M474.2 60.0h0M461.0 107.6h0M522.3 113.7h0M469.4 29.7h0M506.1 118.6h0M486.9 121.2h0M502.2 113.5h0M521.6 57.2h0M487.2 99.5h0M485.4 123.5h0M487.3 58.6h0M515.7 39.8h0M491.0 134.3h0M456.6 120.1h0M442.4 127.0h0M474.0 66.8h0M455.7 101.3h0M454.1 114.2h0M552.8 59.6h0M483.4 120.1h0M471.0 142.8h0M480.9 134.7h0M503.0 41.8h0M490.5 102.3h0M482.9 127.1h0M478.6 135.9h0M515.8 38.0h0M442.8 135.1h0M514.9 124.2h0M496.1 119.8h0M454.4 96.7h0M478.9 76.4h0M446.7 90.7h0M453.8 115.6h0M496.6 46.9h0M466.9 136.9h0M442.0 122.5h0M445.4 126.5h0M492.1 111.6h0M530.4 137.0h0M488.0 22.7h0M464.1 141.1h0M488.4 77.2h0M469.9 118.0h0M479.1 129.1h0M479.1 130.3h0M446.1 93.7h0M452.1 103.4h0M521.2 125.6h0M481.1 133.6h0M453.5 83.5h0M494.4 19.4h0M459.0 70.6h0M503.6 52.9h0M424.2 160.1h0M544.1 101.4h0M444.6 153.1h0M500.5 91.0h0M494.1 67.8h0M495.2 121.1h0M483.5 49.9h0M456.0 142.7h0M543.9 106.5h0M422.1 126.1h0M462.0 61.8h0M446.2 138.4h0M454.7 108.6h0M500.9 144.3h0M481.1 96.6h0M492.4 138.0h0M505.9 61.9h0M499.5 134.1h0M471.9 116.5h0M503.6 126.4h0M527.9 53.0h0M452.2 112.6h0M490.0 118.3h0M506.6 122.6h0M480.4 138.4h0M479.8 139.9h0M499.5 131.1h0M462.0 132.7h0M507.4 128.6h0M495.8 125.6h0M483.5 52.7h0M453.9 116.2h0M495.9 118.1h0M476.4 93.7h0M470.3 135.5h0M431.9 93.6h0M485.8 144.9h0M514.1 126.5h0M516.6 143.3h0M433.0 173.2h0M523.2 51.9h0M504.3 119.3h0M443.5 146.3h0M506.9 121.6h0M502.3 50.2h0M487.9 147.7h0M473.6 64.7h0M470.5 35.6h0M478.7 70.6h0M474.3 78.8h0M422.0 173.3h0M494.0 50.2h0M541.5 120.4h0M525.3 56.3h0M502.3 71.7h0M484.0 125.2h0M528.7 19.3h0M458.1 84.5h0M454.5 143.1h0M499.4 127.3h0M460.4 85.2h0M528.9 98.9h0M505.6 141.0h0M496.0 67.1h0M481.2 113.0h0M503.0 52.1h0M463.1 62.1h0M500.5 120.9h0M531.3 113.2h0M466.9 121.5h0M488.9 133.8h0M497.3 101.8h0M548.6 90.8h0M437.0 74.9h0M508.3 137.6h0M508.3 133.3h0M526.6 55.6h0M475.6 100.8h0M489.4 73.1h0M538.9 126.2h0M502.1 64.9h0M474.1 104.0h0M509.7 125.5h0M481.3 105.1h0M439.1 142.5h0M480.5 195.8h0M464.7 101.0h0M475.2 94.6h0M532.9 64.2h0M453.9 72.1h0M464.7 118.3h0M481.0 126.2h0M461.8 56.7h0M473.0 93.1h0M525.0 141.3h0M426.8 144.3h0M523.6 91.4h0M469.1 85.2h0M519.8 46.4h0M474.1 73.5h0M503.5 85.4h0M513.9 67.7h0M469.6 146.7h0M519.1 67.2h0M499.2 112.8h0M492.1 52.9h0M467.0 76.2h0M525.9 23.8h0M469.0 119.3h0M475.8 119.2h0M489.1 35.1h0M493.4 150.7h0M480.5 52.1h0M525.3 60.7h0M490.7 114.9h0M530.5 36.4h0M521.4 126.8h0M482.0 123.6h0M466.0 136.1h0M534.6 36.1h0M472.8 107.4h0M531.0 107.4h0M501.1 122.7h0M457.3 74.6h0M496.2 53.6h0M481.6 112.6h0M535.6 116.8h0M534.7 129.5h0M463.4 97.0h0M458.6 122.1h0M487.9 123.2h0M481.5 113.4h0M489.2 76.4h0M454.1 100.1h0M528.6 128.9h0M556.2 113.3h0M494.3 62.9h0M541.5 101.3h0M512.0 97.9h0M500.5 93.6h0M440.3 152.2h0M458.6 119.2h0M456.3 127.6h0M434.6 152.0h0M484.4 131.0h0M505.9 122.1h0M511.6 137.8h0M442.3 91.0h0M492.5 131.0h0M476.1 125.0h0M506.4 132.3h0M449.5 129.4h0M473.3 120.7h0M472.0 128.2h0M539.6 36.6h0M509.4 29.4h0M440.4 134.7h0M505.0 114.0h0M463.2 100.2h0M512.0 128.9h0M501.1 111.9h0M478.9 77.7h0M505.7 67.0h0M519.6 34.0h0M502.7 61.2h0M494.4 133.4h0M454.0 97.4h0M509.5 146.0h0M500.0 52.9h0M472.0 60.6h0M463.0 132.4h0M496.4 58.6h0M482.3 129.6h0M526.4 119.8h0M479.1 63.1h0M514.8 102.6h0M480.1 67.3h0M526.4 120.6h0M519.2 132.0h0M515.9 112.1h0M523.9 95.1h0M463.6 129.0h0M508.2 63.6h0M449.3 132.5h0M451.0 63.0h0M512.3 130.7h0M494.0 137.2h0M444.1 119.6h0M481.1 44.3h0M425.3 108.1h0M492.0 48.6h0M497.1 86.0h0M465.4 131.0h0M477.8 56.2h0M487.4 114.0h0M538.8 88.0h0M494.0 92.0h0M510.4 106.3h0M429.1 135.8h0M501.2 88.5h0M497.4 133.4h0M516.2 68.5h0M492.8 34.3h0M455.8 125.5h0M507.8 124.4h0M515.9 118.6h0M510.3 124.0h0M419.6 174.3h0M422.3 123.0h0M440.4 122.2h0M511.9 105.4h0M467.4 143.8h0M502.1 124.2h0M428.8 99.6h0M468.3 141.8h0M487.1 115.2h0M495.2 88.5h0M492.6 134.5h0M532.4 123.6h0M487.2 95.3h0M489.6 92.2h0M468.4 100.6h0M487.5 109.9h0M489.4 77.1h0M436.5 130.6h0M501.1 48.5h0M485.6 60.8h0M539.2 79.5h0M510.4 129.7h0M488.9 105.6h0M515.4 130.7h0M508.2 117.4h0M497.8 84.3h0M494.3 133.8h0M510.9 80.3h0M450.3 136.9h0M492.0 73.2h0M474.2 122.7h0M541.9 98.7h0M538.4 78.2h0M470.4 143.4h0M489.3 96.6h0M469.8 121.0h0M485.9 123.3h0M494.6 71.3h0M481.9 37.0h0M538.2 131.6h0M531.9 85.2h0M482.1 67.7h0M498.9 126.0h0M461.1 74.9h0M487.5 56.9h0M500.8 120.4h0M441.9 140.4h0M490.4 87.6h0M451.6 48.8h0M465.1 129.1h0M514.9 65.7h0M446.3 92.5h0M541.5 26.3h0M485.1 142.6h0M493.0 81.8h0M458.7 64.8h0M484.9 112.2h0M463.7 61.7h0M504.1 58.7h0M440.9 145.7h0M458.4 113.9h0M554.7 97.2h0M465.9 74.4h0M509.1 143.7h0M514.4 90.8h0M508.2 133.3h0M501.0 126.4h0M467.9 152.1h0M503.7 145.6h0M481.5 65.3h0M530.7 115.9h0M453.6 135.2h0M437.3 126.5h0M443.3 112.2h0M444.4 136.6h0M464.1 125.4h0M474.0 101.6h0M453.7 155.6h0M522.5 119.1h0M490.0 114.5h0M464.4 102.8h0M491.5 84.2h0M452.8 89.8h0M517.1 121.6h0M500.2 112.4h0M507.4 38.4h0M557.8 75.8h0M459.4 128.6h0M517.6 143.3h0M494.4 61.1h0M475.7 69.6h0M445.7 124.0h0M484.4 84.5h0M494.0 82.7h0M474.0 127.6h0M460.5 133.5h0M465.1 117.5h0M475.4 133.9h0M435.8 158.0h0M513.5 25.7h0M513.9 106.8h0M486.2 128.7h0M494.0 46.8h0M478.2 72.6h0M444.5 126.8h0M511.8 46.7h0M529.0 125.7h0M508.5 20.5h0M512.0 113.5h0M470.0 158.4h0M480.1 102.5h0M451.7 146.1h0M457.4 112.3h0M505.0 144.1h0M489.3 146.6h0M461.0 71.6h0M516.1 63.3h0M455.6 170.4h0M473.0 65.7h0M474.8 66.1h0M460.0 104.6h0M511.8 59.9h0M479.4 31.3h0M483.8 133.7h0M496.9 52.3h0M488.8 128.5h0M482.2 147.1h0M470.8 135.2h0M481.0 136.5h0M461.8 139.4h0M453.2 122.4h0M493.0 143.7h0M482.3 119.1h0M500.6 58.8h0M473.3 47.2h0M438.2 145.9h0M445.8 134.1h0M500.7 59.0h0M458.6 130.4h0M480.4 117.2h0M462.6 147.2h0M478.4 128.2h0M464.6 91.2h0M510.2 55.8h0M442.8 131.9h0M472.3 106.4h0M491.2 84.0h0M476.2 132.8h0M486.1 131.5h0M442.5 139.3h0M501.9 142.7h0M489.6 143.1h0M465.5 87.4h0M509.2 127.4h0M546.9 68.9h0M495.4 81.0h0M480.4 145.8h0M458.9 81.0h0M454.2 145.0h0M470.7 144.4h0M528.6 57.8h0M442.0 120.8h0M481.2 87.1h0M496.1 147.2h0M496.5 30.1h0M450.4 138.3h0M438.8 110.3h0M464.7 70.9h0M499.1 41.8h0M473.6 39.0h0M481.0 116.1h0M476.7 127.8h0M524.7 129.7h0M468.7 101.0h0M541.1 100.4h0M480.5 97.4h0M421.5 101.2h0M464.8 158.0h0M500.9 83.8h0M523.1 46.6h0M528.2 134.3h0M478.0 73.8h0M437.9 99.2h0M519.0 89.4h0M521.5 78.9h0M478.4 87.4h0M473.8 117.6h0M459.9 57.2h0M530.1 115.2h0M496.5 138.2h0M487.4 107.5h0M516.2 77.1h0M469.5 142.8h0M521.6 138.8h0M470.5 103.6h0M483.4 75.7h0M486.2 130.6h0M478.8 132.2h0M458.3 80.3h0M454.5 104.7h0M456.1 113.2h0M477.5 40.5h0M498.8 103.8h0M454.6 126.4h0M521.4 128.9h0M502.3 101.8h0M492.7 148.8h0M492.7 118.2h0M465.3 121.4h0M450.8 147.4h0M545.3 78.8h0M510.8 158.4h0M438.6 127.8h0M491.5 116.8h0M523.7 90.5h0M540.4 126.5h0M459.2 139.7h0M498.3 127.8h0M503.3 127.8h0M533.2 116.8h0M512.9 82.7h0M509.2 82.0h0M475.9 72.1h0M465.3 85.4h0M447.8 134.1h0M436.1 136.7h0M435.0 114.5h0M519.0 39.6h0M445.6 121.4h0M458.7 145.4h0M512.6 71.9h0M471.0 86.2h0M475.8 124.0h0M488.7 26.1h0M536.9 48.3h0M486.6 38.8h0M455.3 146.6h0M470.6 120.6h0M481.8 136.9h0M472.9 133.3h0M484.1 109.8h0M481.4 112.0h0M534.1 102.3h0M436.7 111.0h0M434.9 73.7h0M429.8 98.7h0M393.8 123.0h0M469.0 119.0h0M465.7 113.0h0M514.7 51.3h0M507.7 126.2h0M473.8 132.8h0M453.4 110.9h0M539.4 132.3h0M463.1 59.4h0M485.1 49.8h0M473.6 104.3h0M532.1 100.7h0M481.7 88.3h0M457.2 59.2h0M487.3 22.3h0M558.4 103.4h0M490.8 133.0h0M486.8 134.4h0M494.5 57.4h0M476.8 129.8h0M426.9 130.5h0M532.7 147.0h0M484.7 110.5h0M462.9 79.4h0M485.5 146.5h0M460.3 85.2h0M489.4 134.1h0M428.5 114.2h0M492.0 115.4h0M496.0 117.5h0M519.6 121.4h0M472.9 109.4h0M492.8 121.6h0M463.1 130.7h0M516.7 103.9h0M442.0 145.7h0M492.5 45.1h0M513.5 128.6h0M472.2 124.9h0M444.0 142.1h0M477.7 58.9h0M494.1 120.7h0M537.9 116.6h0M477.0 122.0h0M480.2 115.3h0M533.0 49.7h0M473.8 66.0h0M517.0 54.7h0M439.3 121.2h0M474.3 71.2h0M520.8 119.3h0M513.0 112.4h0M429.0 147.0h0M477.3 45.3h0M446.4 120.6h0M523.7 45.8h0M422.9 104.4h0M420.6 126.2h0M524.4 121.2h0M482.7 54.1h0M532.9 46.7h0M495.8 54.6h0M514.8 40.0h0M480.1 104.3h0M506.7 57.9h0M441.4 127.0h0M468.8 128.5h0M478.6 51.5h0M525.5 120.3h0M505.1 32.7h0M486.9 81.0h0M538.5 124.8h0M481.7 144.3h0M480.8 139.8h0M490.1 128.9h0M487.6 90.5h0M453.0 104.3h0M526.4 73.8h0M486.9 63.0h0M504.7 64.1h0M451.2 101.3h0M550.2 53.0h0M493.5 122.1h0M542.0 41.3h0M513.7 39.2h0M467.3 137.9h0M454.0 117.3h0M511.4 93.8h0M467.4 117.0h0M457.3 100.5h0M498.0 20.5h0M489.5 63.0h0M483.7 148.1h0M468.1 68.1h0M461.1 136.7h0M500.2 143.1h0M438.1 128.0h0M450.9 125.5h0M461.3 138.2h0M486.0 127.1h0M491.1 132.4h0M528.6 73.5h0M511.7 60.0h0M481.0 135.2h0M504.0 109.9h0M486.8 137.3h0M525.0 82.7h0M477.0 145.9h0M513.0 128.5h0M468.2 71.8h0M529.4 39.7h0M539.4 128.2h0M473.9 73.6h0M474.7 67.8h0M469.5 69.5h0M463.1 126.0h0M530.5 89.1h0M505.5 83.1h0M530.2 74.0h0M466.6 133.4h0M510.8 130.1h0M479.1 60.9h0M536.7 44.2h0M493.1 102.2h0M480.8 56.5h0M484.8 55.8h0M474.6 138.2h0M474.6 38.8h0M473.6 119.2h0M474.9 139.4h0M494.4 129.4h0M498.9 59.6h0M486.2 130.7h0M456.5 129.7h0M530.8 129.7h0M531.9 119.0h0M443.9 134.6h0M475.5 125.2h0M491.9 80.2h0M511.1 39.5h0M447.8 113.2h0M453.9 115.9h0M487.5 27.7h0M525.3 125.2h0M474.5 85.5h0M488.3 64.9h0M481.8 59.4h0M523.0 53.3h0M498.9 130.0h0M495.2 38.3h0M480.3 46.6h0M516.4 43.3h0M485.7 105.5h0M488.4 107.5h0M536.9 114.0h0M533.3 109.0h0M502.8 114.6h0M423.5 125.8h0M467.2 103.8h0M461.5 133.1h0M461.2 123.8h0M519.2 133.6h0M483.3 126.5h0M492.2 80.8h0M470.2 138.5h0M462.3 129.7h0M432.1 129.6h0M524.6 114.1h0M427.5 192.1h0M493.7 61.5h0M518.6 143.7h0M494.6 114.8h0M490.0 134.1h0M475.5 114.4h0M474.8 58.1h0M460.7 142.7h0M467.9 81.7h0M451.4 120.8h0M491.3 133.5h0M461.5 50.2h0M469.4 87.0h0M495.5 119.2h0M502.4 74.7h0M464.6 134.9h0M467.9 130.3h0M475.4 94.4h0M514.9 121.5h0M498.5 59.7h0M497.1 34.5h0M479.5 127.0h0M433.6 171.8h0M473.2 142.0h0M428.1 171.1h0M472.9 112.9h0M517.8 112.2h0M463.0 116.6h0M496.4 52.6h0M501.7 32.7h0M541.4 105.7h0M460.5 137.8h0M490.6 53.4h0M509.5 120.8h0M471.5 112.0h0M546.7 53.6h0M464.5 111.9h0M467.3 135.0h0M500.7 96.8h0M533.7 71.2h0M557.0 82.4h0M430.3 162.2h0M454.7 118.4h0M541.3 54.6h0M499.9 78.3h0M481.4 55.6h0M498.5 77.0h0M494.9 107.3h0M489.6 86.9h0M443.1 105.2h0M491.9 103.8h0M532.7 48.5h0M485.8 60.5h0M483.3 116.9h0M472.7 71.8h0M531.8 123.1h0M485.3 125.7h0M477.5 62.4h0M479.7 93.0h0M464.0 135.9h0M514.8 137.7h0M503.1 123.8h0M489.8 144.4h0M445.5 98.8h0M505.8 125.3h0M502.4 114.5h0M479.8 77.2h0M500.5 50.3h0M496.4 44.5h0M569.5 96.4h0M516.8 129.5h0M462.9 95.3h0M438.7 136.8h0M509.7 11.8h0M484.7 81.4h0M535.9 78.9h0M487.4 35.7h0M475.9 124.4h0M457.5 96.6h0M471.2 106.9h0M461.4 73.1h0M470.5 34.4h0M473.3 139.2h0M506.3 52.1h0M462.0 74.6h0M450.6 113.6h0M519.9 81.3h0M457.3 152.8h0M453.8 98.7h0M493.9 59.4h0M544.7 120.3h0M467.9 132.2h0M522.0 48.2h0M506.5 138.2h0M453.6 135.4h0M501.8 149.3h0M526.1 123.9h0M469.7 66.2h0M485.8 63.1h0M472.4 143.2h0M506.7 79.2h0M487.1 143.7h0M511.0 136.8h0M431.9 87.8h0M512.4 139.5h0M478.9 144.3h0M487.5 118.3h0M451.7 106.9h0M471.8 118.2h0M461.6 115.2h0M459.6 126.0h0M504.5 49.1h0M481.7 110.9h0M462.6 133.3h0M525.3 95.4h0M413.5 162.7h0M490.0 147.2h0M491.2 129.0h0M472.5 142.7h0M483.5 60.7h0M496.0 15.2h0M507.8 65.7h0M441.6 135.9h0M473.0 113.7h0M506.5 39.5h0M512.9 48.4h0M518.4 79.3h0M454.5 143.5h0M555.9 81.5h0M480.4 113.2h0M465.3 144.8h0M455.4 126.4h0M482.8 102.2h0M503.0 89.2h0M504.8 137.5h0M499.8 147.2h0M506.1 58.7h0M467.4 66.8h0M473.6 120.6h0M443.7 130.3h0M504.4 30.1h0M479.4 143.6h0M522.8 119.9h0M546.8 69.1h0M514.0 142.3h0M475.4 111.9h0M496.2 132.6h0M490.3 141.4h0M450.8 149.2h0M485.3 105.6h0M506.1 73.6h0M542.1 36.9h0M450.7 139.7h0M440.9 127.0h0M505.5 67.8h0M504.6 74.0h0M453.8 81.8h0M508.0 91.4h0M538.3 89.3h0M493.6 107.3h0M464.0 91.2h0M490.0 131.8h0M479.6 114.5h0M498.7 125.8h0M445.4 179.6h0M476.1 132.0h0M468.5 97.8h0M544.4 120.3h0M509.3 44.8h0M458.7 130.5h0M466.5 128.8h0M539.9 61.0h0M485.9 130.7h0M497.1 108.0h0M466.7 129.6h0M439.2 149.5h0M486.4 132.1h0M510.8 120.8h0M539.5 39.4h0M506.7 122.3h0M435.6 117.4h0M503.0 103.3h0M486.0 113.9h0M435.3 134.7h0M475.2 139.3h0M457.3 112.2h0M518.4 68.6h0M484.8 95.3h0M522.3 130.0h0M485.4 133.7h0M572.1 133.8h0M466.2 111.7h0M502.5 105.5h0M472.7 143.6h0M455.6 125.7h0M484.0 117.9h0M516.2 119.1h0M495.6 77.8h0M539.2 114.4h0M500.1 35.4h0M500.5 46.8h0M450.9 115.9h0M480.5 138.0h0M544.8 110.2h0M450.6 135.2h0M517.9 138.3h0M547.4 123.4h0M495.0 53.9h0M530.7 89.7h0M513.6 79.0h0M486.2 107.3h0M481.8 117.2h0M450.7 129.4h0M485.8 54.4h0M503.9 113.2h0M500.5 42.4h0M516.6 50.7h0M501.4 112.5h0M466.3 135.7h0M423.1 97.4h0M481.2 101.6h0M485.6 123.8h0M464.2 55.9h0M494.6 18.6h0M520.9 58.8h0M487.3 78.3h0M424.7 111.6h0M531.7 95.1h0M458.3 138.3h0M489.8 69.1h0M535.6 121.6h0M482.8 83.5h0M547.7 125.8h0M476.7 130.4h0M480.6 47.5h0M422.4 104.7h0M534.0 79.8h0M507.6 123.7h0M452.4 109.9h0M517.0 54.3h0M508.8 59.0h0M476.9 130.8h0M546.1 100.5h0M498.6 135.6h0M478.2 129.3h0M509.4 96.3h0M503.2 129.3h0M470.6 123.8h0M477.7 118.1h0M499.0 125.4h0M488.6 116.4h0M492.3 106.8h0M500.1 33.0h0M478.2 45.3h0M511.1 136.3h0M512.2 66.9h0M488.8 64.0h0M465.8 108.8h0M519.1 115.1h0M499.7 48.0h0M467.6 59.6h0M458.4 129.3h0M456.9 153.5h0M447.3 160.6h0M497.9 79.0h0M484.3 36.5h0M472.4 109.8h0M479.4 150.4h0M484.6 134.5h0M538.5 119.7h0M453.8 62.7h0M522.1 68.2h0M494.7 138.7h0M484.7 82.4h0M512.0 74.4h0M492.6 144.5h0M518.0 142.9h0M461.2 132.5h0M500.4 106.1h0M502.6 127.4h0M441.0 145.5h0M492.5 85.0h0M486.5 142.5h0M437.6 135.4h0M484.0 128.2h0M460.3 142.9h0M478.8 109.9h0M439.6 113.6h0M513.3 141.2h0M479.3 89.8h0M498.4 141.8h0M505.0 39.8h0M498.9 123.0h0M450.1 118.7h0M462.8 70.3h0M442.9 98.3h0M488.5 118.9h0M518.9 117.5h0M499.4 121.3h0M495.4 68.6h0M556.4 100.3h0M513.5 123.1h0M465.1 136.3h0M441.3 115.3h0M490.9 116.3h0M455.0 111.8h0M478.2 118.2h0M529.1 100.7h0M514.0 37.5h0M525.2 55.3h0M531.1 43.1h0M481.4 87.5h0M515.7 94.7h0M489.2 133.6h0M451.0 94.4h0M517.3 142.2h0M471.3 118.3h0M495.7 73.1h0M454.2 126.0h0M432.8 135.4h0M452.9 107.3h0M439.4 82.9h0M515.9 121.4h0M480.3 102.3h0M528.0 116.5h0M462.9 91.3h0M496.3 131.7h0M527.4 84.3h0M541.1 118.8h0M448.3 104.0h0M458.8 120.4h0M541.5 125.8h0M441.7 165.5h0M482.4 71.2h0M509.6 83.2h0M502.9 131.9h0M454.8 131.6h0M501.4 146.6h0M494.3 14.4h0M519.6 46.9h0M466.0 91.0h0M464.4 89.9h0M520.4 139.2h0M468.2 134.5h0M507.6 64.0h0M499.1 41.3h0M498.9 45.9h0M502.9 81.5h0M491.0 82.9h0M517.0 40.7h0M490.0 124.0h0M520.7 129.3h0M536.6 119.8h0M456.6 116.6h0M453.9 87.2h0M519.3 124.6h0M472.2 129.3h0M464.8 133.8h0M521.5 59.4h0M481.0 101.4h0M532.0 66.1h0M494.3 100.5h0M490.5 147.5h0M457.3 114.6h0M484.4 47.3h0M445.9 136.3h0M466.1 85.5h0M475.5 119.3h0M448.8 149.2h0M523.7 122.3h0M481.3 54.9h0M519.6 110.6h0M475.7 113.7h0M459.3 122.7h0M525.4 133.7h0M540.6 80.1h0M443.6 125.7h0M485.2 54.6h0M522.1 36.9h0M467.5 118.5h0M532.8 55.5h0M425.3 87.3h0M497.8 135.4h0M481.4 59.7h0M541.8 127.4h0M491.9 34.4h0M473.2 49.5h0M482.5 132.6h0M488.2 93.4h0M507.1 48.5h0M550.8 62.9h0M474.7 122.8h0M532.7 128.2h0M461.3 132.7h0M548.7 113.1h0M489.6 89.1h0M456.4 128.4h0M468.3 139.9h0M452.7 157.3h0M475.2 61.2h0M527.2 122.1h0M537.6 25.3h0M433.8 153.8h0M461.6 135.5h0M468.8 57.7h0M491.1 140.1h0M527.9 122.9h0M463.7 111.6h0M494.5 137.6h0M464.1 127.3h0M493.3 139.0h0M498.8 54.8h0M449.3 115.4h0M461.2 88.4h0M518.5 187.7h0M455.4 115.4h0M512.9 20.1h0M442.4 81.1h0M449.9 115.8h0M442.6 135.6h0M504.5 128.6h0M433.6 154.3h0M469.6 113.5h0M437.2 176.8h0M497.7 29.9h0M532.7 62.1h0M426.0 119.5h0M499.2 126.7h0M482.6 83.3h0M456.0 87.6h0M492.9 17.9h0M519.4 55.1h0M436.1 130.8h0M490.0 107.2h0M514.9 32.0h0M519.1 34.5h0M552.5 96.3h0M529.1 72.8h0M498.3 133.8h0M507.9 119.1h0M452.9 126.8h0M438.9 165.4h0M527.2 106.3h0M536.6 67.3h0M510.5 106.3h0M469.1 131.4h0M486.4 119.9h0M476.4 49.3h0M515.3 104.1h0M493.7 90.8h0M512.6 54.8h0M485.9 134.9h0M513.6 120.4h0M510.3 61.4h0M523.6 66.2h0M523.2 54.7h0M519.6 125.9h0M494.4 138.3h0M535.6 63.3h0M475.3 31.2h0M512.2 122.8h0M513.2 57.0h0M479.6 127.9h0M486.2 140.0h0M470.4 110.4h0M497.9 44.5h0M476.3 97.4h0M482.3 140.6h0M489.0 142.1h0M521.5 81.5h0M515.9 58.1h0M496.1 84.7h0M504.2 132.5h0M488.5 92.3h0M441.3 121.5h0M528.3 39.7h0M471.8 112.2h0M450.3 99.7h0M478.1 50.9h0M478.6 139.3h0M499.1 126.3h0M491.3 36.4h0M496.8 56.1h0M512.5 120.1h0M483.1 105.2h0M472.4 86.1h0M519.9 69.4h0M538.2 96.7h0M475.7 114.1h0M455.4 133.1h0M494.5 123.8h0M524.8 53.8h0M503.5 67.0h0M473.6 136.2h0M513.1 52.1h0M468.0 33.6h0M472.4 119.2h0M436.2 136.5h0M528.2 131.0h0M459.0 109.6h0M479.8 89.5h0M462.3 98.9h0M469.7 72.5h0M474.8 132.6h0M477.4 107.0h0M532.0 124.0h0M537.5 32.6h0M507.2 86.3h0M486.7 37.1h0M453.6 143.9h0M511.2 135.8h0M515.7 115.6h0M463.3 119.9h0M527.8 110.4h0M449.3 123.0h0M486.3 57.6h0M506.0 15.6h0M474.1 92.0h0M493.1 83.3h0M528.0 66.9h0M461.9 67.9h0M476.7 53.3h0M504.3 46.8h0M514.7 85.7h0M492.3 139.5h0M460.8 51.1h0M472.1 87.7h0M517.3 106.3h0M468.8 71.7h0M465.0 107.9h0M453.0 104.9h0M439.8 99.4h0M483.0 140.0h0M455.6 152.2h0M527.0 123.8h0M478.4 139.2h0M458.2 114.4h0M518.1 29.9h0M534.1 108.8h0M524.6 24.2h0M528.2 78.4h0M476.0 101.1h0M453.8 101.1h0M439.5 134.2h0M434.5 116.5h0M538.2 99.7h0M534.6 116.8h0M499.6 116.7h0M497.9 68.2h0M486.6 55.2h0M539.2 62.7h0M452.9 90.5h0M532.5 64.5h0M501.3 113.2h0M508.8 108.9h0M526.2 98.1h0M435.3 123.9h0M474.4 155.7h0M529.0 34.8h0M514.8 140.3h0M472.4 85.2h0M494.4 77.9h0M429.2 105.0h0M508.2 136.9h0M509.8 120.4h0M489.0 123.5h0M475.8 93.7h0M439.6 97.6h0M445.1 127.2h0M516.7 120.8h0M504.8 87.1h0M495.3 75.8h0M507.3 146.4h0M511.1 74.0h0M526.2 72.0h0M471.5 123.2h0M440.0 121.5h0M511.0 105.0h0M499.1 83.7h0M498.2 53.4h0M543.4 96.7h0M449.9 118.5h0M443.6 120.6h0M497.2 110.6h0M482.7 112.6h0M466.5 127.2h0M482.3 47.9h0M539.0 91.2h0M481.9 94.9h0M504.6 132.4h0M461.0 155.5h0M458.7 123.4h0M462.1 167.7h0M459.3 62.9h0M550.4 95.2h0M444.2 132.9h0M540.0 45.2h0M494.7 77.0h0M510.5 58.6h0M456.2 72.9h0M471.1 93.1h0M529.3 130.8h0M505.3 49.2h0M490.9 66.7h0M498.8 109.2h0M508.8 66.3h0M453.4 140.8h0M513.3 72.6h0M544.1 53.3h0M470.6 125.2h0M441.8 111.4h0M524.2 15.1h0M435.6 169.6h0M487.9 98.3h0M526.5 131.3h0M513.3 75.3h0M465.0 95.2h0M507.3 129.0h0M476.7 39.4h0M483.7 72.3h0M465.6 119.5h0M470.4 113.8h0M514.9 111.7h0M451.5 77.7h0M502.0 35.5h0M543.3 91.0h0M459.4 58.4h0M472.6 120.4h0M494.4 52.1h0M480.6 124.7h0M473.6 117.5h0M489.0 44.6h0M482.9 75.0h0M527.7 123.2h0M492.1 117.0h0M490.7 117.1h0M493.6 98.6h0M456.7 135.7h0M466.6 28.6h0M521.0 116.3h0M507.2 137.3h0M480.7 43.4h0M470.2 121.3h0M441.3 132.3h0M478.5 90.8h0M472.7 100.1h0M488.6 112.4h0M473.8 60.9h0M496.4 116.9h0M514.9 40.7h0M476.7 110.4h0M475.9 106.3h0M505.2 50.5h0M460.6 112.6h0M454.2 115.4h0M530.2 82.0h0M526.9 132.6h0M480.8 50.8h0M466.9 139.0h0M492.6 63.4h0M496.7 113.9h0M501.2 117.6h0M446.9 124.0h0M496.8 125.8h0M491.7 148.5h0M509.0 19.3h0M521.4 83.9h0M452.2 141.4h0M503.4 106.1h0M492.1 77.3h0M486.3 100.5h0M487.4 116.5h0M468.7 124.4h0M498.6 127.2h0M465.9 124.9h0M513.4 71.6h0M498.0 24.4h0M466.1 112.2h0M496.1 38.0h0M494.1 111.0h0M433.0 119.3h0M499.3 50.8h0M439.8 119.2h0M474.3 109.9h0M524.6 103.5h0M467.0 89.8h0M471.2 127.8h0M439.9 89.0h0M512.7 104.4h0M505.5 124.8h0M490.8 144.2h0M531.7 110.6h0M514.3 65.1h0M517.8 138.7h0M503.6 33.3h0M476.7 98.1h0M521.0 87.4h0M462.9 157.1h0M510.5 52.2h0M486.0 134.9h0M447.8 105.4h0M459.2 88.6h0M473.1 131.3h0M496.0 122.4h0M456.8 130.8h0M521.1 95.5h0M522.3 139.3h0M454.4 90.0h0M495.9 128.4h0M440.1 98.4h0M480.3 127.1h0M466.3 146.3h0M475.5 72.0h0M452.4 90.2h0M496.7 52.2h0M508.3 81.6h0M537.8 34.5h0M482.4 103.3h0M441.5 75.3h0M444.3 122.3h0M454.5 132.6h0M456.7 139.6h0M492.0 71.6h0M519.8 122.9h0M466.8 110.0h0M504.0 83.6h0M505.2 151.3h0M500.7 101.4h0M478.0 132.4h0M420.8 156.3h0M446.2 139.7h0M540.8 117.2h0M484.5 111.1h0M534.1 111.6h0M481.0 49.4h0M497.5 111.1h0M511.2 59.6h0M486.7 77.3h0M530.4 63.0h0M508.4 72.1h0M455.8 90.3h0M535.1 110.5h0M450.2 85.6h0M449.8 127.6h0M506.6 119.4h0M440.2 125.8h0M481.0 119.8h0M443.5 155.6h0M524.1 49.4h0M543.3 104.3h0M437.8 125.5h0M475.6 50.1h0M493.6 127.3h0M457.2 63.0h0M521.5 89.1h0M448.4 62.1h0M475.1 125.6h0M487.6 93.9h0M481.1 125.7h0M475.6 78.9h0M474.7 109.2h0M485.6 114.6h0M516.3 132.2h0M488.8 82.6h0M435.2 169.7h0M461.6 119.2h0M517.9 118.5h0M534.0 115.2h0M484.9 84.1h0M535.3 23.9h0M474.4 80.8h0M527.4 37.0h0M470.4 130.4h0M467.9 83.4h0M435.8 108.6h0M526.9 57.7h0M527.9 115.4h0M516.9 49.8h0M459.5 93.0h0M502.1 96.3h0M451.3 117.3h0M487.3 107.4h0M480.5 107.0h0M503.3 124.6h0M476.3 23.4h0M468.1 127.6h0M473.7 129.0h0M435.9 134.8h0M478.3 129.3h0M468.8 126.6h0M509.9 123.3h0M452.4 97.8h0M546.3 121.8h0M473.1 31.5h0M486.9 126.7h0M468.1 59.3h0M493.5 74.4h0M481.3 86.5h0M496.9 55.3h0M543.1 93.6h0M523.7 120.9h0M469.0 51.8h0M513.1 129.7h0M525.4 29.4h0M467.5 109.2h0M484.7 114.6h0M467.5 65.8h0M490.9 133.0h0M493.0 86.9h0M472.8 130.9h0M446.8 88.2h0M483.6 22.4h0M454.9 69.6h0M478.3 136.4h0M539.6 129.5h0M551.9 17.1h0M542.1 62.4h0M469.0 91.6h0M485.5 121.4h0M483.5 118.0h0M478.6 68.3h0M436.3 160.8h0M493.3 59.6h0M452.7 92.1h0M475.5 128.9h0M481.1 46.6h0M485.0 132.7h0M507.3 128.8h0M448.3 127.9h0M454.1 125.4h0M460.9 51.9h0M442.2 91.3h0M458.5 102.4h0M534.0 60.2h0M498.6 53.3h0M494.0 78.7h0M539.0 94.1h0M471.4 114.7h0M536.9 73.8h0M518.3 107.4h0M455.2 107.6h0M446.0 105.4h0M457.7 116.6h0M500.8 63.5h0M505.1 40.9h0M525.4 135.0h0M539.6 70.2h0M530.1 98.2h0M486.9 130.3h0M494.3 90.1h0M501.6 71.6h0M449.6 69.2h0M493.9 91.8h0M445.2 113.4h0M531.2 108.2h0M472.4 85.2h0M479.7 114.2h0M443.0 136.8h0M450.2 157.2h0M474.2 91.9h0M478.3 136.2h0M526.6 22.7h0M398.3 148.8h0M486.8 126.9h0M495.3 111.9h0M490.4 24.2h0M502.5 148.7h0M451.6 166.3h0M516.8 98.9h0M423.6 123.0h0M524.6 51.1h0M463.1 75.5h0M474.8 132.1h0M540.6 51.9h0M486.3 76.4h0M464.1 120.9h0M475.3 146.8h0M461.6 77.6h0M501.0 92.6h0M487.0 135.3h0M448.5 122.4h0M490.0 128.1h0M488.6 36.5h0M472.4 66.7h0M522.4 85.9h0M525.9 125.9h0M474.4 90.9h0M512.8 29.0h0M522.9 124.6h0M500.5 115.7h0M489.7 134.9h0M512.8 117.1h0M454.5 140.2h0M501.1 129.1h0M508.7 113.5h0M469.8 79.3h0M478.7 116.2h0M499.0 84.4h0M491.5 137.0h0M489.4 52.4h0M454.3 117.8h0M508.4 42.6h0M475.5 146.0h0M484.9 118.3h0M470.6 117.3h0M460.8 71.3h0M468.2 110.2h0M449.0 122.9h0M461.6 93.4h0M521.5 33.1h0M463.0 40.8h0M494.1 65.8h0M495.2 65.1h0M466.6 142.6h0M463.8 73.7h0M495.1 112.5h0M496.2 131.5h0M522.1 123.9h0M487.9 110.5h0M479.0 123.5h0M451.1 158.6h0M447.2 81.7h0M519.8 33.1h0M525.8 101.7h0M436.6 141.0h0M479.0 128.2h0M468.4 123.2h0M532.0 64.2h0M527.4 47.9h0M443.4 128.5h0M452.1 96.2h0M503.5 105.3h0M444.0 92.6h0M492.1 67.0h0M491.3 110.2h0M476.3 133.0h0M506.7 49.6h0M496.3 107.9h0M443.9 120.2h0M476.5 137.9h0M535.1 58.0h0M504.7 135.7h0M527.0 115.1h0M468.4 112.5h0M439.8 69.7h0M523.9 29.1h0M521.1 20.1h0M468.4 108.6h0M510.1 105.5h0M455.4 114.8h0M475.3 114.7h0M490.8 145.3h0M498.7 39.8h0M466.4 135.3h0M493.6 80.7h0M466.6 77.3h0M466.4 46.9h0M469.8 136.6h0M485.4 91.8h0M526.4 35.8h0M481.4 77.4h0M538.8 129.7h0M465.5 121.6h0M517.7 125.4h0M538.0 64.6h0M540.0 108.3h0M465.1 91.3h0M492.2 131.5h0M493.0 67.7h0M542.8 127.6h0M500.2 134.3h0M450.8 72.7h0M515.6 107.1h0M503.4 71.6h0M502.0 102.1h0M581.0 32.7h0M476.8 131.4h0M450.1 82.6h0M480.0 116.8h0M451.2 137.5h0M529.2 119.5h0M464.8 134.1h0M444.8 144.0h0M479.5 54.6h0M459.0 94.8h0M484.8 114.7h0M465.5 128.3h0M518.8 72.5h0M489.2 131.8h0M520.3 60.4h0M477.1 34.7h0M453.9 109.9h0M496.3 150.0h0M548.5 92.0h0M497.0 140.5h0M461.3 123.1h0M555.6 88.2h0M489.4 97.9h0M465.1 127.6h0M502.0 50.9h0M510.2 128.8h0M505.1 108.8h0M499.3 65.3h0M478.5 92.3h0M503.8 168.5h0M489.6 63.4h0M488.9 108.1h0M501.1 79.1h0M476.1 114.5h0M488.8 109.0h0M492.7 20.6h0M428.3 157.1h0M457.1 136.0h0M463.4 133.3h0M539.4 106.2h0M493.6 64.5h0M458.3 137.7h0M425.7 126.1h0M484.4 133.7h0M473.9 82.8h0M492.3 77.2h0M442.4 136.7h0M446.9 119.8h0M430.4 142.3h0M479.6 118.1h0M477.0 30.2h0M515.2 19.1h0M492.5 112.9h0M498.4 136.0h0M530.8 111.2h0M465.1 132.2h0M537.2 70.6h0M527.9 81.6h0M464.0 113.6h0M472.8 46.8h0M473.4 127.6h0M519.6 133.8h0M460.4 70.0h0M498.1 109.9h0M490.8 115.2h0M438.9 88.4h0M505.0 142.6h0M456.5 88.5h0M517.0 33.4h0M506.7 119.6h0M511.0 66.2h0M497.2 59.1h0M511.2 40.6h0M499.6 89.0h0M543.8 102.5h0M480.7 80.4h0M507.3 66.8h0M497.2 130.0h0M530.7 71.6h0M493.8 105.1h0M450.4 130.9h0M506.4 119.8h0M466.8 116.2h0M525.1 124.1h0M450.7 139.9h0M491.3 130.0h0M464.4 124.7h0M505.3 70.4h0M463.2 111.4h0M477.5 135.0h0M431.6 116.7h0M516.4 115.3h0M480.2 133.9h0M436.4 159.3h0M494.1 95.2h0M476.8 59.7h0M486.9 50.1h0M486.3 96.4h0M518.1 132.1h0M498.0 43.5h0M449.4 83.2h0M502.3 124.4h0M457.6 159.5h0M500.7 93.0h0M488.5 130.9h0M437.5 141.3h0M430.3 115.0h0M551.1 82.6h0M432.0 126.7h0M532.2 137.3h0M497.4 60.5h0M541.6 47.7h0M528.3 81.5h0M481.3 55.2h0M467.8 87.2h0M479.5 124.0h0M443.0 120.8h0M503.8 114.5h0M497.5 85.1h0M501.2 133.4h0M477.2 128.3h0M471.3 131.0h0M546.6 37.6h0M450.3 88.2h0M460.5 137.3h0M503.7 36.9h0M504.5 114.1h0M523.8 113.6h0M487.5 131.2h0M454.9 141.1h0M452.1 153.4h0M437.2 122.4h0M471.7 145.0h0M495.4 112.2h0M506.6 60.7h0M499.1 36.8h0M538.6 28.3h0M512.6 45.4h0M523.7 60.0h0M507.5 38.6h0M502.9 148.7h0M506.0 125.3h0M465.9 141.4h0M524.0 59.9h0M467.1 78.9h0M523.7 32.6h0M488.1 102.9h0M459.1 140.1h0M549.9 108.7h0M465.3 76.0h0M482.4 124.8h0M478.3 133.4h0M458.4 122.8h0M487.6 139.3h0M470.6 128.5h0M453.4 141.0h0M470.3 127.7h0M524.2 92.2h0M487.1 34.4h0M541.0 118.2h0M490.2 94.5h0M493.0 90.7h0M469.0 72.0h0M536.1 132.8h0M487.6 70.0h0M469.4 147.9h0M501.7 110.7h0M464.9 115.0h0M536.6 119.7h0M545.3 79.0h0M466.7 123.2h0M461.8 139.5h0M471.8 132.0h0M500.8 111.5h0M532.0 39.7h0M451.8 127.7h0M505.3 26.3h0M482.4 110.8h0M458.6 108.4h0M502.3 93.2h0M467.7 47.4h0M513.6 111.2h0M491.6 44.8h0M529.2 129.0h0M457.3 99.4h0M489.7 42.3h0M487.2 136.4h0M504.6 111.2h0M514.5 49.5h0M533.7 81.0h0M525.2 136.1h0M455.0 110.4h0M487.9 134.1h0M489.5 118.6h0M509.3 69.8h0M515.1 89.0h0M527.1 55.7h0M473.1 46.5h0M513.2 27.5h0M495.7 115.0h0M511.1 126.4h0M479.2 88.1h0M486.1 16.5h0M492.8 120.8h0M458.5 108.7h0M470.1 97.3h0M490.7 66.3h0M483.9 59.4h0M487.5 72.6h0M463.2 131.5h0M537.2 61.2h0M494.4 71.7h0M497.8 65.0h0M546.8 97.0h0M468.1 124.8h0M520.3 114.4h0M443.1 116.5h0M509.9 139.3h0M509.8 36.9h0M522.0 107.6h0M498.8 52.7h0M466.0 109.3h0M501.3 115.2h0M480.8 93.1h0M490.0 65.7h0M455.9 130.0h0M482.6 104.6h0M514.3 124.7h0M451.2 132.0h0M484.7 115.5h0M492.4 92.8h0M475.6 76.2h0M443.7 75.5h0M482.3 127.8h0M430.6 159.8h0M454.7 87.8h0M511.3 78.2h0M452.8 96.8h0M462.1 115.8h0M534.8 46.5h0M497.7 73.1h0M512.8 132.6h0M444.9 146.7h0M475.5 44.1h0M500.5 134.2h0M535.9 63.9h0M520.8 57.2h0M436.4 127.8h0M459.7 102.8h0M454.4 124.3h0M515.6 124.9h0M451.2 75.1h0M493.9 144.2h0M497.2 133.8h0M489.5 123.2h0M437.0 103.4h0M532.7 137.6h0M468.7 96.6h0M432.8 93.4h0M470.6 88.1h0M498.0 13.4h0M448.5 146.7h0M423.1 126.8h0M481.0 137.7h0M500.2 98.1h0M482.4 152.3h0M469.9 97.5h0M513.0 108.4h0M487.8 101.0h0M441.4 111.3h0M451.9 129.3h0M437.1 100.2h0M455.0 125.3h0M468.9 34.8h0M498.6 116.0h0M466.2 134.9h0M467.1 132.3h0M430.6 144.1h0M502.5 129.1h0M471.0 149.1h0M466.0 125.5h0M509.2 47.8h0M443.6 108.4h0M454.8 73.5h0M499.2 43.8h0M477.4 46.1h0M505.1 14.4h0M497.8 80.8h0M497.5 75.5h0M481.3 61.4h0M531.3 90.6h0M476.9 129.1h0M466.2 71.5h0M505.4 59.7h0M450.4 121.7h0M463.8 74.4h0M476.0 113.8h0M444.0 66.1h0M479.6 107.0h0M484.1 107.7h0M499.0 115.6h0M533.6 126.9h0M503.6 28.7h0M477.1 112.7h0M515.6 112.5h0M534.0 73.8h0M493.6 118.9h0M479.7 59.1h0M460.8 121.7h0M466.7 122.3h0M544.5 110.0h0M428.5 100.5h0M489.4 80.7h0M471.3 146.8h0M492.2 46.0h0M537.4 113.3h0M458.1 146.6h0M495.9 77.4h0M515.2 119.9h0M486.8 100.7h0M530.4 136.9h0M462.9 124.4h0M453.1 121.2h0M461.5 81.9h0M478.4 125.5h0M541.4 72.4h0M471.2 47.5h0M531.0 123.1h0M511.9 33.5h0M506.7 126.3h0M479.9 101.1h0M481.4 127.4h0M491.9 132.7h0M557.7 46.5h0M499.4 125.2h0M496.3 63.9h0M433.8 150.0h0M477.1 47.1h0M440.1 173.5h0M525.0 25.2h0M466.6 140.6h0M515.3 48.3h0M478.8 24.4h0M517.2 29.9h0M455.9 120.5h0M473.5 122.1h0M518.0 59.6h0M471.7 96.0h0M510.5 127.6h0M539.6 86.1h0M496.9 59.9h0M445.8 100.1h0M488.6 39.3h0M464.4 125.9h0M421.8 107.6h0M482.9 136.7h0M537.4 110.4h0M504.7 135.5h0M472.0 71.4h0M454.3 116.2h0M500.6 119.8h0M504.2 136.8h0M475.4 73.0h0M519.7 107.4h0M475.2 135.6h0M525.8 121.2h0M490.7 106.9h0M462.0 74.5h0M471.6 92.0h0M479.2 129.9h0M461.8 143.6h0M499.9 143.8h0M475.5 76.3h0M532.8 129.7h0M478.2 57.7h0M490.8 122.9h0M505.1 118.8h0M535.5 84.8h0M521.9 37.3h0M471.1 130.1h0M482.5 122.5h0M503.5 76.3h0M478.4 102.0h0M462.0 133.5h0M518.6 126.1h0M471.6 123.0h0M509.4 105.1h0M466.0 81.7h0M477.1 113.5h0M459.9 75.3h0M494.3 49.6h0M441.3 123.4h0M478.3 60.3h0M467.7 116.6h0M532.3 49.1h0M490.8 116.5h0M443.6 100.9h0M501.1 121.9h0M468.0 97.8h0M468.6 100.5h0M428.4 156.3h0M483.6 120.1h0M451.6 105.5h0M474.4 46.1h0M505.6 77.2h0M530.3 83.2h0M475.9 72.8h0M433.1 160.7h0M518.2 76.3h0M485.4 25.5h0M496.3 70.2h0M450.9 137.2h0M475.1 124.1h0M436.5 122.5h0M487.6 145.1h0M513.4 116.3h0M461.7 150.5h0M543.7 62.5h0M488.8 30.1h0M494.0 76.8h0M463.0 142.8h0M536.4 67.7h0M461.9 58.4h0M461.9 133.3h0M521.8 68.3h0M520.6 90.2h0M531.1 73.9h0M497.8 56.2h0M456.1 84.4h0M540.6 56.7h0M505.6 70.1h0M506.5 76.5h0M460.7 107.8h0M529.7 86.6h0M538.9 86.4h0M475.4 121.9h0M474.1 138.9h0M501.2 56.1h0M498.4 147.7h0M518.5 107.8h0M511.4 22.8h0M500.3 69.2h0M452.5 143.4h0M498.3 113.5h0M487.0 81.6h0M490.0 129.1h0M487.8 91.7h0M513.4 125.0h0M501.3 50.7h0M537.6 117.7h0M525.1 120.9h0M509.6 134.8h0M497.1 132.4h0M497.3 121.3h0M551.4 121.8h0M472.8 72.3h0M448.5 119.2h0M490.7 79.8h0M490.6 118.8h0M483.5 114.8h0M514.3 125.0h0M532.2 110.8h0M478.1 137.5h0M530.5 150.8h0M520.1 126.7h0M503.6 48.1h0M493.8 54.0h0M515.9 41.4h0M516.5 93.8h0M466.2 67.8h0M504.3 118.5h0M473.8 125.5h0M471.8 134.6h0M443.6 130.4h0M458.2 133.5h0M471.0 137.7h0M498.8 106.7h0M455.7 135.0h0M502.6 137.9h0M528.9 24.6h0M506.4 106.3h0M524.2 85.2h0M467.3 94.9h0M525.5 110.3h0M511.4 39.4h0M515.3 67.6h0M515.2 55.0h0M494.0 92.0h0M496.7 82.2h0M491.0 120.9h0M491.1 69.8h0M542.8 64.3h0M477.3 77.9h0M487.3 89.2h0M461.8 144.6h0M486.7 120.1h0M496.3 137.4h0M485.6 55.7h0M465.1 53.9h0M492.7 119.5h0M468.9 57.8h0M464.9 103.4h0M493.4 129.3h0M483.7 131.4h0M518.0 119.4h0M472.1 116.1h0M503.6 70.2h0M467.2 123.5h0M543.9 121.0h0M503.9 54.2h0M525.8 122.1h0M425.4 121.1h0M519.5 25.6h0M486.8 142.0h0M501.6 137.1h0M492.2 83.0h0M438.3 169.3h0M444.3 137.6h0M524.9 131.3h0M499.4 118.9h0M482.9 104.9h0M504.6 139.0h0M467.3 118.2h0M542.8 113.1h0M495.6 88.6h0M539.1 46.4h0M525.0 55.8h0M468.5 113.9h0M516.2 119.0h0M530.1 116.4h0M489.0 60.7h0M509.8 22.7h0M498.6 50.8h0M481.5 101.9h0M443.9 135.7h0M466.5 132.1h0M523.2 104.8h0M492.3 30.6h0M485.1 78.3h0M519.4 125.4h0M474.7 92.6h0M517.9 64.0h0M500.1 47.0h0M527.3 119.4h0M482.1 44.6h0M487.2 131.6h0M480.0 144.5h0M542.0 90.5h0M475.5 106.5h0M513.4 72.1h0M478.2 72.4h0M480.9 138.1h0M529.2 97.2h0M452.0 138.8h0M483.3 90.4h0M504.9 119.3h0M456.4 137.0h0M498.9 63.8h0M460.7 114.7h0M494.7 50.1h0M497.3 81.6h0M458.6 126.1h0M464.4 84.8h0M452.6 102.2h0M475.3 131.4h0M466.0 91.6h0M438.8 75.6h0M501.6 124.9h0M525.3 71.8h0M516.1 134.3h0M452.1 118.1h0M446.9 138.8h0M443.0 82.7h0M527.4 131.5h0M498.4 78.7h0M499.7 51.3h0M497.2 51.5h0M444.2 86.7h0M480.2 117.0h0M511.8 109.6h0M484.4 39.4h0M514.7 70.7h0M470.4 79.6h0M463.4 126.2h0M518.7 139.9h0M529.6 72.8h0M455.8 139.1h0M528.4 126.2h0M472.4 83.8h0M445.6 67.1h0M486.0 67.2h0M505.9 139.2h0M470.7 116.4h0M503.3 96.7h0M520.1 25.7h0M480.1 102.9h0M443.0 116.3h0M483.2 122.6h0M478.0 129.8h0M477.4 98.4h0M523.3 55.2h0M493.9 129.1h0M508.4 58.9h0M503.1 113.4h0M461.0 74.5h0M475.7 132.4h0M532.3 56.0h0M475.0 47.5h0M498.3 126.0h0M469.8 75.8h0M450.0 77.7h0M439.6 123.4h0M494.4 55.7h0M512.0 16.0h0M473.1 105.3h0M464.0 92.4h0M488.5 140.8h0M535.8 117.4h0M499.9 68.5h0M499.0 57.3h0M492.3 139.2h0M509.9 127.7h0M503.8 32.8h0M516.0 65.8h0M433.4 76.6h0M482.3 135.0h0M464.8 102.4h0M445.4 90.4h0M521.2 103.9h0M506.3 55.1h0M482.6 138.3h0M463.7 78.0h0M514.2 114.0h0M508.1 106.1h0M485.5 70.3h0M443.2 165.4h0M464.5 85.7h0M484.2 139.5h0M522.0 129.9h0M505.2 47.3h0M482.4 98.1h0M441.9 143.0h0M449.6 126.9h0M494.4 61.9h0M472.6 56.2h0M518.8 78.8h0M535.5 134.4h0M458.2 128.5h0M427.7 171.9h0M501.1 127.0h0M465.2 93.9h0M523.9 140.4h0M449.1 130.1h0M480.2 103.6h0M533.3 130.2h0M506.5 53.7h0M510.9 60.0h0M521.5 107.9h0M524.8 52.1h0M477.5 92.1h0M467.3 78.2h0M469.5 69.6h0M480.6 138.8h0M467.9 114.9h0M502.4 115.7h0M494.0 130.3h0M463.9 86.9h0M427.3 124.6h0M464.6 116.5h0M468.0 78.1h0M502.5 58.8h0M444.8 110.1h0M472.9 145.9h0M507.4 132.9h0M484.8 47.2h0M504.7 97.7h0M459.1 114.5h0M482.5 64.6h0M471.2 47.5h0M493.2 135.8h0M481.4 121.0h0M495.9 60.5h0M491.6 138.1h0M503.3 136.0h0M454.9 112.4h0M470.6 79.6h0M479.4 53.3h0M493.7 130.0h0M508.4 65.9h0M524.3 67.7h0M485.8 88.3h0M513.3 132.3h0M475.5 133.9h0M549.1 128.8h0M498.0 104.7h0M454.8 112.7h0M496.0 55.5h0M522.6 133.0h0M543.7 71.5h0M470.0 105.3h0M507.0 129.0h0M455.8 125.9h0M462.7 128.3h0M490.8 66.9h0M530.0 67.2h0M482.5 134.3h0M449.3 127.7h0M516.0 89.5h0M517.7 118.9h0M526.1 52.7h0M475.4 111.5h0M489.5 71.2h0M454.9 92.7h0M462.0 140.4h0M501.6 117.1h0M466.4 110.4h0M504.0 74.8h0M495.4 59.5h0M530.7 114.2h0M435.2 93.9h0M457.6 150.0h0M487.7 72.1h0M486.7 84.1h0M473.8 98.6h0M459.6 137.5h0M560.9 61.1h0M430.7 128.5h0M448.2 118.0h0M477.7 138.8h0M554.4 88.5h0M468.8 70.5h0M499.6 144.4h0M492.2 134.9h0M467.6 131.9h0M463.3 113.0h0M499.8 40.7h0M444.3 137.0h0M513.0 140.4h0M490.5 143.6h0M462.8 130.9h0M479.1 41.6h0M446.1 117.0h0M478.6 90.9h0M506.6 125.3h0M492.6 74.4h0M526.0 146.9h0M452.8 115.6h0M522.7 88.6h0M509.3 135.1h0M434.1 102.5h0M450.0 144.8h0M478.3 68.6h0M499.3 125.1h0M468.8 143.7h0M467.7 101.6h0M450.7 95.7h0M509.5 92.3h0M431.0 96.1h0M470.5 134.1h0M452.4 47.1h0M516.8 126.0h0M550.8 72.8h0M533.2 48.1h0M499.3 76.3h0M488.8 57.7h0M504.6 42.9h0M506.8 122.3h0M526.1 17.3h0M446.1 116.7h0M468.1 128.3h0M526.5 108.6h0M499.1 100.5h0M474.6 108.6h0M528.2 102.3h0M487.9 120.9h0M439.2 129.8h0M491.5 104.7h0M536.9 114.4h0M471.3 107.1h0M423.9 170.6h0M456.8 52.9h0M545.5 57.4h0M548.4 105.6h0M484.4 116.2h0M513.9 13.1h0M443.6 137.6h0M555.4 69.2h0M489.3 121.3h0M546.6 106.4h0M451.6 93.2h0M449.7 112.6h0M454.0 120.0h0M505.4 114.9h0M459.0 121.7h0M461.5 65.8h0M475.6 137.3h0M473.0 38.8h0M503.1 23.5h0M444.3 126.4h0M474.9 94.7h0M488.8 74.0h0M542.8 84.6h0M469.4 119.3h0M467.3 144.3h0M455.0 139.6h0M486.9 78.0h0M449.0 165.9h0M464.1 140.7h0M484.2 50.9h0M468.8 131.4h0M502.1 76.1h0M458.1 81.9h0M521.9 43.0h0M473.1 137.1h0M522.1 72.3h0M534.0 90.2h0M496.4 138.7h0M540.3 59.5h0M488.7 65.6h0M513.0 107.5h0M502.3 97.2h0M466.4 146.3h0M450.9 95.7h0M537.1 114.9h0M505.2 125.4h0M503.3 56.6h0M423.8 113.9h0M489.9 100.3h0M448.7 66.7h0M487.5 73.9h0M514.6 116.1h0M481.4 117.8h0M461.9 137.3h0M478.2 127.5h0M512.2 131.8h0M558.1 72.8h0M541.3 105.0h0M528.4 64.2h0M455.4 131.5h0M449.6 142.1h0M460.3 136.0h0M537.0 131.6h0M506.8 66.6h0M544.4 123.6h0M510.2 63.8h0M502.8 121.4h0M519.5 47.4h0M446.4 140.3h0M521.4 44.5h0M463.4 148.4h0M473.1 63.0h0M474.1 64.1h0M448.4 115.5h0M511.6 130.9h0M508.0 54.8h0M488.5 109.3h0M504.5 139.7h0M499.1 57.8h0M440.9 141.4h0M480.8 132.2h0M428.2 131.8h0M475.6 130.4h0M429.2 172.0h0M539.1 63.1h0M473.9 126.6h0M503.3 125.3h0M497.3 119.1h0M438.3 102.8h0M458.6 133.9h0M452.7 140.7h0M525.8 118.6h0M514.6 96.1h0M534.4 115.2h0M464.3 127.4h0M457.6 147.6h0M476.0 139.2h0M484.7 65.9h0M477.3 108.5h0M458.6 128.2h0M541.8 122.2h0M447.5 132.1h0M448.5 109.8h0M461.5 88.1h0M463.7 98.3h0M486.9 130.8h0M513.4 95.7h0M498.2 105.6h0M469.2 148.5h0M461.3 84.1h0M544.5 47.9h0M481.3 65.6h0M493.2 119.5h0M465.8 102.9h0M487.5 105.0h0M543.2 79.5h0M458.0 154.8h0M461.2 131.4h0M450.5 120.7h0M491.9 112.6h0M508.4 76.5h0M512.0 131.9h0M467.5 124.8h0M478.3 50.2h0M479.8 121.7h0M432.0 149.7h0M454.3 65.6h0M491.7 45.5h0M540.3 91.5h0M489.4 121.7h0M435.3 99.8h0M499.0 123.7h0M471.7 82.8h0M468.0 31.7h0M531.8 111.6h0M501.6 111.6h0M554.4 115.3h0M436.6 107.1h0M481.5 25.6h0M466.5 127.6h0M521.3 144.3h0M492.1 33.9h0M508.7 78.9h0M537.0 65.2h0M480.6 54.6h0M530.1 56.9h0M473.7 68.2h0M497.4 119.4h0M510.3 134.4h0M484.3 124.2h0M521.7 129.6h0M508.6 107.4h0M493.8 126.7h0M470.9 26.2h0M447.6 142.5h0M506.0 136.0h0M463.5 55.8h0M430.8 105.4h0M468.3 122.6h0M484.6 118.6h0M470.1 126.3h0M490.1 31.0h0M497.3 43.8h0M522.8 122.7h0M498.5 144.1h0M533.0 36.5h0M469.0 80.7h0M472.2 120.0h0M512.3 68.0h0M453.7 127.7h0M500.7 82.2h0M520.6 25.2h0M515.6 121.0h0M507.3 73.0h0M460.4 146.1h0M474.5 125.6h0M527.2 132.1h0M529.7 70.2h0M463.6 135.3h0M524.6 73.0h0M510.3 72.0h0M490.6 77.4h0M485.9 142.4h0M491.4 59.8h0M474.8 41.5h0M438.8 110.5h0M479.3 112.4h0M449.9 113.6h0M500.9 131.3h0M498.9 79.2h0M448.1 136.4h0M454.8 96.3h0M511.2 113.7h0M499.7 44.0h0M484.4 128.5h0M456.8 121.6h0M469.8 55.9h0M430.4 163.9h0M490.2 50.8h0M499.6 36.2h0M485.0 89.9h0M457.1 153.2h0M460.8 163.8h0M472.1 136.4h0M437.2 107.3h0M515.5 93.7h0M498.4 87.1h0M453.2 128.8h0M456.1 111.1h0M453.2 106.1h0M471.1 109.2h0M447.1 135.9h0M478.7 125.4h0M483.6 146.2h0M536.5 125.2h0M457.0 140.3h0M520.8 74.4h0M504.6 65.9h0M510.5 94.9h0M483.1 124.3h0M472.6 89.1h0M509.9 63.0h0M485.3 57.6h0M501.8 109.2h0M509.1 46.0h0M493.8 115.2h0M508.7 60.7h0M512.8 85.3h0M490.1 72.4h0M487.7 45.1h0M474.1 101.1h0M478.8 123.7h0M468.0 123.6h0M493.2 136.1h0M520.0 59.8h0M507.4 39.3h0M483.8 115.7h0M488.6 91.0h0M479.6 27.7h0M501.9 14.3h0M502.3 35.8h0M506.5 44.2h0M546.7 104.8h0M438.0 157.2h0M501.3 96.0h0M543.3 78.4h0M439.2 105.0h0M551.0 111.1h0M467.0 127.8h0M504.3 126.0h0M473.5 128.9h0M473.2 133.9h0M494.5 81.7h0M483.5 147.8h0M524.7 29.1h0M475.8 124.5h0M523.7 107.1h0M492.7 66.2h0M486.9 72.6h0M503.2 143.2h0M473.6 121.8h0M421.8 106.7h0M536.0 112.5h0M492.9 128.1h0M482.1 124.7h0M497.3 150.0h0M510.2 125.7h0M479.7 125.7h0M432.1 160.6h0M490.0 133.7h0M520.2 91.4h0M474.1 124.0h0M522.2 101.4h0M519.0 95.9h0M492.4 55.6h0M435.3 111.9h0M504.9 31.7h0M459.3 155.4h0M506.4 66.4h0M482.6 141.8h0M432.1 125.8h0M506.1 116.0h0M556.2 63.7h0M481.7 60.0h0M439.1 135.1h0M493.6 53.5h0M524.0 142.8h0M438.3 135.7h0M520.7 58.5h0M467.5 106.7h0M539.3 131.3h0M482.4 133.8h0M495.5 115.4h0M475.0 126.0h0M519.2 139.1h0M540.7 127.1h0M437.7 123.9h0M502.1 29.8h0M490.7 36.1h0M484.4 127.1h0M485.8 132.6h0M489.4 79.3h0M469.6 68.4h0M464.3 130.7h0M472.5 118.9h0M519.9 127.6h0M464.3 105.8h0M493.3 75.7h0M485.8 94.9h0M447.9 89.3h0M398.8 140.1h0M479.1 119.2h0M451.3 101.9h0M466.2 43.1h0M513.6 64.4h0M463.6 53.0h0M434.1 107.9h0M441.6 85.3h0M495.1 114.4h0M471.0 81.0h0M476.0 96.7h0M490.0 60.1h0M488.4 46.2h0M523.8 122.1h0M493.8 32.0h0M484.8 136.4h0M446.7 79.5h0M457.3 97.2h0M538.3 91.2h0M457.5 117.8h0M457.9 140.5h0M499.9 122.0h0M439.0 127.0h0M453.0 118.0h0M509.3 140.8h0M521.7 63.4h0M494.0 68.2h0M455.8 118.9h0M536.1 148.8h0M497.4 102.4h0M506.4 110.2h0M461.4 125.9h0M503.0 142.7h0M491.6 116.5h0M524.2 14.2h0M495.4 110.8h0M477.7 145.2h0M484.2 136.1h0M487.8 117.1h0M438.6 150.1h0M485.1 140.1h0M468.4 136.5h0M494.7 108.6h0M506.1 42.0h0M439.7 125.8h0M486.4 127.9h0M506.7 35.8h0M494.3 75.0h0M468.2 77.2h0M451.1 146.0h0M488.3 122.9h0M512.2 50.2h0M513.7 66.7h0M508.3 121.7h0M464.6 120.2h0M467.2 123.5h0M466.9 156.4h0M473.9 143.9h0M490.8 81.9h0M476.0 125.1h0M472.1 54.5h0M528.0 69.4h0M438.9 117.7h0M473.1 141.8h0M466.1 77.5h0M483.2 76.1h0M512.4 66.3h0M533.4 116.6h0M542.5 94.9h0M521.1 92.4h0M518.0 124.8h0M434.4 31.5h0M527.3 133.2h0M455.3 114.1h0M433.4 155.6h0M574.9 69.4h0M452.7 106.7h0M428.8 157.9h0M492.4 51.3h0M475.6 123.9h0M477.9 106.4h0M440.6 151.0h0M483.0 124.5h0M456.7 109.0h0M482.8 74.7h0M510.1 71.0h0M548.6 133.8h0M476.4 91.7h0M457.4 86.0h0M484.5 76.2h0M520.6 97.6h0M464.7 38.5h0M486.6 149.8h0M461.2 129.5h0M519.1 49.9h0M509.7 120.4h0M530.6 96.6h0M473.8 145.8h0M506.4 145.0h0M528.5 135.0h0M510.5 147.6h0M474.1 148.1h0M448.8 122.0h0M432.5 156.4h0M504.1 52.5h0M476.1 110.7h0M488.5 126.7h0M531.8 60.8h0M484.0 101.2h0M502.4 61.1h0M482.9 104.3h0M480.1 61.3h0M470.2 147.4h0M483.2 118.6h0M512.6 118.2h0M542.2 48.8h0M453.1 132.4h0M491.3 20.2h0M445.0 107.0h0M450.0 138.2h0M494.8 79.5h0M493.8 32.3h0M469.0 28.3h0M450.1 142.5h0M486.5 105.2h0M460.6 93.9h0M474.4 106.2h0M505.1 122.9h0M436.3 81.3h0M428.9 175.2h0M451.0 140.8h0M485.3 52.3h0M467.5 117.2h0M536.4 105.0h0M509.2 123.4h0M459.4 129.6h0M526.6 144.7h0M484.4 103.3h0M471.6 41.0h0M462.0 113.3h0M479.6 89.4h0M435.1 87.6h0M537.7 120.1h0M489.2 39.8h0M464.9 122.2h0M465.1 111.6h0M483.9 86.1h0M459.5 96.2h0M537.6 120.7h0M538.8 50.8h0M458.0 99.2h0M482.5 122.9h0M469.7 119.0h0M447.9 111.9h0M516.2 82.6h0M526.8 32.1h0M459.7 123.8h0M488.7 119.7h0M458.5 91.9h0M476.9 56.9h0M454.4 146.8h0M439.7 124.8h0M485.9 131.9h0M477.2 35.5h0M488.1 57.8h0M439.7 141.9h0M460.7 120.0h0M476.3 133.7h0M449.8 153.6h0M537.9 95.0h0M524.4 128.1h0M456.9 167.8h0M439.7 134.9h0M510.5 63.4h0M451.3 110.6h0M461.8 147.6h0M470.8 47.0h0M510.4 51.3h0M475.7 133.4h0M482.8 79.5h0M503.6 111.6h0M443.0 130.1h0M458.3 97.5h0M485.1 119.2h0M481.7 72.9h0M463.2 31.6h0M515.9 140.3h0M536.1 124.9h0M487.0 135.1h0M467.3 126.0h0M484.1 134.3h0M513.5 86.6h0M539.1 96.7h0M460.2 109.1h0M497.7 62.2h0M511.9 142.0h0M530.1 133.8h0M487.0 124.7h0M493.3 108.2h0M471.4 134.9h0M546.0 128.6h0M488.9 134.6h0M459.6 76.4h0M529.2 113.0h0M468.1 122.5h0M516.9 85.4h0M485.3 114.2h0M445.1 135.0h0M514.2 21.7h0M457.8 76.5h0M505.3 60.1h0M504.7 76.0h0M485.6 51.6h0M483.5 105.3h0M518.3 39.0h0M425.2 154.7h0M481.1 141.8h0M527.5 61.4h0M448.7 143.3h0M495.3 119.4h0M445.7 124.9h0M529.0 35.2h0M523.4 102.7h0M547.3 94.7h0M509.0 76.3h0M516.6 131.4h0M519.3 133.7h0M476.6 59.0h0M541.8 97.3h0M529.3 136.4h0M479.2 25.1h0M469.6 106.8h0M510.1 78.7h0M511.7 73.3h0M506.5 130.7h0M482.6 147.0h0M493.9 122.1h0M504.8 84.5h0M498.9 139.0h0M513.6 128.4h0M526.8 121.1h0M462.6 95.5h0M435.5 132.4h0M478.1 126.8h0M488.1 64.3h0M489.0 103.9h0M466.2 139.5h0M502.6 61.9h0M458.6 118.6h0M518.3 110.2h0M485.9 133.5h0M442.0 143.3h0M490.8 136.3h0M476.8 94.6h0M441.4 108.2h0M459.4 89.1h0M485.4 121.5h0M502.3 91.0h0M502.6 42.3h0M539.7 111.8h0M461.7 103.3h0M482.0 63.6h0M469.5 133.8h0M486.8 120.6h0M476.5 113.7h0M482.1 108.5h0M485.6 119.3h0M474.1 135.3h0M443.7 143.4h0M491.6 50.4h0M498.4 120.7h0M524.1 113.0h0M492.6 149.5h0M492.2 118.7h0M462.7 125.0h0M463.0 68.5h0M463.3 121.6h0M455.4 132.8h0M478.1 148.9h0M519.3 41.9h0M476.7 137.2h0M454.1 86.2h0M465.6 121.9h0M479.1 119.5h0M491.0 117.8h0M463.6 149.1h0M479.1 117.2h0M482.9 131.5h0M500.3 132.3h0M537.2 57.8h0M466.7 83.0h0M421.0 168.9h0M455.2 132.2h0M488.5 65.6h0M473.5 107.9h0M517.4 132.0h0M491.5 118.8h0M470.4 59.2h0M484.3 127.6h0M487.9 128.2h0M519.4 126.5h0M461.2 126.4h0M481.4 107.3h0M484.7 136.2h0M502.8 136.7h0M456.9 129.1h0M502.6 110.1h0M510.8 57.6h0M464.3 131.6h0M508.6 132.0h0M487.2 111.2h0M444.9 143.4h0M525.6 124.3h0M480.5 116.8h0M479.7 70.5h0M504.9 14.4h0M522.9 121.0h0M485.9 114.6h0M479.8 59.6h0M547.3 95.1h0M487.3 138.2h0M500.4 66.6h0M470.6 129.7h0M457.5 80.6h0M467.8 115.1h0M474.1 117.8h0M495.1 117.8h0M437.5 121.5h0M471.7 54.2h0M469.6 133.9h0M496.1 42.5h0M487.8 66.8h0M441.4 112.0h0M472.7 117.0h0M471.1 104.1h0M454.5 153.4h0M496.7 22.7h0M507.4 128.4h0M519.3 125.1h0M456.0 115.9h0M452.4 164.3h0M513.9 111.2h0M514.0 127.7h0M494.2 78.2h0M513.1 72.1h0M509.4 126.7h0M446.1 116.1h0M475.7 90.3h0M527.4 136.8h0M540.9 95.2h0M462.9 118.3h0M485.9 136.1h0M518.7 106.6h0M453.8 149.4h0M470.6 41.5h0M458.2 154.2h0M502.5 117.4h0M502.0 150.6h0M457.0 144.1h0M476.3 128.4h0M525.5 127.9h0M478.8 144.3h0M514.0 108.4h0M504.9 145.7h0M458.6 140.2h0M471.9 80.8h0M447.6 134.6h0M481.2 120.2h0M483.7 136.0h0M520.5 65.6h0M519.1 135.3h0M544.1 53.6h0M475.7 60.3h0M492.3 141.8h0M516.6 64.9h0M512.0 23.0h0M490.8 111.9h0M474.4 137.5h0M458.9 60.8h0M517.1 64.7h0M471.1 131.8h0M498.4 115.0h0M486.3 126.4h0M474.6 92.3h0M480.1 90.9h0M500.5 142.2h0M455.2 157.1h0M511.7 144.4h0M485.4 131.7h0M461.4 112.2h0M461.7 56.4h0M499.3 112.9h0M458.6 162.0h0M500.8 113.8h0M530.5 126.0h0M519.2 113.8h0M452.2 168.6h0M511.7 87.4h0M477.1 57.3h0M499.0 110.8h0M483.6 127.1h0M480.2 140.2h0M507.3 77.7h0M469.7 126.8h0M470.4 80.0h0M508.5 40.5h0M489.6 92.2h0M499.4 70.8h0M512.0 102.3h0M458.1 147.7h0M501.4 70.5h0M489.4 55.2h0M541.6 38.0h0M465.5 123.8h0M446.6 125.7h0M446.6 129.8h0M477.4 143.3h0M473.4 103.1h0M470.7 128.5h0M450.2 125.4h0M450.6 74.2h0M490.4 53.4h0M479.0 127.3h0M483.1 116.8h0M513.3 137.7h0M488.4 58.7h0M485.3 85.1h0M505.7 60.3h0M487.1 45.0h0M486.2 97.0h0M471.8 42.5h0M522.3 107.4h0M480.3 112.3h0M524.7 129.6h0M537.9 125.0h0M511.0 118.9h0M504.1 131.6h0M432.6 145.9h0M528.7 26.9h0M446.4 80.1h0M508.8 58.6h0M523.8 125.7h0M461.8 132.8h0M510.2 42.8h0M446.3 139.3h0M489.1 109.2h0M461.8 87.6h0M534.9 90.7h0M531.0 127.9h0M525.6 37.7h0M479.4 31.5h0M501.7 54.8h0M492.1 134.2h0M462.1 120.8h0M511.9 36.9h0M468.5 79.7h0M488.5 135.5h0M494.7 127.7h0M472.9 81.3h0M493.6 131.2h0M475.8 129.7h0M515.5 65.8h0M453.8 112.9h0M470.6 44.4h0M500.2 110.3h0M497.8 84.8h0M493.4 126.8h0M522.5 40.6h0M465.1 119.4h0M453.0 68.9h0M477.5 119.0h0M478.2 141.6h0M437.1 132.9h0M479.9 121.4h0M480.9 116.8h0M477.0 47.9h0M489.7 71.5h0M508.9 42.1h0M456.5 110.4h0M537.9 144.3h0M458.2 138.4h0M481.7 131.6h0M470.8 51.4h0M493.5 32.2h0M468.9 126.4h0M465.3 128.2h0M451.9 155.3h0M467.6 55.8h0M498.1 105.3h0M511.9 136.7h0M499.2 82.9h0M513.7 114.7h0M482.1 90.0h0M503.5 122.3h0M513.0 119.3h0M453.8 120.5h0M470.1 119.6h0M505.5 51.9h0M471.7 119.7h0M483.4 79.4h0M518.9 128.7h0M529.9 50.5h0M480.3 113.9h0M548.8 47.9h0M523.0 85.6h0M476.0 93.2h0M469.1 118.8h0M494.5 124.3h0M424.9 94.0h0M471.1 113.1h0M509.8 71.5h0M485.3 100.3h0M462.4 126.5h0M445.4 120.0h0M513.6 89.6h0M549.5 63.2h0M492.6 83.2h0M494.7 139.8h0M479.3 118.1h0M449.7 125.0h0M499.9 62.5h0M485.9 125.3h0M489.7 132.2h0M480.5 86.0h0M469.8 141.7h0M470.0 125.2h0M455.4 157.3h0M493.9 65.2h0M484.3 60.8h0M442.9 145.9h0M469.9 23.6h0M492.3 36.1h0M493.0 138.3h0M450.4 91.9h0M475.9 107.8h0M508.6 139.1h0M461.8 95.4h0M446.7 88.8h0M480.4 120.4h0M519.0 109.9h0M491.9 58.3h0M475.2 148.1h0M538.4 98.7h0M479.7 60.0h0M455.5 74.0h0M514.8 121.5h0M508.0 112.4h0M448.0 134.1h0M448.0 121.1h0M452.0 69.6h0M464.7 94.7h0M430.0 170.3h0M439.9 79.4h0M532.4 40.9h0M521.1 90.7h0M460.7 124.6h0M495.2 54.0h0M492.5 47.5h0M487.8 112.3h0M471.2 54.9h0M490.9 149.2h0M554.9 88.6h0M507.3 129.4h0M426.5 154.4h0M453.8 137.3h0M528.7 132.7h0M430.3 99.0h0M482.5 121.3h0M491.5 35.2h0M491.7 102.2h0M496.6 74.3h0M514.2 65.1h0M461.2 114.7h0M499.9 41.5h0M478.4 140.2h0M501.7 124.7h0M504.7 126.8h0M494.2 15.0h0M511.2 60.4h0M469.2 107.0h0M474.2 56.7h0M490.7 113.5h0M447.2 99.2h0M500.3 94.9h0M510.7 138.6h0M475.1 147.4h0M494.4 138.8h0M478.8 136.5h0M554.0 77.9h0M511.9 79.9h0M519.5 130.9h0M484.7 73.2h0M481.4 126.1h0M524.1 74.4h0M501.9 122.1h0M528.9 128.9h0M522.3 132.5h0M495.9 135.3h0M420.2 119.7h0M497.4 119.1h0M479.9 39.5h0M475.9 83.5h0M440.7 138.7h0M507.7 106.0h0M502.4 119.7h0M482.4 133.2h0M510.9 134.3h0M526.3 113.1h0M482.2 123.6h0M503.4 86.2h0M480.5 128.2h0M522.6 67.0h0M491.9 42.6h0M440.9 128.1h0M440.5 109.1h0M466.5 149.4h0M523.9 82.1h0M509.8 31.0h0M493.9 137.1h0M490.4 122.1h0M500.9 136.9h0M518.9 65.9h0M540.7 129.7h0M450.6 93.2h0M496.3 123.1h0M467.4 132.3h0M477.5 53.4h0M458.2 102.4h0M491.9 130.0h0M545.6 100.8h0M512.7 15.1h0M504.1 114.9h0M534.1 98.7h0M505.0 109.2h0M443.1 145.5h0M473.9 79.9h0M519.4 42.5h0M468.1 71.5h0M483.0 129.4h0M519.1 116.2h0M479.8 146.2h0M452.5 148.2h0M473.6 46.6h0M457.1 137.4h0M453.4 118.7h0M460.8 127.3h0M528.8 124.4h0M503.0 118.5h0M515.0 85.7h0M531.4 94.5h0M542.8 35.5h0M454.2 80.9h0M487.3 70.8h0M501.9 71.2h0M465.0 136.5h0M486.5 69.9h0M500.4 127.7h0M535.1 52.8h0M439.4 148.4h0M529.5 110.7h0M478.3 35.3h0M516.5 127.1h0M461.8 130.4h0M494.2 132.9h0M471.7 136.8h0M496.6 66.8h0M527.2 70.8h0M425.2 129.8h0M495.2 65.9h0M500.8 95.5h0M481.3 131.0h0M493.6 23.3h0M451.8 173.3h0M486.9 110.2h0M544.6 102.5h0M461.2 123.2h0M472.0 100.5h0M480.1 130.8h0M509.0 73.4h0M530.0 85.4h0M506.0 126.9h0M522.1 123.0h0M436.7 139.9h0M497.9 65.6h0M472.3 137.9h0M539.3 30.2h0M479.2 33.2h0M443.0 91.6h0M456.1 87.3h0M521.2 15.2h0M494.1 82.2h0M530.3 41.1h0M509.0 121.7h0M481.7 47.7h0M514.0 40.5h0M466.6 117.7h0M489.2 126.7h0M458.9 85.7h0M495.1 110.9h0M494.8 28.8h0M465.5 71.3h0M497.6 114.2h0M476.3 119.0h0M428.8 120.7h0M522.9 36.4h0M526.4 38.4h0M488.8 116.8h0M550.3 98.5h0M470.6 187.2h0M452.2 116.6h0M484.4 94.1h0M523.0 124.2h0M528.2 173.0h0M490.2 120.0h0M498.5 117.5h0M479.2 94.9h0M495.7 61.8h0M478.8 92.9h0M541.6 84.8h0M516.4 80.9h0M472.8 115.1h0M462.7 132.7h0M424.4 162.3h0M461.1 85.0h0M524.5 58.5h0M468.9 136.6h0M505.2 39.3h0M486.1 121.6h0M458.4 125.8h0M487.4 120.1h0M493.0 63.6h0M469.0 112.3h0M506.4 143.0h0M461.8 123.5h0M479.2 132.4h0M488.6 108.7h0M486.5 51.2h0M454.1 122.3h0M520.8 55.5h0M469.1 98.0h0M487.8 133.6h0M532.1 59.9h0M490.0 119.2h0M472.6 105.5h0M505.6 126.2h0M427.6 129.5h0M499.0 53.2h0M496.7 37.1h0M434.2 127.9h0M518.5 99.1h0M533.3 45.1h0M504.1 34.1h0M500.3 126.2h0M465.6 108.2h0M504.6 67.7h0M522.4 121.0h0M524.2 119.2h0M537.6 58.7h0M528.4 90.5h0M497.0 102.8h0M454.4 116.2h0M487.9 127.4h0M498.5 71.5h0M514.6 68.1h0M488.1 72.2h0M460.1 75.5h0M503.7 126.7h0M512.6 70.8h0M497.2 95.5h0M484.5 111.8h0M489.0 140.3h0M493.8 141.8h0M481.6 60.5h0M528.7 128.1h0M509.8 65.0h0M501.8 123.1h0M453.3 143.8h0M504.5 117.4h0M578.5 84.6h0M452.7 97.6h0M512.5 112.0h0M442.5 130.8h0M452.2 80.9h0M521.5 118.7h0M463.9 164.2h0M449.0 154.4h0M478.1 131.2h0M507.4 114.6h0M427.5 122.6h0M499.3 70.2h0M481.5 124.6h0M497.1 127.2h0M482.4 116.1h0M496.9 16.6h0M466.6 46.5h0M480.0 119.1h0M470.9 125.3h0M524.6 66.4h0M480.8 104.6h0M502.3 73.7h0M506.6 140.4h0M552.9 103.8h0M514.3 111.4h0M454.5 84.0h0M463.2 119.7h0M491.7 37.6h0M507.1 144.7h0M511.4 127.9h0M471.7 151.1h0M486.0 74.3h0M520.4 28.7h0M493.7 125.4h0M484.3 115.4h0M518.5 100.7h0M491.5 106.0h0M457.5 111.2h0M457.4 163.9h0M509.4 127.5h0M516.6 69.8h0M473.6 110.6h0M496.7 112.7h0M513.7 70.2h0M496.1 108.3h0M435.1 149.0h0M552.2 130.8h0M514.2 78.2h0M539.4 49.4h0M494.2 113.8h0M514.4 106.7h0M451.8 92.6h0M543.7 97.8h0M501.3 127.8h0M455.1 143.0h0M485.4 122.4h0M476.3 79.9h0M516.5 120.2h0M500.4 33.9h0M497.4 90.8h0M490.2 49.8h0M518.0 116.3h0M472.4 72.4h0M530.6 63.8h0M470.2 135.0h0M485.0 56.2h0M500.6 106.0h0M525.1 43.8h0M482.3 75.0h0M507.1 112.8h0M496.7 148.6h0M497.7 62.0h0M437.9 135.4h0M511.5 109.7h0M481.9 121.4h0M457.6 77.2h0M487.1 136.2h0M460.5 152.1h0M471.1 111.7h0M535.7 23.6h0M431.8 134.6h0M481.9 113.9h0M473.4 78.2h0M476.0 109.7h0M464.2 149.8h0M545.8 101.7h0M490.3 45.5h0M516.8 119.9h0M504.7 137.5h0M505.7 41.2h0M553.5 76.0h0M459.7 144.6h0M455.6 165.4h0M502.9 81.2h0M498.4 115.6h0M480.6 129.9h0M470.5 91.5h0M517.7 61.1h0M481.8 103.9h0M541.5 89.2h0M494.5 128.3h0M503.7 137.9h0M424.4 138.0h0M542.4 109.5h0M481.1 66.2h0M523.4 121.8h0M482.1 134.4h0M494.1 76.9h0M476.5 51.4h0M501.4 119.8h0M433.9 133.5h0M486.3 141.7h0M484.9 134.7h0M480.4 66.0h0M470.9 134.0h0M460.9 116.6h0M535.0 54.7h0M517.1 63.5h0M505.8 123.8h0M466.6 110.9h0M465.5 107.9h0M500.1 59.6h0M436.1 124.3h0M415.5 157.0h0M494.1 124.6h0M496.5 112.3h0M483.9 108.1h0M517.6 105.2h0M445.6 135.4h0M445.2 113.7h0M469.3 114.3h0M478.5 135.8h0M525.1 131.7h0M551.1 89.9h0M494.1 104.3h0M551.3 102.9h0M474.4 79.6h0M480.0 56.4h0M523.0 67.6h0M433.4 85.9h0M503.4 121.3h0M533.1 42.9h0M429.1 129.4h0M487.9 124.9h0M527.8 138.1h0M495.5 150.3h0M516.4 37.3h0M504.8 145.7h0M515.6 114.9h0M486.8 92.0h0M474.3 51.5h0M415.3 118.1h0M485.7 140.4h0M503.2 64.3h0M450.1 132.0h0M504.9 71.1h0M465.7 129.5h0M471.5 46.0h0M492.4 127.2h0M494.5 132.7h0M506.6 140.7h0M490.1 42.2h0M487.2 125.1h0M497.9 123.1h0M457.5 135.1h0M507.0 105.0h0M548.1 121.3h0M479.4 112.7h0M481.5 127.5h0M503.4 137.7h0M465.0 132.2h0M496.3 99.7h0M466.3 99.3h0M493.2 124.8h0M444.7 90.6h0M446.2 124.4h0M541.3 134.7h0M475.4 69.1h0M441.1 138.5h0M508.1 68.6h0M495.0 86.5h0M500.0 118.4h0M471.2 113.9h0M470.5 105.7h0M461.0 125.3h0M471.9 96.0h0M501.5 101.6h0M500.1 127.7h0M493.1 54.5h0M514.9 44.5h0M485.0 50.1h0M468.7 79.3h0M455.9 141.5h0M510.3 108.9h0M514.8 131.4h0M469.6 127.3h0M465.9 45.3h0M481.4 132.8h0M513.6 85.8h0M486.1 74.3h0M450.6 157.3h0M527.0 132.2h0M464.5 53.0h0M529.1 107.5h0M482.6 121.6h0M503.3 58.1h0M515.6 125.6h0M543.8 95.9h0M486.1 86.6h0M466.5 85.7h0M469.1 119.1h0M447.2 164.7h0M438.8 95.1h0M538.4 82.2h0M515.5 137.4h0M460.3 69.3h0M498.0 74.3h0M476.1 117.5h0M514.3 131.8h0M460.0 135.7h0M477.4 73.7h0M519.7 46.3h0M490.9 62.8h0M469.9 46.1h0M492.9 129.0h0M466.8 96.0h0M499.0 34.6h0M493.9 136.0h0M482.2 70.2h0M541.5 67.7h0M474.0 131.7h0M440.5 118.1h0M484.0 61.8h0M505.0 135.3h0M527.9 61.6h0M518.5 125.0h0M470.1 125.1h0M481.0 144.3h0M426.0 119.7h0M473.7 109.6h0M522.5 110.8h0M438.7 96.8h0M503.5 135.4h0M461.5 83.6h0M462.1 47.5h0M492.1 125.3h0M454.1 67.4h0M465.6 118.7h0M491.0 61.6h0M451.8 125.1h0M464.2 64.1h0M457.0 122.7h0M479.8 69.1h0M458.5 146.7h0M535.8 113.0h0M509.2 132.6h0M478.3 124.0h0M514.3 109.3h0M519.8 83.7h0M497.4 91.7h0M519.6 68.6h0M466.2 128.7h0M428.1 172.5h0M524.5 122.9h0M472.2 94.0h0M523.9 83.8h0M439.9 84.0h0M492.0 126.7h0M483.6 78.4h0M526.7 142.2h0M482.8 40.5h0M471.6 116.7h0M500.6 110.7h0M481.8 112.2h0M480.2 140.5h0M507.7 52.2h0M511.8 113.9h0M499.3 79.9h0M522.0 111.6h0M476.2 65.2h0M509.4 89.2h0M527.1 99.8h0M438.2 138.3h0M491.4 34.7h0M505.8 113.9h0M452.8 115.9h0M513.1 82.6h0M462.4 143.1h0M529.5 123.5h0M490.3 127.0h0M433.4 109.3h0M480.7 139.6h0M491.0 77.9h0M514.5 130.8h0M470.4 81.2h0M457.4 117.0h0M484.5 82.0h0M483.6 96.4h0M518.6 64.9h0M514.5 116.2h0M445.4 81.2h0M493.3 113.3h0M441.5 94.0h0M519.8 139.9h0M450.1 110.3h0M503.4 109.7h0M497.4 121.4h0M506.9 130.0h0M450.4 91.3h0M460.4 141.7h0M478.4 135.9h0M517.8 38.9h0M500.8 49.1h0M468.3 79.5h0M516.3 129.4h0M512.3 128.5h0M423.6 112.3h0M447.5 157.0h0M489.9 102.8h0M479.4 99.8h0M480.3 74.9h0M472.4 90.1h0M463.8 29.7h0M476.9 142.1h0M517.5 64.1h0M440.9 178.2h0M483.9 107.9h0M455.4 67.6h0M495.1 42.6h0M524.8 139.1h0M485.0 122.4h0M458.2 107.9h0M466.0 79.0h0M478.0 68.9h0M469.5 108.1h0M454.0 92.8h0M492.4 47.2h0M485.1 107.0h0M501.7 62.4h0M439.9 141.0h0M524.2 99.8h0M544.1 30.4h0M423.8 102.7h0M504.8 109.5h0M435.4 146.6h0M505.1 135.6h0M470.4 137.0h0M532.5 118.4h0M481.2 128.4h0M517.5 14.3h0M458.1 85.4h0M522.2 82.4h0M488.3 64.6h0M475.7 154.1h0M475.2 94.4h0M478.3 124.9h0M482.5 122.3h0M479.6 109.1h0M458.7 133.9h0M468.5 111.0h0M428.8 158.1h0M504.4 44.6h0M462.2 142.5h0M462.5 73.0h0M532.2 105.8h0M522.2 120.3h0M490.7 90.5h0M445.3 138.4h0M508.8 133.3h0M444.8 92.4h0M508.9 61.0h0M466.6 53.4h0M461.1 137.9h0M484.9 103.1h0M463.2 70.1h0M499.1 144.5h0M484.5 85.1h0M477.2 80.0h0M474.3 99.1h0M510.6 119.9h0M426.7 93.5h0M468.4 124.0h0M452.3 108.0h0M483.3 122.7h0M479.5 123.5h0M541.2 144.2h0M475.8 122.3h0M511.6 68.2h0M466.7 129.2h0M461.9 136.8h0M472.1 148.5h0M483.9 85.6h0M443.5 117.6h0M457.3 127.2h0M482.7 100.4h0M464.4 125.9h0M523.0 132.2h0M513.4 113.5h0M460.0 129.9h0M462.7 98.8h0M496.7 83.5h0M484.6 62.6h0M507.8 129.6h0M514.5 51.1h0M477.6 55.1h0M537.3 45.7h0M431.1 92.1h0M448.0 105.3h0M503.8 120.4h0M456.9 74.5h0M497.6 29.3h0M540.8 45.7h0M488.9 91.2h0M515.2 63.2h0M473.9 115.5h0M525.7 115.1h0M538.3 75.5h0M438.3 103.3h0M446.4 155.2h0M460.8 107.0h0M513.9 83.9h0M460.3 135.9h0M463.6 129.0h0M485.2 54.4h0M471.7 100.4h0M495.5 129.0h0M492.2 143.5h0M492.7 74.6h0M490.8 123.1h0M509.8 127.0h0M492.1 116.0h0M543.0 92.7h0M494.2 124.3h0M480.3 76.8h0M464.5 125.6h0M514.1 62.7h0M482.9 117.4h0M481.8 143.0h0M456.5 64.0h0M442.9 117.5h0M454.3 45.2h0M509.2 48.4h0M484.4 103.5h0M511.7 125.7h0M488.3 120.6h0M508.0 75.2h0M475.3 42.5h0M480.9 129.1h0M506.0 115.5h0M492.2 139.2h0M538.7 125.7h0M476.7 66.6h0M518.7 110.3h0M481.4 122.2h0M483.1 70.7h0M515.2 121.8h0M421.7 151.9h0M475.5 78.3h0M506.7 110.1h0M467.3 118.4h0M470.8 52.8h0M466.2 139.7h0M534.6 22.9h0M506.9 112.9h0M492.4 133.9h0M544.4 56.9h0M496.4 58.3h0M491.3 64.3h0M465.9 119.2h0M510.9 123.2h0M472.2 43.7h0M526.6 97.0h0M471.7 125.1h0M554.4 61.4h0M511.3 125.1h0M438.6 69.7h0M522.1 82.6h0M485.7 120.0h0M475.4 99.0h0M475.4 118.5h0M437.4 91.9h0M514.1 126.8h0M534.8 37.1h0M492.8 58.2h0M493.9 137.0h0M475.0 113.1h0M527.0 87.4h0M456.4 129.0h0M503.2 125.8h0M485.0 105.3h0M479.1 124.7h0M499.8 35.5h0M510.5 132.7h0M528.7 67.0h0M498.4 115.8h0M491.9 70.1h0M549.9 82.4h0M529.7 127.5h0M498.0 57.1h0M508.8 121.6h0M546.9 136.4h0M521.4 36.4h0M485.1 49.0h0M477.9 60.6h0M478.4 139.0h0M479.9 105.8h0M471.1 75.2h0M485.9 44.9h0M493.0 136.6h0M473.0 122.6h0M485.6 74.5h0M511.7 119.0h0M431.2 118.9h0M449.0 113.4h0M487.2 125.0h0M466.3 126.9h0M540.3 66.5h0M455.6 103.6h0M498.9 116.4h0M475.6 132.7h0M462.8 122.3h0M492.8 75.0h0M452.9 125.4h0M486.6 68.6h0M468.2 73.8h0M476.3 150.7h0M446.8 135.4h0M493.1 128.2h0M476.4 71.1h0M519.4 16.3h0M481.4 54.0h0M491.0 127.5h0M524.9 23.0h0M464.3 134.4h0M487.0 123.5h0M483.8 121.2h0M435.6 72.6h0M431.4 70.6h0M547.0 57.1h0M501.4 122.8h0M473.3 137.3h0M519.7 124.9h0M415.2 157.2h0M511.6 31.9h0M472.5 41.0h0M555.8 80.7h0M508.1 19.3h0M508.7 94.1h0M508.4 167.3h0M505.3 132.2h0M452.9 93.9h0M456.9 96.8h0M465.1 106.3h0M492.7 124.2h0M504.5 120.8h0M505.2 101.7h0M451.5 169.3h0M488.6 141.9h0M493.1 71.1h0M487.0 122.3h0M520.5 112.3h0M467.5 95.2h0M469.2 116.7h0M537.8 24.4h0M505.1 31.5h0M460.5 129.9h0M484.9 126.3h0M469.5 145.0h0M424.2 96.0h0M511.0 120.1h0M523.9 127.3h0M468.2 59.1h0M451.0 113.8h0M461.4 140.8h0M454.0 137.0h0M494.2 74.2h0M503.1 58.8h0M532.2 137.7h0M538.0 48.9h0M458.9 138.2h0M500.9 131.4h0M501.0 60.0h0M522.1 89.5h0M449.5 95.3h0M530.2 104.0h0M487.2 139.1h0M537.6 109.0h0M495.0 123.2h0M483.4 108.1h0M484.8 144.7h0M503.4 91.4h0M527.4 68.4h0M514.3 33.5h0M461.1 99.9h0M506.2 59.7h0M537.6 144.7h0M543.3 88.0h0M488.6 55.2h0M461.4 33.0h0M476.0 68.7h0M509.6 130.2h0M539.9 43.5h0M498.7 54.5h0M463.5 133.0h0M484.7 141.9h0M529.3 138.5h0M464.5 133.1h0M518.3 137.8h0M515.3 103.6h0M507.2 137.6h0M520.6 110.6h0M487.6 133.3h0M510.4 130.9h0M521.3 19.2h0M533.9 58.5h0M464.4 54.3h0M464.4 58.7h0M477.7 131.4h0M504.8 56.9h0M550.2 123.6h0M465.3 119.9h0M466.0 75.7h0M475.7 137.4h0M446.9 113.0h0M440.7 81.0h0M568.4 89.8h0M480.8 113.6h0M486.6 107.3h0M492.8 48.6h0M541.4 113.4h0M432.6 88.9h0M534.4 77.4h0M536.4 69.6h0M461.5 56.9h0M523.0 84.7h0M486.1 121.3h0M426.2 172.3h0M543.2 51.3h0M493.7 148.0h0M519.3 111.4h0M448.2 145.1h0M465.2 122.5h0M504.7 65.6h0M473.2 24.1h0M507.5 124.1h0M472.6 92.3h0M501.2 126.8h0M463.6 127.3h0M487.5 126.6h0M502.5 95.3h0M492.5 123.5h0M514.1 120.2h0M452.2 141.7h0M508.3 25.2h0M538.1 122.2h0M532.3 135.8h0M452.7 110.2h0M478.4 113.5h0M467.3 109.8h0M501.2 24.8h0M532.5 71.8h0M480.8 98.0h0M492.6 165.9h0M464.7 106.6h0M494.8 94.8h0M494.5 115.6h0M500.5 125.1h0M447.1 83.3h0M512.8 32.1h0M441.2 137.0h0M549.9 97.2h0M443.0 95.1h0M557.4 90.6h0M492.5 101.2h0M464.0 110.3h0M519.5 87.8h0M460.2 136.7h0M439.1 141.5h0M467.2 112.2h0M499.4 95.6h0M550.7 119.7h0M514.0 117.6h0M421.5 153.7h0M532.5 58.9h0M534.0 107.5h0M482.9 48.7h0M477.1 76.0h0M502.5 109.5h0M482.3 113.0h0M422.9 110.3h0M527.9 54.1h0M447.9 72.1h0M507.0 44.0h0M544.5 53.5h0M425.6 160.3h0M488.8 67.1h0M498.6 123.7h0M437.6 126.7h0M452.3 122.4h0M417.2 145.0h0M458.4 89.9h0M462.6 135.6h0M470.3 123.5h0M529.7 27.3h0M498.3 106.7h0M456.1 116.8h0M518.2 130.0h0M472.5 118.6h0M474.0 101.2h0M488.1 118.2h0M488.0 142.9h0M489.6 129.3h0M514.6 81.7h0M500.9 60.0h0M431.1 123.2h0M475.8 111.4h0M469.2 148.3h0M541.6 93.7h0M464.1 133.5h0M431.6 148.0h0M468.3 59.0h0M470.3 143.6h0M454.1 76.2h0M502.7 109.3h0M439.0 104.4h0M480.7 75.5h0M461.7 146.4h0M480.9 76.0h0M498.2 118.8h0M481.0 92.5h0M479.7 74.6h0M507.7 134.0h0M458.2 145.4h0M463.0 78.8h0M501.2 74.7h0M447.0 145.8h0M468.1 94.4h0M486.4 27.5h0M470.1 127.2h0M505.0 136.5h0M531.4 124.3h0M534.2 44.8h0M479.2 126.2h0M512.2 39.7h0M505.0 13.4h0M477.4 127.9h0M496.0 101.9h0M469.1 32.0h0M510.1 131.6h0M457.3 52.9h0M523.6 38.6h0M421.5 165.2h0M464.2 131.8h0M532.7 142.6h0M470.6 67.4h0M443.6 85.1h0M473.8 114.5h0M464.5 110.5h0M521.3 114.1h0M513.4 111.7h0M481.4 131.2h0M481.3 43.9h0M459.2 93.1h0M499.7 22.1h0M516.7 128.9h0M423.3 161.9h0M449.5 98.5h0M478.8 134.8h0M494.1 140.8h0M482.5 122.5h0M516.1 131.9h0M534.7 88.7h0M484.3 121.5h0M493.3 109.9h0M470.1 129.2h0M453.9 120.5h0M463.9 85.1h0M465.6 123.6h0M487.6 62.3h0M504.8 28.8h0M424.9 136.7h0M519.9 27.5h0M453.5 140.0h0M541.4 67.7h0M455.6 132.3h0M471.2 94.1h0M529.9 118.2h0M470.6 124.7h0M476.7 73.1h0M512.7 122.9h0M456.8 129.6h0M466.7 150.2h0M487.6 116.0h0M477.1 133.3h0M484.6 139.3h0M484.8 149.3h0M465.1 143.2h0M476.5 84.7h0M505.0 129.7h0M469.3 132.5h0M515.1 128.3h0M510.6 130.1h0M520.1 131.5h0M540.2 37.9h0M457.0 118.4h0M545.0 56.4h0M427.8 137.0h0M450.7 152.1h0M505.6 102.2h0M495.4 57.6h0M486.4 48.8h0M438.8 128.3h0M463.9 82.6h0M493.1 131.6h0M451.1 137.2h0M508.2 60.3h0M485.1 136.3h0M490.3 52.7h0M525.0 142.8h0M513.0 119.5h0M475.1 131.3h0M464.4 134.1h0M426.8 120.6h0M525.9 29.0h0M525.7 47.7h0M447.0 172.6h0M508.8 118.4h0M490.4 122.4h0M547.4 96.7h0M510.0 126.0h0M473.5 89.9h0M531.2 48.1h0M478.8 55.8h0M476.9 124.2h0M467.6 151.6h0M539.7 100.3h0M511.4 111.9h0M489.8 113.4h0M513.5 33.1h0M508.8 130.2h0M508.5 85.2h0M448.6 137.3h0M466.6 133.0h0M539.5 31.3h0M476.4 97.7h0M506.3 65.0h0M459.0 115.4h0M497.7 131.1h0M495.7 142.0h0M448.9 141.9h0M523.7 51.5h0M496.8 44.0h0M506.9 74.7h0M505.5 125.0h0M453.0 120.2h0M448.8 130.1h0M442.3 140.8h0M493.1 143.5h0M484.3 77.3h0M454.6 120.6h0M468.0 70.5h0M490.9 84.7h0M499.5 38.8h0M439.2 118.3h0M485.4 45.6h0M542.0 78.3h0M515.4 83.6h0M528.6 30.6h0M535.7 26.3h0M478.9 136.4h0M454.1 142.3h0M529.3 118.2h0M513.8 42.7h0M523.0 124.6h0M520.6 105.9h0M477.4 143.2h0M507.9 99.6h0M516.4 48.8h0M504.5 56.1h0M510.7 92.4h0M491.5 53.2h0M537.0 121.9h0M487.3 120.9h0M523.9 137.7h0M499.1 130.3h0M453.3 124.1h0M507.6 95.0h0M476.8 69.2h0M507.6 104.4h0M464.5 69.2h0M528.8 139.0h0M473.1 106.0h0M507.2 75.3h0M492.5 49.6h0M512.2 124.6h0M520.6 132.8h0M446.7 158.1h0M551.0 107.2h0M500.2 141.4h0M487.4 67.6h0M495.1 133.4h0M520.2 54.3h0M521.6 89.5h0M470.8 115.8h0M453.2 94.0h0M527.1 98.2h0M552.1 110.9h0M533.7 118.3h0M533.0 66.4h0M475.4 58.7h0M487.0 123.1h0M470.5 84.1h0M452.6 161.4h0M520.5 37.2h0M499.9 25.8h0M458.9 87.8h0M466.2 109.1h0M445.9 110.3h0M437.4 103.8h0M469.3 85.9h0M494.3 68.9h0M479.0 121.8h0M475.5 131.8h0M505.7 123.4h0M445.8 122.1h0M536.3 124.0h0M492.3 33.9h0M538.5 99.6h0M482.4 67.8h0M443.5 120.7h0M501.8 136.3h0M535.1 99.9h0M481.5 80.8h0M523.3 33.2h0M526.2 125.2h0M507.9 43.9h0M475.7 56.4h0M544.8 60.9h0M501.8 69.7h0M438.5 90.4h0M434.0 166.5h0M460.3 116.1h0M501.3 126.0h0M434.6 120.6h0M463.6 142.6h0M435.7 123.2h0M525.7 106.8h0M520.7 115.8h0M471.4 110.8h0M481.8 122.3h0M467.6 59.1h0M430.0 107.5h0M469.7 148.1h0M431.3 116.0h0M478.0 87.7h0M454.8 95.9h0M507.8 108.6h0M470.0 113.6h0M532.9 124.1h0M467.0 106.6h0M533.4 64.8h0M520.6 136.1h0M484.0 21.5h0M450.5 92.2h0M512.2 110.7h0M496.0 55.2h0M462.7 118.3h0M437.0 133.1h0M450.0 136.2h0M486.8 66.0h0M455.1 118.8h0M526.1 124.2h0M503.9 118.0h0M472.5 141.4h0M464.9 133.0h0M491.6 86.6h0M462.3 108.8h0M430.2 109.0h0M468.9 135.8h0M500.8 122.2h0M488.7 62.3h0M450.1 54.4h0M476.2 37.5h0M503.2 134.3h0M474.2 53.2h0M430.9 139.0h0M475.8 59.0h0M485.4 135.3h0M438.4 111.3h0M487.7 136.2h0M457.0 89.2h0M504.7 116.0h0M464.6 127.9h0M463.4 128.7h0M483.6 132.6h0M498.6 106.8h0M440.7 120.5h0M503.0 125.7h0M456.7 84.9h0M495.5 50.4h0M524.2 86.3h0M477.1 123.9h0M515.2 59.6h0M472.6 132.9h0M512.8 66.1h0M471.9 115.6h0M470.6 134.5h0M507.9 122.5h0M513.9 120.2h0M509.2 113.4h0M498.1 115.9h0M513.7 116.3h0M477.4 129.3h0M479.8 135.1h0M469.2 138.2h0M456.9 132.3h0M489.8 70.9h0M464.4 95.2h0M446.0 147.2h0M490.7 70.6h0M515.6 91.4h0M470.9 116.2h0M513.8 37.5h0M543.0 101.5h0M454.2 73.9h0M468.3 130.5h0M471.4 85.6h0M476.9 116.0h0M480.8 70.6h0M468.6 117.3h0M546.5 106.7h0M495.2 22.5h0M462.5 100.5h0M488.6 89.6h0M546.5 99.6h0M451.9 81.9h0M528.7 93.9h0M499.3 63.7h0M460.7 112.2h0M476.8 94.4h0M472.8 126.1h0M506.3 57.3h0M445.2 145.6h0M529.0 96.3h0M501.4 130.9h0M557.6 67.5h0M536.5 60.1h0M494.0 99.0h0M545.0 110.5h0M482.3 151.2h0M465.6 73.5h0M443.1 128.2h0M490.3 56.4h0M505.2 64.7h0M461.5 95.8h0M450.3 143.0h0M528.9 46.5h0M468.2 115.3h0M528.3 140.4h0M446.7 99.9h0M542.6 89.5h0M502.5 126.6h0M477.0 52.6h0M499.5 90.4h0M501.6 119.9h0M516.0 127.5h0M460.6 101.0h0M536.3 123.9h0M480.0 123.8h0M468.2 110.0h0M478.6 121.4h0M468.6 65.6h0M439.2 94.5h0M476.9 49.2h0M452.3 104.6h0M465.5 163.1h0M529.0 38.4h0M462.0 118.2h0M484.8 69.2h0M486.2 98.1h0M547.2 98.8h0M490.3 57.8h0M523.6 71.3h0M501.7 96.3h0M517.7 111.5h0M498.1 75.6h0M522.7 90.7h0M543.5 45.7h0M459.5 86.4h0M459.1 72.8h0M496.3 127.5h0M502.3 123.2h0M505.7 134.8h0M476.0 68.5h0M433.1 122.7h0M481.4 92.3h0M489.2 122.5h0M455.7 123.2h0M480.6 92.7h0M473.3 152.0h0M523.0 141.9h0M494.5 47.4h0M451.0 115.3h0M506.7 147.3h0M505.6 68.6h0M490.9 84.9h0M498.4 112.4h0M450.6 126.1h0M519.6 130.7h0M545.2 49.2h0M473.5 31.9h0M459.4 129.3h0M565.1 45.8h0M515.0 127.2h0M448.2 112.7h0M529.2 55.6h0M453.7 81.0h0M541.6 111.2h0M445.3 126.7h0M496.4 33.6h0M512.5 117.4h0M527.1 118.7h0M487.3 23.8h0M502.8 88.4h0M513.9 124.0h0M481.8 78.0h0M475.1 98.4h0M520.2 24.6h0M452.7 137.8h0M489.0 104.9h0M522.8 123.5h0M509.4 78.9h0M475.3 85.6h0M453.9 82.8h0M465.4 138.8h0M440.8 101.7h0M507.5 63.8h0M456.5 124.9h0M462.4 120.0h0M456.0 138.4h0M464.4 74.2h0M511.4 64.2h0M443.7 124.2h0M512.7 127.8h0M477.4 126.2h0M477.5 139.0h0M498.3 127.9h0M481.9 100.3h0M497.2 67.0h0M514.1 107.5h0M467.9 136.6h0M474.3 65.7h0M538.6 66.7h0M465.8 133.4h0M470.7 60.7h0M479.8 132.2h0M500.6 125.7h0M496.0 115.4h0M453.9 79.4h0M511.1 124.1h0M458.6 139.1h0M518.1 48.6h0M463.2 134.5h0M452.8 72.3h0M497.2 127.8h0M516.6 32.0h0M468.1 135.6h0M494.8 128.0h0M503.1 130.3h0M465.8 106.0h0M535.0 66.5h0M473.6 136.0h0M445.0 96.9h0M535.7 73.0h0M523.8 134.0h0M481.7 88.7h0M455.3 68.3h0M463.1 106.5h0M495.1 91.2h0M534.7 121.3h0M463.9 132.2h0M507.5 136.3h0M454.1 79.6h0M456.7 124.5h0M493.3 104.8h0M523.0 116.0h0M502.5 139.6h0M483.4 132.1h0M447.8 125.8h0M476.4 136.0h0M451.9 60.0h0M516.5 129.7h0M492.4 105.4h0M490.2 112.2h0M468.1 55.9h0M426.5 116.0h0M461.7 157.6h0M520.4 144.4h0M495.6 109.9h0M513.4 30.6h0M447.9 117.7h0M482.2 62.4h0M496.3 147.2h0M475.9 115.1h0M505.0 34.3h0M472.9 63.6h0M500.7 79.4h0M469.5 113.7h0M487.7 120.7h0M479.6 112.7h0M454.9 59.7h0M460.0 98.0h0M538.7 128.5h0M501.5 62.5h0M466.1 129.3h0M457.6 92.9h0M442.6 137.5h0M528.4 147.3h0M476.2 122.4h0M498.8 61.4h0M467.9 94.3h0M503.1 123.9h0M519.6 22.5h0M483.8 77.7h0M448.2 133.3h0M445.2 137.4h0M502.1 34.7h0M486.8 130.7h0M456.5 153.6h0M525.1 140.8h0M424.4 91.1h0M488.9 39.5h0M468.6 133.7h0M518.8 141.4h0M501.8 111.6h0M487.8 96.6h0M513.5 66.7h0M480.0 107.6h0M481.8 146.4h0M436.7 173.4h0M467.2 141.3h0M490.5 56.3h0M449.1 135.8h0M436.3 115.7h0M513.2 120.5h0M480.2 86.5h0M517.0 63.4h0M469.2 94.4h0M463.2 144.2h0M506.1 107.7h0M489.7 124.7h0M552.0 79.8h0M458.5 85.1h0M503.8 66.3h0M426.9 156.2h0M494.1 89.7h0M494.4 128.5h0M481.8 40.8h0M473.9 69.6h0M519.9 46.8h0M502.0 137.8h0M477.0 71.5h0M493.8 131.4h0M507.0 118.4h0M484.0 63.2h0M514.3 82.0h0M446.5 127.6h0M452.0 131.4h0M520.8 52.7h0M449.4 95.9h0M514.7 32.7h0M497.0 48.1h0M448.1 153.1h0M468.1 90.3h0M484.9 85.2h0M475.9 57.7h0M453.0 95.2h0M465.7 61.1h0M534.1 55.3h0M452.5 143.1h0M447.7 77.1h0M546.8 90.6h0M415.2 150.7h0M445.4 68.4h0M467.2 84.8h0M476.3 22.0h0M456.3 50.7h0M548.0 91.6h0M486.5 70.0h0M514.3 131.9h0M517.8 34.8h0M475.5 134.0h0M487.6 73.4h0M479.4 45.7h0M458.2 130.9h0M504.4 41.8h0M520.0 141.0h0M458.7 132.1h0M456.6 137.1h0M474.0 136.7h0M489.5 77.9h0M460.4 133.1h0M450.3 108.3h0M499.8 75.5h0M490.7 58.4h0M465.5 121.2h0M405.1 137.1h0M441.0 141.3h0M486.1 73.1h0M467.8 35.7h0M425.6 144.1h0M508.4 115.3h0M506.3 61.5h0M463.4 52.3h0M538.0 135.8h0M456.4 131.1h0M473.7 28.6h0M510.9 143.1h0M465.7 134.3h0M476.7 102.8h0M508.1 25.7h0M534.9 115.6h0M508.9 48.9h0M446.8 140.7h0M481.7 80.5h0M477.8 199.3h0M471.5 102.0h0M504.4 44.4h0M450.4 91.4h0M442.6 129.4h0M447.6 127.9h0M493.2 36.5h0M446.5 124.0h0M484.7 70.6h0M458.8 61.0h0M472.9 130.1h0M509.8 96.6h0M433.0 121.2h0M521.5 116.4h0M470.3 112.0h0M449.6 104.0h0M541.7 101.8h0M485.1 85.9h0M488.4 122.4h0M449.6 115.8h0M465.4 130.5h0M480.1 136.1h0M499.9 138.3h0M501.5 38.6h0M509.2 105.5h0M503.0 128.8h0M476.5 84.3h0M426.0 118.5h0M515.1 56.9h0M512.8 14.9h0M465.6 139.8h0M457.6 142.7h0M528.7 32.1h0M520.0 69.3h0M444.9 136.5h0M487.1 117.4h0M546.4 128.3h0M476.4 80.3h0M542.2 60.3h0M469.5 134.7h0M459.4 132.6h0M526.8 38.6h0M473.5 120.8h0M484.6 89.9h0M437.8 155.2h0M464.1 139.1h0M508.8 121.1h0M487.4 126.9h0M495.1 58.2h0M517.3 88.2h0M542.1 124.0h0M510.0 34.4h0M481.8 31.3h0M423.4 139.8h0M524.5 65.4h0M497.8 21.8h0M509.1 117.0h0M494.3 137.5h0M470.5 133.7h0M449.7 65.5h0M489.5 58.3h0M532.9 123.7h0M516.3 114.2h0M506.5 118.3h0M470.6 140.8h0M502.3 116.7h0M491.9 65.7h0M502.0 61.3h0M475.2 123.6h0M461.5 118.1h0M474.6 92.3h0M465.0 137.6h0M477.7 99.6h0M519.7 14.9h0M424.3 118.9h0M485.1 144.3h0M455.5 121.8h0M504.9 76.3h0M491.6 110.3h0M513.7 71.9h0M473.8 105.9h0M464.9 83.8h0M475.5 73.0h0M508.5 74.5h0M525.5 64.0h0M463.9 124.1h0M503.4 129.9h0M515.3 63.2h0M503.3 81.6h0M429.9 156.2h0M525.5 131.9h0M516.9 120.0h0M491.3 79.6h0M469.8 78.2h0M430.2 111.3h0M499.2 113.1h0M475.5 109.5h0M439.8 112.4h0M447.6 134.3h0M520.3 94.3h0M454.6 141.3h0M499.3 72.1h0M502.5 143.3h0M514.7 135.2h0M462.3 146.8h0M462.7 144.5h0M513.9 111.6h0M483.6 131.2h0M527.4 58.7h0M449.5 160.0h0M541.9 81.9h0M481.6 108.5h0M470.0 70.7h0M542.2 42.3h0M527.3 116.6h0M463.5 127.3h0M469.3 138.9h0M529.3 106.5h0M494.8 57.7h0M515.5 70.5h0M490.1 123.5h0"/>
<path stroke="#ffa500" stroke-width="1.9" stroke-linecap="square" d="M548.8 16.6h0M509.7 42.8h0M502.1 49.1h0M499.9 57.0h0M504.7 58.2h0M484.3 59.6h0M490.4 61.8h0M489.7 64.0h0M493.4 64.3h0M496.0 63.7h0M490.4 66.9h0M486.1 69.6h0M478.8 70.1h0M479.5 72.0h0M482.4 73.5h0M484.6 74.2h0M488.2 70.6h0M493.1 70.1h0M497.0 73.5h0M504.6 75.7h0M479.5 76.9h0M499.9 79.8h0M482.4 81.2h0M483.4 87.7h0M508.7 90.6h0M537.2 76.0h0M468.9 91.3h0M468.9 98.9h0M479.3 100.8h0M483.1 87.5h0M508.7 90.4h0M446.7 106.1h0M449.0 115.0h0M445.2 122.2h0M470.8 120.3h0M496.8 116.5h0M541.0 125.5h0M482.2 80.9h0M500.6 79.0h0"/>
<path stroke="#b22222" stroke-width="1.9" stroke-linecap="square" d="M517.4 23.1h0M526.2 24.9h0M541.5 20.9h0M511.3 33.1h0M514.5 31.9h0M508.2 36.6h0M521.1 38.5h0M528.4 39.9h0M535.0 38.5h0M500.7 41.8h0M510.1 42.8h0M515.3 42.4h0M521.1 44.6h0M512.6 46.1h0M505.8 46.5h0M541.5 44.7h0M497.7 49.1h0M499.2 51.6h0M521.8 48.7h0M492.6 56.3h0M504.3 53.4h0M516.7 52.6h0M515.0 55.3h0M535.0 57.0h0M509.7 57.4h0M502.8 58.9h0M499.2 61.1h0M481.4 63.7h0M484.9 64.7h0M503.3 64.7h0M496.0 69.6h0M508.2 69.6h0M517.0 69.9h0M479.1 73.1h0M484.9 73.5h0M487.8 75.7h0M500.9 77.9h0M510.6 80.1h0M517.9 77.2h0M490.7 81.1h0M490.7 97.6h0M473.6 98.3h0M467.0 92.8h0M473.6 98.9h0M490.7 98.0h0M490.7 80.9h0M500.8 78.0h0M510.6 79.9h0M517.7 77.1h0"/>
<path stroke="#ee82ee" stroke-width="1.9" stroke-linecap="square" d="M539.8 47.2h0M545.9 46.8h0M549.6 47.7h0M529.1 55.3h0M531.3 58.2h0M534.2 60.8h0M542.3 58.2h0M543.7 58.9h0M551.8 56.0h0M539.8 53.8h0M544.5 63.7h0M540.1 65.8h0M545.9 69.6h0M543.0 69.6h0M556.9 69.1h0M561.2 69.9h0M549.6 72.8h0M538.6 74.2h0M530.6 74.2h0M526.9 68.4h0M521.8 68.4h0M521.1 72.0h0M524.7 74.2h0M529.9 78.6h0M534.2 77.9h0M540.1 76.4h0M544.5 77.2h0M538.6 81.5h0M545.9 81.5h0M547.4 81.5h0M551.8 79.3h0M556.1 81.5h0M505.8 74.2h0M501.4 77.9h0M499.9 55.3h0M504.3 71.3h0M513.8 81.5h0M507.2 84.5h0M505.0 90.0h0M525.5 93.9h0M532.0 90.3h0M523.3 80.8h0M518.2 81.5h0M506.9 84.7h0M505.5 89.8h0M506.9 101.7h0M513.5 81.8h0M524.9 93.8h0M531.9 90.4h0M523.0 80.9h0"/>
<rect x="374.5" y="7.5" width="212.5" height="196.5" fill="none" stroke="#999" stroke-width="1"/>
<text x="366.20" y="105.00" font-size="11.5" text-anchor="middle" textLength="20.1" lengthAdjust="spacingAndGlyphs" transform="rotate(-90 366.20 105.00)">PC2</text>
<text x="480.80" y="216.80" font-size="11.5" text-anchor="middle" textLength="18.5" lengthAdjust="spacingAndGlyphs">PC1</text>
<circle cx="609" cy="90.4" r="3.6" fill="#8dcff5"/>
<text x="618.40" y="94.50" font-size="12" textLength="40.3" lengthAdjust="spacingAndGlyphs">Control</text>
<circle cx="609" cy="105.6" r="3.6" fill="#f5a200"/>
<text x="618.40" y="109.70" font-size="12" textLength="17.7" lengthAdjust="spacingAndGlyphs">SIR</text>
<circle cx="609" cy="120.6" r="3.6" fill="#b22025"/>
<text x="618.40" y="124.70" font-size="12" textLength="25.5" lengthAdjust="spacingAndGlyphs">PreD</text>
<circle cx="609" cy="135.6" r="3.6" fill="#e886ea"/>
<text x="618.40" y="139.70" font-size="12" textLength="20.5" lengthAdjust="spacingAndGlyphs">T2D</text>
<text x="216.80" y="267.80" font-size="11.5" text-anchor="end" textLength="66.1" lengthAdjust="spacingAndGlyphs">T2D (<tspan font-style="italic">N</tspan> = 45)</text>
<text x="216.80" y="290.10" font-size="11.5" text-anchor="end" textLength="69.6" lengthAdjust="spacingAndGlyphs">PreD (<tspan font-style="italic">N</tspan> = 47)</text>
<text x="216.80" y="312.40" font-size="11.5" text-anchor="end" textLength="104.0" lengthAdjust="spacingAndGlyphs">Age &gt;60 (<tspan font-style="italic">N</tspan> = 1,237)</text>
<text x="216.80" y="334.70" font-size="11.5" text-anchor="end" textLength="174.8" lengthAdjust="spacingAndGlyphs">Obese and age: 40–60 (<tspan font-style="italic">N</tspan> = 123)</text>
<text x="216.80" y="357.00" font-size="11.5" text-anchor="end" textLength="126.8" lengthAdjust="spacingAndGlyphs">Age: 40–60 (<tspan font-style="italic">N</tspan> = 2,693)</text>
<text x="216.80" y="379.30" font-size="11.5" text-anchor="end" textLength="216.1" lengthAdjust="spacingAndGlyphs">Normal weight and age: 40–60 (<tspan font-style="italic">N</tspan> = 46)</text>
<text x="216.80" y="401.60" font-size="11.5" text-anchor="end" textLength="152.7" lengthAdjust="spacingAndGlyphs">SIR and age: 30–42 (<tspan font-style="italic">N</tspan> = 40)</text>
<text x="216.80" y="423.90" font-size="11.5" text-anchor="end" textLength="166.7" lengthAdjust="spacingAndGlyphs">Obese and age: 18–40 (<tspan font-style="italic">N</tspan> = 79)</text>
<text x="216.80" y="446.20" font-size="11.5" text-anchor="end" textLength="120.4" lengthAdjust="spacingAndGlyphs">Age: 18–40 (<tspan font-style="italic">N</tspan> = 1,565)</text>
<text x="216.80" y="468.50" font-size="11.5" text-anchor="end" textLength="217.3" lengthAdjust="spacingAndGlyphs">Normal weight and age: 18–40 (<tspan font-style="italic">N</tspan> = 134)</text>
<line x1="228.8" y1="263.80" x2="417.3" y2="263.80" stroke="#dcdcdc" stroke-width="1" stroke-dasharray="4 3.7"/>
<line x1="222.40" y1="263.80" x2="226.80" y2="263.80" stroke="#555" stroke-width="1"/>
<line x1="228.8" y1="286.10" x2="417.3" y2="286.10" stroke="#dcdcdc" stroke-width="1" stroke-dasharray="4 3.7"/>
<line x1="222.40" y1="286.10" x2="226.80" y2="286.10" stroke="#555" stroke-width="1"/>
<line x1="228.8" y1="308.40" x2="417.3" y2="308.40" stroke="#dcdcdc" stroke-width="1" stroke-dasharray="4 3.7"/>
<line x1="222.40" y1="308.40" x2="226.80" y2="308.40" stroke="#555" stroke-width="1"/>
<line x1="228.8" y1="330.70" x2="417.3" y2="330.70" stroke="#dcdcdc" stroke-width="1" stroke-dasharray="4 3.7"/>
<line x1="222.40" y1="330.70" x2="226.80" y2="330.70" stroke="#555" stroke-width="1"/>
<line x1="228.8" y1="353.00" x2="417.3" y2="353.00" stroke="#dcdcdc" stroke-width="1" stroke-dasharray="4 3.7"/>
<line x1="222.40" y1="353.00" x2="226.80" y2="353.00" stroke="#555" stroke-width="1"/>
<line x1="228.8" y1="375.30" x2="417.3" y2="375.30" stroke="#dcdcdc" stroke-width="1" stroke-dasharray="4 3.7"/>
<line x1="222.40" y1="375.30" x2="226.80" y2="375.30" stroke="#555" stroke-width="1"/>
<line x1="228.8" y1="397.60" x2="417.3" y2="397.60" stroke="#dcdcdc" stroke-width="1" stroke-dasharray="4 3.7"/>
<line x1="222.40" y1="397.60" x2="226.80" y2="397.60" stroke="#555" stroke-width="1"/>
<line x1="228.8" y1="419.90" x2="417.3" y2="419.90" stroke="#dcdcdc" stroke-width="1" stroke-dasharray="4 3.7"/>
<line x1="222.40" y1="419.90" x2="226.80" y2="419.90" stroke="#555" stroke-width="1"/>
<line x1="228.8" y1="442.20" x2="417.3" y2="442.20" stroke="#dcdcdc" stroke-width="1" stroke-dasharray="4 3.7"/>
<line x1="222.40" y1="442.20" x2="226.80" y2="442.20" stroke="#555" stroke-width="1"/>
<line x1="228.8" y1="464.50" x2="417.3" y2="464.50" stroke="#dcdcdc" stroke-width="1" stroke-dasharray="4 3.7"/>
<line x1="222.40" y1="464.50" x2="226.80" y2="464.50" stroke="#555" stroke-width="1"/>
<line x1="361.90" y1="263.80" x2="387.10" y2="263.80" stroke="#c9507a" stroke-width="1.0"/>
<line x1="404.30" y1="263.80" x2="409.50" y2="263.80" stroke="#c9507a" stroke-width="1.0"/>
<rect x="387.10" y="256.00" width="17.20" height="15.6" fill="#fff" stroke="#c9507a" stroke-width="1.0"/>
<line x1="399.30" y1="256.00" x2="399.30" y2="271.60" stroke="#c9507a" stroke-width="1.0"/>
<line x1="320.00" y1="286.10" x2="357.10" y2="286.10" stroke="#d95f6e" stroke-width="1.0"/>
<line x1="383.70" y1="286.10" x2="407.80" y2="286.10" stroke="#d95f6e" stroke-width="1.0"/>
<rect x="357.10" y="278.30" width="26.60" height="15.6" fill="#fff" stroke="#d95f6e" stroke-width="1.0"/>
<line x1="372.40" y1="278.30" x2="372.40" y2="293.90" stroke="#d95f6e" stroke-width="1.0"/>
<line x1="275.80" y1="308.40" x2="331.40" y2="308.40" stroke="#ee7b6a" stroke-width="1.0"/>
<line x1="369.60" y1="308.40" x2="403.90" y2="308.40" stroke="#ee7b6a" stroke-width="1.0"/>
<rect x="331.40" y="300.60" width="38.20" height="15.6" fill="#fff" stroke="#ee7b6a" stroke-width="1.0"/>
<line x1="354.60" y1="300.60" x2="354.60" y2="316.20" stroke="#ee7b6a" stroke-width="1.0"/>
<line x1="297.40" y1="330.70" x2="333.30" y2="330.70" stroke="#f4a275" stroke-width="1.0"/>
<line x1="357.40" y1="330.70" x2="385.70" y2="330.70" stroke="#f4a275" stroke-width="1.0"/>
<rect x="333.30" y="322.90" width="24.10" height="15.6" fill="#fff" stroke="#f4a275" stroke-width="1.0"/>
<line x1="346.90" y1="322.90" x2="346.90" y2="338.50" stroke="#f4a275" stroke-width="1.0"/>
<line x1="250.60" y1="353.00" x2="315.50" y2="353.00" stroke="#fbc98e" stroke-width="1.0"/>
<line x1="359.70" y1="353.00" x2="400.50" y2="353.00" stroke="#fbc98e" stroke-width="1.0"/>
<rect x="315.50" y="345.20" width="44.20" height="15.6" fill="#fff" stroke="#fbc98e" stroke-width="1.0"/>
<line x1="340.40" y1="345.20" x2="340.40" y2="360.80" stroke="#fbc98e" stroke-width="1.0"/>
<line x1="306.70" y1="375.30" x2="320.30" y2="375.30" stroke="#dadcb6" stroke-width="1.0"/>
<line x1="347.80" y1="375.30" x2="361.40" y2="375.30" stroke="#dadcb6" stroke-width="1.0"/>
<rect x="320.30" y="367.50" width="27.50" height="15.6" fill="#fff" stroke="#dadcb6" stroke-width="1.0"/>
<line x1="336.40" y1="367.50" x2="336.40" y2="383.10" stroke="#dadcb6" stroke-width="1.0"/>
<line x1="288.90" y1="397.60" x2="330.50" y2="397.60" stroke="#a9d2ea" stroke-width="1.0"/>
<line x1="362.50" y1="397.60" x2="389.70" y2="397.60" stroke="#a9d2ea" stroke-width="1.0"/>
<rect x="330.50" y="389.80" width="32.00" height="15.6" fill="#fff" stroke="#a9d2ea" stroke-width="1.0"/>
<line x1="351.50" y1="389.80" x2="351.50" y2="405.40" stroke="#a9d2ea" stroke-width="1.0"/>
<line x1="265.60" y1="419.90" x2="304.40" y2="419.90" stroke="#8cb8dd" stroke-width="1.0"/>
<line x1="333.30" y1="419.90" x2="367.90" y2="419.90" stroke="#8cb8dd" stroke-width="1.0"/>
<rect x="304.40" y="412.10" width="28.90" height="15.6" fill="#fff" stroke="#8cb8dd" stroke-width="1.0"/>
<line x1="322.30" y1="412.10" x2="322.30" y2="427.70" stroke="#8cb8dd" stroke-width="1.0"/>
<line x1="235.30" y1="442.20" x2="262.30" y2="442.20" stroke="#6c8ec9" stroke-width="1.0"/>
<line x1="305.00" y1="442.20" x2="363.60" y2="442.20" stroke="#6c8ec9" stroke-width="1.0"/>
<rect x="262.30" y="434.40" width="42.70" height="15.6" fill="#fff" stroke="#6c8ec9" stroke-width="1.0"/>
<line x1="278.40" y1="434.40" x2="278.40" y2="450.00" stroke="#6c8ec9" stroke-width="1.0"/>
<line x1="236.20" y1="464.50" x2="251.50" y2="464.50" stroke="#6466b4" stroke-width="1.0"/>
<line x1="287.70" y1="464.50" x2="340.10" y2="464.50" stroke="#6466b4" stroke-width="1.0"/>
<rect x="251.50" y="456.70" width="36.20" height="15.6" fill="#fff" stroke="#6466b4" stroke-width="1.0"/>
<line x1="261.40" y1="456.70" x2="261.40" y2="472.30" stroke="#6466b4" stroke-width="1.0"/>
<rect x="226.80" y="250.8" width="192.50" height="226.5" fill="none" stroke="#555" stroke-width="1"/>
<line x1="228.30" y1="477.30" x2="228.30" y2="482.00" stroke="#555" stroke-width="1"/>
<text x="228.30" y="496.30" font-size="10.5" text-anchor="middle" textLength="5.5" lengthAdjust="spacingAndGlyphs">0</text>
<line x1="280.30" y1="477.30" x2="280.30" y2="482.00" stroke="#555" stroke-width="1"/>
<text x="280.30" y="496.30" font-size="10.5" text-anchor="middle" textLength="19.0" lengthAdjust="spacingAndGlyphs">0.25</text>
<line x1="332.30" y1="477.30" x2="332.30" y2="482.00" stroke="#555" stroke-width="1"/>
<text x="332.30" y="496.30" font-size="10.5" text-anchor="middle" textLength="19.5" lengthAdjust="spacingAndGlyphs">0.50</text>
<line x1="384.50" y1="477.30" x2="384.50" y2="482.00" stroke="#555" stroke-width="1"/>
<text x="384.50" y="496.30" font-size="10.5" text-anchor="middle" textLength="19.5" lengthAdjust="spacingAndGlyphs">0.75</text>
<text x="323.00" y="242.50" font-size="11.5" text-anchor="middle" textLength="36.5" lengthAdjust="spacingAndGlyphs">MAPLE</text>
<text x="322.60" y="514.60" font-size="12" text-anchor="middle" textLength="55.0" lengthAdjust="spacingAndGlyphs">Risk score</text>
<line x1="430.2" y1="263.80" x2="618.5" y2="263.80" stroke="#dcdcdc" stroke-width="1" stroke-dasharray="4 3.7"/>
<line x1="423.80" y1="263.80" x2="428.20" y2="263.80" stroke="#555" stroke-width="1"/>
<line x1="430.2" y1="286.10" x2="618.5" y2="286.10" stroke="#dcdcdc" stroke-width="1" stroke-dasharray="4 3.7"/>
<line x1="423.80" y1="286.10" x2="428.20" y2="286.10" stroke="#555" stroke-width="1"/>
<line x1="430.2" y1="308.40" x2="618.5" y2="308.40" stroke="#dcdcdc" stroke-width="1" stroke-dasharray="4 3.7"/>
<line x1="423.80" y1="308.40" x2="428.20" y2="308.40" stroke="#555" stroke-width="1"/>
<line x1="430.2" y1="330.70" x2="618.5" y2="330.70" stroke="#dcdcdc" stroke-width="1" stroke-dasharray="4 3.7"/>
<line x1="423.80" y1="330.70" x2="428.20" y2="330.70" stroke="#555" stroke-width="1"/>
<line x1="430.2" y1="353.00" x2="618.5" y2="353.00" stroke="#dcdcdc" stroke-width="1" stroke-dasharray="4 3.7"/>
<line x1="423.80" y1="353.00" x2="428.20" y2="353.00" stroke="#555" stroke-width="1"/>
<line x1="430.2" y1="375.30" x2="618.5" y2="375.30" stroke="#dcdcdc" stroke-width="1" stroke-dasharray="4 3.7"/>
<line x1="423.80" y1="375.30" x2="428.20" y2="375.30" stroke="#555" stroke-width="1"/>
<line x1="430.2" y1="397.60" x2="618.5" y2="397.60" stroke="#dcdcdc" stroke-width="1" stroke-dasharray="4 3.7"/>
<line x1="423.80" y1="397.60" x2="428.20" y2="397.60" stroke="#555" stroke-width="1"/>
<line x1="430.2" y1="419.90" x2="618.5" y2="419.90" stroke="#dcdcdc" stroke-width="1" stroke-dasharray="4 3.7"/>
<line x1="423.80" y1="419.90" x2="428.20" y2="419.90" stroke="#555" stroke-width="1"/>
<line x1="430.2" y1="442.20" x2="618.5" y2="442.20" stroke="#dcdcdc" stroke-width="1" stroke-dasharray="4 3.7"/>
<line x1="423.80" y1="442.20" x2="428.20" y2="442.20" stroke="#555" stroke-width="1"/>
<line x1="430.2" y1="464.50" x2="618.5" y2="464.50" stroke="#dcdcdc" stroke-width="1" stroke-dasharray="4 3.7"/>
<line x1="423.80" y1="464.50" x2="428.20" y2="464.50" stroke="#555" stroke-width="1"/>
<line x1="611.50" y1="256.20" x2="611.50" y2="271.40" stroke="#c9507a" stroke-width="2"/>
<line x1="447.30" y1="286.10" x2="470.50" y2="286.10" stroke="#d95f6e" stroke-width="1.0"/>
<line x1="514.70" y1="286.10" x2="574.70" y2="286.10" stroke="#d95f6e" stroke-width="1.0"/>
<rect x="470.50" y="278.30" width="44.20" height="15.6" fill="#fff" stroke="#d95f6e" stroke-width="1.0"/>
<line x1="482.40" y1="278.30" x2="482.40" y2="293.90" stroke="#d95f6e" stroke-width="1.0"/>
<line x1="583.80" y1="308.40" x2="600.50" y2="308.40" stroke="#ee7b6a" stroke-width="1.0"/>
<line x1="612.10" y1="308.40" x2="612.10" y2="308.40" stroke="#ee7b6a" stroke-width="1.0"/>
<rect x="600.50" y="300.60" width="11.60" height="15.6" fill="#fff" stroke="#ee7b6a" stroke-width="1.0"/>
<line x1="611.50" y1="300.60" x2="611.50" y2="316.20" stroke="#ee7b6a" stroke-width="1.0"/>
<line x1="458.00" y1="330.70" x2="518.60" y2="330.70" stroke="#f4a275" stroke-width="1.0"/>
<line x1="580.60" y1="330.70" x2="611.50" y2="330.70" stroke="#f4a275" stroke-width="1.0"/>
<rect x="518.60" y="322.90" width="62.00" height="15.6" fill="#fff" stroke="#f4a275" stroke-width="1.0"/>
<line x1="549.50" y1="322.90" x2="549.50" y2="338.50" stroke="#f4a275" stroke-width="1.0"/>
<line x1="549.20" y1="353.00" x2="586.30" y2="353.00" stroke="#fbc98e" stroke-width="1.0"/>
<line x1="612.00" y1="353.00" x2="612.00" y2="353.00" stroke="#fbc98e" stroke-width="1.0"/>
<rect x="586.30" y="345.20" width="25.70" height="15.6" fill="#fff" stroke="#fbc98e" stroke-width="1.0"/>
<line x1="607.50" y1="345.20" x2="607.50" y2="360.80" stroke="#fbc98e" stroke-width="1.0"/>
<line x1="452.10" y1="375.30" x2="499.10" y2="375.30" stroke="#dadcb6" stroke-width="1.0"/>
<line x1="550.60" y1="375.30" x2="609.30" y2="375.30" stroke="#dadcb6" stroke-width="1.0"/>
<rect x="499.10" y="367.50" width="51.50" height="15.6" fill="#fff" stroke="#dadcb6" stroke-width="1.0"/>
<line x1="514.40" y1="367.50" x2="514.40" y2="383.10" stroke="#dadcb6" stroke-width="1.0"/>
<line x1="436.50" y1="397.60" x2="466.20" y2="397.60" stroke="#a9d2ea" stroke-width="1.0"/>
<line x1="519.20" y1="397.60" x2="563.90" y2="397.60" stroke="#a9d2ea" stroke-width="1.0"/>
<rect x="466.20" y="389.80" width="53.00" height="15.6" fill="#fff" stroke="#a9d2ea" stroke-width="1.0"/>
<line x1="487.50" y1="389.80" x2="487.50" y2="405.40" stroke="#a9d2ea" stroke-width="1.0"/>
<line x1="451.20" y1="419.90" x2="472.50" y2="419.90" stroke="#8cb8dd" stroke-width="1.0"/>
<line x1="529.40" y1="419.90" x2="604.70" y2="419.90" stroke="#8cb8dd" stroke-width="1.0"/>
<rect x="472.50" y="412.10" width="56.90" height="15.6" fill="#fff" stroke="#8cb8dd" stroke-width="1.0"/>
<line x1="503.60" y1="412.10" x2="503.60" y2="427.70" stroke="#8cb8dd" stroke-width="1.0"/>
<line x1="444.10" y1="442.20" x2="495.40" y2="442.20" stroke="#6c8ec9" stroke-width="1.0"/>
<line x1="557.70" y1="442.20" x2="612.10" y2="442.20" stroke="#6c8ec9" stroke-width="1.0"/>
<rect x="495.40" y="434.40" width="62.30" height="15.6" fill="#fff" stroke="#6c8ec9" stroke-width="1.0"/>
<line x1="520.90" y1="434.40" x2="520.90" y2="450.00" stroke="#6c8ec9" stroke-width="1.0"/>
<line x1="448.40" y1="464.50" x2="493.10" y2="464.50" stroke="#6466b4" stroke-width="1.0"/>
<line x1="532.50" y1="464.50" x2="578.70" y2="464.50" stroke="#6466b4" stroke-width="1.0"/>
<rect x="493.10" y="456.70" width="39.40" height="15.6" fill="#fff" stroke="#6466b4" stroke-width="1.0"/>
<line x1="512.10" y1="456.70" x2="512.10" y2="472.30" stroke="#6466b4" stroke-width="1.0"/>
<rect x="428.20" y="250.8" width="192.30" height="226.5" fill="none" stroke="#555" stroke-width="1"/>
<line x1="432.20" y1="477.30" x2="432.20" y2="482.00" stroke="#555" stroke-width="1"/>
<text x="432.20" y="496.30" font-size="10.5" text-anchor="middle" textLength="5.5" lengthAdjust="spacingAndGlyphs">0</text>
<line x1="477.20" y1="477.30" x2="477.20" y2="482.00" stroke="#555" stroke-width="1"/>
<text x="477.20" y="496.30" font-size="10.5" text-anchor="middle" textLength="19.0" lengthAdjust="spacingAndGlyphs">0.25</text>
<line x1="522.10" y1="477.30" x2="522.10" y2="482.00" stroke="#555" stroke-width="1"/>
<text x="522.10" y="496.30" font-size="10.5" text-anchor="middle" textLength="19.5" lengthAdjust="spacingAndGlyphs">0.50</text>
<line x1="567.00" y1="477.30" x2="567.00" y2="482.00" stroke="#555" stroke-width="1"/>
<text x="567.00" y="496.30" font-size="10.5" text-anchor="middle" textLength="19.5" lengthAdjust="spacingAndGlyphs">0.75</text>
<line x1="612.00" y1="477.30" x2="612.00" y2="482.00" stroke="#555" stroke-width="1"/>
<text x="612.00" y="496.30" font-size="10.5" text-anchor="middle" textLength="19.5" lengthAdjust="spacingAndGlyphs">1.00</text>
<text x="523.50" y="242.50" font-size="11.5" text-anchor="middle" textLength="60.0" lengthAdjust="spacingAndGlyphs">Cox model</text>
<text x="524.30" y="514.60" font-size="12" text-anchor="middle" textLength="55.0" lengthAdjust="spacingAndGlyphs">Risk score</text>
<rect x="93.50" y="555.93" width="20.85" height="106.37" fill="#f2a05d"/>
<rect x="98.50" y="551.20" width="10.80" height="9.30" rx="3" fill="#e6e6e6"/>
<rect x="97.90" y="550.30" width="12.00" height="10.60" rx="3" fill="#c2c2c2"/>
<line x1="103.90" y1="552.80" x2="103.90" y2="559.40" stroke="#222" stroke-width="1.3"/>
<line x1="101.10" y1="552.80" x2="106.70" y2="552.80" stroke="#222" stroke-width="1.3"/>
<line x1="101.10" y1="559.40" x2="106.70" y2="559.40" stroke="#222" stroke-width="1.3"/>
<rect x="114.30" y="573.77" width="20.85" height="88.53" fill="#b97fbc"/>
<rect x="119.30" y="565.50" width="10.80" height="15.90" rx="3" fill="#e6e6e6"/>
<rect x="118.70" y="564.50" width="12.00" height="17.30" rx="3" fill="#c2c2c2"/>
<line x1="124.70" y1="567.00" x2="124.70" y2="580.30" stroke="#222" stroke-width="1.3"/>
<line x1="121.90" y1="567.00" x2="127.50" y2="567.00" stroke="#222" stroke-width="1.3"/>
<line x1="121.90" y1="580.30" x2="127.50" y2="580.30" stroke="#222" stroke-width="1.3"/>
<rect x="135.10" y="609.20" width="20.85" height="53.10" fill="#7bafd4"/>
<rect x="139.20" y="606.00" width="12.60" height="5.90" rx="2.95" fill="#c4c4c4"/>
<line x1="145.50" y1="607.00" x2="145.50" y2="610.90" stroke="#222" stroke-width="1.3"/>
<line x1="142.70" y1="607.00" x2="148.30" y2="607.00" stroke="#222" stroke-width="1.3"/>
<line x1="142.70" y1="610.90" x2="148.30" y2="610.90" stroke="#222" stroke-width="1.3"/>
<rect x="162.40" y="564.27" width="20.85" height="98.03" fill="#f2a05d"/>
<rect x="167.40" y="556.80" width="10.80" height="14.90" rx="3" fill="#e6e6e6"/>
<rect x="166.80" y="556.50" width="12.00" height="15.20" rx="3" fill="#c2c2c2"/>
<line x1="172.80" y1="559.00" x2="172.80" y2="570.20" stroke="#222" stroke-width="1.3"/>
<line x1="170.00" y1="559.00" x2="175.60" y2="559.00" stroke="#222" stroke-width="1.3"/>
<line x1="170.00" y1="570.20" x2="175.60" y2="570.20" stroke="#222" stroke-width="1.3"/>
<rect x="183.20" y="645.45" width="20.85" height="16.85" fill="#b97fbc"/>
<rect x="188.20" y="636.70" width="10.80" height="18.60" rx="3" fill="#e6e6e6"/>
<rect x="187.60" y="635.90" width="12.00" height="18.90" rx="3" fill="#c2c2c2"/>
<line x1="193.60" y1="638.40" x2="193.60" y2="653.30" stroke="#222" stroke-width="1.3"/>
<line x1="190.80" y1="638.40" x2="196.40" y2="638.40" stroke="#222" stroke-width="1.3"/>
<line x1="190.80" y1="653.30" x2="196.40" y2="653.30" stroke="#222" stroke-width="1.3"/>
<rect x="204.00" y="609.20" width="20.85" height="53.10" fill="#7bafd4"/>
<rect x="208.10" y="606.70" width="12.60" height="4.40" rx="2.20" fill="#c4c4c4"/>
<line x1="214.40" y1="607.70" x2="214.40" y2="610.10" stroke="#222" stroke-width="1.3"/>
<line x1="211.60" y1="607.70" x2="217.20" y2="607.70" stroke="#222" stroke-width="1.3"/>
<line x1="211.60" y1="610.10" x2="217.20" y2="610.10" stroke="#222" stroke-width="1.3"/>
<rect x="231.40" y="572.72" width="20.85" height="89.58" fill="#f2a05d"/>
<rect x="236.40" y="562.30" width="10.80" height="20.30" rx="3" fill="#e6e6e6"/>
<rect x="235.80" y="562.70" width="12.00" height="19.70" rx="3" fill="#c2c2c2"/>
<line x1="241.80" y1="565.20" x2="241.80" y2="580.90" stroke="#222" stroke-width="1.3"/>
<line x1="239.00" y1="565.20" x2="244.60" y2="565.20" stroke="#222" stroke-width="1.3"/>
<line x1="239.00" y1="580.90" x2="244.60" y2="580.90" stroke="#222" stroke-width="1.3"/>
<rect x="252.20" y="635.02" width="20.85" height="27.28" fill="#b97fbc"/>
<rect x="257.20" y="619.30" width="10.80" height="29.80" rx="3" fill="#e6e6e6"/>
<rect x="256.60" y="621.00" width="12.00" height="26.40" rx="3" fill="#c2c2c2"/>
<line x1="262.60" y1="623.50" x2="262.60" y2="645.90" stroke="#222" stroke-width="1.3"/>
<line x1="259.80" y1="623.50" x2="265.40" y2="623.50" stroke="#222" stroke-width="1.3"/>
<line x1="259.80" y1="645.90" x2="265.40" y2="645.90" stroke="#222" stroke-width="1.3"/>
<rect x="273.00" y="609.20" width="20.85" height="53.10" fill="#7bafd4"/>
<rect x="277.10" y="606.70" width="12.60" height="4.40" rx="2.20" fill="#c4c4c4"/>
<line x1="283.40" y1="607.70" x2="283.40" y2="610.10" stroke="#222" stroke-width="1.3"/>
<line x1="280.60" y1="607.70" x2="286.20" y2="607.70" stroke="#222" stroke-width="1.3"/>
<line x1="280.60" y1="610.10" x2="286.20" y2="610.10" stroke="#222" stroke-width="1.3"/>
<line x1="83.50" y1="546.10" x2="304.30" y2="546.10" stroke="#777" stroke-width="1"/>
<line x1="304.30" y1="546.10" x2="304.30" y2="662.30" stroke="#777" stroke-width="1"/>
<line x1="83.50" y1="546.10" x2="83.50" y2="662.30" stroke="#555" stroke-width="1"/>
<line x1="83.50" y1="662.30" x2="304.30" y2="662.30" stroke="#555" stroke-width="1"/>
<line x1="79.10" y1="551.30" x2="83.50" y2="551.30" stroke="#555" stroke-width="1"/>
<text x="72.10" y="554.90" font-size="10" text-anchor="end" textLength="20.3" lengthAdjust="spacingAndGlyphs">1.00</text>
<line x1="79.10" y1="580.30" x2="83.50" y2="580.30" stroke="#555" stroke-width="1"/>
<text x="72.10" y="583.90" font-size="10" text-anchor="end" textLength="20.3" lengthAdjust="spacingAndGlyphs">0.75</text>
<line x1="79.10" y1="609.30" x2="83.50" y2="609.30" stroke="#555" stroke-width="1"/>
<text x="72.10" y="612.90" font-size="10" text-anchor="end" textLength="20.3" lengthAdjust="spacingAndGlyphs">0.50</text>
<line x1="79.10" y1="638.20" x2="83.50" y2="638.20" stroke="#555" stroke-width="1"/>
<text x="72.10" y="641.80" font-size="10" text-anchor="end" textLength="20.3" lengthAdjust="spacingAndGlyphs">0.25</text>
<line x1="124.20" y1="662.30" x2="124.20" y2="667.30" stroke="#555" stroke-width="1"/>
<text x="130.70" y="677.30" font-size="10" text-anchor="end" textLength="18.5" lengthAdjust="spacingAndGlyphs" transform="rotate(-45 130.70 677.30)">T2D</text>
<line x1="193.40" y1="662.30" x2="193.40" y2="667.30" stroke="#555" stroke-width="1"/>
<text x="199.90" y="677.30" font-size="10" text-anchor="end" textLength="23" lengthAdjust="spacingAndGlyphs" transform="rotate(-45 199.90 677.30)">PreD</text>
<line x1="262.60" y1="662.30" x2="262.60" y2="667.30" stroke="#555" stroke-width="1"/>
<text x="269.10" y="677.30" font-size="10" text-anchor="end" textLength="15" lengthAdjust="spacingAndGlyphs" transform="rotate(-45 269.10 677.30)">SIR</text>
<text x="40.80" y="604.50" font-size="11.5" text-anchor="middle" textLength="41.0" lengthAdjust="spacingAndGlyphs" transform="rotate(-90 40.80 604.50)">AUROC</text>
<text x="193.80" y="711.50" font-size="12.2" text-anchor="middle" textLength="76.5" lengthAdjust="spacingAndGlyphs">Disease status</text>
<rect x="373.70" y="564.55" width="21.50" height="94.25" fill="#f2a05d"/>
<rect x="378.85" y="549.30" width="11.16" height="31.30" rx="3" fill="#e6e6e6"/>
<rect x="378.23" y="550.80" width="12.40" height="26.90" rx="3" fill="#c2c2c2"/>
<line x1="384.43" y1="553.30" x2="384.43" y2="576.20" stroke="#222" stroke-width="1.3"/>
<line x1="381.62" y1="553.30" x2="387.23" y2="553.30" stroke="#222" stroke-width="1.3"/>
<line x1="381.62" y1="576.20" x2="387.23" y2="576.20" stroke="#222" stroke-width="1.3"/>
<rect x="395.15" y="629.96" width="21.50" height="28.84" fill="#b97fbc"/>
<rect x="400.61" y="614.50" width="10.53" height="26.30" rx="3" fill="#e6e6e6"/>
<rect x="400.02" y="616.70" width="11.70" height="23.30" rx="3" fill="#c2c2c2"/>
<line x1="405.88" y1="619.20" x2="405.88" y2="638.50" stroke="#222" stroke-width="1.3"/>
<line x1="403.07" y1="619.20" x2="408.68" y2="619.20" stroke="#222" stroke-width="1.3"/>
<line x1="403.07" y1="638.50" x2="408.68" y2="638.50" stroke="#222" stroke-width="1.3"/>
<rect x="416.60" y="646.65" width="21.50" height="12.15" fill="#7bafd4"/>
<rect x="420.82" y="644.30" width="13.00" height="5.20" rx="2.60" fill="#c4c4c4"/>
<line x1="427.32" y1="645.30" x2="427.32" y2="648.30" stroke="#222" stroke-width="1.3"/>
<line x1="424.52" y1="645.30" x2="430.12" y2="645.30" stroke="#222" stroke-width="1.3"/>
<line x1="424.52" y1="648.30" x2="430.12" y2="648.30" stroke="#222" stroke-width="1.3"/>
<rect x="444.90" y="594.99" width="21.50" height="63.81" fill="#f2a05d"/>
<rect x="450.05" y="569.80" width="11.16" height="42.20" rx="3" fill="#e6e6e6"/>
<rect x="449.43" y="576.70" width="12.40" height="32.30" rx="3" fill="#c2c2c2"/>
<line x1="455.62" y1="579.20" x2="455.62" y2="607.50" stroke="#222" stroke-width="1.3"/>
<line x1="452.82" y1="579.20" x2="458.43" y2="579.20" stroke="#222" stroke-width="1.3"/>
<line x1="452.82" y1="607.50" x2="458.43" y2="607.50" stroke="#222" stroke-width="1.3"/>
<rect x="466.35" y="651.86" width="21.50" height="6.94" fill="#b97fbc"/>
<rect x="471.07" y="648.00" width="12.00" height="7.50" rx="3.75" fill="#c4c4c4"/>
<line x1="477.07" y1="649.20" x2="477.07" y2="654.10" stroke="#222" stroke-width="1.3"/>
<line x1="474.27" y1="649.20" x2="479.88" y2="649.20" stroke="#222" stroke-width="1.3"/>
<line x1="474.27" y1="654.10" x2="479.88" y2="654.10" stroke="#222" stroke-width="1.3"/>
<rect x="487.80" y="646.65" width="21.50" height="12.15" fill="#7bafd4"/>
<rect x="492.02" y="644.30" width="13.00" height="5.20" rx="2.60" fill="#c4c4c4"/>
<line x1="498.52" y1="645.30" x2="498.52" y2="648.30" stroke="#222" stroke-width="1.3"/>
<line x1="495.72" y1="645.30" x2="501.32" y2="645.30" stroke="#222" stroke-width="1.3"/>
<line x1="495.72" y1="648.30" x2="501.32" y2="648.30" stroke="#222" stroke-width="1.3"/>
<rect x="516.40" y="606.33" width="21.50" height="52.47" fill="#f2a05d"/>
<rect x="521.54" y="584.70" width="11.16" height="40.90" rx="3" fill="#e6e6e6"/>
<rect x="520.92" y="590.10" width="12.40" height="30.80" rx="3" fill="#c2c2c2"/>
<line x1="527.12" y1="592.60" x2="527.12" y2="619.40" stroke="#222" stroke-width="1.3"/>
<line x1="524.33" y1="592.60" x2="529.92" y2="592.60" stroke="#222" stroke-width="1.3"/>
<line x1="524.33" y1="619.40" x2="529.92" y2="619.40" stroke="#222" stroke-width="1.3"/>
<rect x="537.85" y="647.19" width="21.50" height="11.61" fill="#b97fbc"/>
<rect x="543.31" y="633.00" width="10.53" height="22.00" rx="3" fill="#e6e6e6"/>
<rect x="542.73" y="635.00" width="11.70" height="19.40" rx="3" fill="#c2c2c2"/>
<line x1="548.58" y1="637.50" x2="548.58" y2="652.90" stroke="#222" stroke-width="1.3"/>
<line x1="545.78" y1="637.50" x2="551.38" y2="637.50" stroke="#222" stroke-width="1.3"/>
<line x1="545.78" y1="652.90" x2="551.38" y2="652.90" stroke="#222" stroke-width="1.3"/>
<rect x="559.30" y="646.65" width="21.50" height="12.15" fill="#7bafd4"/>
<rect x="563.52" y="644.30" width="13.00" height="5.20" rx="2.60" fill="#c4c4c4"/>
<line x1="570.02" y1="645.30" x2="570.02" y2="648.30" stroke="#222" stroke-width="1.3"/>
<line x1="567.23" y1="645.30" x2="572.82" y2="645.30" stroke="#222" stroke-width="1.3"/>
<line x1="567.23" y1="648.30" x2="572.82" y2="648.30" stroke="#222" stroke-width="1.3"/>
<line x1="363.50" y1="546.30" x2="591.80" y2="546.30" stroke="#777" stroke-width="1"/>
<line x1="591.80" y1="546.30" x2="591.80" y2="664.00" stroke="#888" stroke-width="1"/>
<line x1="363.50" y1="546.30" x2="363.50" y2="664.00" stroke="#bbb" stroke-width="1"/>
<line x1="363.50" y1="664.00" x2="591.80" y2="664.00" stroke="#bbb" stroke-width="1"/>
<line x1="359.10" y1="552.00" x2="363.50" y2="552.00" stroke="#555" stroke-width="1"/>
<text x="354.00" y="555.60" font-size="10" text-anchor="end" textLength="15.0" lengthAdjust="spacingAndGlyphs">0.8</text>
<line x1="359.10" y1="578.70" x2="363.50" y2="578.70" stroke="#555" stroke-width="1"/>
<text x="354.00" y="582.30" font-size="10" text-anchor="end" textLength="15.0" lengthAdjust="spacingAndGlyphs">0.6</text>
<line x1="359.10" y1="605.40" x2="363.50" y2="605.40" stroke="#555" stroke-width="1"/>
<text x="354.00" y="609.00" font-size="10" text-anchor="end" textLength="15.0" lengthAdjust="spacingAndGlyphs">0.4</text>
<line x1="359.10" y1="632.10" x2="363.50" y2="632.10" stroke="#555" stroke-width="1"/>
<text x="354.00" y="635.70" font-size="10" text-anchor="end" textLength="15.0" lengthAdjust="spacingAndGlyphs">0.2</text>
<line x1="359.10" y1="658.80" x2="363.50" y2="658.80" stroke="#555" stroke-width="1"/>
<text x="354.00" y="662.40" font-size="10" text-anchor="end" textLength="6.0" lengthAdjust="spacingAndGlyphs">0</text>
<line x1="405.50" y1="664.00" x2="405.50" y2="669.00" stroke="#555" stroke-width="1"/>
<text x="412.00" y="677.30" font-size="10" text-anchor="end" textLength="18.5" lengthAdjust="spacingAndGlyphs" transform="rotate(-45 412.00 677.30)">T2D</text>
<line x1="477.40" y1="664.00" x2="477.40" y2="669.00" stroke="#555" stroke-width="1"/>
<text x="483.90" y="677.30" font-size="10" text-anchor="end" textLength="23" lengthAdjust="spacingAndGlyphs" transform="rotate(-45 483.90 677.30)">PreD</text>
<line x1="548.60" y1="664.00" x2="548.60" y2="669.00" stroke="#555" stroke-width="1"/>
<text x="555.10" y="677.30" font-size="10" text-anchor="end" textLength="15" lengthAdjust="spacingAndGlyphs" transform="rotate(-45 555.10 677.30)">SIR</text>
<text x="327.40" y="605.80" font-size="11.5" text-anchor="middle" textLength="37.7" lengthAdjust="spacingAndGlyphs" transform="rotate(-90 327.40 605.80)">AUPRC</text>
<text x="477.40" y="713.20" font-size="12.2" text-anchor="middle" textLength="77.2" lengthAdjust="spacingAndGlyphs">Disease status</text>
<rect x="608.00" y="583.20" width="10.80" height="10.80" fill="#7bafd4"/>
<text x="624.70" y="592.80" font-size="12" textLength="45.5" lengthAdjust="spacingAndGlyphs">Random</text>
<rect x="608.00" y="601.80" width="10.80" height="10.80" fill="#b97fbc"/>
<text x="624.70" y="611.40" font-size="12" textLength="60.0" lengthAdjust="spacingAndGlyphs">Cox model</text>
<rect x="608.00" y="620.40" width="10.80" height="10.80" fill="#f2a05d"/>
<text x="624.70" y="630.00" font-size="12" textLength="36.5" lengthAdjust="spacingAndGlyphs">MAPLE</text>
<line x1="375.50" y1="745.20" x2="610.50" y2="745.20" stroke="#dcdcdc" stroke-width="1" stroke-dasharray="3.6 4.3"/>
<line x1="375.50" y1="763.83" x2="610.50" y2="763.83" stroke="#dcdcdc" stroke-width="1" stroke-dasharray="3.6 4.3"/>
<line x1="375.50" y1="782.46" x2="610.50" y2="782.46" stroke="#dcdcdc" stroke-width="1" stroke-dasharray="3.6 4.3"/>
<line x1="375.50" y1="801.09" x2="610.50" y2="801.09" stroke="#dcdcdc" stroke-width="1" stroke-dasharray="3.6 4.3"/>
<line x1="375.50" y1="819.72" x2="610.50" y2="819.72" stroke="#dcdcdc" stroke-width="1" stroke-dasharray="3.6 4.3"/>
<line x1="375.50" y1="838.35" x2="610.50" y2="838.35" stroke="#dcdcdc" stroke-width="1" stroke-dasharray="3.6 4.3"/>
<line x1="375.50" y1="856.98" x2="610.50" y2="856.98" stroke="#dcdcdc" stroke-width="1" stroke-dasharray="3.6 4.3"/>
<line x1="375.50" y1="875.61" x2="610.50" y2="875.61" stroke="#dcdcdc" stroke-width="1" stroke-dasharray="3.6 4.3"/>
<line x1="375.50" y1="894.24" x2="610.50" y2="894.24" stroke="#dcdcdc" stroke-width="1" stroke-dasharray="3.6 4.3"/>
<line x1="375.50" y1="912.87" x2="610.50" y2="912.87" stroke="#dcdcdc" stroke-width="1" stroke-dasharray="3.6 4.3"/>
<line x1="375.50" y1="931.50" x2="610.50" y2="931.50" stroke="#dcdcdc" stroke-width="1" stroke-dasharray="3.6 4.3"/>
<line x1="375.50" y1="950.13" x2="610.50" y2="950.13" stroke="#dcdcdc" stroke-width="1" stroke-dasharray="3.6 4.3"/>
<line x1="375.50" y1="968.76" x2="610.50" y2="968.76" stroke="#dcdcdc" stroke-width="1" stroke-dasharray="3.6 4.3"/>
<rect x="384.10" y="737.80" width="217.50" height="14.80" fill="#1f74b4"/>
<rect x="384.10" y="756.43" width="71.50" height="14.80" fill="#3380bf"/>
<rect x="384.10" y="775.06" width="65.70" height="14.80" fill="#3f87c1"/>
<rect x="384.10" y="793.69" width="55.20" height="14.80" fill="#5091c5"/>
<rect x="384.10" y="812.32" width="54.60" height="14.80" fill="#5f99c9"/>
<rect x="384.10" y="830.95" width="54.10" height="14.80" fill="#6a9fca"/>
<rect x="384.10" y="849.58" width="49.70" height="14.80" fill="#6ea3cc"/>
<rect x="384.10" y="868.21" width="48.80" height="14.80" fill="#7eaed4"/>
<rect x="384.10" y="886.84" width="48.80" height="14.80" fill="#7eaed4"/>
<rect x="384.10" y="905.47" width="45.00" height="14.80" fill="#a6cde2"/>
<rect x="384.10" y="924.10" width="45.00" height="14.80" fill="#a6cde2"/>
<rect x="384.10" y="942.73" width="45.00" height="14.80" fill="#a6cde2"/>
<rect x="384.10" y="961.36" width="45.00" height="14.80" fill="#a6cde2"/>
<line x1="421.2" y1="734.3" x2="421.2" y2="980.3" stroke="#808080" stroke-width="1.4" stroke-dasharray="3.2 4"/>
<line x1="373.50" y1="734.30" x2="612.50" y2="734.30" stroke="#777" stroke-width="1"/>
<line x1="612.50" y1="734.30" x2="612.50" y2="980.30" stroke="#777" stroke-width="1"/>
<line x1="373.50" y1="734.30" x2="373.50" y2="980.30" stroke="#555" stroke-width="1"/>
<line x1="373.50" y1="980.30" x2="612.50" y2="980.30" stroke="#555" stroke-width="1"/>
<line x1="368.90" y1="745.20" x2="373.50" y2="745.20" stroke="#555" stroke-width="1"/>
<line x1="368.90" y1="763.83" x2="373.50" y2="763.83" stroke="#555" stroke-width="1"/>
<line x1="368.90" y1="782.46" x2="373.50" y2="782.46" stroke="#555" stroke-width="1"/>
<line x1="368.90" y1="801.09" x2="373.50" y2="801.09" stroke="#555" stroke-width="1"/>
<line x1="368.90" y1="819.72" x2="373.50" y2="819.72" stroke="#555" stroke-width="1"/>
<line x1="368.90" y1="838.35" x2="373.50" y2="838.35" stroke="#555" stroke-width="1"/>
<line x1="368.90" y1="856.98" x2="373.50" y2="856.98" stroke="#555" stroke-width="1"/>
<line x1="368.90" y1="875.61" x2="373.50" y2="875.61" stroke="#555" stroke-width="1"/>
<line x1="368.90" y1="894.24" x2="373.50" y2="894.24" stroke="#555" stroke-width="1"/>
<line x1="368.90" y1="912.87" x2="373.50" y2="912.87" stroke="#555" stroke-width="1"/>
<line x1="368.90" y1="931.50" x2="373.50" y2="931.50" stroke="#555" stroke-width="1"/>
<line x1="368.90" y1="950.13" x2="373.50" y2="950.13" stroke="#555" stroke-width="1"/>
<line x1="368.90" y1="968.76" x2="373.50" y2="968.76" stroke="#555" stroke-width="1"/>
<text x="362.40" y="748.90" font-size="10.5" text-anchor="end" textLength="287.8" lengthAdjust="spacingAndGlyphs">Cell–cell adhesion via plasma-membrane adhesion molecules</text>
<text x="362.40" y="767.53" font-size="10.5" text-anchor="end" textLength="99.4" lengthAdjust="spacingAndGlyphs">Synapse organization</text>
<text x="362.40" y="786.16" font-size="10.5" text-anchor="end" textLength="212.8" lengthAdjust="spacingAndGlyphs">Modulation of chemical synaptic transmission</text>
<text x="362.40" y="804.79" font-size="10.5" text-anchor="end" textLength="39.7" lengthAdjust="spacingAndGlyphs">Learning</text>
<text x="362.40" y="823.42" font-size="10.5" text-anchor="end" textLength="76.0" lengthAdjust="spacingAndGlyphs">Insulin secretion</text>
<text x="362.40" y="842.05" font-size="10.5" text-anchor="end" textLength="155.8" lengthAdjust="spacingAndGlyphs">Negative regulation of autophagy</text>
<text x="362.40" y="860.68" font-size="10.5" text-anchor="end" textLength="95.4" lengthAdjust="spacingAndGlyphs">Canonical glycolysis</text>
<text x="362.40" y="879.31" font-size="10.5" text-anchor="end" textLength="98.8" lengthAdjust="spacingAndGlyphs">Glucose homeostasis</text>
<text x="362.40" y="897.94" font-size="10.5" text-anchor="end" textLength="99.4" lengthAdjust="spacingAndGlyphs">Locomotory behavior</text>
<text x="362.40" y="916.57" font-size="10.5" text-anchor="end" textLength="160.6" lengthAdjust="spacingAndGlyphs">Insulin receptor signaling pathway</text>
<text x="362.40" y="935.20" font-size="10.5" text-anchor="end" textLength="125.6" lengthAdjust="spacingAndGlyphs">Striated muscle adaptation</text>
<text x="362.40" y="953.83" font-size="10.5" text-anchor="end" textLength="85.7" lengthAdjust="spacingAndGlyphs">Lipid translocation</text>
<text x="362.40" y="972.46" font-size="10.5" text-anchor="end" textLength="106.2" lengthAdjust="spacingAndGlyphs">Phospholipid transport</text>
<line x1="384.10" y1="980.30" x2="384.10" y2="985.00" stroke="#555" stroke-width="1"/>
<text x="384.10" y="998.80" font-size="10.5" text-anchor="middle">0</text>
<line x1="441.00" y1="980.30" x2="441.00" y2="985.00" stroke="#555" stroke-width="1"/>
<text x="441.00" y="998.80" font-size="10.5" text-anchor="middle">2</text>
<line x1="497.90" y1="980.30" x2="497.90" y2="985.00" stroke="#555" stroke-width="1"/>
<text x="497.90" y="998.80" font-size="10.5" text-anchor="middle">4</text>
<line x1="554.80" y1="980.30" x2="554.80" y2="985.00" stroke="#555" stroke-width="1"/>
<text x="554.80" y="998.80" font-size="10.5" text-anchor="middle">6</text>
<line x1="611.70" y1="980.30" x2="611.70" y2="985.00" stroke="#555" stroke-width="1"/>
<text x="611.70" y="998.80" font-size="10.5" text-anchor="middle">8</text>
<text x="56.00" y="857.20" font-size="11.5" text-anchor="middle" textLength="104.0" lengthAdjust="spacingAndGlyphs" transform="rotate(-90 56.00 857.20)">Enriched GO terms</text>
<text x="428" y="1015.3" font-size="12">−log<tspan font-size="8.5" dy="3">10</tspan><tspan dy="-3">(adjusted </tspan><tspan font-style="italic">P</tspan> value)</text></svg></body></html>
